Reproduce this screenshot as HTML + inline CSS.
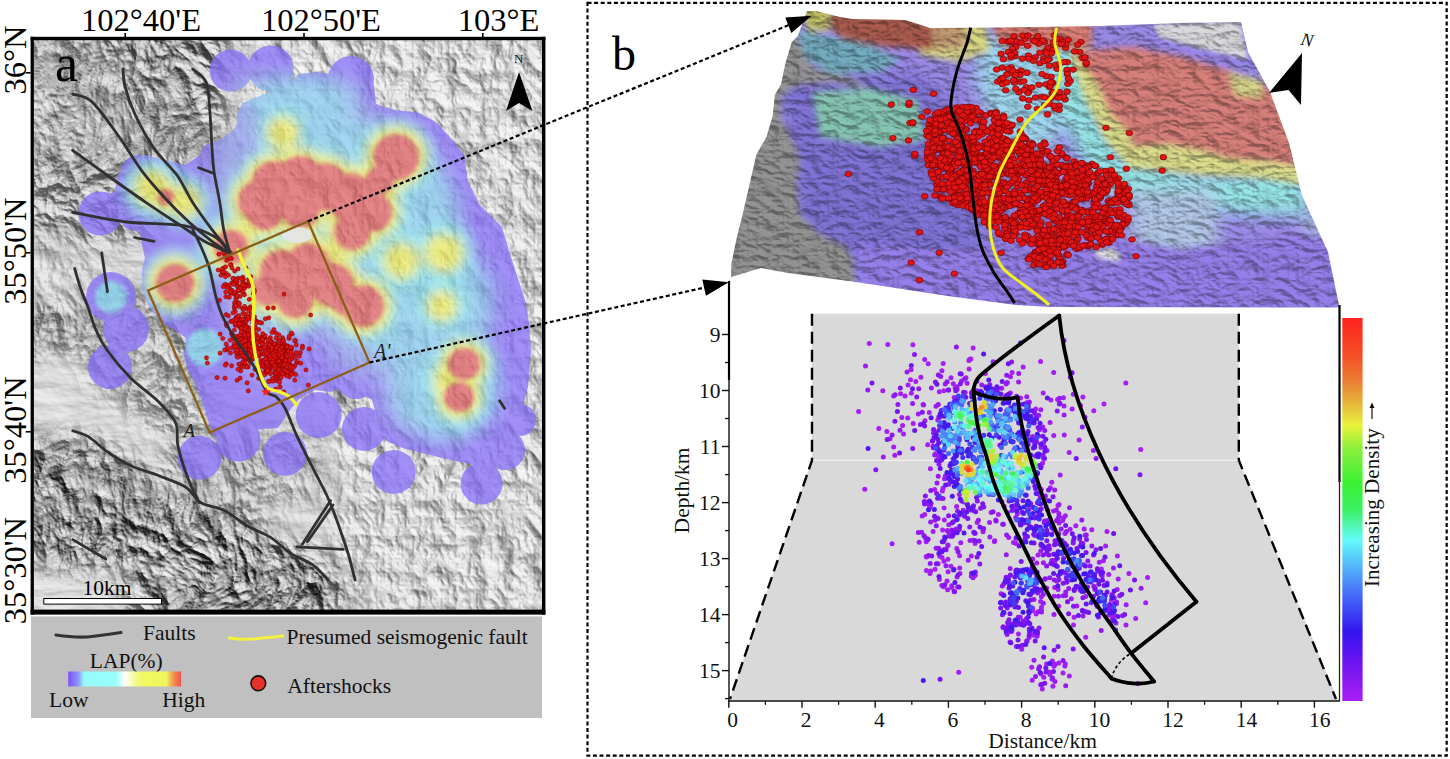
<!DOCTYPE html>
<html><head><meta charset="utf-8"><style>
html,body{margin:0;padding:0;background:#fff;width:1450px;height:759px;overflow:hidden}
svg{display:block}
</style></head><body>
<svg width="1450" height="759" viewBox="0 0 1450 759">
<defs><clipPath id="mapclip"><rect x="34" y="40" width="508" height="570"/></clipPath><filter id="hs" x="0" y="0" width="100%" height="100%" color-interpolation-filters="sRGB">
  <feTurbulence type="turbulence" baseFrequency="0.035 0.028" numOctaves="4" seed="9" result="n"/>
  <feColorMatrix in="n" type="matrix" values="0 0 0 0 0  0 0 0 0 0  0 0 0 0 0  0 0 0 -1.6 1.2" result="inv"/>
  <feDiffuseLighting in="inv" surfaceScale="3.2" diffuseConstant="1.1" lighting-color="#fff" result="l">
    <feDistantLight azimuth="315" elevation="48"/>
  </feDiffuseLighting>
  <feColorMatrix type="matrix" values="0.33 0.33 0.33 0 0  0.33 0.33 0.33 0 0  0.33 0.33 0.33 0 0  0 0 0 0 1"/>
</filter><filter id="hsl" x="0" y="0" width="100%" height="100%" color-interpolation-filters="sRGB">
  <feTurbulence type="fractalNoise" baseFrequency="0.02 0.06" numOctaves="4" seed="11" result="n"/>
  <feDiffuseLighting in="n" surfaceScale="3" diffuseConstant="1.0" lighting-color="#fff" result="l">
    <feDistantLight azimuth="315" elevation="60"/>
  </feDiffuseLighting>
  <feColorMatrix type="matrix" values="0.33 0.33 0.33 0 0  0.33 0.33 0.33 0 0  0.33 0.33 0.33 0 0  0 0 0 0 1"/>
</filter><filter id="b6" x="-30%" y="-30%" width="160%" height="160%"><feGaussianBlur stdDeviation="6"/></filter><filter id="b10" x="-30%" y="-30%" width="160%" height="160%"><feGaussianBlur stdDeviation="10"/></filter><filter id="b20" x="-30%" y="-30%" width="160%" height="160%"><feGaussianBlur stdDeviation="20"/></filter><filter id="b4" x="-30%" y="-30%" width="160%" height="160%"><feGaussianBlur stdDeviation="4"/></filter><filter id="b2" x="-30%" y="-30%" width="160%" height="160%"><feGaussianBlur stdDeviation="2"/></filter><filter id="hsd" x="0" y="0" width="100%" height="100%" color-interpolation-filters="sRGB">
  <feTurbulence type="fractalNoise" baseFrequency="0.008" numOctaves="2" seed="2" result="warp"/>
  <feTurbulence type="turbulence" baseFrequency="0.03 0.022" numOctaves="4" seed="33" result="n"/>
  <feDisplacementMap in="n" in2="warp" scale="60" xChannelSelector="R" yChannelSelector="G" result="d"/>
  <feColorMatrix in="d" type="matrix" values="0 0 0 0 0  0 0 0 0 0  0 0 0 0 0  0 0 0 -1.4 1.0" result="inv"/>
  <feDiffuseLighting in="inv" surfaceScale="6.5" diffuseConstant="1.0" lighting-color="#fff">
    <feDistantLight azimuth="300" elevation="40"/>
  </feDiffuseLighting>
  <feColorMatrix type="matrix" values="0.2833 0.2833 0.2833 0 0.09  0.2833 0.2833 0.2833 0 0.09  0.2833 0.2833 0.2833 0 0.09  0 0 0 0 1"/>
</filter><filter id="b12" x="-30%" y="-30%" width="160%" height="160%"><feGaussianBlur stdDeviation="12"/></filter><mask id="mdark" maskUnits="userSpaceOnUse" x="0" y="0" width="1450" height="759"><rect x="0" y="0" width="1450" height="759" fill="#000"/><g filter="url(#b12)"><polygon points="20.0,20.0 230.0,20.0 230.0,140.0 205.0,200.0 150.0,240.0 100.0,250.0 20.0,250.0" fill="#b0b0b0"/><polygon points="120.0,30.0 215.0,30.0 215.0,120.0 150.0,120.0" fill="#e0e0e0"/><polygon points="84.0,280.0 217.0,280.0 217.0,440.0 150.0,430.0 84.0,380.0" fill="#909090"/><polygon points="20.0,300.0 84.0,300.0 84.0,350.0 20.0,360.0" fill="#b0b0b0"/><polygon points="20.0,440.0 80.0,432.0 140.0,464.0 200.0,494.0 250.0,517.0 300.0,547.0 345.0,572.0 350.0,620.0 20.0,620.0" fill="#fff"/><polygon points="20.0,555.0 130.0,560.0 140.0,620.0 20.0,620.0" fill="#000"/><polygon points="160.0,425.0 320.0,425.0 330.0,500.0 250.0,510.0 170.0,480.0" fill="#909090"/></g></mask><mask id="mmed" maskUnits="userSpaceOnUse" x="0" y="0" width="1450" height="759"><rect x="0" y="0" width="1450" height="759" fill="#000"/><g filter="url(#b12)"><polygon points="230.0,20.0 560.0,20.0 560.0,620.0 330.0,620.0 330.0,430.0 230.0,300.0" fill="#989898"/><polygon points="20.0,250.0 100.0,250.0 100.0,300.0 20.0,300.0" fill="#707070"/></g></mask></defs><g clip-path="url(#mapclip)"><rect x="34" y="40" width="508" height="570" fill="#e4e4e4"/><rect x="34" y="40" width="508" height="570" filter="url(#hsl)" opacity="0.5"/><rect x="34" y="40" width="508" height="570" filter="url(#hs)" mask="url(#mmed)"/><rect x="-6" y="0" width="588" height="650" filter="url(#hsd)" mask="url(#mdark)"/><clipPath id="envclip"><path d="M268.6,92.7 285.0,84.0 300.0,74.0 315.0,72.0 330.0,74.0 345.0,60.0 366.0,66.0 374.0,86.0 376.0,104.0 394.0,110.0 418.0,112.6 436.0,122.0 448.8,135.5 464.0,154.6 468.0,181.0 479.0,204.0 502.0,227.0 510.0,254.0 517.5,277.0 525.0,300.0 529.0,323.0 531.0,350.0 528.0,387.0 518.0,424.0 508.0,455.0 490.0,468.0 460.0,462.0 430.0,455.0 402.0,448.0 385.0,440.0 378.0,420.0 372.0,400.0 360.0,392.0 345.0,387.0 330.0,392.0 315.0,390.0 300.0,398.0 290.0,410.0 278.0,428.0 250.0,430.0 230.0,440.0 215.0,438.0 208.0,420.0 202.0,400.0 196.0,385.0 188.0,370.0 184.0,355.0 186.0,338.0 175.0,330.0 163.0,324.0 150.0,308.0 142.0,290.0 142.0,270.0 145.0,258.0 142.0,245.0 140.0,232.0 125.0,228.0 116.0,215.0 114.0,195.0 118.0,175.0 130.0,160.0 145.0,155.0 165.0,160.0 185.0,165.0 199.0,156.0 205.0,145.0 222.0,139.0 232.7,130.7 237.0,124.0 237.0,114.0 243.0,103.0Z"/><circle cx="100.3" cy="213.4" r="22"/><circle cx="199.7" cy="457.7" r="22"/><circle cx="238.5" cy="439.6" r="22"/><circle cx="285" cy="453.8" r="22"/><circle cx="318.7" cy="415" r="23"/><circle cx="364" cy="429" r="22"/><circle cx="393.7" cy="472" r="22"/><circle cx="481.6" cy="483.5" r="21"/><circle cx="110" cy="367" r="22"/><circle cx="126" cy="329" r="23"/><circle cx="356" cy="379" r="20"/><circle cx="230.6" cy="70.6" r="21"/><circle cx="270.7" cy="68.5" r="23"/><circle cx="351" cy="79" r="23"/><circle cx="505" cy="450" r="20"/><circle cx="520" cy="420" r="16"/><circle cx="111" cy="297" r="25"/><circle cx="140" cy="175" r="20"/><circle cx="115" cy="200" r="8"/></clipPath><g opacity="0.74"><g fill="rgb(135,110,250)"><path d="M268.6,92.7 285.0,84.0 300.0,74.0 315.0,72.0 330.0,74.0 345.0,60.0 366.0,66.0 374.0,86.0 376.0,104.0 394.0,110.0 418.0,112.6 436.0,122.0 448.8,135.5 464.0,154.6 468.0,181.0 479.0,204.0 502.0,227.0 510.0,254.0 517.5,277.0 525.0,300.0 529.0,323.0 531.0,350.0 528.0,387.0 518.0,424.0 508.0,455.0 490.0,468.0 460.0,462.0 430.0,455.0 402.0,448.0 385.0,440.0 378.0,420.0 372.0,400.0 360.0,392.0 345.0,387.0 330.0,392.0 315.0,390.0 300.0,398.0 290.0,410.0 278.0,428.0 250.0,430.0 230.0,440.0 215.0,438.0 208.0,420.0 202.0,400.0 196.0,385.0 188.0,370.0 184.0,355.0 186.0,338.0 175.0,330.0 163.0,324.0 150.0,308.0 142.0,290.0 142.0,270.0 145.0,258.0 142.0,245.0 140.0,232.0 125.0,228.0 116.0,215.0 114.0,195.0 118.0,175.0 130.0,160.0 145.0,155.0 165.0,160.0 185.0,165.0 199.0,156.0 205.0,145.0 222.0,139.0 232.7,130.7 237.0,124.0 237.0,114.0 243.0,103.0Z"/><circle cx="100.3" cy="213.4" r="22"/><circle cx="199.7" cy="457.7" r="22"/><circle cx="238.5" cy="439.6" r="22"/><circle cx="285" cy="453.8" r="22"/><circle cx="318.7" cy="415" r="23"/><circle cx="364" cy="429" r="22"/><circle cx="393.7" cy="472" r="22"/><circle cx="481.6" cy="483.5" r="21"/><circle cx="110" cy="367" r="22"/><circle cx="126" cy="329" r="23"/><circle cx="356" cy="379" r="20"/><circle cx="230.6" cy="70.6" r="21"/><circle cx="270.7" cy="68.5" r="23"/><circle cx="351" cy="79" r="23"/><circle cx="505" cy="450" r="20"/><circle cx="520" cy="420" r="16"/><circle cx="111" cy="297" r="25"/><circle cx="140" cy="175" r="20"/><circle cx="115" cy="200" r="8"/></g><g clip-path="url(#envclip)"><path d="M235.0,75.0 300.0,78.0 360.0,85.0 370.0,110.0 400.0,130.0 430.0,145.0 445.0,170.0 450.0,200.0 460.0,225.0 470.0,250.0 480.0,290.0 485.0,330.0 490.0,380.0 480.0,420.0 460.0,440.0 420.0,435.0 390.0,420.0 380.0,380.0 340.0,370.0 320.0,340.0 300.0,330.0 280.0,320.0 230.0,250.0 215.0,210.0 210.0,150.0 220.0,110.0Z" fill="rgb(150,172,240)" opacity="0.8" filter="url(#b10)"/><ellipse cx="255" cy="320" rx="26" ry="62" transform="rotate(-15 255 320)" fill="rgb(160,185,245)" opacity="0.85" filter="url(#b10)"/><g filter="url(#b10)" fill="rgb(128,234,240)" opacity="0.6"><ellipse cx="300" cy="100" rx="55" ry="25"/><ellipse cx="420" cy="230" rx="40" ry="70"/><ellipse cx="445" cy="390" rx="55" ry="50"/><ellipse cx="400" cy="320" rx="45" ry="45"/><ellipse cx="160" cy="190" rx="30" ry="28"/><ellipse cx="230" cy="240" rx="30" ry="20"/><ellipse cx="300" cy="250" rx="80" ry="30"/><ellipse cx="340" cy="140" rx="40" ry="25"/><ellipse cx="390" cy="200" rx="30" ry="40"/><ellipse cx="470" cy="300" rx="25" ry="40"/></g><g filter="url(#b2)" fill="rgb(128,234,240)" opacity="0.8"><circle cx="111" cy="297" r="16"/><circle cx="205" cy="347.5" r="19"/></g><g filter="url(#b6)"><g fill="rgb(128,234,240)" opacity="0.85"><circle cx="258" cy="201" r="36"/><circle cx="275" cy="185" r="40"/><circle cx="300" cy="180" r="40"/><circle cx="325" cy="187" r="40"/><circle cx="350" cy="197" r="40"/><circle cx="372" cy="212" r="36"/><circle cx="352" cy="232" r="34"/><circle cx="300" cy="208" r="36"/><circle cx="265" cy="212" r="34"/><circle cx="396" cy="157" r="39"/><circle cx="380" cy="180" r="30"/><circle cx="282" cy="272" r="38"/><circle cx="308" cy="265" r="38"/><circle cx="332" cy="285" r="38"/><circle cx="295" cy="300" r="34"/><circle cx="268" cy="290" r="32"/><circle cx="363" cy="306" r="37"/><circle cx="345" cy="300" r="31"/><circle cx="175" cy="283" r="35"/><circle cx="231" cy="247" r="33"/><circle cx="166" cy="197" r="24"/><circle cx="464" cy="364" r="32"/><circle cx="459" cy="397" r="31"/><circle cx="283" cy="133" r="27"/><circle cx="401" cy="261" r="29"/><circle cx="444" cy="253" r="30"/><circle cx="442" cy="306" r="26"/><circle cx="152" cy="188" r="29"/><circle cx="185" cy="202" r="27"/><circle cx="455" cy="380" r="32"/></g><g fill="rgb(238,236,95)"><circle cx="258" cy="201" r="28"/><circle cx="275" cy="185" r="32"/><circle cx="300" cy="180" r="32"/><circle cx="325" cy="187" r="32"/><circle cx="350" cy="197" r="32"/><circle cx="372" cy="212" r="28"/><circle cx="352" cy="232" r="26"/><circle cx="300" cy="208" r="28"/><circle cx="265" cy="212" r="26"/><circle cx="396" cy="157" r="31"/><circle cx="380" cy="180" r="22"/><circle cx="282" cy="272" r="30"/><circle cx="308" cy="265" r="30"/><circle cx="332" cy="285" r="30"/><circle cx="295" cy="300" r="26"/><circle cx="268" cy="290" r="24"/><circle cx="363" cy="306" r="29"/><circle cx="345" cy="300" r="23"/><circle cx="175" cy="283" r="27"/><circle cx="231" cy="247" r="25"/><circle cx="166" cy="197" r="16"/><circle cx="464" cy="364" r="24"/><circle cx="459" cy="397" r="23"/><circle cx="283" cy="133" r="17"/><circle cx="401" cy="261" r="19"/><circle cx="444" cy="253" r="20"/><circle cx="442" cy="306" r="16"/><circle cx="152" cy="188" r="19"/><circle cx="185" cy="202" r="17"/><circle cx="455" cy="380" r="22"/></g></g><g filter="url(#b2)" fill="rgb(224,96,100)"><circle cx="258" cy="201" r="20"/><circle cx="275" cy="185" r="24"/><circle cx="300" cy="180" r="24"/><circle cx="325" cy="187" r="24"/><circle cx="350" cy="197" r="24"/><circle cx="372" cy="212" r="20"/><circle cx="352" cy="232" r="18"/><circle cx="300" cy="208" r="20"/><circle cx="265" cy="212" r="18"/><circle cx="396" cy="157" r="23"/><circle cx="380" cy="180" r="14"/><circle cx="282" cy="272" r="22"/><circle cx="308" cy="265" r="22"/><circle cx="332" cy="285" r="22"/><circle cx="295" cy="300" r="18"/><circle cx="268" cy="290" r="16"/><circle cx="363" cy="306" r="21"/><circle cx="345" cy="300" r="15"/><circle cx="175" cy="283" r="19"/><circle cx="231" cy="247" r="17"/><circle cx="166" cy="197" r="8"/><circle cx="464" cy="364" r="16"/><circle cx="459" cy="397" r="15"/></g></g></g><ellipse cx="297" cy="235" rx="15" ry="8" fill="#e6e6ea" opacity="0.9"/><g fill="#dd1414" stroke="#7a0000" stroke-width="0.5"><circle cx="223.0" cy="273.0" r="2.1"/><circle cx="230.3" cy="252.7" r="2.1"/><circle cx="225.0" cy="255.0" r="2.1"/><circle cx="244.3" cy="287.6" r="2.1"/><circle cx="242.8" cy="277.0" r="2.1"/><circle cx="237.4" cy="282.1" r="2.1"/><circle cx="231.7" cy="290.6" r="2.1"/><circle cx="226.0" cy="284.5" r="2.1"/><circle cx="240.9" cy="286.4" r="2.1"/><circle cx="243.0" cy="319.2" r="2.1"/><circle cx="233.8" cy="278.5" r="2.1"/><circle cx="234.7" cy="279.2" r="2.1"/><circle cx="231.9" cy="282.8" r="2.1"/><circle cx="249.6" cy="283.1" r="2.1"/><circle cx="240.2" cy="296.3" r="2.1"/><circle cx="248.5" cy="279.6" r="2.1"/><circle cx="242.8" cy="323.8" r="2.1"/><circle cx="224.6" cy="284.8" r="2.1"/><circle cx="250.6" cy="318.3" r="2.1"/><circle cx="218.9" cy="254.2" r="2.1"/><circle cx="238.1" cy="278.2" r="2.1"/><circle cx="235.5" cy="294.4" r="2.1"/><circle cx="238.8" cy="290.7" r="2.1"/><circle cx="238.8" cy="306.4" r="2.1"/><circle cx="246.2" cy="284.3" r="2.1"/><circle cx="236.2" cy="298.4" r="2.1"/><circle cx="234.6" cy="271.1" r="2.1"/><circle cx="237.6" cy="303.0" r="2.1"/><circle cx="233.9" cy="282.5" r="2.1"/><circle cx="237.3" cy="286.1" r="2.1"/><circle cx="227.4" cy="259.3" r="2.1"/><circle cx="248.6" cy="286.2" r="2.1"/><circle cx="234.5" cy="302.9" r="2.1"/><circle cx="238.1" cy="286.6" r="2.1"/><circle cx="253.0" cy="317.2" r="2.1"/><circle cx="246.7" cy="308.6" r="2.1"/><circle cx="245.9" cy="267.9" r="2.1"/><circle cx="235.9" cy="299.2" r="2.1"/><circle cx="223.4" cy="286.7" r="2.1"/><circle cx="249.3" cy="299.3" r="2.1"/><circle cx="231.5" cy="258.6" r="2.1"/><circle cx="254.2" cy="290.0" r="2.1"/><circle cx="243.3" cy="292.5" r="2.1"/><circle cx="218.2" cy="270.0" r="2.1"/><circle cx="236.4" cy="317.0" r="2.1"/><circle cx="229.4" cy="285.2" r="2.1"/><circle cx="236.8" cy="295.7" r="2.1"/><circle cx="240.5" cy="289.8" r="2.1"/><circle cx="213.6" cy="244.6" r="2.1"/><circle cx="238.3" cy="290.5" r="2.1"/><circle cx="243.8" cy="283.0" r="2.1"/><circle cx="233.7" cy="294.1" r="2.1"/><circle cx="221.0" cy="275.3" r="2.1"/><circle cx="230.5" cy="293.2" r="2.1"/><circle cx="253.4" cy="293.6" r="2.1"/><circle cx="244.7" cy="288.1" r="2.1"/><circle cx="235.9" cy="280.0" r="2.1"/><circle cx="223.3" cy="252.8" r="2.1"/><circle cx="222.3" cy="271.0" r="2.1"/><circle cx="244.5" cy="294.8" r="2.1"/><circle cx="250.5" cy="306.9" r="2.1"/><circle cx="238.6" cy="302.8" r="2.1"/><circle cx="249.0" cy="282.8" r="2.1"/><circle cx="242.5" cy="282.4" r="2.1"/><circle cx="225.7" cy="292.1" r="2.1"/><circle cx="231.0" cy="290.3" r="2.1"/><circle cx="234.3" cy="292.5" r="2.1"/><circle cx="230.9" cy="321.3" r="2.1"/><circle cx="243.5" cy="279.2" r="2.1"/><circle cx="229.9" cy="288.9" r="2.1"/><circle cx="242.4" cy="291.7" r="2.1"/><circle cx="230.0" cy="257.9" r="2.1"/><circle cx="234.4" cy="308.6" r="2.1"/><circle cx="230.9" cy="264.7" r="2.1"/><circle cx="223.8" cy="268.0" r="2.1"/><circle cx="234.4" cy="306.0" r="2.1"/><circle cx="239.5" cy="303.7" r="2.1"/><circle cx="230.5" cy="264.8" r="2.1"/><circle cx="241.9" cy="321.6" r="2.1"/><circle cx="226.1" cy="273.3" r="2.1"/><circle cx="244.8" cy="285.7" r="2.1"/><circle cx="242.6" cy="308.4" r="2.1"/><circle cx="225.9" cy="296.8" r="2.1"/><circle cx="222.5" cy="268.7" r="2.1"/><circle cx="235.7" cy="305.5" r="2.1"/><circle cx="226.7" cy="260.5" r="2.1"/><circle cx="235.3" cy="311.6" r="2.1"/><circle cx="238.0" cy="268.9" r="2.1"/><circle cx="250.9" cy="276.5" r="2.1"/><circle cx="227.2" cy="287.5" r="2.1"/><circle cx="249.7" cy="308.6" r="2.1"/><circle cx="241.1" cy="278.6" r="2.1"/><circle cx="225.6" cy="266.9" r="2.1"/><circle cx="232.8" cy="278.4" r="2.1"/><circle cx="231.9" cy="267.9" r="2.1"/><circle cx="228.5" cy="275.2" r="2.1"/><circle cx="222.4" cy="272.2" r="2.1"/><circle cx="223.7" cy="271.8" r="2.1"/><circle cx="240.3" cy="287.3" r="2.1"/><circle cx="229.3" cy="297.3" r="2.1"/><circle cx="244.6" cy="307.8" r="2.1"/><circle cx="233.7" cy="284.3" r="2.1"/><circle cx="231.9" cy="290.3" r="2.1"/><circle cx="240.2" cy="288.5" r="2.1"/><circle cx="236.8" cy="295.8" r="2.1"/><circle cx="237.7" cy="290.4" r="2.1"/><circle cx="230.5" cy="292.0" r="2.1"/><circle cx="225.4" cy="276.7" r="2.1"/><circle cx="246.7" cy="317.5" r="2.1"/><circle cx="242.8" cy="285.0" r="2.1"/><circle cx="244.4" cy="328.1" r="2.1"/><circle cx="258.7" cy="329.5" r="2.1"/><circle cx="244.3" cy="323.2" r="2.1"/><circle cx="243.0" cy="320.2" r="2.1"/><circle cx="238.1" cy="320.5" r="2.1"/><circle cx="226.2" cy="314.6" r="2.1"/><circle cx="249.9" cy="316.3" r="2.1"/><circle cx="251.0" cy="314.1" r="2.1"/><circle cx="242.6" cy="324.4" r="2.1"/><circle cx="236.4" cy="317.6" r="2.1"/><circle cx="268.8" cy="317.8" r="2.1"/><circle cx="239.5" cy="318.5" r="2.1"/><circle cx="246.3" cy="321.8" r="2.1"/><circle cx="255.1" cy="326.9" r="2.1"/><circle cx="242.3" cy="319.8" r="2.1"/><circle cx="233.0" cy="312.8" r="2.1"/><circle cx="239.2" cy="326.5" r="2.1"/><circle cx="247.1" cy="326.9" r="2.1"/><circle cx="254.7" cy="321.0" r="2.1"/><circle cx="265.3" cy="318.8" r="2.1"/><circle cx="240.2" cy="319.4" r="2.1"/><circle cx="256.5" cy="321.2" r="2.1"/><circle cx="239.2" cy="324.7" r="2.1"/><circle cx="256.4" cy="321.3" r="2.1"/><circle cx="243.7" cy="328.7" r="2.1"/><circle cx="255.0" cy="327.8" r="2.1"/><circle cx="239.0" cy="323.7" r="2.1"/><circle cx="249.3" cy="311.0" r="2.1"/><circle cx="257.1" cy="322.6" r="2.1"/><circle cx="242.9" cy="335.9" r="2.1"/><circle cx="247.3" cy="317.6" r="2.1"/><circle cx="245.4" cy="325.5" r="2.1"/><circle cx="253.5" cy="321.6" r="2.1"/><circle cx="238.1" cy="317.7" r="2.1"/><circle cx="238.5" cy="315.6" r="2.1"/><circle cx="245.8" cy="319.0" r="2.1"/><circle cx="246.5" cy="316.9" r="2.1"/><circle cx="238.0" cy="320.9" r="2.1"/><circle cx="242.8" cy="329.1" r="2.1"/><circle cx="237.7" cy="323.3" r="2.1"/><circle cx="245.6" cy="314.0" r="2.1"/><circle cx="252.7" cy="323.0" r="2.1"/><circle cx="226.7" cy="325.7" r="2.1"/><circle cx="254.6" cy="317.1" r="2.1"/><circle cx="261.6" cy="323.0" r="2.1"/><circle cx="235.4" cy="325.4" r="2.1"/><circle cx="242.7" cy="313.8" r="2.1"/><circle cx="226.3" cy="323.5" r="2.1"/><circle cx="239.2" cy="325.9" r="2.1"/><circle cx="249.6" cy="318.8" r="2.1"/><circle cx="241.1" cy="366.6" r="2.1"/><circle cx="261.7" cy="354.2" r="2.1"/><circle cx="242.7" cy="333.0" r="2.1"/><circle cx="242.4" cy="365.4" r="2.1"/><circle cx="250.2" cy="341.5" r="2.1"/><circle cx="234.7" cy="347.0" r="2.1"/><circle cx="237.9" cy="345.2" r="2.1"/><circle cx="252.8" cy="358.1" r="2.1"/><circle cx="247.3" cy="340.8" r="2.1"/><circle cx="248.1" cy="367.0" r="2.1"/><circle cx="249.4" cy="327.9" r="2.1"/><circle cx="260.2" cy="348.1" r="2.1"/><circle cx="277.9" cy="339.3" r="2.1"/><circle cx="245.1" cy="341.4" r="2.1"/><circle cx="249.5" cy="337.9" r="2.1"/><circle cx="232.5" cy="321.5" r="2.1"/><circle cx="244.9" cy="338.7" r="2.1"/><circle cx="240.7" cy="370.9" r="2.1"/><circle cx="253.3" cy="358.3" r="2.1"/><circle cx="241.4" cy="348.7" r="2.1"/><circle cx="244.1" cy="342.5" r="2.1"/><circle cx="252.8" cy="352.4" r="2.1"/><circle cx="248.8" cy="346.8" r="2.1"/><circle cx="232.8" cy="336.0" r="2.1"/><circle cx="249.5" cy="340.5" r="2.1"/><circle cx="238.9" cy="349.3" r="2.1"/><circle cx="237.6" cy="336.8" r="2.1"/><circle cx="254.1" cy="340.6" r="2.1"/><circle cx="259.1" cy="351.4" r="2.1"/><circle cx="253.4" cy="358.8" r="2.1"/><circle cx="226.2" cy="344.0" r="2.1"/><circle cx="234.2" cy="339.3" r="2.1"/><circle cx="245.1" cy="360.1" r="2.1"/><circle cx="245.6" cy="365.0" r="2.1"/><circle cx="241.2" cy="344.3" r="2.1"/><circle cx="246.8" cy="356.5" r="2.1"/><circle cx="245.5" cy="337.5" r="2.1"/><circle cx="243.0" cy="328.0" r="2.1"/><circle cx="257.5" cy="354.1" r="2.1"/><circle cx="249.9" cy="348.4" r="2.1"/><circle cx="240.5" cy="340.1" r="2.1"/><circle cx="253.4" cy="335.4" r="2.1"/><circle cx="238.9" cy="364.2" r="2.1"/><circle cx="260.2" cy="348.5" r="2.1"/><circle cx="250.9" cy="347.3" r="2.1"/><circle cx="259.0" cy="339.6" r="2.1"/><circle cx="246.8" cy="350.9" r="2.1"/><circle cx="259.1" cy="342.0" r="2.1"/><circle cx="248.1" cy="339.1" r="2.1"/><circle cx="240.0" cy="337.1" r="2.1"/><circle cx="246.8" cy="355.8" r="2.1"/><circle cx="239.7" cy="337.7" r="2.1"/><circle cx="242.3" cy="349.3" r="2.1"/><circle cx="252.3" cy="329.9" r="2.1"/><circle cx="249.2" cy="333.0" r="2.1"/><circle cx="252.5" cy="333.4" r="2.1"/><circle cx="236.2" cy="336.4" r="2.1"/><circle cx="245.4" cy="333.0" r="2.1"/><circle cx="247.9" cy="346.8" r="2.1"/><circle cx="246.8" cy="348.3" r="2.1"/><circle cx="253.9" cy="336.2" r="2.1"/><circle cx="246.0" cy="344.6" r="2.1"/><circle cx="227.4" cy="349.7" r="2.1"/><circle cx="239.0" cy="336.3" r="2.1"/><circle cx="242.0" cy="346.2" r="2.1"/><circle cx="249.0" cy="350.8" r="2.1"/><circle cx="239.7" cy="353.4" r="2.1"/><circle cx="249.8" cy="340.3" r="2.1"/><circle cx="245.8" cy="354.7" r="2.1"/><circle cx="249.9" cy="353.4" r="2.1"/><circle cx="247.0" cy="358.7" r="2.1"/><circle cx="266.0" cy="350.5" r="2.1"/><circle cx="231.6" cy="365.8" r="2.1"/><circle cx="240.9" cy="328.4" r="2.1"/><circle cx="224.6" cy="350.1" r="2.1"/><circle cx="255.9" cy="357.0" r="2.1"/><circle cx="242.6" cy="362.4" r="2.1"/><circle cx="245.3" cy="337.9" r="2.1"/><circle cx="246.6" cy="347.6" r="2.1"/><circle cx="246.4" cy="349.8" r="2.1"/><circle cx="226.3" cy="363.8" r="2.1"/><circle cx="240.9" cy="352.8" r="2.1"/><circle cx="238.8" cy="347.0" r="2.1"/><circle cx="244.4" cy="326.0" r="2.1"/><circle cx="249.5" cy="352.6" r="2.1"/><circle cx="236.0" cy="319.8" r="2.1"/><circle cx="240.2" cy="334.9" r="2.1"/><circle cx="247.0" cy="344.8" r="2.1"/><circle cx="260.5" cy="352.8" r="2.1"/><circle cx="243.7" cy="346.9" r="2.1"/><circle cx="220.1" cy="334.1" r="2.1"/><circle cx="237.7" cy="343.7" r="2.1"/><circle cx="248.9" cy="347.6" r="2.1"/><circle cx="254.4" cy="336.7" r="2.1"/><circle cx="248.8" cy="343.4" r="2.1"/><circle cx="246.1" cy="348.9" r="2.1"/><circle cx="243.5" cy="347.5" r="2.1"/><circle cx="245.7" cy="357.3" r="2.1"/><circle cx="245.0" cy="348.7" r="2.1"/><circle cx="269.4" cy="352.5" r="2.1"/><circle cx="250.6" cy="357.9" r="2.1"/><circle cx="236.9" cy="353.5" r="2.1"/><circle cx="252.7" cy="350.3" r="2.1"/><circle cx="254.8" cy="354.4" r="2.1"/><circle cx="256.7" cy="337.3" r="2.1"/><circle cx="249.9" cy="338.5" r="2.1"/><circle cx="257.1" cy="346.6" r="2.1"/><circle cx="234.3" cy="346.3" r="2.1"/><circle cx="237.0" cy="356.8" r="2.1"/><circle cx="243.0" cy="318.8" r="2.1"/><circle cx="242.5" cy="357.3" r="2.1"/><circle cx="249.0" cy="337.4" r="2.1"/><circle cx="251.8" cy="351.9" r="2.1"/><circle cx="259.2" cy="355.8" r="2.1"/><circle cx="249.3" cy="335.6" r="2.1"/><circle cx="248.6" cy="348.6" r="2.1"/><circle cx="246.1" cy="350.0" r="2.1"/><circle cx="235.4" cy="351.8" r="2.1"/><circle cx="246.1" cy="349.3" r="2.1"/><circle cx="245.1" cy="341.4" r="2.1"/><circle cx="248.3" cy="354.4" r="2.1"/><circle cx="243.1" cy="348.9" r="2.1"/><circle cx="239.1" cy="350.0" r="2.1"/><circle cx="246.2" cy="329.7" r="2.1"/><circle cx="256.4" cy="334.4" r="2.1"/><circle cx="246.7" cy="329.3" r="2.1"/><circle cx="230.5" cy="352.9" r="2.1"/><circle cx="233.5" cy="320.3" r="2.1"/><circle cx="244.1" cy="326.5" r="2.1"/><circle cx="244.2" cy="366.8" r="2.1"/><circle cx="242.5" cy="349.3" r="2.1"/><circle cx="251.0" cy="347.9" r="2.1"/><circle cx="244.9" cy="363.0" r="2.1"/><circle cx="245.3" cy="349.2" r="2.1"/><circle cx="247.0" cy="329.7" r="2.1"/><circle cx="248.9" cy="345.7" r="2.1"/><circle cx="251.8" cy="353.2" r="2.1"/><circle cx="260.0" cy="322.4" r="2.1"/><circle cx="241.0" cy="339.4" r="2.1"/><circle cx="238.3" cy="349.9" r="2.1"/><circle cx="245.3" cy="346.7" r="2.1"/><circle cx="231.5" cy="333.6" r="2.1"/><circle cx="245.4" cy="339.7" r="2.1"/><circle cx="240.6" cy="343.6" r="2.1"/><circle cx="243.5" cy="332.4" r="2.1"/><circle cx="260.8" cy="337.0" r="2.1"/><circle cx="251.8" cy="352.1" r="2.1"/><circle cx="254.6" cy="338.2" r="2.1"/><circle cx="237.1" cy="350.2" r="2.1"/><circle cx="248.3" cy="317.0" r="2.1"/><circle cx="222.7" cy="338.5" r="2.1"/><circle cx="242.5" cy="341.8" r="2.1"/><circle cx="249.7" cy="333.5" r="2.1"/><circle cx="269.5" cy="355.7" r="2.1"/><circle cx="257.6" cy="348.2" r="2.1"/><circle cx="227.5" cy="347.8" r="2.1"/><circle cx="241.1" cy="350.2" r="2.1"/><circle cx="245.0" cy="352.9" r="2.1"/><circle cx="238.2" cy="340.7" r="2.1"/><circle cx="246.0" cy="336.1" r="2.1"/><circle cx="241.9" cy="352.3" r="2.1"/><circle cx="263.1" cy="342.5" r="2.1"/><circle cx="253.3" cy="331.5" r="2.1"/><circle cx="241.9" cy="348.9" r="2.1"/><circle cx="251.1" cy="332.9" r="2.1"/><circle cx="251.3" cy="346.7" r="2.1"/><circle cx="257.6" cy="356.1" r="2.1"/><circle cx="250.9" cy="340.3" r="2.1"/><circle cx="248.3" cy="334.8" r="2.1"/><circle cx="238.7" cy="323.2" r="2.1"/><circle cx="234.4" cy="330.0" r="2.1"/><circle cx="245.1" cy="346.2" r="2.1"/><circle cx="234.1" cy="343.8" r="2.1"/><circle cx="249.6" cy="355.9" r="2.1"/><circle cx="245.1" cy="347.6" r="2.1"/><circle cx="242.6" cy="355.9" r="2.1"/><circle cx="232.1" cy="347.8" r="2.1"/><circle cx="225.4" cy="365.2" r="2.1"/><circle cx="254.2" cy="320.0" r="2.1"/><circle cx="241.3" cy="328.3" r="2.1"/><circle cx="230.3" cy="340.1" r="2.1"/><circle cx="238.1" cy="357.2" r="2.1"/><circle cx="241.3" cy="331.8" r="2.1"/><circle cx="245.2" cy="349.7" r="2.1"/><circle cx="253.2" cy="350.9" r="2.1"/><circle cx="232.7" cy="335.2" r="2.1"/><circle cx="244.3" cy="335.0" r="2.1"/><circle cx="252.5" cy="340.9" r="2.1"/><circle cx="245.3" cy="340.5" r="2.1"/><circle cx="246.3" cy="327.1" r="2.1"/><circle cx="264.5" cy="338.2" r="2.1"/><circle cx="239.4" cy="323.8" r="2.1"/><circle cx="245.1" cy="328.6" r="2.1"/><circle cx="248.8" cy="359.0" r="2.1"/><circle cx="251.3" cy="339.6" r="2.1"/><circle cx="257.1" cy="342.6" r="2.1"/><circle cx="245.5" cy="345.6" r="2.1"/><circle cx="241.7" cy="349.8" r="2.1"/><circle cx="235.0" cy="323.9" r="2.1"/><circle cx="256.5" cy="336.1" r="2.1"/><circle cx="274.0" cy="363.8" r="2.1"/><circle cx="272.8" cy="345.9" r="2.1"/><circle cx="275.7" cy="348.7" r="2.1"/><circle cx="283.8" cy="354.6" r="2.1"/><circle cx="275.0" cy="368.9" r="2.1"/><circle cx="261.1" cy="342.2" r="2.1"/><circle cx="285.7" cy="374.8" r="2.1"/><circle cx="278.8" cy="351.5" r="2.1"/><circle cx="291.1" cy="365.9" r="2.1"/><circle cx="288.9" cy="338.4" r="2.1"/><circle cx="276.4" cy="347.7" r="2.1"/><circle cx="266.0" cy="366.7" r="2.1"/><circle cx="285.7" cy="354.3" r="2.1"/><circle cx="275.1" cy="376.1" r="2.1"/><circle cx="284.9" cy="358.4" r="2.1"/><circle cx="283.4" cy="361.1" r="2.1"/><circle cx="264.2" cy="353.7" r="2.1"/><circle cx="280.9" cy="367.1" r="2.1"/><circle cx="264.9" cy="350.3" r="2.1"/><circle cx="271.5" cy="342.0" r="2.1"/><circle cx="289.7" cy="365.2" r="2.1"/><circle cx="292.0" cy="334.0" r="2.1"/><circle cx="269.1" cy="381.3" r="2.1"/><circle cx="262.6" cy="338.3" r="2.1"/><circle cx="280.2" cy="378.4" r="2.1"/><circle cx="284.8" cy="348.5" r="2.1"/><circle cx="283.8" cy="364.7" r="2.1"/><circle cx="280.7" cy="364.4" r="2.1"/><circle cx="286.8" cy="373.5" r="2.1"/><circle cx="292.6" cy="372.4" r="2.1"/><circle cx="276.2" cy="338.0" r="2.1"/><circle cx="283.8" cy="342.1" r="2.1"/><circle cx="302.5" cy="346.2" r="2.1"/><circle cx="257.9" cy="338.0" r="2.1"/><circle cx="282.1" cy="363.4" r="2.1"/><circle cx="284.9" cy="363.2" r="2.1"/><circle cx="269.4" cy="369.4" r="2.1"/><circle cx="270.3" cy="342.1" r="2.1"/><circle cx="287.7" cy="366.1" r="2.1"/><circle cx="267.7" cy="356.9" r="2.1"/><circle cx="289.0" cy="370.9" r="2.1"/><circle cx="266.2" cy="372.9" r="2.1"/><circle cx="249.8" cy="360.9" r="2.1"/><circle cx="282.0" cy="358.4" r="2.1"/><circle cx="279.1" cy="340.9" r="2.1"/><circle cx="276.4" cy="365.7" r="2.1"/><circle cx="267.8" cy="361.5" r="2.1"/><circle cx="276.0" cy="333.2" r="2.1"/><circle cx="271.3" cy="366.7" r="2.1"/><circle cx="261.0" cy="360.1" r="2.1"/><circle cx="281.5" cy="344.8" r="2.1"/><circle cx="275.2" cy="370.4" r="2.1"/><circle cx="285.7" cy="348.1" r="2.1"/><circle cx="288.9" cy="363.9" r="2.1"/><circle cx="279.2" cy="377.7" r="2.1"/><circle cx="285.8" cy="364.2" r="2.1"/><circle cx="288.3" cy="367.8" r="2.1"/><circle cx="291.7" cy="358.6" r="2.1"/><circle cx="258.6" cy="378.3" r="2.1"/><circle cx="286.6" cy="366.1" r="2.1"/><circle cx="278.4" cy="358.9" r="2.1"/><circle cx="279.0" cy="348.7" r="2.1"/><circle cx="286.3" cy="360.9" r="2.1"/><circle cx="267.6" cy="363.1" r="2.1"/><circle cx="274.4" cy="359.6" r="2.1"/><circle cx="283.8" cy="391.8" r="2.1"/><circle cx="266.4" cy="364.8" r="2.1"/><circle cx="285.7" cy="365.0" r="2.1"/><circle cx="294.1" cy="354.9" r="2.1"/><circle cx="274.4" cy="359.8" r="2.1"/><circle cx="263.1" cy="373.0" r="2.1"/><circle cx="264.5" cy="366.4" r="2.1"/><circle cx="290.9" cy="350.1" r="2.1"/><circle cx="276.0" cy="357.5" r="2.1"/><circle cx="296.6" cy="363.1" r="2.1"/><circle cx="258.8" cy="372.7" r="2.1"/><circle cx="289.2" cy="336.3" r="2.1"/><circle cx="248.3" cy="390.9" r="2.1"/><circle cx="278.9" cy="334.7" r="2.1"/><circle cx="289.4" cy="376.8" r="2.1"/><circle cx="252.0" cy="375.1" r="2.1"/><circle cx="285.7" cy="359.7" r="2.1"/><circle cx="270.3" cy="364.5" r="2.1"/><circle cx="269.1" cy="361.9" r="2.1"/><circle cx="275.2" cy="354.7" r="2.1"/><circle cx="283.9" cy="371.6" r="2.1"/><circle cx="287.6" cy="365.3" r="2.1"/><circle cx="296.3" cy="345.0" r="2.1"/><circle cx="278.7" cy="362.2" r="2.1"/><circle cx="291.2" cy="333.1" r="2.1"/><circle cx="273.2" cy="356.2" r="2.1"/><circle cx="280.1" cy="386.9" r="2.1"/><circle cx="280.6" cy="358.8" r="2.1"/><circle cx="282.6" cy="371.7" r="2.1"/><circle cx="276.1" cy="380.0" r="2.1"/><circle cx="264.7" cy="374.8" r="2.1"/><circle cx="285.7" cy="371.8" r="2.1"/><circle cx="294.9" cy="357.1" r="2.1"/><circle cx="282.5" cy="363.1" r="2.1"/><circle cx="271.4" cy="350.9" r="2.1"/><circle cx="269.5" cy="370.0" r="2.1"/><circle cx="253.1" cy="344.7" r="2.1"/><circle cx="278.8" cy="375.5" r="2.1"/><circle cx="276.9" cy="375.0" r="2.1"/><circle cx="277.3" cy="353.6" r="2.1"/><circle cx="260.9" cy="362.2" r="2.1"/><circle cx="296.9" cy="361.1" r="2.1"/><circle cx="266.6" cy="366.9" r="2.1"/><circle cx="263.0" cy="346.4" r="2.1"/><circle cx="290.2" cy="364.9" r="2.1"/><circle cx="288.5" cy="362.8" r="2.1"/><circle cx="276.7" cy="362.1" r="2.1"/><circle cx="274.4" cy="372.5" r="2.1"/><circle cx="263.9" cy="337.4" r="2.1"/><circle cx="268.7" cy="370.7" r="2.1"/><circle cx="272.1" cy="332.5" r="2.1"/><circle cx="309.1" cy="348.9" r="2.1"/><circle cx="275.9" cy="366.9" r="2.1"/><circle cx="282.0" cy="358.0" r="2.1"/><circle cx="261.0" cy="366.2" r="2.1"/><circle cx="267.3" cy="357.9" r="2.1"/><circle cx="286.3" cy="355.4" r="2.1"/><circle cx="258.4" cy="352.8" r="2.1"/><circle cx="284.6" cy="368.5" r="2.1"/><circle cx="263.8" cy="360.6" r="2.1"/><circle cx="281.2" cy="372.7" r="2.1"/><circle cx="282.4" cy="361.9" r="2.1"/><circle cx="274.6" cy="365.6" r="2.1"/><circle cx="286.4" cy="358.1" r="2.1"/><circle cx="274.9" cy="380.7" r="2.1"/><circle cx="277.5" cy="350.7" r="2.1"/><circle cx="285.4" cy="345.2" r="2.1"/><circle cx="266.2" cy="370.9" r="2.1"/><circle cx="278.2" cy="369.4" r="2.1"/><circle cx="286.4" cy="351.0" r="2.1"/><circle cx="283.5" cy="355.5" r="2.1"/><circle cx="280.3" cy="363.0" r="2.1"/><circle cx="277.1" cy="344.6" r="2.1"/><circle cx="281.3" cy="360.2" r="2.1"/><circle cx="283.8" cy="347.5" r="2.1"/><circle cx="280.2" cy="357.5" r="2.1"/><circle cx="273.3" cy="356.8" r="2.1"/><circle cx="275.3" cy="343.8" r="2.1"/><circle cx="272.1" cy="354.5" r="2.1"/><circle cx="283.1" cy="358.2" r="2.1"/><circle cx="293.4" cy="367.1" r="2.1"/><circle cx="281.4" cy="362.5" r="2.1"/><circle cx="262.6" cy="364.3" r="2.1"/><circle cx="291.7" cy="348.0" r="2.1"/><circle cx="292.3" cy="367.3" r="2.1"/><circle cx="281.1" cy="354.9" r="2.1"/><circle cx="278.2" cy="350.7" r="2.1"/><circle cx="277.8" cy="360.6" r="2.1"/><circle cx="278.7" cy="345.6" r="2.1"/><circle cx="288.1" cy="352.2" r="2.1"/><circle cx="282.3" cy="366.9" r="2.1"/><circle cx="275.8" cy="389.0" r="2.1"/><circle cx="279.3" cy="365.0" r="2.1"/><circle cx="275.3" cy="363.9" r="2.1"/><circle cx="264.3" cy="367.6" r="2.1"/><circle cx="274.0" cy="354.0" r="2.1"/><circle cx="286.2" cy="370.7" r="2.1"/><circle cx="273.4" cy="347.9" r="2.1"/><circle cx="256.3" cy="348.2" r="2.1"/><circle cx="283.3" cy="367.5" r="2.1"/><circle cx="264.4" cy="360.6" r="2.1"/><circle cx="289.3" cy="351.0" r="2.1"/><circle cx="272.0" cy="349.3" r="2.1"/><circle cx="282.5" cy="337.7" r="2.1"/><circle cx="276.6" cy="365.5" r="2.1"/><circle cx="277.4" cy="371.3" r="2.1"/><circle cx="284.6" cy="354.0" r="2.1"/><circle cx="267.2" cy="347.5" r="2.1"/><circle cx="283.3" cy="358.4" r="2.1"/><circle cx="279.2" cy="349.2" r="2.1"/><circle cx="290.4" cy="370.2" r="2.1"/><circle cx="286.1" cy="346.8" r="2.1"/><circle cx="306.0" cy="369.9" r="2.1"/><circle cx="266.3" cy="371.4" r="2.1"/><circle cx="276.6" cy="350.8" r="2.1"/><circle cx="269.8" cy="365.8" r="2.1"/><circle cx="281.3" cy="362.5" r="2.1"/><circle cx="275.7" cy="347.9" r="2.1"/><circle cx="280.7" cy="356.8" r="2.1"/><circle cx="275.8" cy="367.2" r="2.1"/><circle cx="296.2" cy="352.6" r="2.1"/><circle cx="288.4" cy="351.4" r="2.1"/><circle cx="287.1" cy="367.6" r="2.1"/><circle cx="278.4" cy="362.8" r="2.1"/><circle cx="269.6" cy="356.1" r="2.1"/><circle cx="288.3" cy="369.0" r="2.1"/><circle cx="302.3" cy="348.2" r="2.1"/><circle cx="273.0" cy="361.2" r="2.1"/><circle cx="278.6" cy="354.1" r="2.1"/><circle cx="273.5" cy="358.8" r="2.1"/><circle cx="291.7" cy="358.8" r="2.1"/><circle cx="269.9" cy="363.7" r="2.1"/><circle cx="249.9" cy="349.9" r="2.1"/><circle cx="271.2" cy="363.6" r="2.1"/><circle cx="253.5" cy="357.5" r="2.1"/><circle cx="266.5" cy="371.5" r="2.1"/><circle cx="286.5" cy="354.8" r="2.1"/><circle cx="283.0" cy="346.3" r="2.1"/><circle cx="280.3" cy="363.1" r="2.1"/><circle cx="289.4" cy="355.0" r="2.1"/><circle cx="255.0" cy="369.4" r="2.1"/><circle cx="266.4" cy="353.7" r="2.1"/><circle cx="274.1" cy="379.4" r="2.1"/><circle cx="277.5" cy="373.5" r="2.1"/><circle cx="278.8" cy="343.7" r="2.1"/><circle cx="282.9" cy="366.0" r="2.1"/><circle cx="272.0" cy="341.8" r="2.1"/><circle cx="308.4" cy="385.0" r="2.1"/><circle cx="282.5" cy="365.4" r="2.1"/><circle cx="288.1" cy="367.0" r="2.1"/><circle cx="262.1" cy="343.8" r="2.1"/><circle cx="286.8" cy="375.9" r="2.1"/><circle cx="289.4" cy="369.7" r="2.1"/><circle cx="277.9" cy="371.3" r="2.1"/><circle cx="294.6" cy="366.2" r="2.1"/><circle cx="291.4" cy="374.2" r="2.1"/><circle cx="270.4" cy="373.7" r="2.1"/><circle cx="269.8" cy="349.3" r="2.1"/><circle cx="295.3" cy="340.8" r="2.1"/><circle cx="276.0" cy="370.6" r="2.1"/><circle cx="282.2" cy="355.5" r="2.1"/><circle cx="268.0" cy="366.0" r="2.1"/><circle cx="283.7" cy="359.1" r="2.1"/><circle cx="267.6" cy="343.3" r="2.1"/><circle cx="277.9" cy="359.5" r="2.1"/><circle cx="286.9" cy="356.4" r="2.1"/><circle cx="287.8" cy="345.9" r="2.1"/><circle cx="259.6" cy="370.9" r="2.1"/><circle cx="273.5" cy="350.2" r="2.1"/><circle cx="276.5" cy="345.9" r="2.1"/><circle cx="274.4" cy="343.9" r="2.1"/><circle cx="279.8" cy="353.2" r="2.1"/><circle cx="277.5" cy="360.0" r="2.1"/><circle cx="282.8" cy="340.1" r="2.1"/><circle cx="279.7" cy="357.0" r="2.1"/><circle cx="265.8" cy="357.0" r="2.1"/><circle cx="283.4" cy="365.5" r="2.1"/><circle cx="299.2" cy="356.2" r="2.1"/><circle cx="279.5" cy="382.5" r="2.1"/><circle cx="271.7" cy="350.4" r="2.1"/><circle cx="273.1" cy="353.2" r="2.1"/><circle cx="277.8" cy="361.7" r="2.1"/><circle cx="270.0" cy="346.8" r="2.1"/><circle cx="277.5" cy="345.8" r="2.1"/><circle cx="269.4" cy="364.1" r="2.1"/><circle cx="277.0" cy="348.5" r="2.1"/><circle cx="262.8" cy="348.5" r="2.1"/><circle cx="262.3" cy="366.2" r="2.1"/><circle cx="285.9" cy="363.5" r="2.1"/><circle cx="281.4" cy="354.3" r="2.1"/><circle cx="279.8" cy="360.7" r="2.1"/><circle cx="278.5" cy="354.3" r="2.1"/><circle cx="266.6" cy="363.4" r="2.1"/><circle cx="282.1" cy="347.1" r="2.1"/><circle cx="275.6" cy="359.6" r="2.1"/><circle cx="283.3" cy="340.3" r="2.1"/><circle cx="263.1" cy="344.0" r="2.1"/><circle cx="264.8" cy="347.5" r="2.1"/><circle cx="287.0" cy="346.6" r="2.1"/><circle cx="300.7" cy="363.2" r="2.1"/><circle cx="285.4" cy="359.5" r="2.1"/><circle cx="287.2" cy="364.4" r="2.1"/><circle cx="286.5" cy="366.8" r="2.1"/><circle cx="284.6" cy="364.5" r="2.1"/><circle cx="289.6" cy="360.3" r="2.1"/><circle cx="272.5" cy="378.4" r="2.1"/><circle cx="272.9" cy="364.7" r="2.1"/><circle cx="300.3" cy="352.7" r="2.1"/><circle cx="275.1" cy="352.2" r="2.1"/><circle cx="268.1" cy="367.5" r="2.1"/><circle cx="275.9" cy="361.5" r="2.1"/><circle cx="259.9" cy="365.6" r="2.1"/><circle cx="270.4" cy="337.7" r="2.1"/><circle cx="270.4" cy="341.4" r="2.1"/><circle cx="294.9" cy="340.6" r="2.1"/><circle cx="281.0" cy="348.0" r="2.1"/><circle cx="269.3" cy="345.2" r="2.1"/><circle cx="290.9" cy="347.2" r="2.1"/><circle cx="271.3" cy="362.7" r="2.1"/><circle cx="274.1" cy="368.1" r="2.1"/><circle cx="270.2" cy="341.3" r="2.1"/><circle cx="282.8" cy="373.8" r="2.1"/><circle cx="283.6" cy="350.3" r="2.1"/><circle cx="290.4" cy="369.2" r="2.1"/><circle cx="274.0" cy="365.1" r="2.1"/><circle cx="277.7" cy="361.4" r="2.1"/><circle cx="284.9" cy="370.2" r="2.1"/><circle cx="279.0" cy="360.8" r="2.1"/><circle cx="251.7" cy="350.7" r="2.1"/><circle cx="282.9" cy="350.8" r="2.1"/><circle cx="282.0" cy="357.8" r="2.1"/><circle cx="278.8" cy="361.1" r="2.1"/><circle cx="291.9" cy="365.9" r="2.1"/><circle cx="278.5" cy="346.3" r="2.1"/><circle cx="282.0" cy="347.6" r="2.1"/><circle cx="291.1" cy="352.0" r="2.1"/><circle cx="271.5" cy="358.3" r="2.1"/><circle cx="267.4" cy="365.8" r="2.1"/><circle cx="281.5" cy="352.2" r="2.1"/><circle cx="272.4" cy="381.2" r="2.1"/><circle cx="290.3" cy="366.4" r="2.1"/><circle cx="281.1" cy="377.4" r="2.1"/><circle cx="273.9" cy="357.0" r="2.1"/><circle cx="276.6" cy="347.8" r="2.1"/><circle cx="268.7" cy="381.4" r="2.1"/><circle cx="279.7" cy="349.8" r="2.1"/><circle cx="275.5" cy="354.5" r="2.1"/><circle cx="273.5" cy="359.4" r="2.1"/><circle cx="262.5" cy="339.3" r="2.1"/><circle cx="275.9" cy="357.4" r="2.1"/><circle cx="265.7" cy="358.9" r="2.1"/><circle cx="272.1" cy="362.4" r="2.1"/><circle cx="275.9" cy="372.9" r="2.1"/><circle cx="292.9" cy="367.8" r="2.1"/><circle cx="278.4" cy="369.9" r="2.1"/><circle cx="272.9" cy="353.8" r="2.1"/><circle cx="273.9" cy="329.5" r="2.1"/><circle cx="274.0" cy="355.7" r="2.1"/><circle cx="265.1" cy="335.6" r="2.1"/><circle cx="245.6" cy="357.2" r="2.1"/><circle cx="243.4" cy="309.6" r="2.1"/><circle cx="295.6" cy="374.6" r="2.1"/><circle cx="237.1" cy="380.3" r="2.1"/><circle cx="206.5" cy="357.8" r="2.1"/><circle cx="271.8" cy="347.7" r="2.1"/><circle cx="250.7" cy="362.9" r="2.1"/><circle cx="267.9" cy="308.1" r="2.1"/><circle cx="238.0" cy="369.3" r="2.1"/><circle cx="273.4" cy="307.9" r="2.1"/><circle cx="220.1" cy="353.2" r="2.1"/><circle cx="235.9" cy="319.8" r="2.1"/><circle cx="243.1" cy="347.1" r="2.1"/><circle cx="207.3" cy="363.0" r="2.1"/><circle cx="246.8" cy="366.8" r="2.1"/><circle cx="228.4" cy="315.8" r="2.1"/><circle cx="267.3" cy="369.1" r="2.1"/><circle cx="254.3" cy="331.3" r="2.1"/><circle cx="287.5" cy="371.8" r="2.1"/><circle cx="262.7" cy="333.7" r="2.1"/><circle cx="285.6" cy="360.6" r="2.1"/><circle cx="247.1" cy="382.8" r="2.1"/><circle cx="282.0" cy="347.1" r="2.1"/><circle cx="266.8" cy="362.9" r="2.1"/><circle cx="244.6" cy="306.4" r="2.1"/><circle cx="284.0" cy="294.1" r="2.1"/><circle cx="219.5" cy="300.3" r="2.1"/><circle cx="267.5" cy="370.6" r="2.1"/><circle cx="240.2" cy="378.1" r="2.1"/><circle cx="294.8" cy="380.2" r="2.1"/><circle cx="225.0" cy="378.2" r="2.1"/><circle cx="310.6" cy="315.0" r="2.1"/><circle cx="217.0" cy="377.6" r="2.1"/><circle cx="268.2" cy="339.7" r="2.1"/><circle cx="254.4" cy="291.6" r="2.1"/><circle cx="235.5" cy="346.4" r="2.1"/></g><g fill="none" stroke="#303030" stroke-width="2.8" stroke-linecap="round" stroke-linejoin="round"><path d="M72.6,94.1 C75.8,95.4 84.3,94.8 92.0,101.9 C99.7,109.0 110.6,125.1 119.0,136.7 C127.4,148.3 134.6,161.3 142.4,171.6 C150.2,181.9 157.8,190.3 165.6,198.7 C173.3,207.1 181.2,214.9 188.9,222.0 C196.6,229.1 205.2,236.1 212.0,241.3 C218.8,246.5 226.6,251.1 229.5,253.0"/><path d="M72.6,150.3 C78.4,154.5 95.2,166.8 107.5,175.5 C119.8,184.2 133.9,194.2 146.2,202.6 C158.4,211.0 171.3,219.4 181.0,225.8 C190.7,232.2 196.3,236.8 204.4,241.3 C212.5,245.8 225.3,251.1 229.5,253.0"/><path d="M72.6,212.3 C81.6,213.9 108.2,219.8 126.9,222.0 C145.6,224.2 170.2,223.2 185.0,225.8 C199.8,228.4 208.6,233.0 216.0,237.5 C223.4,242.0 227.2,250.4 229.5,253.0"/><path d="M123.0,69.0 C123.3,71.9 123.1,79.0 125.0,86.4 C126.9,93.8 129.8,103.2 134.6,113.5 C139.4,123.8 146.9,138.1 154.0,148.4 C161.1,158.7 170.8,166.5 177.2,175.5 C183.6,184.5 186.9,193.6 192.7,202.6 C198.5,211.6 205.9,221.6 212.0,229.7 C218.1,237.8 226.6,247.4 229.5,251.0"/><path d="M192.7,69.0 C195.0,71.2 203.4,75.1 206.3,82.5 C209.2,89.9 209.1,102.5 210.0,113.5 C210.9,124.5 211.3,138.7 212.0,148.4 C212.7,158.1 212.7,162.6 214.0,171.6 C215.3,180.6 218.2,192.9 219.8,202.6 C221.4,212.3 222.1,221.6 223.7,229.7 C225.3,237.8 228.5,247.4 229.5,251.0"/><path d="M198.5,167.7 L214.0,173.5"/><path d="M134.6,237.5 L154.0,241.3"/><path d="M192.7,229.7 C193.9,232.2 197.3,238.3 200.0,244.5 C202.7,250.7 206.4,258.3 209.0,266.9 C211.6,275.5 213.5,287.8 215.7,296.0 C217.9,304.2 219.4,309.3 222.4,316.0 C225.4,322.7 229.9,330.3 233.6,336.3 C237.3,342.3 241.1,346.4 244.8,352.0 C248.5,357.6 252.3,363.3 256.0,370.0 C259.7,376.7 263.8,387.8 267.2,392.2 C270.6,396.6 273.1,394.1 276.1,396.7 C279.1,399.3 281.5,401.4 285.0,408.0 C288.5,414.6 292.6,426.7 297.2,436.6 C301.8,446.5 307.4,457.2 312.5,467.4 C317.6,477.6 323.8,488.6 328.0,498.0 C332.2,507.4 334.6,514.3 338.0,523.7 C341.4,533.1 345.6,545.1 348.4,554.5 C351.2,563.9 353.9,575.8 355.0,580.0"/><path d="M74.6,268.5 C75.6,271.7 78.2,281.4 80.4,287.8 C82.6,294.2 85.4,300.2 88.0,307.2 C90.6,314.2 92.6,322.7 95.9,330.0 C99.2,337.3 101.9,342.9 107.7,351.0 C113.5,359.1 122.6,369.9 131.0,378.3 C139.4,386.7 150.9,394.2 158.3,401.6 C165.8,409.1 172.5,415.9 175.7,423.0 C178.9,430.1 176.1,436.3 177.7,444.4 C179.3,452.5 182.3,462.5 185.5,471.6 C188.7,480.7 194.4,493.6 197.0,498.8 C199.6,504.0 200.3,502.1 201.0,502.7"/><path d="M72.8,430.8 C75.4,431.8 82.5,433.1 88.3,436.6 C94.1,440.1 100.6,447.1 107.7,452.0 C114.8,456.9 122.6,461.8 131.0,465.7 C139.4,469.6 149.2,471.9 158.3,475.5 C167.4,479.1 178.4,482.5 185.5,487.0 C192.6,491.5 194.5,498.8 201.0,502.7 C207.5,506.6 216.5,506.5 224.3,510.4 C232.1,514.3 239.8,521.5 247.6,526.0 C255.4,530.5 263.9,533.1 271.0,537.6 C278.1,542.1 283.1,548.5 290.0,553.0 C296.9,557.5 306.2,560.2 312.5,564.7 C318.8,569.2 325.4,577.5 328.0,580.0"/><path d="M72.8,539.6 L105.8,559.0"/><path d="M101.7,253.0 L107.5,291.7"/><path d="M330.5,500.7 L302.3,544.2"/><path d="M333.0,505.0 L307.4,541.6"/><path d="M297.0,546.8 L343.3,549.3"/><path d="M499.6,400.7 L504.7,408.4"/></g><path d="M238.0,250.0 C238.9,252.4 241.3,258.8 243.7,264.6 C246.1,270.4 250.9,277.7 252.6,284.8 C254.3,291.9 253.7,299.6 253.7,307.0 C253.7,314.4 252.4,322.0 252.6,329.5 C252.8,337.0 253.5,344.5 254.8,352.0 C256.1,359.5 258.3,368.4 260.4,374.3 C262.5,380.2 263.8,384.7 267.2,387.7 C270.6,390.7 276.9,390.7 280.6,392.2 C284.3,393.7 286.9,394.6 289.5,396.7 C292.1,398.8 295.2,403.2 296.3,404.5" fill="none" stroke="#f4f430" stroke-width="3.4" stroke-linecap="round"/><polygon points="266.0,387.0 267.3,390.2 270.8,390.5 268.1,392.7 268.9,396.0 266.0,394.2 263.1,396.0 263.9,392.7 261.2,390.5 264.7,390.2" fill="#ff2020"/><polygon points="148.0,290.5 308.0,221.3 369.5,362.5 209.6,432.6" fill="none" stroke="#8c5f18" stroke-width="2.3"/><text x="374" y="358.3" font-family="'Liberation Serif', serif" font-size="20" font-style="italic" fill="#222">A'</text><text x="183.5" y="437" font-family="'Liberation Serif', serif" font-size="19" font-style="italic" fill="#222">A</text><polygon points="519.0,72.0 532.5,111.0 519.0,103.0 506.0,111.0" fill="#000"/><text x="514" y="62.5" font-family="'Liberation Serif', serif" font-size="13" fill="#111">N</text><text x="55" y="80.5" font-family="'Liberation Serif', serif" font-size="52" fill="#000">a</text><rect x="43.8" y="598.5" width="117.7" height="5.6" fill="#fff" stroke="#000" stroke-width="1"/><text x="82.5" y="595.4" font-family="'Liberation Serif', serif" font-size="21.5" fill="#000">10km</text></g><rect x="30.6" y="36.8" width="3.3" height="577.8" fill="#000"/><rect x="30.6" y="36.8" width="514.8" height="3.4" fill="#000"/><rect x="542" y="36.8" width="3.4" height="577.8" fill="#000"/><rect x="30.6" y="609.6" width="514.8" height="5" fill="#000"/><rect x="124.4" y="33" width="1.6" height="4" fill="#000"/><rect x="303.2" y="33" width="1.6" height="4" fill="#000"/><rect x="482.0" y="33" width="1.6" height="4" fill="#000"/><rect x="25.7" y="72.0" width="5" height="1.6" fill="#000"/><rect x="25.7" y="252.0" width="5" height="1.6" fill="#000"/><rect x="25.7" y="431.0" width="5" height="1.6" fill="#000"/><text x="81.1" y="31.4" font-family="'Liberation Serif', serif" font-size="32.5" fill="#000">102°40'E</text><text x="260.9" y="31.4" font-family="'Liberation Serif', serif" font-size="32.5" fill="#000">102°50'E</text><text x="457.7" y="31.4" font-family="'Liberation Serif', serif" font-size="32.5" fill="#000">103°E</text><text transform="translate(25.5,60) rotate(-90)" text-anchor="middle" font-family="'Liberation Serif', serif" font-size="32.5" fill="#000">36°N</text><text transform="translate(25.5,251.2) rotate(-90)" text-anchor="middle" font-family="'Liberation Serif', serif" font-size="32.5" fill="#000">35°50'N</text><text transform="translate(25.5,430) rotate(-90)" text-anchor="middle" font-family="'Liberation Serif', serif" font-size="32.5" fill="#000">35°40'N</text><text transform="translate(25.5,570.6) rotate(-90)" text-anchor="middle" font-family="'Liberation Serif', serif" font-size="32.5" fill="#000">35°30'N</text><rect x="31" y="616.4" width="511" height="101.6" fill="#c0c0c0"/><path d="M56,635 C70,637 80,638 92,636.5 C104,635 112,634 121,632.5" fill="none" stroke="#333" stroke-width="3.2" stroke-linecap="round"/><text x="143" y="640" font-family="'Liberation Serif', serif" font-size="21.5" fill="#111">Faults</text><path d="M229.5,638 C240,639.5 250,639.5 258,638.5 C268,637.5 276,637 282.7,636" fill="none" stroke="#f2f23c" stroke-width="3" stroke-linecap="round"/><text x="286.5" y="643.6" font-family="'Liberation Serif', serif" font-size="21.5" fill="#111">Presumed seismogenic fault</text><text x="89.8" y="667.5" font-family="'Liberation Serif', serif" font-size="21.5" fill="#111">LAP(%)</text><linearGradient id="lapg" x1="0" x2="1" y1="0" y2="0"><stop offset="0" stop-color="rgb(125, 80, 250)"/><stop offset="0.09" stop-color="rgb(140, 150, 250)"/><stop offset="0.14" stop-color="rgb(150, 250, 250)"/><stop offset="0.42" stop-color="rgb(150, 255, 250)"/><stop offset="0.5" stop-color="rgb(255, 255, 255)"/><stop offset="0.6" stop-color="rgb(245, 250, 140)"/><stop offset="0.66" stop-color="rgb(240, 250, 95)"/><stop offset="0.87" stop-color="rgb(240, 245, 95)"/><stop offset="0.93" stop-color="rgb(240, 150, 80)"/><stop offset="1" stop-color="rgb(245, 80, 75)"/></linearGradient><rect x="68.2" y="671.5" width="112.8" height="15" fill="url(#lapg)"/><text x="49" y="707" font-family="'Liberation Serif', serif" font-size="21.5" fill="#111">Low</text><text x="162.3" y="707" font-family="'Liberation Serif', serif" font-size="21.5" fill="#111">High</text><circle cx="258.3" cy="683.3" r="7.4" fill="#e8302a" stroke="#111" stroke-width="1.6"/><text x="287.3" y="692.6" font-family="'Liberation Serif', serif" font-size="21.5" fill="#111">Aftershocks</text><defs><clipPath id="terr"><polygon points="807.0,11.0 816.0,11.0 840.0,17.0 852.0,19.0 880.0,19.5 905.0,20.0 918.0,24.0 930.0,28.0 942.0,28.0 1000.0,27.5 1100.0,26.0 1180.0,23.0 1241.0,22.0 1248.0,52.0 1269.6,91.0 1289.0,143.0 1302.0,195.5 1328.0,252.0 1339.0,305.0 1339.0,307.5 1050.0,307.0 1016.0,305.0 948.0,296.0 856.0,282.0 788.0,273.0 761.0,268.0 731.0,277.0 731.4,263.8 736.0,241.0 742.8,213.7 749.6,184.0 756.4,154.6 766.4,137.0 772.7,116.0 774.8,94.9 781.0,84.3 785.4,63.3 791.7,42.2 798.0,35.8"/></clipPath><filter id="hs3" x="0" y="0" width="100%" height="100%" color-interpolation-filters="sRGB">
  <feTurbulence type="turbulence" baseFrequency="0.05 0.09" numOctaves="3" seed="4" result="n"/>
  <feColorMatrix in="n" type="matrix" values="0 0 0 0 0  0 0 0 0 0  0 0 0 0 0  0 0 0 -1.6 1.2" result="inv"/>
  <feDiffuseLighting in="inv" surfaceScale="3" diffuseConstant="1.1" lighting-color="#fff">
    <feDistantLight azimuth="300" elevation="45"/>
  </feDiffuseLighting>
  <feColorMatrix type="matrix" values="0.33 0.33 0.33 0 0  0.33 0.33 0.33 0 0  0.33 0.33 0.33 0 0  0 0 0 0 1"/>
</filter><filter id="b8" x="-30%" y="-30%" width="160%" height="160%"><feGaussianBlur stdDeviation="8"/></filter><filter id="b3" x="-30%" y="-30%" width="160%" height="160%"><feGaussianBlur stdDeviation="3"/></filter></defs><rect x="587.5" y="2.8" width="859.2" height="752.8" fill="none" stroke="#000" stroke-width="2.2" stroke-dasharray="4 2.6"/><text x="612" y="69.9" font-family="'Liberation Serif', serif" font-size="48" fill="#000">b</text><g clip-path="url(#terr)"><rect x="720" y="0" width="630" height="320" fill="rgb(155,138,232)"/><g filter="url(#b8)"><polygon points="781.0,75.0 925.0,75.0 960.0,120.0 990.0,260.0 930.0,300.0 856.0,285.0 800.0,230.0 790.0,150.0" fill="rgb(128,115,215)"/><polygon points="980.0,35.0 1065.0,35.0 1075.0,110.0 1050.0,150.0 1000.0,150.0 975.0,80.0" fill="rgb(160,215,240)"/><polygon points="1060.0,40.0 1085.0,45.0 1100.0,120.0 1125.0,160.0 1200.0,175.0 1300.0,170.0 1312.0,215.0 1250.0,215.0 1180.0,205.0 1110.0,195.0 1075.0,150.0 1055.0,80.0" fill="rgb(150,230,232)"/><polygon points="1130.0,190.0 1215.0,190.0 1220.0,250.0 1172.0,258.0 1130.0,245.0" fill="rgb(178,200,232)"/><polygon points="1300.0,214.0 1345.0,214.0 1345.0,310.0 1320.0,310.0" fill="rgb(172,182,232)"/></g><g filter="url(#b3)"><polygon points="990.0,18.0 1092.0,18.0 1092.0,47.0 1060.0,50.0 1000.0,45.0" fill="rgb(218,128,118)"/><polygon points="915.0,22.0 985.0,22.0 990.0,50.0 960.0,62.0 920.0,55.0" fill="rgb(218,215,135)"/><polygon points="1078.0,45.0 1100.0,60.0 1120.0,110.0 1140.0,135.0 1200.0,140.0 1270.0,150.0 1300.0,165.0 1305.0,185.0 1260.0,178.0 1200.0,175.0 1130.0,168.0 1105.0,140.0 1085.0,100.0 1070.0,55.0" fill="rgb(220,222,140)"/><polygon points="1072.0,51.0 1133.0,46.7 1182.0,56.5 1231.0,71.0 1262.0,83.0 1294.0,100.0 1300.0,166.0 1267.0,161.0 1231.0,159.0 1206.0,151.6 1170.0,144.3 1133.0,146.7 1128.0,132.0 1109.0,112.6 1097.0,83.3" fill="rgb(216,128,122)"/><polygon points="1228.0,72.0 1262.0,80.0 1262.0,98.0 1235.0,96.0" fill="rgb(220,215,140)"/><polygon points="1150.0,22.0 1245.0,18.0 1252.0,66.0 1206.0,56.0 1158.0,42.0" fill="rgb(150,130,235)"/><polygon points="830.0,8.0 935.0,8.0 945.0,35.0 930.0,50.0 880.0,46.0 845.0,40.0 832.0,30.0" fill="rgb(172,92,80)"/><polygon points="930.0,20.0 965.0,20.0 965.0,48.0 935.0,50.0" fill="rgb(195,155,115)"/><polygon points="800.0,5.0 830.0,5.0 830.0,30.0 808.0,32.0" fill="rgb(195,195,105)"/><polygon points="798.0,30.0 870.0,45.0 900.0,60.0 880.0,72.0 830.0,74.0 803.0,55.0" fill="rgb(115,172,192)"/><polygon points="812.0,92.0 870.0,88.0 918.0,100.0 925.0,140.0 880.0,147.0 820.0,137.0" fill="rgb(135,198,180)"/><polygon points="700.0,0.0 795.0,30.0 803.0,54.0 815.0,69.0 856.0,80.0 868.0,88.0 834.0,82.0 800.0,84.0 781.0,95.0 781.0,118.0 796.0,148.0 800.0,163.0 796.0,185.0 800.0,215.0 819.0,234.0 845.0,245.0 853.0,260.0 856.0,290.0 700.0,300.0" fill="rgb(148,148,148)"/><polygon points="856.0,245.0 960.0,250.0 1040.0,238.0 1100.0,236.0 1180.0,250.0 1300.0,235.0 1339.0,240.0 1339.0,320.0 856.0,320.0" fill="rgb(150,128,235)"/></g><g filter="url(#b2)"><polygon points="1152.0,24.0 1240.0,21.0 1248.0,60.0 1206.0,50.0 1160.0,38.0" fill="rgb(218,218,222)"/><polygon points="1093.0,250.0 1113.0,248.0 1121.0,256.0 1118.0,262.0 1098.0,258.0" fill="rgb(225,225,228)"/></g><rect x="720" y="0" width="630" height="320" filter="url(#hs3)" opacity="0.35" style="mix-blend-mode:multiply"/></g><g fill="#e01414" stroke="#600" stroke-width="0.6" clip-path="url(#terr)"><ellipse cx="1017.7" cy="186.2" rx="3.4" ry="2.8"/><ellipse cx="1029.1" cy="190.2" rx="3.4" ry="2.8"/><ellipse cx="962.9" cy="179.2" rx="3.4" ry="2.8"/><ellipse cx="1054.1" cy="220.0" rx="3.4" ry="2.8"/><ellipse cx="944.3" cy="149.0" rx="3.4" ry="2.8"/><ellipse cx="1059.1" cy="194.3" rx="3.4" ry="2.8"/><ellipse cx="957.3" cy="107.2" rx="3.4" ry="2.8"/><ellipse cx="964.0" cy="140.1" rx="3.4" ry="2.8"/><ellipse cx="931.2" cy="172.3" rx="3.4" ry="2.8"/><ellipse cx="1015.3" cy="227.2" rx="3.4" ry="2.8"/><ellipse cx="1031.4" cy="197.8" rx="3.4" ry="2.8"/><ellipse cx="1027.5" cy="201.1" rx="3.4" ry="2.8"/><ellipse cx="1018.8" cy="145.3" rx="3.4" ry="2.8"/><ellipse cx="1097.2" cy="207.6" rx="3.4" ry="2.8"/><ellipse cx="989.6" cy="138.3" rx="3.4" ry="2.8"/><ellipse cx="984.3" cy="115.2" rx="3.4" ry="2.8"/><ellipse cx="1082.1" cy="163.1" rx="3.4" ry="2.8"/><ellipse cx="1121.4" cy="227.9" rx="3.4" ry="2.8"/><ellipse cx="1111.6" cy="173.1" rx="3.4" ry="2.8"/><ellipse cx="940.0" cy="196.3" rx="3.4" ry="2.8"/><ellipse cx="942.9" cy="153.2" rx="3.4" ry="2.8"/><ellipse cx="1122.6" cy="214.9" rx="3.4" ry="2.8"/><ellipse cx="949.2" cy="140.7" rx="3.4" ry="2.8"/><ellipse cx="945.7" cy="113.7" rx="3.4" ry="2.8"/><ellipse cx="1039.7" cy="169.9" rx="3.4" ry="2.8"/><ellipse cx="951.8" cy="198.3" rx="3.4" ry="2.8"/><ellipse cx="948.9" cy="166.0" rx="3.4" ry="2.8"/><ellipse cx="968.6" cy="144.1" rx="3.4" ry="2.8"/><ellipse cx="1124.0" cy="221.5" rx="3.4" ry="2.8"/><ellipse cx="968.2" cy="162.2" rx="3.4" ry="2.8"/><ellipse cx="1100.1" cy="198.1" rx="3.4" ry="2.8"/><ellipse cx="968.7" cy="142.5" rx="3.4" ry="2.8"/><ellipse cx="985.7" cy="115.6" rx="3.4" ry="2.8"/><ellipse cx="943.5" cy="189.5" rx="3.4" ry="2.8"/><ellipse cx="974.8" cy="192.2" rx="3.4" ry="2.8"/><ellipse cx="1001.2" cy="170.7" rx="3.4" ry="2.8"/><ellipse cx="1042.8" cy="230.6" rx="3.4" ry="2.8"/><ellipse cx="962.5" cy="127.3" rx="3.4" ry="2.8"/><ellipse cx="1111.2" cy="223.6" rx="3.4" ry="2.8"/><ellipse cx="976.1" cy="132.5" rx="3.4" ry="2.8"/><ellipse cx="1076.6" cy="241.4" rx="3.4" ry="2.8"/><ellipse cx="1105.8" cy="192.5" rx="3.4" ry="2.8"/><ellipse cx="973.9" cy="207.2" rx="3.4" ry="2.8"/><ellipse cx="939.1" cy="138.1" rx="3.4" ry="2.8"/><ellipse cx="1039.7" cy="228.6" rx="3.4" ry="2.8"/><ellipse cx="928.4" cy="144.0" rx="3.4" ry="2.8"/><ellipse cx="961.1" cy="158.5" rx="3.4" ry="2.8"/><ellipse cx="999.2" cy="234.2" rx="3.4" ry="2.8"/><ellipse cx="1126.0" cy="200.3" rx="3.4" ry="2.8"/><ellipse cx="1066.7" cy="189.7" rx="3.4" ry="2.8"/><ellipse cx="953.8" cy="110.1" rx="3.4" ry="2.8"/><ellipse cx="1068.7" cy="244.6" rx="3.4" ry="2.8"/><ellipse cx="1023.9" cy="210.9" rx="3.4" ry="2.8"/><ellipse cx="940.4" cy="184.2" rx="3.4" ry="2.8"/><ellipse cx="1076.1" cy="235.5" rx="3.4" ry="2.8"/><ellipse cx="1076.1" cy="207.0" rx="3.4" ry="2.8"/><ellipse cx="1087.6" cy="237.7" rx="3.4" ry="2.8"/><ellipse cx="997.1" cy="204.3" rx="3.4" ry="2.8"/><ellipse cx="1109.7" cy="231.3" rx="3.4" ry="2.8"/><ellipse cx="1010.5" cy="219.6" rx="3.4" ry="2.8"/><ellipse cx="1102.0" cy="188.1" rx="3.4" ry="2.8"/><ellipse cx="1053.1" cy="160.4" rx="3.4" ry="2.8"/><ellipse cx="1044.4" cy="193.3" rx="3.4" ry="2.8"/><ellipse cx="941.4" cy="197.7" rx="3.4" ry="2.8"/><ellipse cx="1074.3" cy="161.3" rx="3.4" ry="2.8"/><ellipse cx="1075.7" cy="189.2" rx="3.4" ry="2.8"/><ellipse cx="1015.3" cy="226.6" rx="3.4" ry="2.8"/><ellipse cx="1023.6" cy="138.4" rx="3.4" ry="2.8"/><ellipse cx="1068.2" cy="177.1" rx="3.4" ry="2.8"/><ellipse cx="1051.0" cy="238.5" rx="3.4" ry="2.8"/><ellipse cx="986.7" cy="203.3" rx="3.4" ry="2.8"/><ellipse cx="966.5" cy="129.6" rx="3.4" ry="2.8"/><ellipse cx="1110.7" cy="200.7" rx="3.4" ry="2.8"/><ellipse cx="1015.6" cy="234.3" rx="3.4" ry="2.8"/><ellipse cx="992.0" cy="201.6" rx="3.4" ry="2.8"/><ellipse cx="965.7" cy="167.5" rx="3.4" ry="2.8"/><ellipse cx="1090.2" cy="237.6" rx="3.4" ry="2.8"/><ellipse cx="1044.5" cy="150.9" rx="3.4" ry="2.8"/><ellipse cx="952.9" cy="177.0" rx="3.4" ry="2.8"/><ellipse cx="1096.6" cy="228.1" rx="3.4" ry="2.8"/><ellipse cx="1070.8" cy="242.8" rx="3.4" ry="2.8"/><ellipse cx="981.7" cy="129.5" rx="3.4" ry="2.8"/><ellipse cx="1017.4" cy="144.9" rx="3.4" ry="2.8"/><ellipse cx="968.9" cy="165.0" rx="3.4" ry="2.8"/><ellipse cx="1053.3" cy="176.6" rx="3.4" ry="2.8"/><ellipse cx="989.7" cy="226.7" rx="3.4" ry="2.8"/><ellipse cx="1070.3" cy="187.7" rx="3.4" ry="2.8"/><ellipse cx="988.4" cy="219.8" rx="3.4" ry="2.8"/><ellipse cx="928.9" cy="124.7" rx="3.4" ry="2.8"/><ellipse cx="953.9" cy="111.8" rx="3.4" ry="2.8"/><ellipse cx="1054.0" cy="169.7" rx="3.4" ry="2.8"/><ellipse cx="1054.1" cy="200.0" rx="3.4" ry="2.8"/><ellipse cx="1090.5" cy="244.0" rx="3.4" ry="2.8"/><ellipse cx="980.8" cy="155.1" rx="3.4" ry="2.8"/><ellipse cx="1067.9" cy="180.5" rx="3.4" ry="2.8"/><ellipse cx="1051.0" cy="214.6" rx="3.4" ry="2.8"/><ellipse cx="1005.7" cy="219.8" rx="3.4" ry="2.8"/><ellipse cx="1116.2" cy="209.7" rx="3.4" ry="2.8"/><ellipse cx="951.6" cy="170.8" rx="3.4" ry="2.8"/><ellipse cx="1053.2" cy="236.9" rx="3.4" ry="2.8"/><ellipse cx="1002.2" cy="187.5" rx="3.4" ry="2.8"/><ellipse cx="1105.3" cy="220.5" rx="3.4" ry="2.8"/><ellipse cx="1073.0" cy="223.7" rx="3.4" ry="2.8"/><ellipse cx="1056.5" cy="209.1" rx="3.4" ry="2.8"/><ellipse cx="1035.1" cy="219.7" rx="3.4" ry="2.8"/><ellipse cx="942.0" cy="168.9" rx="3.4" ry="2.8"/><ellipse cx="1037.8" cy="216.4" rx="3.4" ry="2.8"/><ellipse cx="993.7" cy="219.2" rx="3.4" ry="2.8"/><ellipse cx="953.8" cy="126.6" rx="3.4" ry="2.8"/><ellipse cx="1030.9" cy="209.9" rx="3.4" ry="2.8"/><ellipse cx="1097.2" cy="205.0" rx="3.4" ry="2.8"/><ellipse cx="970.4" cy="181.4" rx="3.4" ry="2.8"/><ellipse cx="984.5" cy="210.7" rx="3.4" ry="2.8"/><ellipse cx="1056.0" cy="180.8" rx="3.4" ry="2.8"/><ellipse cx="1097.9" cy="186.2" rx="3.4" ry="2.8"/><ellipse cx="988.9" cy="160.3" rx="3.4" ry="2.8"/><ellipse cx="1098.3" cy="235.6" rx="3.4" ry="2.8"/><ellipse cx="1034.9" cy="178.0" rx="3.4" ry="2.8"/><ellipse cx="1007.1" cy="221.2" rx="3.4" ry="2.8"/><ellipse cx="1040.4" cy="176.2" rx="3.4" ry="2.8"/><ellipse cx="1035.4" cy="165.0" rx="3.4" ry="2.8"/><ellipse cx="980.2" cy="173.6" rx="3.4" ry="2.8"/><ellipse cx="951.0" cy="167.9" rx="3.4" ry="2.8"/><ellipse cx="1092.2" cy="235.6" rx="3.4" ry="2.8"/><ellipse cx="1022.7" cy="151.0" rx="3.4" ry="2.8"/><ellipse cx="964.2" cy="194.6" rx="3.4" ry="2.8"/><ellipse cx="964.8" cy="138.0" rx="3.4" ry="2.8"/><ellipse cx="997.8" cy="194.9" rx="3.4" ry="2.8"/><ellipse cx="950.2" cy="179.0" rx="3.4" ry="2.8"/><ellipse cx="976.4" cy="133.7" rx="3.4" ry="2.8"/><ellipse cx="1033.7" cy="168.3" rx="3.4" ry="2.8"/><ellipse cx="1002.0" cy="164.9" rx="3.4" ry="2.8"/><ellipse cx="966.9" cy="196.5" rx="3.4" ry="2.8"/><ellipse cx="1055.9" cy="181.8" rx="3.4" ry="2.8"/><ellipse cx="1099.5" cy="193.7" rx="3.4" ry="2.8"/><ellipse cx="1076.9" cy="222.5" rx="3.4" ry="2.8"/><ellipse cx="974.1" cy="210.4" rx="3.4" ry="2.8"/><ellipse cx="978.2" cy="119.1" rx="3.4" ry="2.8"/><ellipse cx="1095.6" cy="166.1" rx="3.4" ry="2.8"/><ellipse cx="1007.6" cy="204.4" rx="3.4" ry="2.8"/><ellipse cx="928.6" cy="134.1" rx="3.4" ry="2.8"/><ellipse cx="1064.9" cy="237.1" rx="3.4" ry="2.8"/><ellipse cx="1028.7" cy="214.9" rx="3.4" ry="2.8"/><ellipse cx="1028.1" cy="204.4" rx="3.4" ry="2.8"/><ellipse cx="963.7" cy="115.2" rx="3.4" ry="2.8"/><ellipse cx="946.8" cy="110.4" rx="3.4" ry="2.8"/><ellipse cx="1038.1" cy="179.6" rx="3.4" ry="2.8"/><ellipse cx="962.8" cy="134.6" rx="3.4" ry="2.8"/><ellipse cx="1019.7" cy="215.9" rx="3.4" ry="2.8"/><ellipse cx="992.0" cy="172.7" rx="3.4" ry="2.8"/><ellipse cx="1030.6" cy="167.4" rx="3.4" ry="2.8"/><ellipse cx="1068.7" cy="227.4" rx="3.4" ry="2.8"/><ellipse cx="962.2" cy="170.8" rx="3.4" ry="2.8"/><ellipse cx="1076.6" cy="163.8" rx="3.4" ry="2.8"/><ellipse cx="965.0" cy="128.9" rx="3.4" ry="2.8"/><ellipse cx="1108.1" cy="221.2" rx="3.4" ry="2.8"/><ellipse cx="1069.5" cy="229.8" rx="3.4" ry="2.8"/><ellipse cx="1054.0" cy="163.7" rx="3.4" ry="2.8"/><ellipse cx="1047.9" cy="178.1" rx="3.4" ry="2.8"/><ellipse cx="1126.4" cy="221.7" rx="3.4" ry="2.8"/><ellipse cx="1077.6" cy="217.8" rx="3.4" ry="2.8"/><ellipse cx="1092.0" cy="163.8" rx="3.4" ry="2.8"/><ellipse cx="1108.8" cy="232.6" rx="3.4" ry="2.8"/><ellipse cx="1067.4" cy="216.3" rx="3.4" ry="2.8"/><ellipse cx="1081.9" cy="163.8" rx="3.4" ry="2.8"/><ellipse cx="995.1" cy="173.0" rx="3.4" ry="2.8"/><ellipse cx="927.2" cy="156.6" rx="3.4" ry="2.8"/><ellipse cx="1055.9" cy="195.5" rx="3.4" ry="2.8"/><ellipse cx="1060.3" cy="187.6" rx="3.4" ry="2.8"/><ellipse cx="1034.3" cy="161.5" rx="3.4" ry="2.8"/><ellipse cx="1068.8" cy="215.5" rx="3.4" ry="2.8"/><ellipse cx="1051.2" cy="212.1" rx="3.4" ry="2.8"/><ellipse cx="977.6" cy="163.2" rx="3.4" ry="2.8"/><ellipse cx="935.3" cy="133.3" rx="3.4" ry="2.8"/><ellipse cx="1002.0" cy="119.3" rx="3.4" ry="2.8"/><ellipse cx="1037.8" cy="178.6" rx="3.4" ry="2.8"/><ellipse cx="1123.3" cy="187.4" rx="3.4" ry="2.8"/><ellipse cx="1129.0" cy="197.5" rx="3.4" ry="2.8"/><ellipse cx="1047.5" cy="215.1" rx="3.4" ry="2.8"/><ellipse cx="957.8" cy="173.4" rx="3.4" ry="2.8"/><ellipse cx="959.7" cy="176.9" rx="3.4" ry="2.8"/><ellipse cx="1033.0" cy="191.7" rx="3.4" ry="2.8"/><ellipse cx="999.9" cy="146.4" rx="3.4" ry="2.8"/><ellipse cx="1059.3" cy="186.3" rx="3.4" ry="2.8"/><ellipse cx="983.1" cy="208.9" rx="3.4" ry="2.8"/><ellipse cx="975.2" cy="111.2" rx="3.4" ry="2.8"/><ellipse cx="1004.9" cy="235.1" rx="3.4" ry="2.8"/><ellipse cx="1013.1" cy="174.3" rx="3.4" ry="2.8"/><ellipse cx="1032.3" cy="240.9" rx="3.4" ry="2.8"/><ellipse cx="1073.2" cy="172.9" rx="3.4" ry="2.8"/><ellipse cx="1125.7" cy="223.4" rx="3.4" ry="2.8"/><ellipse cx="1053.0" cy="171.1" rx="3.4" ry="2.8"/><ellipse cx="966.7" cy="112.5" rx="3.4" ry="2.8"/><ellipse cx="1015.8" cy="201.8" rx="3.4" ry="2.8"/><ellipse cx="1018.4" cy="143.0" rx="3.4" ry="2.8"/><ellipse cx="1044.4" cy="165.8" rx="3.4" ry="2.8"/><ellipse cx="1084.5" cy="182.0" rx="3.4" ry="2.8"/><ellipse cx="1085.8" cy="195.6" rx="3.4" ry="2.8"/><ellipse cx="998.6" cy="144.4" rx="3.4" ry="2.8"/><ellipse cx="1065.4" cy="186.9" rx="3.4" ry="2.8"/><ellipse cx="1046.3" cy="196.8" rx="3.4" ry="2.8"/><ellipse cx="1112.7" cy="232.4" rx="3.4" ry="2.8"/><ellipse cx="980.5" cy="166.7" rx="3.4" ry="2.8"/><ellipse cx="1037.9" cy="196.5" rx="3.4" ry="2.8"/><ellipse cx="1001.5" cy="174.4" rx="3.4" ry="2.8"/><ellipse cx="968.2" cy="154.8" rx="3.4" ry="2.8"/><ellipse cx="1077.7" cy="226.6" rx="3.4" ry="2.8"/><ellipse cx="940.2" cy="122.4" rx="3.4" ry="2.8"/><ellipse cx="1090.9" cy="195.4" rx="3.4" ry="2.8"/><ellipse cx="1012.0" cy="142.4" rx="3.4" ry="2.8"/><ellipse cx="1059.0" cy="248.4" rx="3.4" ry="2.8"/><ellipse cx="991.7" cy="184.5" rx="3.4" ry="2.8"/><ellipse cx="1078.0" cy="238.5" rx="3.4" ry="2.8"/><ellipse cx="1012.7" cy="158.5" rx="3.4" ry="2.8"/><ellipse cx="941.1" cy="117.0" rx="3.4" ry="2.8"/><ellipse cx="1040.7" cy="175.3" rx="3.4" ry="2.8"/><ellipse cx="968.7" cy="201.0" rx="3.4" ry="2.8"/><ellipse cx="941.8" cy="149.1" rx="3.4" ry="2.8"/><ellipse cx="1073.6" cy="205.6" rx="3.4" ry="2.8"/><ellipse cx="983.0" cy="125.7" rx="3.4" ry="2.8"/><ellipse cx="998.3" cy="210.3" rx="3.4" ry="2.8"/><ellipse cx="1000.1" cy="122.0" rx="3.4" ry="2.8"/><ellipse cx="1070.4" cy="187.5" rx="3.4" ry="2.8"/><ellipse cx="990.1" cy="162.9" rx="3.4" ry="2.8"/><ellipse cx="1116.6" cy="234.7" rx="3.4" ry="2.8"/><ellipse cx="975.9" cy="157.4" rx="3.4" ry="2.8"/><ellipse cx="999.9" cy="157.7" rx="3.4" ry="2.8"/><ellipse cx="1006.1" cy="161.2" rx="3.4" ry="2.8"/><ellipse cx="965.0" cy="186.8" rx="3.4" ry="2.8"/><ellipse cx="1088.4" cy="183.4" rx="3.4" ry="2.8"/><ellipse cx="1096.5" cy="186.6" rx="3.4" ry="2.8"/><ellipse cx="1036.6" cy="187.3" rx="3.4" ry="2.8"/><ellipse cx="1123.1" cy="199.4" rx="3.4" ry="2.8"/><ellipse cx="1037.1" cy="219.3" rx="3.4" ry="2.8"/><ellipse cx="942.2" cy="116.8" rx="3.4" ry="2.8"/><ellipse cx="1076.1" cy="235.4" rx="3.4" ry="2.8"/><ellipse cx="942.4" cy="196.9" rx="3.4" ry="2.8"/><ellipse cx="1031.9" cy="215.9" rx="3.4" ry="2.8"/><ellipse cx="1005.8" cy="154.0" rx="3.4" ry="2.8"/><ellipse cx="1123.5" cy="202.5" rx="3.4" ry="2.8"/><ellipse cx="1026.2" cy="182.9" rx="3.4" ry="2.8"/><ellipse cx="1072.8" cy="207.7" rx="3.4" ry="2.8"/><ellipse cx="1094.4" cy="201.7" rx="3.4" ry="2.8"/><ellipse cx="1100.0" cy="221.9" rx="3.4" ry="2.8"/><ellipse cx="1095.9" cy="233.9" rx="3.4" ry="2.8"/><ellipse cx="1121.3" cy="197.8" rx="3.4" ry="2.8"/><ellipse cx="1032.4" cy="208.0" rx="3.4" ry="2.8"/><ellipse cx="1089.5" cy="166.1" rx="3.4" ry="2.8"/><ellipse cx="1011.2" cy="126.2" rx="3.4" ry="2.8"/><ellipse cx="1077.0" cy="248.7" rx="3.4" ry="2.8"/><ellipse cx="1002.0" cy="129.3" rx="3.4" ry="2.8"/><ellipse cx="966.9" cy="166.6" rx="3.4" ry="2.8"/><ellipse cx="937.1" cy="149.7" rx="3.4" ry="2.8"/><ellipse cx="948.5" cy="199.0" rx="3.4" ry="2.8"/><ellipse cx="937.8" cy="171.5" rx="3.4" ry="2.8"/><ellipse cx="1044.7" cy="236.8" rx="3.4" ry="2.8"/><ellipse cx="932.5" cy="120.8" rx="3.4" ry="2.8"/><ellipse cx="962.8" cy="136.5" rx="3.4" ry="2.8"/><ellipse cx="973.3" cy="209.0" rx="3.4" ry="2.8"/><ellipse cx="962.9" cy="145.8" rx="3.4" ry="2.8"/><ellipse cx="988.9" cy="184.5" rx="3.4" ry="2.8"/><ellipse cx="1092.5" cy="174.5" rx="3.4" ry="2.8"/><ellipse cx="1037.2" cy="243.8" rx="3.4" ry="2.8"/><ellipse cx="1023.9" cy="137.0" rx="3.4" ry="2.8"/><ellipse cx="1033.2" cy="179.8" rx="3.4" ry="2.8"/><ellipse cx="1001.2" cy="220.5" rx="3.4" ry="2.8"/><ellipse cx="1071.2" cy="192.9" rx="3.4" ry="2.8"/><ellipse cx="957.2" cy="127.8" rx="3.4" ry="2.8"/><ellipse cx="991.0" cy="142.6" rx="3.4" ry="2.8"/><ellipse cx="1103.2" cy="179.8" rx="3.4" ry="2.8"/><ellipse cx="1055.6" cy="249.0" rx="3.4" ry="2.8"/><ellipse cx="979.6" cy="182.5" rx="3.4" ry="2.8"/><ellipse cx="1098.5" cy="224.2" rx="3.4" ry="2.8"/><ellipse cx="941.9" cy="144.1" rx="3.4" ry="2.8"/><ellipse cx="1023.4" cy="173.0" rx="3.4" ry="2.8"/><ellipse cx="1120.9" cy="190.1" rx="3.4" ry="2.8"/><ellipse cx="1086.8" cy="165.5" rx="3.4" ry="2.8"/><ellipse cx="1036.4" cy="181.2" rx="3.4" ry="2.8"/><ellipse cx="988.8" cy="150.1" rx="3.4" ry="2.8"/><ellipse cx="940.6" cy="149.3" rx="3.4" ry="2.8"/><ellipse cx="1020.8" cy="208.7" rx="3.4" ry="2.8"/><ellipse cx="998.7" cy="204.6" rx="3.4" ry="2.8"/><ellipse cx="946.7" cy="162.2" rx="3.4" ry="2.8"/><ellipse cx="1095.1" cy="199.8" rx="3.4" ry="2.8"/><ellipse cx="927.5" cy="159.7" rx="3.4" ry="2.8"/><ellipse cx="1040.6" cy="171.4" rx="3.4" ry="2.8"/><ellipse cx="1002.1" cy="183.3" rx="3.4" ry="2.8"/><ellipse cx="986.1" cy="153.9" rx="3.4" ry="2.8"/><ellipse cx="1005.4" cy="201.7" rx="3.4" ry="2.8"/><ellipse cx="977.6" cy="134.0" rx="3.4" ry="2.8"/><ellipse cx="1118.7" cy="186.6" rx="3.4" ry="2.8"/><ellipse cx="953.9" cy="118.7" rx="3.4" ry="2.8"/><ellipse cx="1063.9" cy="207.7" rx="3.4" ry="2.8"/><ellipse cx="961.9" cy="163.3" rx="3.4" ry="2.8"/><ellipse cx="1096.6" cy="190.9" rx="3.4" ry="2.8"/><ellipse cx="943.5" cy="137.9" rx="3.4" ry="2.8"/><ellipse cx="957.2" cy="123.0" rx="3.4" ry="2.8"/><ellipse cx="1029.9" cy="198.9" rx="3.4" ry="2.8"/><ellipse cx="1082.2" cy="224.1" rx="3.4" ry="2.8"/><ellipse cx="1004.1" cy="153.1" rx="3.4" ry="2.8"/><ellipse cx="1007.1" cy="206.5" rx="3.4" ry="2.8"/><ellipse cx="1126.3" cy="219.5" rx="3.4" ry="2.8"/><ellipse cx="1060.3" cy="193.2" rx="3.4" ry="2.8"/><ellipse cx="928.8" cy="153.0" rx="3.4" ry="2.8"/><ellipse cx="995.2" cy="199.4" rx="3.4" ry="2.8"/><ellipse cx="946.8" cy="159.8" rx="3.4" ry="2.8"/><ellipse cx="1029.4" cy="219.3" rx="3.4" ry="2.8"/><ellipse cx="1094.2" cy="193.7" rx="3.4" ry="2.8"/><ellipse cx="1110.1" cy="184.5" rx="3.4" ry="2.8"/><ellipse cx="997.3" cy="177.6" rx="3.4" ry="2.8"/><ellipse cx="1071.7" cy="226.2" rx="3.4" ry="2.8"/><ellipse cx="942.1" cy="140.5" rx="3.4" ry="2.8"/><ellipse cx="1043.2" cy="206.1" rx="3.4" ry="2.8"/><ellipse cx="999.0" cy="172.1" rx="3.4" ry="2.8"/><ellipse cx="1036.4" cy="186.3" rx="3.4" ry="2.8"/><ellipse cx="1092.6" cy="192.2" rx="3.4" ry="2.8"/><ellipse cx="974.4" cy="188.2" rx="3.4" ry="2.8"/><ellipse cx="931.6" cy="131.1" rx="3.4" ry="2.8"/><ellipse cx="1062.6" cy="212.0" rx="3.4" ry="2.8"/><ellipse cx="1003.2" cy="190.8" rx="3.4" ry="2.8"/><ellipse cx="965.9" cy="172.9" rx="3.4" ry="2.8"/><ellipse cx="954.3" cy="161.0" rx="3.4" ry="2.8"/><ellipse cx="1031.6" cy="143.2" rx="3.4" ry="2.8"/><ellipse cx="1041.4" cy="153.2" rx="3.4" ry="2.8"/><ellipse cx="1121.7" cy="192.0" rx="3.4" ry="2.8"/><ellipse cx="1021.3" cy="164.7" rx="3.4" ry="2.8"/><ellipse cx="1052.9" cy="204.9" rx="3.4" ry="2.8"/><ellipse cx="1080.4" cy="214.0" rx="3.4" ry="2.8"/><ellipse cx="1096.8" cy="229.0" rx="3.4" ry="2.8"/><ellipse cx="1008.8" cy="167.9" rx="3.4" ry="2.8"/><ellipse cx="1041.0" cy="236.3" rx="3.4" ry="2.8"/><ellipse cx="1032.8" cy="181.1" rx="3.4" ry="2.8"/><ellipse cx="1013.6" cy="236.1" rx="3.4" ry="2.8"/><ellipse cx="990.7" cy="112.9" rx="3.4" ry="2.8"/><ellipse cx="1073.7" cy="235.5" rx="3.4" ry="2.8"/><ellipse cx="1075.1" cy="191.6" rx="3.4" ry="2.8"/><ellipse cx="950.5" cy="169.8" rx="3.4" ry="2.8"/><ellipse cx="1028.0" cy="162.5" rx="3.4" ry="2.8"/><ellipse cx="987.8" cy="162.4" rx="3.4" ry="2.8"/><ellipse cx="973.4" cy="114.9" rx="3.4" ry="2.8"/><ellipse cx="1061.5" cy="230.6" rx="3.4" ry="2.8"/><ellipse cx="1011.4" cy="221.8" rx="3.4" ry="2.8"/><ellipse cx="1041.2" cy="236.0" rx="3.4" ry="2.8"/><ellipse cx="950.4" cy="183.0" rx="3.4" ry="2.8"/><ellipse cx="975.0" cy="148.4" rx="3.4" ry="2.8"/><ellipse cx="991.6" cy="114.1" rx="3.4" ry="2.8"/><ellipse cx="1108.5" cy="223.2" rx="3.4" ry="2.8"/><ellipse cx="1006.4" cy="156.7" rx="3.4" ry="2.8"/><ellipse cx="988.1" cy="177.3" rx="3.4" ry="2.8"/><ellipse cx="1021.9" cy="134.9" rx="3.4" ry="2.8"/><ellipse cx="966.4" cy="196.7" rx="3.4" ry="2.8"/><ellipse cx="935.3" cy="120.4" rx="3.4" ry="2.8"/><ellipse cx="1109.6" cy="231.1" rx="3.4" ry="2.8"/><ellipse cx="1067.7" cy="241.0" rx="3.4" ry="2.8"/><ellipse cx="970.8" cy="149.5" rx="3.4" ry="2.8"/><ellipse cx="962.1" cy="139.1" rx="3.4" ry="2.8"/><ellipse cx="1061.2" cy="219.6" rx="3.4" ry="2.8"/><ellipse cx="1001.4" cy="201.0" rx="3.4" ry="2.8"/><ellipse cx="1106.3" cy="190.5" rx="3.4" ry="2.8"/><ellipse cx="971.9" cy="148.6" rx="3.4" ry="2.8"/><ellipse cx="1115.0" cy="201.7" rx="3.4" ry="2.8"/><ellipse cx="981.8" cy="197.8" rx="3.4" ry="2.8"/><ellipse cx="1015.3" cy="181.6" rx="3.4" ry="2.8"/><ellipse cx="942.9" cy="146.3" rx="3.4" ry="2.8"/><ellipse cx="982.2" cy="184.5" rx="3.4" ry="2.8"/><ellipse cx="1019.6" cy="213.8" rx="3.4" ry="2.8"/><ellipse cx="1039.0" cy="198.5" rx="3.4" ry="2.8"/><ellipse cx="998.7" cy="200.4" rx="3.4" ry="2.8"/><ellipse cx="1085.5" cy="179.9" rx="3.4" ry="2.8"/><ellipse cx="1028.7" cy="227.6" rx="3.4" ry="2.8"/><ellipse cx="1065.3" cy="180.5" rx="3.4" ry="2.8"/><ellipse cx="1015.3" cy="217.1" rx="3.4" ry="2.8"/><ellipse cx="1086.2" cy="219.7" rx="3.4" ry="2.8"/><ellipse cx="973.4" cy="175.9" rx="3.4" ry="2.8"/><ellipse cx="970.4" cy="189.1" rx="3.4" ry="2.8"/><ellipse cx="1047.3" cy="208.6" rx="3.4" ry="2.8"/><ellipse cx="1042.4" cy="231.6" rx="3.4" ry="2.8"/><ellipse cx="961.9" cy="127.0" rx="3.4" ry="2.8"/><ellipse cx="1014.1" cy="169.0" rx="3.4" ry="2.8"/><ellipse cx="1041.6" cy="183.8" rx="3.4" ry="2.8"/><ellipse cx="955.0" cy="150.1" rx="3.4" ry="2.8"/><ellipse cx="933.7" cy="150.6" rx="3.4" ry="2.8"/><ellipse cx="1052.3" cy="181.2" rx="3.4" ry="2.8"/><ellipse cx="979.3" cy="190.4" rx="3.4" ry="2.8"/><ellipse cx="960.2" cy="142.0" rx="3.4" ry="2.8"/><ellipse cx="957.8" cy="205.1" rx="3.4" ry="2.8"/><ellipse cx="1095.3" cy="219.1" rx="3.4" ry="2.8"/><ellipse cx="937.5" cy="164.5" rx="3.4" ry="2.8"/><ellipse cx="999.7" cy="136.4" rx="3.4" ry="2.8"/><ellipse cx="1025.4" cy="215.4" rx="3.4" ry="2.8"/><ellipse cx="1018.3" cy="213.0" rx="3.4" ry="2.8"/><ellipse cx="933.0" cy="139.9" rx="3.4" ry="2.8"/><ellipse cx="1005.5" cy="148.2" rx="3.4" ry="2.8"/><ellipse cx="1081.5" cy="211.4" rx="3.4" ry="2.8"/><ellipse cx="972.1" cy="141.7" rx="3.4" ry="2.8"/><ellipse cx="1019.6" cy="240.2" rx="3.4" ry="2.8"/><ellipse cx="999.6" cy="153.9" rx="3.4" ry="2.8"/><ellipse cx="1126.2" cy="193.6" rx="3.4" ry="2.8"/><ellipse cx="933.1" cy="163.4" rx="3.4" ry="2.8"/><ellipse cx="995.4" cy="205.7" rx="3.4" ry="2.8"/><ellipse cx="1102.2" cy="190.6" rx="3.4" ry="2.8"/><ellipse cx="1106.7" cy="172.1" rx="3.4" ry="2.8"/><ellipse cx="1005.6" cy="227.2" rx="3.4" ry="2.8"/><ellipse cx="1003.1" cy="218.3" rx="3.4" ry="2.8"/><ellipse cx="969.2" cy="155.4" rx="3.4" ry="2.8"/><ellipse cx="962.6" cy="184.7" rx="3.4" ry="2.8"/><ellipse cx="958.6" cy="134.5" rx="3.4" ry="2.8"/><ellipse cx="969.0" cy="172.8" rx="3.4" ry="2.8"/><ellipse cx="988.3" cy="169.8" rx="3.4" ry="2.8"/><ellipse cx="1128.6" cy="203.5" rx="3.4" ry="2.8"/><ellipse cx="1003.5" cy="115.6" rx="3.4" ry="2.8"/><ellipse cx="1066.7" cy="157.6" rx="3.4" ry="2.8"/><ellipse cx="962.3" cy="143.0" rx="3.4" ry="2.8"/><ellipse cx="1005.6" cy="238.9" rx="3.4" ry="2.8"/><ellipse cx="999.0" cy="127.3" rx="3.4" ry="2.8"/><ellipse cx="1082.0" cy="209.9" rx="3.4" ry="2.8"/><ellipse cx="991.0" cy="160.7" rx="3.4" ry="2.8"/><ellipse cx="991.7" cy="216.8" rx="3.4" ry="2.8"/><ellipse cx="1005.8" cy="139.6" rx="3.4" ry="2.8"/><ellipse cx="933.4" cy="126.9" rx="3.4" ry="2.8"/><ellipse cx="989.0" cy="166.5" rx="3.4" ry="2.8"/><ellipse cx="1073.7" cy="201.6" rx="3.4" ry="2.8"/><ellipse cx="955.2" cy="134.7" rx="3.4" ry="2.8"/><ellipse cx="982.5" cy="208.4" rx="3.4" ry="2.8"/><ellipse cx="1008.1" cy="161.0" rx="3.4" ry="2.8"/><ellipse cx="984.9" cy="155.0" rx="3.4" ry="2.8"/><ellipse cx="969.2" cy="110.9" rx="3.4" ry="2.8"/><ellipse cx="1041.0" cy="222.3" rx="3.4" ry="2.8"/><ellipse cx="1062.5" cy="238.3" rx="3.4" ry="2.8"/><ellipse cx="969.3" cy="204.9" rx="3.4" ry="2.8"/><ellipse cx="1061.7" cy="243.5" rx="3.4" ry="2.8"/><ellipse cx="1012.7" cy="161.9" rx="3.4" ry="2.8"/><ellipse cx="937.3" cy="160.6" rx="3.4" ry="2.8"/><ellipse cx="992.3" cy="177.1" rx="3.4" ry="2.8"/><ellipse cx="982.4" cy="128.0" rx="3.4" ry="2.8"/><ellipse cx="1007.5" cy="173.9" rx="3.4" ry="2.8"/><ellipse cx="959.2" cy="201.5" rx="3.4" ry="2.8"/><ellipse cx="974.2" cy="118.5" rx="3.4" ry="2.8"/><ellipse cx="995.1" cy="166.2" rx="3.4" ry="2.8"/><ellipse cx="955.9" cy="189.5" rx="3.4" ry="2.8"/><ellipse cx="1068.8" cy="185.2" rx="3.4" ry="2.8"/><ellipse cx="1005.2" cy="157.8" rx="3.4" ry="2.8"/><ellipse cx="937.9" cy="163.6" rx="3.4" ry="2.8"/><ellipse cx="936.2" cy="176.9" rx="3.4" ry="2.8"/><ellipse cx="1045.1" cy="173.0" rx="3.4" ry="2.8"/><ellipse cx="991.7" cy="141.7" rx="3.4" ry="2.8"/><ellipse cx="929.8" cy="155.3" rx="3.4" ry="2.8"/><ellipse cx="1107.8" cy="187.0" rx="3.4" ry="2.8"/><ellipse cx="978.7" cy="201.9" rx="3.4" ry="2.8"/><ellipse cx="963.1" cy="173.0" rx="3.4" ry="2.8"/><ellipse cx="1051.1" cy="243.4" rx="3.4" ry="2.8"/><ellipse cx="999.3" cy="188.5" rx="3.4" ry="2.8"/><ellipse cx="1118.2" cy="216.9" rx="3.4" ry="2.8"/><ellipse cx="1053.6" cy="195.0" rx="3.4" ry="2.8"/><ellipse cx="1009.2" cy="165.3" rx="3.4" ry="2.8"/><ellipse cx="952.8" cy="178.5" rx="3.4" ry="2.8"/><ellipse cx="988.3" cy="157.3" rx="3.4" ry="2.8"/><ellipse cx="964.5" cy="138.1" rx="3.4" ry="2.8"/><ellipse cx="1005.8" cy="139.7" rx="3.4" ry="2.8"/><ellipse cx="1026.2" cy="199.3" rx="3.4" ry="2.8"/><ellipse cx="1037.4" cy="195.5" rx="3.4" ry="2.8"/><ellipse cx="1040.0" cy="225.5" rx="3.4" ry="2.8"/><ellipse cx="989.2" cy="208.8" rx="3.4" ry="2.8"/><ellipse cx="1067.6" cy="204.6" rx="3.4" ry="2.8"/><ellipse cx="1122.6" cy="224.5" rx="3.4" ry="2.8"/><ellipse cx="957.7" cy="195.1" rx="3.4" ry="2.8"/><ellipse cx="1025.6" cy="186.8" rx="3.4" ry="2.8"/><ellipse cx="1000.8" cy="146.4" rx="3.4" ry="2.8"/><ellipse cx="1078.5" cy="182.4" rx="3.4" ry="2.8"/><ellipse cx="973.6" cy="141.1" rx="3.4" ry="2.8"/><ellipse cx="991.6" cy="130.8" rx="3.4" ry="2.8"/><ellipse cx="938.0" cy="115.0" rx="3.4" ry="2.8"/><ellipse cx="948.1" cy="170.5" rx="3.4" ry="2.8"/><ellipse cx="1083.3" cy="174.7" rx="3.4" ry="2.8"/><ellipse cx="977.0" cy="178.6" rx="3.4" ry="2.8"/><ellipse cx="993.4" cy="215.1" rx="3.4" ry="2.8"/><ellipse cx="1097.8" cy="225.1" rx="3.4" ry="2.8"/><ellipse cx="1041.3" cy="166.0" rx="3.4" ry="2.8"/><ellipse cx="1069.9" cy="195.3" rx="3.4" ry="2.8"/><ellipse cx="1095.4" cy="221.2" rx="3.4" ry="2.8"/><ellipse cx="950.7" cy="159.7" rx="3.4" ry="2.8"/><ellipse cx="962.9" cy="107.0" rx="3.4" ry="2.8"/><ellipse cx="1045.0" cy="241.4" rx="3.4" ry="2.8"/><ellipse cx="1066.0" cy="165.8" rx="3.4" ry="2.8"/><ellipse cx="1054.5" cy="162.5" rx="3.4" ry="2.8"/><ellipse cx="949.3" cy="111.1" rx="3.4" ry="2.8"/><ellipse cx="983.6" cy="211.0" rx="3.4" ry="2.8"/><ellipse cx="1036.2" cy="175.0" rx="3.4" ry="2.8"/><ellipse cx="1001.6" cy="149.8" rx="3.4" ry="2.8"/><ellipse cx="1089.1" cy="226.6" rx="3.4" ry="2.8"/><ellipse cx="983.2" cy="161.8" rx="3.4" ry="2.8"/><ellipse cx="1051.6" cy="216.0" rx="3.4" ry="2.8"/><ellipse cx="1067.3" cy="184.2" rx="3.4" ry="2.8"/><ellipse cx="960.9" cy="120.5" rx="3.4" ry="2.8"/><ellipse cx="971.7" cy="174.9" rx="3.4" ry="2.8"/><ellipse cx="1000.0" cy="142.6" rx="3.4" ry="2.8"/><ellipse cx="935.5" cy="114.3" rx="3.4" ry="2.8"/><ellipse cx="941.1" cy="131.5" rx="3.4" ry="2.8"/><ellipse cx="1024.3" cy="165.1" rx="3.4" ry="2.8"/><ellipse cx="936.8" cy="184.8" rx="3.4" ry="2.8"/><ellipse cx="1059.7" cy="195.3" rx="3.4" ry="2.8"/><ellipse cx="1015.9" cy="225.9" rx="3.4" ry="2.8"/><ellipse cx="930.5" cy="129.5" rx="3.4" ry="2.8"/><ellipse cx="949.3" cy="115.8" rx="3.4" ry="2.8"/><ellipse cx="998.6" cy="214.3" rx="3.4" ry="2.8"/><ellipse cx="988.6" cy="179.6" rx="3.4" ry="2.8"/><ellipse cx="927.1" cy="135.5" rx="3.4" ry="2.8"/><ellipse cx="1033.1" cy="222.5" rx="3.4" ry="2.8"/><ellipse cx="1087.4" cy="211.6" rx="3.4" ry="2.8"/><ellipse cx="1006.9" cy="221.4" rx="3.4" ry="2.8"/><ellipse cx="1094.7" cy="216.3" rx="3.4" ry="2.8"/><ellipse cx="1004.6" cy="158.6" rx="3.4" ry="2.8"/><ellipse cx="1059.7" cy="222.6" rx="3.4" ry="2.8"/><ellipse cx="999.8" cy="197.5" rx="3.4" ry="2.8"/><ellipse cx="997.6" cy="145.5" rx="3.4" ry="2.8"/><ellipse cx="944.3" cy="153.5" rx="3.4" ry="2.8"/><ellipse cx="1077.4" cy="184.2" rx="3.4" ry="2.8"/><ellipse cx="946.7" cy="125.7" rx="3.4" ry="2.8"/><ellipse cx="996.8" cy="167.5" rx="3.4" ry="2.8"/><ellipse cx="1007.7" cy="151.6" rx="3.4" ry="2.8"/><ellipse cx="1035.1" cy="243.1" rx="3.4" ry="2.8"/><ellipse cx="990.8" cy="214.3" rx="3.4" ry="2.8"/><ellipse cx="970.0" cy="164.2" rx="3.4" ry="2.8"/><ellipse cx="981.0" cy="203.2" rx="3.4" ry="2.8"/><ellipse cx="962.6" cy="156.8" rx="3.4" ry="2.8"/><ellipse cx="1055.1" cy="159.8" rx="3.4" ry="2.8"/><ellipse cx="1051.3" cy="233.7" rx="3.4" ry="2.8"/><ellipse cx="1100.6" cy="196.2" rx="3.4" ry="2.8"/><ellipse cx="1028.5" cy="187.3" rx="3.4" ry="2.8"/><ellipse cx="1066.4" cy="170.7" rx="3.4" ry="2.8"/><ellipse cx="1061.4" cy="165.8" rx="3.4" ry="2.8"/><ellipse cx="1003.9" cy="138.4" rx="3.4" ry="2.8"/><ellipse cx="1048.1" cy="188.1" rx="3.4" ry="2.8"/><ellipse cx="1053.6" cy="169.8" rx="3.4" ry="2.8"/><ellipse cx="1046.6" cy="191.2" rx="3.4" ry="2.8"/><ellipse cx="1076.0" cy="248.5" rx="3.4" ry="2.8"/><ellipse cx="1007.4" cy="230.8" rx="3.4" ry="2.8"/><ellipse cx="1025.7" cy="138.9" rx="3.4" ry="2.8"/><ellipse cx="1097.2" cy="199.1" rx="3.4" ry="2.8"/><ellipse cx="1117.2" cy="225.2" rx="3.4" ry="2.8"/><ellipse cx="1088.5" cy="179.2" rx="3.4" ry="2.8"/><ellipse cx="1103.4" cy="208.2" rx="3.4" ry="2.8"/><ellipse cx="1018.1" cy="182.8" rx="3.4" ry="2.8"/><ellipse cx="982.3" cy="198.3" rx="3.4" ry="2.8"/><ellipse cx="940.1" cy="185.5" rx="3.4" ry="2.8"/><ellipse cx="1086.4" cy="176.2" rx="3.4" ry="2.8"/><ellipse cx="1100.3" cy="216.8" rx="3.4" ry="2.8"/><ellipse cx="1037.6" cy="236.3" rx="3.4" ry="2.8"/><ellipse cx="1000.0" cy="119.5" rx="3.4" ry="2.8"/><ellipse cx="932.5" cy="155.1" rx="3.4" ry="2.8"/><ellipse cx="1102.3" cy="225.9" rx="3.4" ry="2.8"/><ellipse cx="949.1" cy="131.3" rx="3.4" ry="2.8"/><ellipse cx="1004.7" cy="228.1" rx="3.4" ry="2.8"/><ellipse cx="1051.5" cy="235.8" rx="3.4" ry="2.8"/><ellipse cx="967.4" cy="196.2" rx="3.4" ry="2.8"/><ellipse cx="1104.7" cy="210.5" rx="3.4" ry="2.8"/><ellipse cx="965.4" cy="201.9" rx="3.4" ry="2.8"/><ellipse cx="994.6" cy="150.7" rx="3.4" ry="2.8"/><ellipse cx="1048.6" cy="205.8" rx="3.4" ry="2.8"/><ellipse cx="962.0" cy="123.6" rx="3.4" ry="2.8"/><ellipse cx="1067.2" cy="172.6" rx="3.4" ry="2.8"/><ellipse cx="951.5" cy="121.8" rx="3.4" ry="2.8"/><ellipse cx="1117.9" cy="193.5" rx="3.4" ry="2.8"/><ellipse cx="998.3" cy="133.4" rx="3.4" ry="2.8"/><ellipse cx="1128.9" cy="205.3" rx="3.4" ry="2.8"/><ellipse cx="988.6" cy="164.2" rx="3.4" ry="2.8"/><ellipse cx="955.0" cy="196.5" rx="3.4" ry="2.8"/><ellipse cx="1012.1" cy="223.9" rx="3.4" ry="2.8"/><ellipse cx="1008.8" cy="171.2" rx="3.4" ry="2.8"/><ellipse cx="1028.8" cy="241.5" rx="3.4" ry="2.8"/><ellipse cx="996.0" cy="207.0" rx="3.4" ry="2.8"/><ellipse cx="973.2" cy="189.0" rx="3.4" ry="2.8"/><ellipse cx="1063.7" cy="171.0" rx="3.4" ry="2.8"/><ellipse cx="1077.4" cy="192.2" rx="3.4" ry="2.8"/><ellipse cx="1010.9" cy="145.8" rx="3.4" ry="2.8"/><ellipse cx="985.1" cy="205.8" rx="3.4" ry="2.8"/><ellipse cx="1009.4" cy="124.2" rx="3.4" ry="2.8"/><ellipse cx="1011.2" cy="154.5" rx="3.4" ry="2.8"/><ellipse cx="1093.2" cy="228.3" rx="3.4" ry="2.8"/><ellipse cx="1046.1" cy="184.2" rx="3.4" ry="2.8"/><ellipse cx="943.1" cy="157.7" rx="3.4" ry="2.8"/><ellipse cx="1001.8" cy="209.8" rx="3.4" ry="2.8"/><ellipse cx="1062.2" cy="154.9" rx="3.4" ry="2.8"/><ellipse cx="1109.1" cy="242.7" rx="3.4" ry="2.8"/><ellipse cx="1021.2" cy="157.5" rx="3.4" ry="2.8"/><ellipse cx="1020.3" cy="150.8" rx="3.4" ry="2.8"/><ellipse cx="1062.5" cy="192.8" rx="3.4" ry="2.8"/><ellipse cx="1094.9" cy="199.2" rx="3.4" ry="2.8"/><ellipse cx="938.6" cy="172.0" rx="3.4" ry="2.8"/><ellipse cx="1007.3" cy="200.1" rx="3.4" ry="2.8"/><ellipse cx="967.9" cy="158.6" rx="3.4" ry="2.8"/><ellipse cx="954.3" cy="162.2" rx="3.4" ry="2.8"/><ellipse cx="959.2" cy="199.1" rx="3.4" ry="2.8"/><ellipse cx="1052.7" cy="212.6" rx="3.4" ry="2.8"/><ellipse cx="1074.8" cy="217.5" rx="3.4" ry="2.8"/><ellipse cx="949.5" cy="173.0" rx="3.4" ry="2.8"/><ellipse cx="1118.6" cy="234.9" rx="3.4" ry="2.8"/><ellipse cx="930.0" cy="155.9" rx="3.4" ry="2.8"/><ellipse cx="1034.9" cy="182.4" rx="3.4" ry="2.8"/><ellipse cx="986.8" cy="178.6" rx="3.4" ry="2.8"/><ellipse cx="950.5" cy="187.3" rx="3.4" ry="2.8"/><ellipse cx="951.6" cy="117.8" rx="3.4" ry="2.8"/><ellipse cx="1030.0" cy="147.6" rx="3.4" ry="2.8"/><ellipse cx="969.6" cy="170.5" rx="3.4" ry="2.8"/><ellipse cx="1039.4" cy="171.6" rx="3.4" ry="2.8"/><ellipse cx="1008.3" cy="193.8" rx="3.4" ry="2.8"/><ellipse cx="1102.1" cy="244.7" rx="3.4" ry="2.8"/><ellipse cx="1075.6" cy="208.3" rx="3.4" ry="2.8"/><ellipse cx="957.1" cy="182.0" rx="3.4" ry="2.8"/><ellipse cx="930.9" cy="121.0" rx="3.4" ry="2.8"/><ellipse cx="1056.8" cy="227.9" rx="3.4" ry="2.8"/><ellipse cx="934.4" cy="165.3" rx="3.4" ry="2.8"/><ellipse cx="941.1" cy="142.8" rx="3.4" ry="2.8"/><ellipse cx="992.4" cy="175.9" rx="3.4" ry="2.8"/><ellipse cx="1059.1" cy="233.6" rx="3.4" ry="2.8"/><ellipse cx="1119.0" cy="187.3" rx="3.4" ry="2.8"/><ellipse cx="1027.7" cy="236.1" rx="3.4" ry="2.8"/><ellipse cx="1005.9" cy="148.4" rx="3.4" ry="2.8"/><ellipse cx="1000.4" cy="167.2" rx="3.4" ry="2.8"/><ellipse cx="1022.8" cy="157.0" rx="3.4" ry="2.8"/><ellipse cx="1013.3" cy="170.4" rx="3.4" ry="2.8"/><ellipse cx="937.7" cy="181.5" rx="3.4" ry="2.8"/><ellipse cx="1037.2" cy="163.0" rx="3.4" ry="2.8"/><ellipse cx="970.6" cy="119.4" rx="3.4" ry="2.8"/><ellipse cx="1001.2" cy="150.6" rx="3.4" ry="2.8"/><ellipse cx="1024.2" cy="138.4" rx="3.4" ry="2.8"/><ellipse cx="1078.6" cy="175.7" rx="3.4" ry="2.8"/><ellipse cx="1046.6" cy="244.3" rx="3.4" ry="2.8"/><ellipse cx="1000.0" cy="191.7" rx="3.4" ry="2.8"/><ellipse cx="1000.6" cy="148.7" rx="3.4" ry="2.8"/><ellipse cx="1049.9" cy="190.5" rx="3.4" ry="2.8"/><ellipse cx="989.6" cy="177.2" rx="3.4" ry="2.8"/><ellipse cx="1030.8" cy="214.3" rx="3.4" ry="2.8"/><ellipse cx="935.9" cy="118.5" rx="3.4" ry="2.8"/><ellipse cx="976.7" cy="144.2" rx="3.4" ry="2.8"/><ellipse cx="1088.1" cy="166.7" rx="3.4" ry="2.8"/><ellipse cx="983.6" cy="203.6" rx="3.4" ry="2.8"/><ellipse cx="990.1" cy="223.8" rx="3.4" ry="2.8"/><ellipse cx="1086.6" cy="198.1" rx="3.4" ry="2.8"/><ellipse cx="934.8" cy="195.6" rx="3.4" ry="2.8"/><ellipse cx="1038.2" cy="239.5" rx="3.4" ry="2.8"/><ellipse cx="1116.5" cy="214.1" rx="3.4" ry="2.8"/><ellipse cx="1076.1" cy="165.7" rx="3.4" ry="2.8"/><ellipse cx="1064.3" cy="247.6" rx="3.4" ry="2.8"/><ellipse cx="1085.2" cy="168.9" rx="3.4" ry="2.8"/><ellipse cx="1016.8" cy="168.3" rx="3.4" ry="2.8"/><ellipse cx="949.2" cy="151.4" rx="3.4" ry="2.8"/><ellipse cx="1061.6" cy="184.5" rx="3.4" ry="2.8"/><ellipse cx="948.2" cy="122.2" rx="3.4" ry="2.8"/><ellipse cx="1039.8" cy="238.7" rx="3.4" ry="2.8"/><ellipse cx="968.3" cy="165.1" rx="3.4" ry="2.8"/><ellipse cx="1034.9" cy="226.7" rx="3.4" ry="2.8"/><ellipse cx="1013.5" cy="159.7" rx="3.4" ry="2.8"/><ellipse cx="1063.2" cy="239.6" rx="3.4" ry="2.8"/><ellipse cx="1026.2" cy="205.0" rx="3.4" ry="2.8"/><ellipse cx="1004.5" cy="217.9" rx="3.4" ry="2.8"/><ellipse cx="959.1" cy="189.9" rx="3.4" ry="2.8"/><ellipse cx="966.4" cy="155.2" rx="3.4" ry="2.8"/><ellipse cx="958.6" cy="155.7" rx="3.4" ry="2.8"/><ellipse cx="1046.2" cy="180.4" rx="3.4" ry="2.8"/><ellipse cx="1004.7" cy="188.3" rx="3.4" ry="2.8"/><ellipse cx="1044.7" cy="174.7" rx="3.4" ry="2.8"/><ellipse cx="978.6" cy="210.9" rx="3.4" ry="2.8"/><ellipse cx="1002.4" cy="208.9" rx="3.4" ry="2.8"/><ellipse cx="1013.7" cy="194.6" rx="3.4" ry="2.8"/><ellipse cx="1039.7" cy="246.5" rx="3.4" ry="2.8"/><ellipse cx="1111.5" cy="171.1" rx="3.4" ry="2.8"/><ellipse cx="1024.8" cy="138.5" rx="3.4" ry="2.8"/><ellipse cx="1041.5" cy="185.0" rx="3.4" ry="2.8"/><ellipse cx="993.3" cy="127.0" rx="3.4" ry="2.8"/><ellipse cx="1119.9" cy="215.9" rx="3.4" ry="2.8"/><ellipse cx="965.8" cy="182.6" rx="3.4" ry="2.8"/><ellipse cx="1081.8" cy="189.5" rx="3.4" ry="2.8"/><ellipse cx="1109.4" cy="239.0" rx="3.4" ry="2.8"/><ellipse cx="1066.3" cy="157.8" rx="3.4" ry="2.8"/><ellipse cx="1120.0" cy="209.2" rx="3.4" ry="2.8"/><ellipse cx="976.1" cy="107.9" rx="3.4" ry="2.8"/><ellipse cx="985.1" cy="141.7" rx="3.4" ry="2.8"/><ellipse cx="952.0" cy="175.3" rx="3.4" ry="2.8"/><ellipse cx="980.9" cy="146.3" rx="3.4" ry="2.8"/><ellipse cx="981.9" cy="178.8" rx="3.4" ry="2.8"/><ellipse cx="1101.2" cy="228.9" rx="3.4" ry="2.8"/><ellipse cx="1049.9" cy="183.8" rx="3.4" ry="2.8"/><ellipse cx="1075.5" cy="182.5" rx="3.4" ry="2.8"/><ellipse cx="1060.3" cy="238.3" rx="3.4" ry="2.8"/><ellipse cx="999.3" cy="219.2" rx="3.4" ry="2.8"/><ellipse cx="972.9" cy="170.7" rx="3.4" ry="2.8"/><ellipse cx="1000.9" cy="210.7" rx="3.4" ry="2.8"/><ellipse cx="1118.4" cy="178.3" rx="3.4" ry="2.8"/><ellipse cx="1041.0" cy="155.6" rx="3.4" ry="2.8"/><ellipse cx="1126.5" cy="204.3" rx="3.4" ry="2.8"/><ellipse cx="1100.3" cy="218.8" rx="3.4" ry="2.8"/><ellipse cx="1033.0" cy="156.4" rx="3.4" ry="2.8"/><ellipse cx="1069.5" cy="165.5" rx="3.4" ry="2.8"/><ellipse cx="1024.8" cy="185.8" rx="3.4" ry="2.8"/><ellipse cx="1124.4" cy="186.4" rx="3.4" ry="2.8"/><ellipse cx="952.7" cy="148.5" rx="3.4" ry="2.8"/><ellipse cx="993.8" cy="206.8" rx="3.4" ry="2.8"/><ellipse cx="1101.0" cy="240.6" rx="3.4" ry="2.8"/><ellipse cx="1046.1" cy="204.4" rx="3.4" ry="2.8"/><ellipse cx="1050.6" cy="193.9" rx="3.4" ry="2.8"/><ellipse cx="1031.4" cy="244.1" rx="3.4" ry="2.8"/><ellipse cx="931.5" cy="121.2" rx="3.4" ry="2.8"/><ellipse cx="1103.2" cy="243.8" rx="3.4" ry="2.8"/><ellipse cx="1095.1" cy="204.8" rx="3.4" ry="2.8"/><ellipse cx="1031.6" cy="189.1" rx="3.4" ry="2.8"/><ellipse cx="1080.3" cy="222.1" rx="3.4" ry="2.8"/><ellipse cx="1087.8" cy="246.4" rx="3.4" ry="2.8"/><ellipse cx="993.8" cy="155.3" rx="3.4" ry="2.8"/><ellipse cx="978.8" cy="189.9" rx="3.4" ry="2.8"/><ellipse cx="1032.9" cy="153.6" rx="3.4" ry="2.8"/><ellipse cx="1063.4" cy="171.0" rx="3.4" ry="2.8"/><ellipse cx="961.0" cy="126.7" rx="3.4" ry="2.8"/><ellipse cx="977.0" cy="174.5" rx="3.4" ry="2.8"/><ellipse cx="973.8" cy="199.9" rx="3.4" ry="2.8"/><ellipse cx="978.4" cy="180.8" rx="3.4" ry="2.8"/><ellipse cx="962.8" cy="138.7" rx="3.4" ry="2.8"/><ellipse cx="986.8" cy="152.8" rx="3.4" ry="2.8"/><ellipse cx="1073.9" cy="202.7" rx="3.4" ry="2.8"/><ellipse cx="1087.0" cy="183.3" rx="3.4" ry="2.8"/><ellipse cx="975.1" cy="136.6" rx="3.4" ry="2.8"/><ellipse cx="1001.0" cy="156.7" rx="3.4" ry="2.8"/><ellipse cx="1004.4" cy="124.7" rx="3.4" ry="2.8"/><ellipse cx="1086.9" cy="218.4" rx="3.4" ry="2.8"/><ellipse cx="994.3" cy="219.6" rx="3.4" ry="2.8"/><ellipse cx="1002.8" cy="146.6" rx="3.4" ry="2.8"/><ellipse cx="1046.6" cy="212.5" rx="3.4" ry="2.8"/><ellipse cx="1022.6" cy="223.7" rx="3.4" ry="2.8"/><ellipse cx="952.8" cy="203.3" rx="3.4" ry="2.8"/><ellipse cx="1105.9" cy="210.3" rx="3.4" ry="2.8"/><ellipse cx="1001.3" cy="122.4" rx="3.4" ry="2.8"/><ellipse cx="939.7" cy="131.8" rx="3.4" ry="2.8"/><ellipse cx="996.2" cy="112.1" rx="3.4" ry="2.8"/><ellipse cx="987.9" cy="131.5" rx="3.4" ry="2.8"/><ellipse cx="950.2" cy="181.4" rx="3.4" ry="2.8"/><ellipse cx="1035.8" cy="187.3" rx="3.4" ry="2.8"/><ellipse cx="1081.3" cy="181.4" rx="3.4" ry="2.8"/><ellipse cx="970.7" cy="116.1" rx="3.4" ry="2.8"/><ellipse cx="988.4" cy="215.3" rx="3.4" ry="2.8"/><ellipse cx="1114.5" cy="178.1" rx="3.4" ry="2.8"/><ellipse cx="957.9" cy="152.9" rx="3.4" ry="2.8"/><ellipse cx="1041.5" cy="147.7" rx="3.4" ry="2.8"/><ellipse cx="1087.5" cy="246.0" rx="3.4" ry="2.8"/><ellipse cx="1019.2" cy="192.5" rx="3.4" ry="2.8"/><ellipse cx="1098.4" cy="172.4" rx="3.4" ry="2.8"/><ellipse cx="1081.4" cy="163.1" rx="3.4" ry="2.8"/><ellipse cx="935.6" cy="128.6" rx="3.4" ry="2.8"/><ellipse cx="968.4" cy="107.8" rx="3.4" ry="2.8"/><ellipse cx="1027.3" cy="199.7" rx="3.4" ry="2.8"/><ellipse cx="1020.3" cy="131.5" rx="3.4" ry="2.8"/><ellipse cx="928.1" cy="149.1" rx="3.4" ry="2.8"/><ellipse cx="933.5" cy="142.8" rx="3.4" ry="2.8"/><ellipse cx="1051.8" cy="158.6" rx="3.4" ry="2.8"/><ellipse cx="1022.0" cy="195.5" rx="3.4" ry="2.8"/><ellipse cx="990.0" cy="156.7" rx="3.4" ry="2.8"/><ellipse cx="1106.2" cy="189.2" rx="3.4" ry="2.8"/><ellipse cx="1010.5" cy="183.3" rx="3.4" ry="2.8"/><ellipse cx="1019.4" cy="153.2" rx="3.4" ry="2.8"/><ellipse cx="1116.8" cy="228.7" rx="3.4" ry="2.8"/><ellipse cx="984.2" cy="129.8" rx="3.4" ry="2.8"/><ellipse cx="996.2" cy="186.1" rx="3.4" ry="2.8"/><ellipse cx="1026.9" cy="238.8" rx="3.4" ry="2.8"/><ellipse cx="1030.4" cy="159.9" rx="3.4" ry="2.8"/><ellipse cx="980.2" cy="188.3" rx="3.4" ry="2.8"/><ellipse cx="1054.5" cy="172.0" rx="3.4" ry="2.8"/><ellipse cx="943.4" cy="177.1" rx="3.4" ry="2.8"/><ellipse cx="1023.8" cy="198.0" rx="3.4" ry="2.8"/><ellipse cx="1095.0" cy="220.7" rx="3.4" ry="2.8"/><ellipse cx="1028.3" cy="166.8" rx="3.4" ry="2.8"/><ellipse cx="1038.8" cy="242.2" rx="3.4" ry="2.8"/><ellipse cx="1025.4" cy="174.9" rx="3.4" ry="2.8"/><ellipse cx="1028.1" cy="154.7" rx="3.4" ry="2.8"/><ellipse cx="965.3" cy="136.2" rx="3.4" ry="2.8"/><ellipse cx="1096.0" cy="221.5" rx="3.4" ry="2.8"/><ellipse cx="1065.4" cy="220.6" rx="3.4" ry="2.8"/><ellipse cx="1070.9" cy="222.4" rx="3.4" ry="2.8"/><ellipse cx="995.3" cy="219.8" rx="3.4" ry="2.8"/><ellipse cx="1050.2" cy="237.1" rx="3.4" ry="2.8"/><ellipse cx="1116.2" cy="198.4" rx="3.4" ry="2.8"/><ellipse cx="963.1" cy="205.7" rx="3.4" ry="2.8"/><ellipse cx="1080.4" cy="247.8" rx="3.4" ry="2.8"/><ellipse cx="1102.9" cy="216.5" rx="3.4" ry="2.8"/><ellipse cx="1086.0" cy="231.7" rx="3.4" ry="2.8"/><ellipse cx="1041.7" cy="241.8" rx="3.4" ry="2.8"/><ellipse cx="1056.0" cy="176.3" rx="3.4" ry="2.8"/><ellipse cx="1003.8" cy="156.2" rx="3.4" ry="2.8"/><ellipse cx="929.7" cy="128.3" rx="3.4" ry="2.8"/><ellipse cx="1059.0" cy="217.4" rx="3.4" ry="2.8"/><ellipse cx="1067.4" cy="179.8" rx="3.4" ry="2.8"/><ellipse cx="989.8" cy="144.6" rx="3.4" ry="2.8"/><ellipse cx="963.4" cy="198.9" rx="3.4" ry="2.8"/><ellipse cx="1065.7" cy="241.6" rx="3.4" ry="2.8"/><ellipse cx="1120.2" cy="194.8" rx="3.4" ry="2.8"/><ellipse cx="1122.3" cy="217.3" rx="3.4" ry="2.8"/><ellipse cx="993.3" cy="145.5" rx="3.4" ry="2.8"/><ellipse cx="1032.1" cy="175.7" rx="3.4" ry="2.8"/><ellipse cx="1034.8" cy="173.6" rx="3.4" ry="2.8"/><ellipse cx="965.8" cy="189.2" rx="3.4" ry="2.8"/><ellipse cx="974.5" cy="152.5" rx="3.4" ry="2.8"/><ellipse cx="939.3" cy="112.6" rx="3.4" ry="2.8"/><ellipse cx="997.8" cy="181.4" rx="3.4" ry="2.8"/><ellipse cx="1119.5" cy="197.7" rx="3.4" ry="2.8"/><ellipse cx="1010.0" cy="164.0" rx="3.4" ry="2.8"/><ellipse cx="973.3" cy="173.7" rx="3.4" ry="2.8"/><ellipse cx="1013.8" cy="204.4" rx="3.4" ry="2.8"/><ellipse cx="1081.3" cy="185.5" rx="3.4" ry="2.8"/><ellipse cx="1056.4" cy="241.1" rx="3.4" ry="2.8"/><ellipse cx="955.8" cy="184.9" rx="3.4" ry="2.8"/><ellipse cx="980.9" cy="209.3" rx="3.4" ry="2.8"/><ellipse cx="1082.2" cy="198.9" rx="3.4" ry="2.8"/><ellipse cx="1069.7" cy="171.2" rx="3.4" ry="2.8"/><ellipse cx="1022.3" cy="243.4" rx="3.4" ry="2.8"/><ellipse cx="939.6" cy="144.1" rx="3.4" ry="2.8"/><ellipse cx="1067.4" cy="168.5" rx="3.4" ry="2.8"/><ellipse cx="951.2" cy="166.7" rx="3.4" ry="2.8"/><ellipse cx="1042.5" cy="212.9" rx="3.4" ry="2.8"/><ellipse cx="1007.6" cy="199.2" rx="3.4" ry="2.8"/><ellipse cx="1064.7" cy="194.3" rx="3.4" ry="2.8"/><ellipse cx="951.4" cy="112.9" rx="3.4" ry="2.8"/><ellipse cx="939.9" cy="161.7" rx="3.4" ry="2.8"/><ellipse cx="1120.5" cy="228.6" rx="3.4" ry="2.8"/><ellipse cx="1024.8" cy="190.2" rx="3.4" ry="2.8"/><ellipse cx="949.6" cy="149.1" rx="3.4" ry="2.8"/><ellipse cx="1029.3" cy="164.5" rx="3.4" ry="2.8"/><ellipse cx="1006.8" cy="233.6" rx="3.4" ry="2.8"/><ellipse cx="1070.2" cy="170.0" rx="3.4" ry="2.8"/><ellipse cx="1000.0" cy="168.3" rx="3.4" ry="2.8"/><ellipse cx="1017.9" cy="150.8" rx="3.4" ry="2.8"/><ellipse cx="1052.9" cy="164.6" rx="3.4" ry="2.8"/><ellipse cx="987.3" cy="217.0" rx="3.4" ry="2.8"/><ellipse cx="1018.3" cy="173.7" rx="3.4" ry="2.8"/><ellipse cx="1105.3" cy="170.9" rx="3.4" ry="2.8"/><ellipse cx="1002.1" cy="235.2" rx="3.4" ry="2.8"/><ellipse cx="1125.2" cy="218.9" rx="3.4" ry="2.8"/><ellipse cx="1007.3" cy="202.3" rx="3.4" ry="2.8"/><ellipse cx="1073.4" cy="242.7" rx="3.4" ry="2.8"/><ellipse cx="1059.4" cy="202.0" rx="3.4" ry="2.8"/><ellipse cx="1014.2" cy="199.7" rx="3.4" ry="2.8"/><ellipse cx="995.0" cy="208.2" rx="3.4" ry="2.8"/><ellipse cx="928.4" cy="165.3" rx="3.4" ry="2.8"/><ellipse cx="937.3" cy="189.5" rx="3.4" ry="2.8"/><ellipse cx="1093.4" cy="226.4" rx="3.4" ry="2.8"/><ellipse cx="1005.2" cy="190.6" rx="3.4" ry="2.8"/><ellipse cx="1071.0" cy="215.4" rx="3.4" ry="2.8"/><ellipse cx="1078.1" cy="188.9" rx="3.4" ry="2.8"/><ellipse cx="976.6" cy="207.3" rx="3.4" ry="2.8"/><ellipse cx="1040.1" cy="183.9" rx="3.4" ry="2.8"/><ellipse cx="1073.9" cy="242.8" rx="3.4" ry="2.8"/><ellipse cx="981.3" cy="187.2" rx="3.4" ry="2.8"/><ellipse cx="1033.3" cy="176.8" rx="3.4" ry="2.8"/><ellipse cx="959.2" cy="195.7" rx="3.4" ry="2.8"/><ellipse cx="1108.2" cy="201.2" rx="3.4" ry="2.8"/><ellipse cx="984.3" cy="221.9" rx="3.4" ry="2.8"/><ellipse cx="1011.1" cy="126.1" rx="3.4" ry="2.8"/><ellipse cx="1049.2" cy="171.8" rx="3.4" ry="2.8"/><ellipse cx="1041.7" cy="243.3" rx="3.4" ry="2.8"/><ellipse cx="997.3" cy="215.0" rx="3.4" ry="2.8"/><ellipse cx="940.4" cy="148.6" rx="3.4" ry="2.8"/><ellipse cx="1066.8" cy="205.1" rx="3.4" ry="2.8"/><ellipse cx="981.1" cy="157.0" rx="3.4" ry="2.8"/><ellipse cx="1001.8" cy="200.3" rx="3.4" ry="2.8"/><ellipse cx="955.5" cy="150.1" rx="3.4" ry="2.8"/><ellipse cx="1103.9" cy="240.4" rx="3.4" ry="2.8"/><ellipse cx="976.2" cy="130.8" rx="3.4" ry="2.8"/><ellipse cx="949.1" cy="117.4" rx="3.4" ry="2.8"/><ellipse cx="1087.8" cy="212.2" rx="3.4" ry="2.8"/><ellipse cx="979.2" cy="175.9" rx="3.4" ry="2.8"/><ellipse cx="1092.9" cy="229.6" rx="3.4" ry="2.8"/><ellipse cx="968.3" cy="207.0" rx="3.4" ry="2.8"/><ellipse cx="1022.2" cy="150.5" rx="3.4" ry="2.8"/><ellipse cx="1015.6" cy="222.8" rx="3.4" ry="2.8"/><ellipse cx="1041.8" cy="193.3" rx="3.4" ry="2.8"/><ellipse cx="970.7" cy="194.9" rx="3.4" ry="2.8"/><ellipse cx="995.0" cy="168.8" rx="3.4" ry="2.8"/><ellipse cx="1013.4" cy="225.0" rx="3.4" ry="2.8"/><ellipse cx="1112.6" cy="203.2" rx="3.4" ry="2.8"/><ellipse cx="960.1" cy="156.5" rx="3.4" ry="2.8"/><ellipse cx="1106.0" cy="231.5" rx="3.4" ry="2.8"/><ellipse cx="971.4" cy="157.8" rx="3.4" ry="2.8"/><ellipse cx="971.9" cy="209.2" rx="3.4" ry="2.8"/><ellipse cx="1036.4" cy="189.6" rx="3.4" ry="2.8"/><ellipse cx="944.5" cy="111.4" rx="3.4" ry="2.8"/><ellipse cx="1048.0" cy="230.0" rx="3.4" ry="2.8"/><ellipse cx="937.8" cy="119.8" rx="3.4" ry="2.8"/><ellipse cx="961.2" cy="144.5" rx="3.4" ry="2.8"/><ellipse cx="1061.7" cy="205.8" rx="3.4" ry="2.8"/><ellipse cx="991.1" cy="172.8" rx="3.4" ry="2.8"/><ellipse cx="984.3" cy="186.4" rx="3.4" ry="2.8"/><ellipse cx="998.0" cy="157.2" rx="3.4" ry="2.8"/><ellipse cx="976.0" cy="147.4" rx="3.4" ry="2.8"/><ellipse cx="988.6" cy="190.8" rx="3.4" ry="2.8"/><ellipse cx="980.1" cy="121.4" rx="3.4" ry="2.8"/><ellipse cx="1098.4" cy="173.0" rx="3.4" ry="2.8"/><ellipse cx="1029.9" cy="150.2" rx="3.4" ry="2.8"/><ellipse cx="1106.9" cy="214.3" rx="3.4" ry="2.8"/><ellipse cx="1052.6" cy="200.6" rx="3.4" ry="2.8"/><ellipse cx="1066.9" cy="177.6" rx="3.4" ry="2.8"/><ellipse cx="1009.7" cy="161.6" rx="3.4" ry="2.8"/><ellipse cx="1028.3" cy="172.9" rx="3.4" ry="2.8"/><ellipse cx="1033.4" cy="182.3" rx="3.4" ry="2.8"/><ellipse cx="1086.7" cy="234.4" rx="3.4" ry="2.8"/><ellipse cx="970.9" cy="108.2" rx="3.4" ry="2.8"/><ellipse cx="1088.3" cy="195.0" rx="3.4" ry="2.8"/><ellipse cx="983.5" cy="132.7" rx="3.4" ry="2.8"/><ellipse cx="1103.1" cy="226.2" rx="3.4" ry="2.8"/><ellipse cx="1065.2" cy="205.3" rx="3.4" ry="2.8"/><ellipse cx="1077.6" cy="170.9" rx="3.4" ry="2.8"/><ellipse cx="1006.5" cy="185.2" rx="3.4" ry="2.8"/><ellipse cx="1113.0" cy="226.1" rx="3.4" ry="2.8"/><ellipse cx="940.2" cy="140.8" rx="3.4" ry="2.8"/><ellipse cx="1124.1" cy="183.8" rx="3.4" ry="2.8"/><ellipse cx="1030.5" cy="149.9" rx="3.4" ry="2.8"/><ellipse cx="1101.7" cy="179.9" rx="3.4" ry="2.8"/><ellipse cx="955.4" cy="161.5" rx="3.4" ry="2.8"/><ellipse cx="1040.3" cy="241.2" rx="3.4" ry="2.8"/><ellipse cx="1014.3" cy="215.5" rx="3.4" ry="2.8"/><ellipse cx="1046.3" cy="189.4" rx="3.4" ry="2.8"/><ellipse cx="960.5" cy="172.3" rx="3.4" ry="2.8"/><ellipse cx="1109.6" cy="202.8" rx="3.4" ry="2.8"/><ellipse cx="969.4" cy="169.8" rx="3.4" ry="2.8"/><ellipse cx="1036.4" cy="153.8" rx="3.4" ry="2.8"/><ellipse cx="1043.4" cy="196.6" rx="3.4" ry="2.8"/><ellipse cx="928.7" cy="136.9" rx="3.4" ry="2.8"/><ellipse cx="1092.0" cy="210.0" rx="3.4" ry="2.8"/><ellipse cx="953.8" cy="134.3" rx="3.4" ry="2.8"/><ellipse cx="931.1" cy="128.7" rx="3.4" ry="2.8"/><ellipse cx="990.9" cy="142.6" rx="3.4" ry="2.8"/><ellipse cx="1055.2" cy="194.2" rx="3.4" ry="2.8"/><ellipse cx="1040.5" cy="160.5" rx="3.4" ry="2.8"/><ellipse cx="974.2" cy="145.4" rx="3.4" ry="2.8"/><ellipse cx="1113.1" cy="202.8" rx="3.4" ry="2.8"/><ellipse cx="938.5" cy="132.0" rx="3.4" ry="2.8"/><ellipse cx="973.6" cy="147.0" rx="3.4" ry="2.8"/><ellipse cx="1098.1" cy="206.6" rx="3.4" ry="2.8"/><ellipse cx="1125.8" cy="202.1" rx="3.4" ry="2.8"/><ellipse cx="1053.7" cy="160.6" rx="3.4" ry="2.8"/><ellipse cx="1072.1" cy="176.6" rx="3.4" ry="2.8"/><ellipse cx="937.1" cy="176.3" rx="3.4" ry="2.8"/><ellipse cx="1003.7" cy="182.0" rx="3.4" ry="2.8"/><ellipse cx="992.7" cy="126.5" rx="3.4" ry="2.8"/><ellipse cx="1046.5" cy="237.6" rx="3.4" ry="2.8"/><ellipse cx="962.0" cy="177.5" rx="3.4" ry="2.8"/><ellipse cx="1027.4" cy="216.0" rx="3.4" ry="2.8"/><ellipse cx="931.9" cy="132.5" rx="3.4" ry="2.8"/><ellipse cx="1020.9" cy="227.4" rx="3.4" ry="2.8"/><ellipse cx="1052.0" cy="213.1" rx="3.4" ry="2.8"/><ellipse cx="1081.0" cy="209.7" rx="3.4" ry="2.8"/><ellipse cx="955.3" cy="128.5" rx="3.4" ry="2.8"/><ellipse cx="942.7" cy="111.8" rx="3.4" ry="2.8"/><ellipse cx="1098.5" cy="192.2" rx="3.4" ry="2.8"/><ellipse cx="948.1" cy="146.6" rx="3.4" ry="2.8"/><ellipse cx="964.2" cy="121.3" rx="3.4" ry="2.8"/><ellipse cx="966.1" cy="197.9" rx="3.4" ry="2.8"/><ellipse cx="959.5" cy="129.5" rx="3.4" ry="2.8"/><ellipse cx="1034.8" cy="159.4" rx="3.4" ry="2.8"/><ellipse cx="955.7" cy="187.4" rx="3.4" ry="2.8"/><ellipse cx="1029.1" cy="161.3" rx="3.4" ry="2.8"/><ellipse cx="1107.0" cy="190.2" rx="3.4" ry="2.8"/><ellipse cx="1005.4" cy="183.6" rx="3.4" ry="2.8"/><ellipse cx="1003.6" cy="207.7" rx="3.4" ry="2.8"/><ellipse cx="1001.3" cy="207.5" rx="3.4" ry="2.8"/><ellipse cx="983.3" cy="147.5" rx="3.4" ry="2.8"/><ellipse cx="1078.8" cy="218.7" rx="3.4" ry="2.8"/><ellipse cx="1068.4" cy="239.1" rx="3.4" ry="2.8"/><ellipse cx="963.1" cy="162.0" rx="3.4" ry="2.8"/><ellipse cx="1099.8" cy="216.0" rx="3.4" ry="2.8"/><ellipse cx="1076.8" cy="230.6" rx="3.4" ry="2.8"/><ellipse cx="999.2" cy="192.8" rx="3.4" ry="2.8"/><ellipse cx="1121.5" cy="235.2" rx="3.4" ry="2.8"/><ellipse cx="1043.3" cy="234.0" rx="3.4" ry="2.8"/><ellipse cx="1059.4" cy="244.2" rx="3.4" ry="2.8"/><ellipse cx="954.5" cy="163.5" rx="3.4" ry="2.8"/><ellipse cx="991.2" cy="193.0" rx="3.4" ry="2.8"/><ellipse cx="964.2" cy="169.9" rx="3.4" ry="2.8"/><ellipse cx="978.8" cy="158.0" rx="3.4" ry="2.8"/><ellipse cx="1039.1" cy="154.2" rx="3.4" ry="2.8"/><ellipse cx="1023.7" cy="209.8" rx="3.4" ry="2.8"/><ellipse cx="1100.6" cy="240.6" rx="3.4" ry="2.8"/><ellipse cx="1011.3" cy="151.1" rx="3.4" ry="2.8"/><ellipse cx="1006.5" cy="150.3" rx="3.4" ry="2.8"/><ellipse cx="1077.0" cy="172.1" rx="3.4" ry="2.8"/><ellipse cx="1085.5" cy="245.2" rx="3.4" ry="2.8"/><ellipse cx="966.6" cy="194.4" rx="3.4" ry="2.8"/><ellipse cx="958.2" cy="110.1" rx="3.4" ry="2.8"/><ellipse cx="1009.9" cy="131.6" rx="3.4" ry="2.8"/><ellipse cx="1074.8" cy="188.0" rx="3.4" ry="2.8"/><ellipse cx="1063.3" cy="245.4" rx="3.4" ry="2.8"/><ellipse cx="936.9" cy="119.3" rx="3.4" ry="2.8"/><ellipse cx="932.3" cy="171.6" rx="3.4" ry="2.8"/><ellipse cx="1094.0" cy="204.1" rx="3.4" ry="2.8"/><ellipse cx="1037.3" cy="229.1" rx="3.4" ry="2.8"/><ellipse cx="1001.3" cy="121.4" rx="3.4" ry="2.8"/><ellipse cx="972.0" cy="109.3" rx="3.4" ry="2.8"/><ellipse cx="958.1" cy="114.3" rx="3.4" ry="2.8"/><ellipse cx="1048.7" cy="224.5" rx="3.4" ry="2.8"/><ellipse cx="995.6" cy="122.4" rx="3.4" ry="2.8"/><ellipse cx="1062.6" cy="210.6" rx="3.4" ry="2.8"/><ellipse cx="1106.2" cy="185.3" rx="3.4" ry="2.8"/><ellipse cx="1044.3" cy="230.1" rx="3.4" ry="2.8"/><ellipse cx="1063.8" cy="246.4" rx="3.4" ry="2.8"/><ellipse cx="983.8" cy="217.3" rx="3.4" ry="2.8"/><ellipse cx="1054.7" cy="172.9" rx="3.4" ry="2.8"/><ellipse cx="979.0" cy="192.2" rx="3.4" ry="2.8"/><ellipse cx="1029.4" cy="179.0" rx="3.4" ry="2.8"/><ellipse cx="937.0" cy="124.1" rx="3.4" ry="2.8"/><ellipse cx="1049.4" cy="203.9" rx="3.4" ry="2.8"/><ellipse cx="1128.1" cy="219.9" rx="3.4" ry="2.8"/><ellipse cx="984.5" cy="171.1" rx="3.4" ry="2.8"/><ellipse cx="1028.7" cy="221.6" rx="3.4" ry="2.8"/><ellipse cx="1005.9" cy="238.5" rx="3.4" ry="2.8"/><ellipse cx="1024.2" cy="162.7" rx="3.4" ry="2.8"/><ellipse cx="1023.4" cy="156.8" rx="3.4" ry="2.8"/><ellipse cx="955.6" cy="166.4" rx="3.4" ry="2.8"/><ellipse cx="1048.4" cy="215.7" rx="3.4" ry="2.8"/><ellipse cx="1016.1" cy="147.8" rx="3.4" ry="2.8"/><ellipse cx="1000.4" cy="233.8" rx="3.4" ry="2.8"/><ellipse cx="968.7" cy="106.7" rx="3.4" ry="2.8"/><ellipse cx="1106.6" cy="175.0" rx="3.4" ry="2.8"/><ellipse cx="952.1" cy="124.7" rx="3.4" ry="2.8"/><ellipse cx="1107.5" cy="213.6" rx="3.4" ry="2.8"/><ellipse cx="968.8" cy="169.7" rx="3.4" ry="2.8"/><ellipse cx="947.4" cy="110.4" rx="3.4" ry="2.8"/><ellipse cx="1058.7" cy="173.2" rx="3.4" ry="2.8"/><ellipse cx="1109.6" cy="219.6" rx="3.4" ry="2.8"/><ellipse cx="967.3" cy="111.5" rx="3.4" ry="2.8"/><ellipse cx="1048.7" cy="173.2" rx="3.4" ry="2.8"/><ellipse cx="967.7" cy="198.3" rx="3.4" ry="2.8"/><ellipse cx="1119.5" cy="194.6" rx="3.4" ry="2.8"/><ellipse cx="990.7" cy="210.0" rx="3.4" ry="2.8"/><ellipse cx="1110.2" cy="220.3" rx="3.4" ry="2.8"/><ellipse cx="933.4" cy="178.1" rx="3.4" ry="2.8"/><ellipse cx="953.7" cy="184.2" rx="3.4" ry="2.8"/><ellipse cx="1119.8" cy="230.4" rx="3.4" ry="2.8"/><ellipse cx="976.0" cy="185.0" rx="3.4" ry="2.8"/><ellipse cx="990.1" cy="129.4" rx="3.4" ry="2.8"/><ellipse cx="1077.5" cy="215.1" rx="3.4" ry="2.8"/><ellipse cx="994.0" cy="165.9" rx="3.4" ry="2.8"/><ellipse cx="1067.8" cy="210.5" rx="3.4" ry="2.8"/><ellipse cx="944.6" cy="129.6" rx="3.4" ry="2.8"/><ellipse cx="1094.4" cy="177.0" rx="3.4" ry="2.8"/><ellipse cx="1057.1" cy="157.9" rx="3.4" ry="2.8"/><ellipse cx="1000.6" cy="130.5" rx="3.4" ry="2.8"/><ellipse cx="1124.8" cy="192.8" rx="3.4" ry="2.8"/><ellipse cx="1047.6" cy="193.9" rx="3.4" ry="2.8"/><ellipse cx="1082.8" cy="193.2" rx="3.4" ry="2.8"/><ellipse cx="1008.4" cy="199.0" rx="3.4" ry="2.8"/><ellipse cx="1001.7" cy="164.5" rx="3.4" ry="2.8"/><ellipse cx="1000.1" cy="198.9" rx="3.4" ry="2.8"/><ellipse cx="997.3" cy="156.0" rx="3.4" ry="2.8"/><ellipse cx="1098.6" cy="221.0" rx="3.4" ry="2.8"/><ellipse cx="1063.6" cy="227.3" rx="3.4" ry="2.8"/><ellipse cx="1004.1" cy="198.2" rx="3.4" ry="2.8"/><ellipse cx="976.5" cy="150.7" rx="3.4" ry="2.8"/><ellipse cx="1002.6" cy="122.0" rx="3.4" ry="2.8"/><ellipse cx="954.2" cy="197.5" rx="3.4" ry="2.8"/><ellipse cx="977.2" cy="215.1" rx="3.4" ry="2.8"/><ellipse cx="997.3" cy="173.6" rx="3.4" ry="2.8"/><ellipse cx="966.3" cy="147.2" rx="3.4" ry="2.8"/><ellipse cx="1012.0" cy="145.3" rx="3.4" ry="2.8"/><ellipse cx="1056.0" cy="221.4" rx="3.4" ry="2.8"/><ellipse cx="991.9" cy="132.8" rx="3.4" ry="2.8"/><ellipse cx="949.6" cy="116.2" rx="3.4" ry="2.8"/><ellipse cx="1087.4" cy="192.4" rx="3.4" ry="2.8"/><ellipse cx="1047.7" cy="151.3" rx="3.4" ry="2.8"/><ellipse cx="932.1" cy="166.0" rx="3.4" ry="2.8"/><ellipse cx="1102.9" cy="188.3" rx="3.4" ry="2.8"/><ellipse cx="943.5" cy="185.8" rx="3.4" ry="2.8"/><ellipse cx="944.9" cy="118.4" rx="3.4" ry="2.8"/><ellipse cx="1009.2" cy="127.7" rx="3.4" ry="2.8"/><ellipse cx="1128.3" cy="188.8" rx="3.4" ry="2.8"/><ellipse cx="1080.4" cy="198.6" rx="3.4" ry="2.8"/><ellipse cx="1022.0" cy="217.8" rx="3.4" ry="2.8"/><ellipse cx="1033.7" cy="165.0" rx="3.4" ry="2.8"/><ellipse cx="1030.7" cy="208.4" rx="3.4" ry="2.8"/><ellipse cx="1066.3" cy="187.6" rx="3.4" ry="2.8"/><ellipse cx="1086.7" cy="224.7" rx="3.4" ry="2.8"/><ellipse cx="943.9" cy="126.0" rx="3.4" ry="2.8"/><ellipse cx="934.7" cy="128.3" rx="3.4" ry="2.8"/><ellipse cx="1015.0" cy="172.5" rx="3.4" ry="2.8"/><ellipse cx="1040.7" cy="145.5" rx="3.4" ry="2.8"/><ellipse cx="1098.3" cy="221.5" rx="3.4" ry="2.8"/><ellipse cx="939.2" cy="143.7" rx="3.4" ry="2.8"/><ellipse cx="1082.6" cy="190.7" rx="3.4" ry="2.8"/><ellipse cx="1061.7" cy="164.9" rx="3.4" ry="2.8"/><ellipse cx="1019.8" cy="142.3" rx="3.4" ry="2.8"/><ellipse cx="953.2" cy="133.6" rx="3.4" ry="2.8"/><ellipse cx="1034.2" cy="189.3" rx="3.4" ry="2.8"/><ellipse cx="1080.0" cy="223.6" rx="3.4" ry="2.8"/><ellipse cx="949.7" cy="128.9" rx="3.4" ry="2.8"/><ellipse cx="1111.5" cy="173.7" rx="3.4" ry="2.8"/><ellipse cx="951.1" cy="156.1" rx="3.4" ry="2.8"/><ellipse cx="974.4" cy="199.0" rx="3.4" ry="2.8"/><ellipse cx="1072.6" cy="217.5" rx="3.4" ry="2.8"/><ellipse cx="1014.6" cy="171.2" rx="3.4" ry="2.8"/><ellipse cx="1020.9" cy="158.7" rx="3.4" ry="2.8"/><ellipse cx="1018.3" cy="204.4" rx="3.4" ry="2.8"/><ellipse cx="934.3" cy="161.1" rx="3.4" ry="2.8"/><ellipse cx="941.3" cy="166.7" rx="3.4" ry="2.8"/><ellipse cx="1118.2" cy="226.4" rx="3.4" ry="2.8"/><ellipse cx="931.2" cy="150.9" rx="3.4" ry="2.8"/><ellipse cx="1000.6" cy="150.1" rx="3.4" ry="2.8"/><ellipse cx="953.1" cy="190.6" rx="3.4" ry="2.8"/><ellipse cx="961.2" cy="120.3" rx="3.4" ry="2.8"/><ellipse cx="972.3" cy="210.0" rx="3.4" ry="2.8"/><ellipse cx="963.7" cy="150.7" rx="3.4" ry="2.8"/><ellipse cx="1082.6" cy="211.8" rx="3.4" ry="2.8"/><ellipse cx="987.1" cy="170.5" rx="3.4" ry="2.8"/><ellipse cx="997.8" cy="173.4" rx="3.4" ry="2.8"/><ellipse cx="1091.1" cy="238.4" rx="3.4" ry="2.8"/><ellipse cx="1048.2" cy="244.1" rx="3.4" ry="2.8"/><ellipse cx="987.1" cy="169.1" rx="3.4" ry="2.8"/><ellipse cx="1097.0" cy="203.7" rx="3.4" ry="2.8"/><ellipse cx="1102.4" cy="178.9" rx="3.4" ry="2.8"/><ellipse cx="935.4" cy="146.4" rx="3.4" ry="2.8"/><ellipse cx="985.0" cy="165.7" rx="3.4" ry="2.8"/><ellipse cx="1118.2" cy="191.3" rx="3.4" ry="2.8"/><ellipse cx="975.3" cy="211.0" rx="3.4" ry="2.8"/><ellipse cx="994.8" cy="138.0" rx="3.4" ry="2.8"/><ellipse cx="937.9" cy="112.4" rx="3.4" ry="2.8"/><ellipse cx="1009.5" cy="184.2" rx="3.4" ry="2.8"/><ellipse cx="1007.0" cy="186.9" rx="3.4" ry="2.8"/><ellipse cx="1025.7" cy="159.8" rx="3.4" ry="2.8"/><ellipse cx="980.3" cy="112.5" rx="3.4" ry="2.8"/><ellipse cx="985.8" cy="148.2" rx="3.4" ry="2.8"/><ellipse cx="948.6" cy="109.3" rx="3.4" ry="2.8"/><ellipse cx="1016.0" cy="181.2" rx="3.4" ry="2.8"/><ellipse cx="929.9" cy="119.7" rx="3.4" ry="2.8"/><ellipse cx="1086.0" cy="185.7" rx="3.4" ry="2.8"/><ellipse cx="1026.1" cy="154.8" rx="3.4" ry="2.8"/><ellipse cx="1079.0" cy="178.0" rx="3.4" ry="2.8"/><ellipse cx="1087.4" cy="226.2" rx="3.4" ry="2.8"/><ellipse cx="1108.2" cy="210.3" rx="3.4" ry="2.8"/><ellipse cx="1063.2" cy="171.9" rx="3.4" ry="2.8"/><ellipse cx="1034.3" cy="189.0" rx="3.4" ry="2.8"/><ellipse cx="1032.7" cy="223.8" rx="3.4" ry="2.8"/><ellipse cx="1079.2" cy="194.4" rx="3.4" ry="2.8"/><ellipse cx="1047.7" cy="236.7" rx="3.4" ry="2.8"/><ellipse cx="935.2" cy="173.9" rx="3.4" ry="2.8"/><ellipse cx="958.7" cy="186.6" rx="3.4" ry="2.8"/><ellipse cx="1025.3" cy="211.6" rx="3.4" ry="2.8"/><ellipse cx="1075.3" cy="232.4" rx="3.4" ry="2.8"/><ellipse cx="1116.6" cy="181.5" rx="3.4" ry="2.8"/><ellipse cx="931.9" cy="174.5" rx="3.4" ry="2.8"/><ellipse cx="994.3" cy="120.1" rx="3.4" ry="2.8"/><ellipse cx="1106.5" cy="240.5" rx="3.4" ry="2.8"/><ellipse cx="950.4" cy="169.6" rx="3.4" ry="2.8"/><ellipse cx="981.0" cy="202.5" rx="3.4" ry="2.8"/><ellipse cx="947.5" cy="153.4" rx="3.4" ry="2.8"/><ellipse cx="1009.1" cy="173.6" rx="3.4" ry="2.8"/><ellipse cx="1014.2" cy="191.4" rx="3.4" ry="2.8"/><ellipse cx="1111.0" cy="225.2" rx="3.4" ry="2.8"/><ellipse cx="971.8" cy="140.4" rx="3.4" ry="2.8"/><ellipse cx="1019.3" cy="198.3" rx="3.4" ry="2.8"/><ellipse cx="1049.3" cy="155.7" rx="3.4" ry="2.8"/><ellipse cx="973.6" cy="140.1" rx="3.4" ry="2.8"/><ellipse cx="1086.2" cy="235.2" rx="3.4" ry="2.8"/><ellipse cx="979.0" cy="119.8" rx="3.4" ry="2.8"/><ellipse cx="1071.9" cy="173.5" rx="3.4" ry="2.8"/><ellipse cx="1078.1" cy="216.3" rx="3.4" ry="2.8"/><ellipse cx="1029.4" cy="144.3" rx="3.4" ry="2.8"/><ellipse cx="1032.7" cy="201.0" rx="3.4" ry="2.8"/><ellipse cx="991.5" cy="197.7" rx="3.4" ry="2.8"/><ellipse cx="968.3" cy="137.8" rx="3.4" ry="2.8"/><ellipse cx="1114.7" cy="227.0" rx="3.4" ry="2.8"/><ellipse cx="1099.0" cy="224.1" rx="3.4" ry="2.8"/><ellipse cx="1075.0" cy="226.2" rx="3.4" ry="2.8"/><ellipse cx="1025.0" cy="234.6" rx="3.4" ry="2.8"/><ellipse cx="1063.5" cy="201.4" rx="3.4" ry="2.8"/><ellipse cx="1067.2" cy="158.3" rx="3.4" ry="2.8"/><ellipse cx="1109.5" cy="209.9" rx="3.4" ry="2.8"/><ellipse cx="1089.5" cy="172.0" rx="3.4" ry="2.8"/><ellipse cx="967.0" cy="170.4" rx="3.4" ry="2.8"/><ellipse cx="1064.5" cy="184.5" rx="3.4" ry="2.8"/><ellipse cx="1006.5" cy="140.5" rx="3.4" ry="2.8"/><ellipse cx="971.5" cy="137.1" rx="3.4" ry="2.8"/><ellipse cx="1010.2" cy="205.8" rx="3.4" ry="2.8"/><ellipse cx="1112.2" cy="203.1" rx="3.4" ry="2.8"/><ellipse cx="1049.8" cy="211.1" rx="3.4" ry="2.8"/><ellipse cx="1050.8" cy="156.4" rx="3.4" ry="2.8"/><ellipse cx="994.5" cy="115.3" rx="3.4" ry="2.8"/><ellipse cx="1064.6" cy="237.1" rx="3.4" ry="2.8"/><ellipse cx="1061.9" cy="192.9" rx="3.4" ry="2.8"/><ellipse cx="1090.7" cy="244.2" rx="3.4" ry="2.8"/><ellipse cx="1050.9" cy="197.6" rx="3.4" ry="2.8"/><ellipse cx="1101.9" cy="193.8" rx="3.4" ry="2.8"/><ellipse cx="1095.3" cy="195.6" rx="3.4" ry="2.8"/><ellipse cx="1127.0" cy="191.0" rx="3.4" ry="2.8"/><ellipse cx="1099.8" cy="217.0" rx="3.4" ry="2.8"/><ellipse cx="927.3" cy="152.2" rx="3.4" ry="2.8"/><ellipse cx="1006.0" cy="144.8" rx="3.4" ry="2.8"/><ellipse cx="987.6" cy="162.3" rx="3.4" ry="2.8"/><ellipse cx="950.5" cy="191.7" rx="3.4" ry="2.8"/><ellipse cx="1011.7" cy="221.3" rx="3.4" ry="2.8"/><ellipse cx="965.1" cy="182.0" rx="3.4" ry="2.8"/><ellipse cx="971.4" cy="107.1" rx="3.4" ry="2.8"/><ellipse cx="984.8" cy="175.8" rx="3.4" ry="2.8"/><ellipse cx="1032.4" cy="143.6" rx="3.4" ry="2.8"/><ellipse cx="996.6" cy="146.3" rx="3.4" ry="2.8"/><ellipse cx="1092.2" cy="216.7" rx="3.4" ry="2.8"/><ellipse cx="1068.7" cy="191.3" rx="3.4" ry="2.8"/><ellipse cx="1102.6" cy="212.5" rx="3.4" ry="2.8"/><ellipse cx="936.3" cy="123.9" rx="3.4" ry="2.8"/><ellipse cx="1078.3" cy="226.8" rx="3.4" ry="2.8"/><ellipse cx="1127.8" cy="217.4" rx="3.4" ry="2.8"/><ellipse cx="957.4" cy="187.2" rx="3.4" ry="2.8"/><ellipse cx="1053.0" cy="192.7" rx="3.4" ry="2.8"/><ellipse cx="1029.6" cy="144.0" rx="3.4" ry="2.8"/><ellipse cx="978.2" cy="136.6" rx="3.4" ry="2.8"/><ellipse cx="987.0" cy="193.0" rx="3.4" ry="2.8"/><ellipse cx="990.6" cy="201.4" rx="3.4" ry="2.8"/><ellipse cx="1107.2" cy="238.6" rx="3.4" ry="2.8"/><ellipse cx="943.4" cy="189.4" rx="3.4" ry="2.8"/><ellipse cx="940.5" cy="119.4" rx="3.4" ry="2.8"/><ellipse cx="1072.0" cy="181.4" rx="3.4" ry="2.8"/><ellipse cx="1092.8" cy="177.0" rx="3.4" ry="2.8"/><ellipse cx="1032.8" cy="239.2" rx="3.4" ry="2.8"/><ellipse cx="1072.8" cy="206.7" rx="3.4" ry="2.8"/><ellipse cx="992.5" cy="216.9" rx="3.4" ry="2.8"/><ellipse cx="1043.6" cy="165.0" rx="3.4" ry="2.8"/><ellipse cx="1032.8" cy="145.0" rx="3.4" ry="2.8"/><ellipse cx="996.6" cy="216.8" rx="3.4" ry="2.8"/><ellipse cx="1000.2" cy="132.6" rx="3.4" ry="2.8"/><ellipse cx="1079.1" cy="247.4" rx="3.4" ry="2.8"/><ellipse cx="958.5" cy="112.1" rx="3.4" ry="2.8"/><ellipse cx="1050.5" cy="195.2" rx="3.4" ry="2.8"/><ellipse cx="972.8" cy="137.1" rx="3.4" ry="2.8"/><ellipse cx="955.2" cy="109.1" rx="3.4" ry="2.8"/><ellipse cx="1026.2" cy="165.9" rx="3.4" ry="2.8"/><ellipse cx="989.3" cy="224.9" rx="3.4" ry="2.8"/><ellipse cx="1065.9" cy="225.8" rx="3.4" ry="2.8"/><ellipse cx="1112.7" cy="238.9" rx="3.4" ry="2.8"/><ellipse cx="938.7" cy="147.8" rx="3.4" ry="2.8"/><ellipse cx="997.5" cy="116.9" rx="3.4" ry="2.8"/><ellipse cx="998.0" cy="134.5" rx="3.4" ry="2.8"/><ellipse cx="1013.8" cy="194.3" rx="3.4" ry="2.8"/><ellipse cx="1015.5" cy="222.2" rx="3.4" ry="2.8"/><ellipse cx="975.0" cy="162.0" rx="3.4" ry="2.8"/><ellipse cx="1038.6" cy="182.8" rx="3.4" ry="2.8"/><ellipse cx="1071.5" cy="242.4" rx="3.4" ry="2.8"/><ellipse cx="965.8" cy="174.9" rx="3.4" ry="2.8"/><ellipse cx="982.7" cy="185.2" rx="3.4" ry="2.8"/><ellipse cx="1099.1" cy="232.8" rx="3.4" ry="2.8"/><ellipse cx="1049.3" cy="174.1" rx="3.4" ry="2.8"/><ellipse cx="948.5" cy="198.2" rx="3.4" ry="2.8"/><ellipse cx="953.1" cy="124.4" rx="3.4" ry="2.8"/><ellipse cx="1046.7" cy="198.3" rx="3.4" ry="2.8"/><ellipse cx="1089.2" cy="224.9" rx="3.4" ry="2.8"/><ellipse cx="953.1" cy="149.1" rx="3.4" ry="2.8"/><ellipse cx="954.5" cy="176.2" rx="3.4" ry="2.8"/><ellipse cx="1064.7" cy="222.2" rx="3.4" ry="2.8"/><ellipse cx="1025.1" cy="237.3" rx="3.4" ry="2.8"/><ellipse cx="1096.2" cy="225.2" rx="3.4" ry="2.8"/><ellipse cx="995.8" cy="113.2" rx="3.4" ry="2.8"/><ellipse cx="1081.7" cy="173.6" rx="3.4" ry="2.8"/><ellipse cx="1013.4" cy="230.6" rx="3.4" ry="2.8"/><ellipse cx="1123.6" cy="214.8" rx="3.4" ry="2.8"/><ellipse cx="1105.9" cy="238.9" rx="3.4" ry="2.8"/><ellipse cx="980.7" cy="194.4" rx="3.4" ry="2.8"/><ellipse cx="954.9" cy="187.5" rx="3.4" ry="2.8"/><ellipse cx="938.4" cy="171.9" rx="3.4" ry="2.8"/><ellipse cx="941.4" cy="165.5" rx="3.4" ry="2.8"/><ellipse cx="1092.7" cy="212.2" rx="3.4" ry="2.8"/><ellipse cx="1100.0" cy="171.3" rx="3.4" ry="2.8"/><ellipse cx="1086.8" cy="187.6" rx="3.4" ry="2.8"/><ellipse cx="1008.6" cy="126.1" rx="3.4" ry="2.8"/><ellipse cx="949.6" cy="116.5" rx="3.4" ry="2.8"/><ellipse cx="1012.1" cy="124.9" rx="3.4" ry="2.8"/><ellipse cx="1094.6" cy="193.4" rx="3.4" ry="2.8"/><ellipse cx="1102.7" cy="185.3" rx="3.4" ry="2.8"/><ellipse cx="957.7" cy="145.1" rx="3.4" ry="2.8"/><ellipse cx="1097.1" cy="189.8" rx="3.4" ry="2.8"/><ellipse cx="1057.5" cy="196.7" rx="3.4" ry="2.8"/><ellipse cx="934.9" cy="134.0" rx="3.4" ry="2.8"/><ellipse cx="1013.5" cy="227.4" rx="3.4" ry="2.8"/><ellipse cx="1118.4" cy="190.7" rx="3.4" ry="2.8"/><ellipse cx="978.2" cy="111.7" rx="3.4" ry="2.8"/><ellipse cx="1039.6" cy="164.3" rx="3.4" ry="2.8"/><ellipse cx="967.0" cy="107.3" rx="3.4" ry="2.8"/><ellipse cx="975.5" cy="194.1" rx="3.4" ry="2.8"/><ellipse cx="1111.9" cy="213.3" rx="3.4" ry="2.8"/><ellipse cx="982.4" cy="193.0" rx="3.4" ry="2.8"/><ellipse cx="984.4" cy="215.1" rx="3.4" ry="2.8"/><ellipse cx="1064.1" cy="234.3" rx="3.4" ry="2.8"/><ellipse cx="948.2" cy="110.8" rx="3.4" ry="2.8"/><ellipse cx="981.0" cy="157.7" rx="3.4" ry="2.8"/><ellipse cx="1116.2" cy="225.2" rx="3.4" ry="2.8"/><ellipse cx="1096.1" cy="247.1" rx="3.4" ry="2.8"/><ellipse cx="1048.7" cy="240.6" rx="3.4" ry="2.8"/><ellipse cx="1052.6" cy="189.4" rx="3.4" ry="2.8"/><ellipse cx="991.4" cy="160.0" rx="3.4" ry="2.8"/><ellipse cx="1056.6" cy="230.3" rx="3.4" ry="2.8"/><ellipse cx="930.7" cy="158.2" rx="3.4" ry="2.8"/><ellipse cx="1014.0" cy="227.7" rx="3.4" ry="2.8"/><ellipse cx="1037.1" cy="180.1" rx="3.4" ry="2.8"/><ellipse cx="1049.2" cy="185.2" rx="3.4" ry="2.8"/><ellipse cx="1064.0" cy="185.9" rx="3.4" ry="2.8"/><ellipse cx="950.3" cy="168.7" rx="3.4" ry="2.8"/><ellipse cx="1106.7" cy="242.3" rx="3.4" ry="2.8"/><ellipse cx="985.1" cy="188.3" rx="3.4" ry="2.8"/><ellipse cx="1031.3" cy="170.8" rx="3.4" ry="2.8"/><ellipse cx="942.5" cy="138.1" rx="3.4" ry="2.8"/><ellipse cx="982.1" cy="134.4" rx="3.4" ry="2.8"/><ellipse cx="964.6" cy="116.6" rx="3.4" ry="2.8"/><ellipse cx="1056.7" cy="192.0" rx="3.4" ry="2.8"/><ellipse cx="1053.1" cy="174.7" rx="3.4" ry="2.8"/><ellipse cx="1020.1" cy="204.8" rx="3.4" ry="2.8"/><ellipse cx="1045.0" cy="246.3" rx="3.4" ry="2.8"/><ellipse cx="1051.3" cy="184.6" rx="3.4" ry="2.8"/><ellipse cx="1001.4" cy="167.7" rx="3.4" ry="2.8"/><ellipse cx="1075.6" cy="209.3" rx="3.4" ry="2.8"/><ellipse cx="1129.1" cy="195.1" rx="3.4" ry="2.8"/><ellipse cx="1003.8" cy="117.6" rx="3.4" ry="2.8"/><ellipse cx="1072.3" cy="194.3" rx="3.4" ry="2.8"/><ellipse cx="1085.5" cy="168.2" rx="3.4" ry="2.8"/><ellipse cx="1077.1" cy="192.6" rx="3.4" ry="2.8"/><ellipse cx="1055.0" cy="184.5" rx="3.4" ry="2.8"/><ellipse cx="1061.8" cy="186.2" rx="3.4" ry="2.8"/><ellipse cx="1069.3" cy="167.0" rx="3.4" ry="2.8"/><ellipse cx="959.1" cy="179.1" rx="3.4" ry="2.8"/><ellipse cx="998.4" cy="129.0" rx="3.4" ry="2.8"/><ellipse cx="1111.2" cy="170.0" rx="3.4" ry="2.8"/><ellipse cx="1055.7" cy="171.7" rx="3.4" ry="2.8"/><ellipse cx="958.6" cy="156.6" rx="3.4" ry="2.8"/><ellipse cx="1015.4" cy="231.1" rx="3.4" ry="2.8"/><ellipse cx="948.4" cy="183.2" rx="3.4" ry="2.8"/><ellipse cx="1021.6" cy="185.2" rx="3.4" ry="2.8"/><ellipse cx="1087.4" cy="191.9" rx="3.4" ry="2.8"/><ellipse cx="1037.2" cy="230.8" rx="3.4" ry="2.8"/><ellipse cx="1025.0" cy="146.8" rx="3.4" ry="2.8"/><ellipse cx="957.7" cy="138.6" rx="3.4" ry="2.8"/><ellipse cx="1014.7" cy="166.2" rx="3.4" ry="2.8"/><ellipse cx="1052.1" cy="173.6" rx="3.4" ry="2.8"/><ellipse cx="1088.1" cy="221.6" rx="3.4" ry="2.8"/><ellipse cx="1037.0" cy="153.6" rx="3.4" ry="2.8"/><ellipse cx="977.2" cy="208.4" rx="3.4" ry="2.8"/><ellipse cx="1014.5" cy="204.1" rx="3.4" ry="2.8"/><ellipse cx="1014.9" cy="163.1" rx="3.4" ry="2.8"/><ellipse cx="1043.4" cy="180.8" rx="3.4" ry="2.8"/><ellipse cx="1037.3" cy="186.3" rx="3.4" ry="2.8"/><ellipse cx="1119.7" cy="212.7" rx="3.4" ry="2.8"/><ellipse cx="931.0" cy="130.5" rx="3.4" ry="2.8"/><ellipse cx="1026.5" cy="227.3" rx="3.4" ry="2.8"/><ellipse cx="929.1" cy="129.0" rx="3.4" ry="2.8"/><ellipse cx="989.6" cy="176.2" rx="3.4" ry="2.8"/><ellipse cx="1123.6" cy="199.0" rx="3.4" ry="2.8"/><ellipse cx="1100.2" cy="190.7" rx="3.4" ry="2.8"/><ellipse cx="1111.6" cy="202.6" rx="3.4" ry="2.8"/><ellipse cx="974.2" cy="159.0" rx="3.4" ry="2.8"/><ellipse cx="1114.5" cy="175.0" rx="3.4" ry="2.8"/><ellipse cx="966.0" cy="176.3" rx="3.4" ry="2.8"/><ellipse cx="974.5" cy="132.2" rx="3.4" ry="2.8"/><ellipse cx="1028.6" cy="204.7" rx="3.4" ry="2.8"/><ellipse cx="971.6" cy="204.9" rx="3.4" ry="2.8"/><ellipse cx="1045.1" cy="213.9" rx="3.4" ry="2.8"/><ellipse cx="942.4" cy="198.6" rx="3.4" ry="2.8"/><ellipse cx="946.1" cy="110.0" rx="3.4" ry="2.8"/><ellipse cx="942.3" cy="183.7" rx="3.4" ry="2.8"/><ellipse cx="965.2" cy="143.2" rx="3.4" ry="2.8"/><ellipse cx="1082.3" cy="169.7" rx="3.4" ry="2.8"/><ellipse cx="955.2" cy="203.5" rx="3.4" ry="2.8"/><ellipse cx="1128.9" cy="195.2" rx="3.4" ry="2.8"/><ellipse cx="1016.2" cy="183.0" rx="3.4" ry="2.8"/><ellipse cx="1069.1" cy="226.5" rx="3.4" ry="2.8"/><ellipse cx="951.3" cy="178.6" rx="3.4" ry="2.8"/><ellipse cx="962.8" cy="186.4" rx="3.4" ry="2.8"/><ellipse cx="1013.8" cy="223.3" rx="3.4" ry="2.8"/><ellipse cx="1082.6" cy="176.4" rx="3.4" ry="2.8"/><ellipse cx="1006.9" cy="123.0" rx="3.4" ry="2.8"/><ellipse cx="1060.0" cy="238.7" rx="3.4" ry="2.8"/><ellipse cx="1032.7" cy="156.7" rx="3.4" ry="2.8"/><ellipse cx="1005.2" cy="217.1" rx="3.4" ry="2.8"/><ellipse cx="1007.7" cy="140.9" rx="3.4" ry="2.8"/><ellipse cx="1047.5" cy="167.5" rx="3.4" ry="2.8"/><ellipse cx="1065.2" cy="166.6" rx="3.4" ry="2.8"/><ellipse cx="1085.6" cy="184.9" rx="3.4" ry="2.8"/><ellipse cx="946.5" cy="176.3" rx="3.4" ry="2.8"/><ellipse cx="976.9" cy="148.2" rx="3.4" ry="2.8"/><ellipse cx="970.4" cy="123.5" rx="3.4" ry="2.8"/><ellipse cx="1029.2" cy="221.1" rx="3.4" ry="2.8"/><ellipse cx="1048.7" cy="181.2" rx="3.4" ry="2.8"/><ellipse cx="962.9" cy="114.9" rx="3.4" ry="2.8"/><ellipse cx="963.5" cy="181.0" rx="3.4" ry="2.8"/><ellipse cx="1047.2" cy="171.7" rx="3.4" ry="2.8"/><ellipse cx="1055.4" cy="186.8" rx="3.4" ry="2.8"/><ellipse cx="1057.3" cy="164.6" rx="3.4" ry="2.8"/><ellipse cx="1097.6" cy="182.1" rx="3.4" ry="2.8"/><ellipse cx="1094.7" cy="217.0" rx="3.4" ry="2.8"/><ellipse cx="1066.5" cy="185.1" rx="3.4" ry="2.8"/><ellipse cx="975.8" cy="119.8" rx="3.4" ry="2.8"/><ellipse cx="1050.5" cy="184.7" rx="3.4" ry="2.8"/><ellipse cx="1049.5" cy="167.2" rx="3.4" ry="2.8"/><ellipse cx="974.1" cy="149.0" rx="3.4" ry="2.8"/><ellipse cx="1067.8" cy="233.4" rx="3.4" ry="2.8"/><ellipse cx="990.4" cy="150.5" rx="3.4" ry="2.8"/><ellipse cx="1016.8" cy="167.2" rx="3.4" ry="2.8"/><ellipse cx="1054.6" cy="214.6" rx="3.4" ry="2.8"/><ellipse cx="1082.4" cy="222.3" rx="3.4" ry="2.8"/><ellipse cx="1073.7" cy="245.9" rx="3.4" ry="2.8"/><ellipse cx="1017.0" cy="169.8" rx="3.4" ry="2.8"/><ellipse cx="1095.0" cy="165.6" rx="3.4" ry="2.8"/><ellipse cx="1039.2" cy="180.4" rx="3.4" ry="2.8"/><ellipse cx="982.0" cy="174.0" rx="3.4" ry="2.8"/><ellipse cx="939.0" cy="148.3" rx="3.4" ry="2.8"/><ellipse cx="1117.5" cy="202.7" rx="3.4" ry="2.8"/><ellipse cx="1093.9" cy="225.9" rx="3.4" ry="2.8"/><ellipse cx="961.5" cy="178.1" rx="3.4" ry="2.8"/><ellipse cx="944.4" cy="159.9" rx="3.4" ry="2.8"/><ellipse cx="1026.6" cy="223.5" rx="3.4" ry="2.8"/><ellipse cx="984.3" cy="201.6" rx="3.4" ry="2.8"/><ellipse cx="953.9" cy="142.2" rx="3.4" ry="2.8"/><ellipse cx="937.0" cy="189.2" rx="3.4" ry="2.8"/><ellipse cx="1045.2" cy="208.4" rx="3.4" ry="2.8"/><ellipse cx="1011.0" cy="240.8" rx="3.4" ry="2.8"/><ellipse cx="1073.1" cy="187.4" rx="3.4" ry="2.8"/><ellipse cx="984.9" cy="185.0" rx="3.4" ry="2.8"/><ellipse cx="1047.9" cy="243.5" rx="3.4" ry="2.8"/><ellipse cx="1053.8" cy="228.9" rx="3.4" ry="2.8"/><ellipse cx="1021.4" cy="172.6" rx="3.4" ry="2.8"/><ellipse cx="997.2" cy="189.2" rx="3.4" ry="2.8"/><ellipse cx="955.6" cy="141.7" rx="3.4" ry="2.8"/><ellipse cx="949.3" cy="108.9" rx="3.4" ry="2.8"/><ellipse cx="1032.7" cy="211.9" rx="3.4" ry="2.8"/><ellipse cx="1007.5" cy="235.8" rx="3.4" ry="2.8"/><ellipse cx="1049.7" cy="200.5" rx="3.4" ry="2.8"/><ellipse cx="996.3" cy="227.5" rx="3.4" ry="2.8"/><ellipse cx="1004.0" cy="159.9" rx="3.4" ry="2.8"/><ellipse cx="993.6" cy="157.5" rx="3.4" ry="2.8"/><ellipse cx="957.9" cy="163.0" rx="3.4" ry="2.8"/><ellipse cx="997.5" cy="208.3" rx="3.4" ry="2.8"/><ellipse cx="1105.3" cy="207.3" rx="3.4" ry="2.8"/><ellipse cx="1097.4" cy="237.5" rx="3.4" ry="2.8"/><ellipse cx="999.7" cy="152.6" rx="3.4" ry="2.8"/><ellipse cx="1011.7" cy="175.3" rx="3.4" ry="2.8"/><ellipse cx="1097.6" cy="196.7" rx="3.4" ry="2.8"/><ellipse cx="955.3" cy="201.6" rx="3.4" ry="2.8"/><ellipse cx="973.2" cy="194.5" rx="3.4" ry="2.8"/><ellipse cx="1017.1" cy="144.4" rx="3.4" ry="2.8"/><ellipse cx="996.4" cy="140.2" rx="3.4" ry="2.8"/><ellipse cx="1034.7" cy="202.2" rx="3.4" ry="2.8"/><ellipse cx="992.5" cy="209.8" rx="3.4" ry="2.8"/><ellipse cx="1026.5" cy="205.2" rx="3.4" ry="2.8"/><ellipse cx="935.3" cy="130.7" rx="3.4" ry="2.8"/><ellipse cx="987.3" cy="131.4" rx="3.4" ry="2.8"/><ellipse cx="983.8" cy="121.6" rx="3.4" ry="2.8"/><ellipse cx="941.3" cy="125.3" rx="3.4" ry="2.8"/><ellipse cx="1025.6" cy="148.1" rx="3.4" ry="2.8"/><ellipse cx="1085.9" cy="178.4" rx="3.4" ry="2.8"/><ellipse cx="1032.3" cy="159.3" rx="3.4" ry="2.8"/><ellipse cx="1004.8" cy="224.9" rx="3.4" ry="2.8"/><ellipse cx="946.7" cy="167.7" rx="3.4" ry="2.8"/><ellipse cx="1036.6" cy="211.3" rx="3.4" ry="2.8"/><ellipse cx="1048.3" cy="174.2" rx="3.4" ry="2.8"/><ellipse cx="960.2" cy="198.1" rx="3.4" ry="2.8"/><ellipse cx="1015.8" cy="203.4" rx="3.4" ry="2.8"/><ellipse cx="933.6" cy="147.6" rx="3.4" ry="2.8"/><ellipse cx="1023.2" cy="146.5" rx="3.4" ry="2.8"/><ellipse cx="1085.2" cy="180.5" rx="3.4" ry="2.8"/><ellipse cx="984.5" cy="161.9" rx="3.4" ry="2.8"/><ellipse cx="1105.1" cy="183.9" rx="3.4" ry="2.8"/><ellipse cx="1117.9" cy="183.2" rx="3.4" ry="2.8"/><ellipse cx="1014.4" cy="193.6" rx="3.4" ry="2.8"/><ellipse cx="1008.9" cy="199.6" rx="3.4" ry="2.8"/><ellipse cx="995.4" cy="199.9" rx="3.4" ry="2.8"/><ellipse cx="967.6" cy="176.0" rx="3.4" ry="2.8"/><ellipse cx="1012.7" cy="181.3" rx="3.4" ry="2.8"/><ellipse cx="936.3" cy="140.2" rx="3.4" ry="2.8"/><ellipse cx="1050.0" cy="211.4" rx="3.4" ry="2.8"/><ellipse cx="1083.0" cy="245.4" rx="3.4" ry="2.8"/><ellipse cx="1004.5" cy="162.4" rx="3.4" ry="2.8"/><ellipse cx="1021.1" cy="144.4" rx="3.4" ry="2.8"/><ellipse cx="1039.1" cy="211.2" rx="3.4" ry="2.8"/><ellipse cx="1101.5" cy="178.5" rx="3.4" ry="2.8"/><ellipse cx="1060.2" cy="239.8" rx="3.4" ry="2.8"/><ellipse cx="1051.1" cy="176.1" rx="3.4" ry="2.8"/><ellipse cx="1029.7" cy="164.7" rx="3.4" ry="2.8"/><ellipse cx="961.7" cy="133.6" rx="3.4" ry="2.8"/><ellipse cx="1087.9" cy="179.8" rx="3.4" ry="2.8"/><ellipse cx="1095.3" cy="199.4" rx="3.4" ry="2.8"/><ellipse cx="962.3" cy="178.7" rx="3.4" ry="2.8"/><ellipse cx="979.7" cy="132.0" rx="3.4" ry="2.8"/><ellipse cx="959.4" cy="111.0" rx="3.4" ry="2.8"/><ellipse cx="1057.3" cy="201.6" rx="3.4" ry="2.8"/><ellipse cx="1011.8" cy="171.2" rx="3.4" ry="2.8"/><ellipse cx="1115.1" cy="199.1" rx="3.4" ry="2.8"/><ellipse cx="1020.5" cy="213.3" rx="3.4" ry="2.8"/><ellipse cx="1078.3" cy="192.1" rx="3.4" ry="2.8"/><ellipse cx="1052.5" cy="197.3" rx="3.4" ry="2.8"/><ellipse cx="940.4" cy="157.9" rx="3.4" ry="2.8"/><ellipse cx="932.9" cy="164.9" rx="3.4" ry="2.8"/><ellipse cx="1099.8" cy="196.3" rx="3.4" ry="2.8"/><ellipse cx="972.1" cy="116.9" rx="3.4" ry="2.8"/><ellipse cx="1096.6" cy="227.2" rx="3.4" ry="2.8"/><ellipse cx="960.3" cy="151.4" rx="3.4" ry="2.8"/><ellipse cx="1076.7" cy="199.2" rx="3.4" ry="2.8"/><ellipse cx="1095.5" cy="215.1" rx="3.4" ry="2.8"/><ellipse cx="1019.7" cy="169.7" rx="3.4" ry="2.8"/><ellipse cx="1055.6" cy="219.3" rx="3.4" ry="2.8"/><ellipse cx="1045.5" cy="241.4" rx="3.4" ry="2.8"/><ellipse cx="1052.0" cy="244.2" rx="3.4" ry="2.8"/><ellipse cx="1039.4" cy="210.0" rx="3.4" ry="2.8"/><ellipse cx="1065.6" cy="48.0" rx="3.4" ry="2.8"/><ellipse cx="1057.0" cy="68.8" rx="3.4" ry="2.8"/><ellipse cx="1015.1" cy="56.2" rx="3.4" ry="2.8"/><ellipse cx="1028.7" cy="91.6" rx="3.4" ry="2.8"/><ellipse cx="1046.3" cy="59.7" rx="3.4" ry="2.8"/><ellipse cx="1065.1" cy="99.4" rx="3.4" ry="2.8"/><ellipse cx="1068.1" cy="39.9" rx="3.4" ry="2.8"/><ellipse cx="1021.1" cy="70.6" rx="3.4" ry="2.8"/><ellipse cx="1022.6" cy="98.4" rx="3.4" ry="2.8"/><ellipse cx="1014.0" cy="36.1" rx="3.4" ry="2.8"/><ellipse cx="1037.0" cy="38.9" rx="3.4" ry="2.8"/><ellipse cx="997.7" cy="81.7" rx="3.4" ry="2.8"/><ellipse cx="1051.2" cy="76.8" rx="3.4" ry="2.8"/><ellipse cx="1001.5" cy="78.2" rx="3.4" ry="2.8"/><ellipse cx="1043.6" cy="58.4" rx="3.4" ry="2.8"/><ellipse cx="1015.8" cy="47.0" rx="3.4" ry="2.8"/><ellipse cx="1039.9" cy="63.2" rx="3.4" ry="2.8"/><ellipse cx="1049.4" cy="86.9" rx="3.4" ry="2.8"/><ellipse cx="1020.7" cy="81.8" rx="3.4" ry="2.8"/><ellipse cx="1019.0" cy="92.4" rx="3.4" ry="2.8"/><ellipse cx="1014.0" cy="80.8" rx="3.4" ry="2.8"/><ellipse cx="1063.5" cy="96.6" rx="3.4" ry="2.8"/><ellipse cx="1044.4" cy="105.2" rx="3.4" ry="2.8"/><ellipse cx="1028.4" cy="55.5" rx="3.4" ry="2.8"/><ellipse cx="1053.3" cy="44.9" rx="3.4" ry="2.8"/><ellipse cx="1011.5" cy="42.3" rx="3.4" ry="2.8"/><ellipse cx="1055.5" cy="64.8" rx="3.4" ry="2.8"/><ellipse cx="1044.4" cy="61.2" rx="3.4" ry="2.8"/><ellipse cx="1024.8" cy="39.0" rx="3.4" ry="2.8"/><ellipse cx="1022.7" cy="35.6" rx="3.4" ry="2.8"/><ellipse cx="1086.2" cy="64.3" rx="3.4" ry="2.8"/><ellipse cx="1067.0" cy="69.9" rx="3.4" ry="2.8"/><ellipse cx="1039.0" cy="84.8" rx="3.4" ry="2.8"/><ellipse cx="1026.5" cy="87.2" rx="3.4" ry="2.8"/><ellipse cx="1002.3" cy="41.0" rx="3.4" ry="2.8"/><ellipse cx="1044.4" cy="42.0" rx="3.4" ry="2.8"/><ellipse cx="1067.3" cy="74.0" rx="3.4" ry="2.8"/><ellipse cx="1067.8" cy="83.8" rx="3.4" ry="2.8"/><ellipse cx="1047.7" cy="48.2" rx="3.4" ry="2.8"/><ellipse cx="1008.3" cy="41.3" rx="3.4" ry="2.8"/><ellipse cx="1035.2" cy="57.2" rx="3.4" ry="2.8"/><ellipse cx="1065.6" cy="44.2" rx="3.4" ry="2.8"/><ellipse cx="1015.4" cy="80.8" rx="3.4" ry="2.8"/><ellipse cx="1049.4" cy="65.7" rx="3.4" ry="2.8"/><ellipse cx="1027.5" cy="45.8" rx="3.4" ry="2.8"/><ellipse cx="1059.7" cy="63.6" rx="3.4" ry="2.8"/><ellipse cx="1050.9" cy="98.0" rx="3.4" ry="2.8"/><ellipse cx="1002.1" cy="67.6" rx="3.4" ry="2.8"/><ellipse cx="1027.8" cy="106.8" rx="3.4" ry="2.8"/><ellipse cx="1052.8" cy="50.2" rx="3.4" ry="2.8"/><ellipse cx="1037.6" cy="36.1" rx="3.4" ry="2.8"/><ellipse cx="1042.8" cy="40.4" rx="3.4" ry="2.8"/><ellipse cx="1007.8" cy="74.1" rx="3.4" ry="2.8"/><ellipse cx="1045.0" cy="51.4" rx="3.4" ry="2.8"/><ellipse cx="1049.3" cy="59.0" rx="3.4" ry="2.8"/><ellipse cx="1060.4" cy="39.0" rx="3.4" ry="2.8"/><ellipse cx="1073.2" cy="69.6" rx="3.4" ry="2.8"/><ellipse cx="1011.1" cy="57.4" rx="3.4" ry="2.8"/><ellipse cx="1053.4" cy="42.3" rx="3.4" ry="2.8"/><ellipse cx="1079.8" cy="52.0" rx="3.4" ry="2.8"/><ellipse cx="1033.2" cy="40.6" rx="3.4" ry="2.8"/><ellipse cx="1037.4" cy="109.0" rx="3.4" ry="2.8"/><ellipse cx="1012.4" cy="48.7" rx="3.4" ry="2.8"/><ellipse cx="1045.9" cy="84.3" rx="3.4" ry="2.8"/><ellipse cx="1008.3" cy="51.9" rx="3.4" ry="2.8"/><ellipse cx="1051.2" cy="53.4" rx="3.4" ry="2.8"/><ellipse cx="1074.5" cy="51.4" rx="3.4" ry="2.8"/><ellipse cx="1023.8" cy="81.2" rx="3.4" ry="2.8"/><ellipse cx="1052.3" cy="83.2" rx="3.4" ry="2.8"/><ellipse cx="1046.4" cy="53.0" rx="3.4" ry="2.8"/><ellipse cx="1017.2" cy="41.5" rx="3.4" ry="2.8"/><ellipse cx="1000.3" cy="79.8" rx="3.4" ry="2.8"/><ellipse cx="1028.6" cy="58.8" rx="3.4" ry="2.8"/><ellipse cx="1001.2" cy="53.7" rx="3.4" ry="2.8"/><ellipse cx="996.6" cy="69.5" rx="3.4" ry="2.8"/><ellipse cx="1039.8" cy="52.8" rx="3.4" ry="2.8"/><ellipse cx="1041.5" cy="96.7" rx="3.4" ry="2.8"/><ellipse cx="1027.9" cy="93.0" rx="3.4" ry="2.8"/><ellipse cx="1067.3" cy="62.1" rx="3.4" ry="2.8"/><ellipse cx="1063.8" cy="62.1" rx="3.4" ry="2.8"/><ellipse cx="1011.1" cy="67.3" rx="3.4" ry="2.8"/><ellipse cx="1005.6" cy="90.3" rx="3.4" ry="2.8"/><ellipse cx="1018.4" cy="73.3" rx="3.4" ry="2.8"/><ellipse cx="1070.2" cy="81.1" rx="3.4" ry="2.8"/><ellipse cx="1059.4" cy="92.0" rx="3.4" ry="2.8"/><ellipse cx="1059.2" cy="105.7" rx="3.4" ry="2.8"/><ellipse cx="1050.3" cy="85.9" rx="3.4" ry="2.8"/><ellipse cx="1046.1" cy="76.1" rx="3.4" ry="2.8"/><ellipse cx="1082.5" cy="58.1" rx="3.4" ry="2.8"/><ellipse cx="1012.7" cy="73.6" rx="3.4" ry="2.8"/><ellipse cx="1024.0" cy="90.0" rx="3.4" ry="2.8"/><ellipse cx="1054.2" cy="35.2" rx="3.4" ry="2.8"/><ellipse cx="1014.4" cy="82.7" rx="3.4" ry="2.8"/><ellipse cx="1031.8" cy="87.4" rx="3.4" ry="2.8"/><ellipse cx="1038.7" cy="43.6" rx="3.4" ry="2.8"/><ellipse cx="1059.1" cy="110.0" rx="3.4" ry="2.8"/><ellipse cx="1003.5" cy="82.4" rx="3.4" ry="2.8"/><ellipse cx="1052.0" cy="82.2" rx="3.4" ry="2.8"/><ellipse cx="1042.0" cy="74.0" rx="3.4" ry="2.8"/><ellipse cx="1035.4" cy="97.6" rx="3.4" ry="2.8"/><ellipse cx="1057.1" cy="97.0" rx="3.4" ry="2.8"/><ellipse cx="1014.7" cy="52.9" rx="3.4" ry="2.8"/><ellipse cx="1016.0" cy="72.4" rx="3.4" ry="2.8"/><ellipse cx="1049.6" cy="103.8" rx="3.4" ry="2.8"/><ellipse cx="1080.9" cy="42.0" rx="3.4" ry="2.8"/><ellipse cx="1084.8" cy="57.4" rx="3.4" ry="2.8"/><ellipse cx="1052.1" cy="93.0" rx="3.4" ry="2.8"/><ellipse cx="1022.3" cy="58.6" rx="3.4" ry="2.8"/><ellipse cx="1053.3" cy="91.9" rx="3.4" ry="2.8"/><ellipse cx="1021.1" cy="42.8" rx="3.4" ry="2.8"/><ellipse cx="1011.1" cy="54.9" rx="3.4" ry="2.8"/><ellipse cx="1048.1" cy="59.8" rx="3.4" ry="2.8"/><ellipse cx="1008.8" cy="41.7" rx="3.4" ry="2.8"/><ellipse cx="1058.8" cy="97.7" rx="3.4" ry="2.8"/><ellipse cx="1006.5" cy="74.6" rx="3.4" ry="2.8"/><ellipse cx="1086.2" cy="62.8" rx="3.4" ry="2.8"/><ellipse cx="1044.7" cy="97.4" rx="3.4" ry="2.8"/><ellipse cx="1067.0" cy="91.7" rx="3.4" ry="2.8"/><ellipse cx="1026.9" cy="72.9" rx="3.4" ry="2.8"/><ellipse cx="1002.6" cy="84.3" rx="3.4" ry="2.8"/><ellipse cx="1012.5" cy="70.4" rx="3.4" ry="2.8"/><ellipse cx="1068.4" cy="78.4" rx="3.4" ry="2.8"/><ellipse cx="1056.4" cy="39.0" rx="3.4" ry="2.8"/><ellipse cx="1013.5" cy="80.1" rx="3.4" ry="2.8"/><ellipse cx="1062.4" cy="42.0" rx="3.4" ry="2.8"/><ellipse cx="1003.4" cy="59.2" rx="3.4" ry="2.8"/><ellipse cx="1033.6" cy="60.7" rx="3.4" ry="2.8"/><ellipse cx="1010.8" cy="40.7" rx="3.4" ry="2.8"/><ellipse cx="1055.0" cy="108.4" rx="3.4" ry="2.8"/><ellipse cx="1054.0" cy="105.8" rx="3.4" ry="2.8"/><ellipse cx="1006.8" cy="82.4" rx="3.4" ry="2.8"/><ellipse cx="1028.9" cy="100.2" rx="3.4" ry="2.8"/><ellipse cx="1050.7" cy="82.3" rx="3.4" ry="2.8"/><ellipse cx="1007.8" cy="68.7" rx="3.4" ry="2.8"/><ellipse cx="1002.9" cy="78.1" rx="3.4" ry="2.8"/><ellipse cx="1015.8" cy="88.8" rx="3.4" ry="2.8"/><ellipse cx="1028.1" cy="35.6" rx="3.4" ry="2.8"/><ellipse cx="1077.6" cy="44.7" rx="3.4" ry="2.8"/><ellipse cx="1020.0" cy="75.1" rx="3.4" ry="2.8"/><ellipse cx="1061.6" cy="44.0" rx="3.4" ry="2.8"/><ellipse cx="1053.3" cy="250.6" rx="3.4" ry="2.8"/><ellipse cx="1049.3" cy="249.9" rx="3.4" ry="2.8"/><ellipse cx="1038.4" cy="257.0" rx="3.4" ry="2.8"/><ellipse cx="1050.0" cy="261.1" rx="3.4" ry="2.8"/><ellipse cx="1066.8" cy="254.7" rx="3.4" ry="2.8"/><ellipse cx="1041.4" cy="252.2" rx="3.4" ry="2.8"/><ellipse cx="1058.5" cy="255.3" rx="3.4" ry="2.8"/><ellipse cx="1035.3" cy="251.8" rx="3.4" ry="2.8"/><ellipse cx="1044.5" cy="264.7" rx="3.4" ry="2.8"/><ellipse cx="1045.3" cy="264.3" rx="3.4" ry="2.8"/><ellipse cx="1046.7" cy="259.6" rx="3.4" ry="2.8"/><ellipse cx="1037.2" cy="256.2" rx="3.4" ry="2.8"/><ellipse cx="1057.9" cy="249.7" rx="3.4" ry="2.8"/><ellipse cx="1046.0" cy="253.1" rx="3.4" ry="2.8"/><ellipse cx="1038.8" cy="254.8" rx="3.4" ry="2.8"/><ellipse cx="1034.7" cy="259.5" rx="3.4" ry="2.8"/><ellipse cx="1037.6" cy="251.6" rx="3.4" ry="2.8"/><ellipse cx="1062.7" cy="261.7" rx="3.4" ry="2.8"/><ellipse cx="1034.3" cy="254.3" rx="3.4" ry="2.8"/><ellipse cx="1048.4" cy="264.7" rx="3.4" ry="2.8"/><ellipse cx="1062.7" cy="265.2" rx="3.4" ry="2.8"/><ellipse cx="1040.8" cy="256.6" rx="3.4" ry="2.8"/><ellipse cx="1035.3" cy="254.4" rx="3.4" ry="2.8"/><ellipse cx="1033.7" cy="265.0" rx="3.4" ry="2.8"/><ellipse cx="1031.0" cy="256.8" rx="3.4" ry="2.8"/><ellipse cx="1035.7" cy="252.9" rx="3.4" ry="2.8"/><ellipse cx="1058.4" cy="255.1" rx="3.4" ry="2.8"/><ellipse cx="1054.0" cy="252.5" rx="3.4" ry="2.8"/><ellipse cx="1028.1" cy="258.9" rx="3.4" ry="2.8"/><ellipse cx="1047.4" cy="265.3" rx="3.4" ry="2.8"/><ellipse cx="1053.0" cy="248.8" rx="3.4" ry="2.8"/><ellipse cx="1061.0" cy="262.8" rx="3.4" ry="2.8"/><ellipse cx="1067.2" cy="254.0" rx="3.4" ry="2.8"/><ellipse cx="1060.0" cy="258.8" rx="3.4" ry="2.8"/><ellipse cx="1047.5" cy="258.5" rx="3.4" ry="2.8"/><ellipse cx="1043.4" cy="265.0" rx="3.4" ry="2.8"/><ellipse cx="1033.7" cy="255.0" rx="3.4" ry="2.8"/><ellipse cx="1040.1" cy="248.9" rx="3.4" ry="2.8"/><ellipse cx="1047.1" cy="249.2" rx="3.4" ry="2.8"/><ellipse cx="1037.6" cy="263.5" rx="3.4" ry="2.8"/><ellipse cx="1038.9" cy="249.9" rx="3.4" ry="2.8"/><ellipse cx="1044.8" cy="259.6" rx="3.4" ry="2.8"/><ellipse cx="1031.6" cy="255.5" rx="3.4" ry="2.8"/><ellipse cx="1050.5" cy="262.9" rx="3.4" ry="2.8"/><ellipse cx="1037.3" cy="263.0" rx="3.4" ry="2.8"/><ellipse cx="1050.0" cy="251.5" rx="3.4" ry="2.8"/><ellipse cx="1061.9" cy="265.7" rx="3.4" ry="2.8"/><ellipse cx="1068.2" cy="255.1" rx="3.4" ry="2.8"/><ellipse cx="1060.8" cy="262.4" rx="3.4" ry="2.8"/><ellipse cx="1050.9" cy="255.7" rx="3.4" ry="2.8"/><ellipse cx="1039.8" cy="264.3" rx="3.4" ry="2.8"/><ellipse cx="1029.0" cy="259.4" rx="3.4" ry="2.8"/><ellipse cx="1057.0" cy="252.4" rx="3.4" ry="2.8"/><ellipse cx="1060.4" cy="262.3" rx="3.4" ry="2.8"/><ellipse cx="1040.6" cy="256.8" rx="3.4" ry="2.8"/><ellipse cx="1057.8" cy="262.1" rx="3.4" ry="2.8"/><ellipse cx="1046.4" cy="267.1" rx="3.4" ry="2.8"/><ellipse cx="1053.8" cy="265.7" rx="3.4" ry="2.8"/><ellipse cx="1034.5" cy="256.2" rx="3.4" ry="2.8"/><ellipse cx="1038.9" cy="258.0" rx="3.4" ry="2.8"/><ellipse cx="1034.8" cy="41.3" rx="3.4" ry="2.8"/><ellipse cx="1129.3" cy="133.0" rx="3.4" ry="2.8"/><ellipse cx="1126.4" cy="168.8" rx="3.4" ry="2.8"/><ellipse cx="1027.9" cy="160.4" rx="3.4" ry="2.8"/><ellipse cx="971.9" cy="208.6" rx="3.4" ry="2.8"/><ellipse cx="1132.0" cy="239.5" rx="3.4" ry="2.8"/><ellipse cx="998.8" cy="204.1" rx="3.4" ry="2.8"/><ellipse cx="1094.8" cy="207.5" rx="3.4" ry="2.8"/><ellipse cx="954.4" cy="273.7" rx="3.4" ry="2.8"/><ellipse cx="987.7" cy="144.3" rx="3.4" ry="2.8"/><ellipse cx="1040.4" cy="191.9" rx="3.4" ry="2.8"/><ellipse cx="998.7" cy="122.7" rx="3.4" ry="2.8"/><ellipse cx="958.8" cy="181.7" rx="3.4" ry="2.8"/><ellipse cx="919.5" cy="232.2" rx="3.4" ry="2.8"/><ellipse cx="1070.9" cy="191.1" rx="3.4" ry="2.8"/><ellipse cx="1044.3" cy="142.3" rx="3.4" ry="2.8"/><ellipse cx="998.6" cy="221.7" rx="3.4" ry="2.8"/><ellipse cx="1001.1" cy="252.8" rx="3.4" ry="2.8"/><ellipse cx="1093.0" cy="212.4" rx="3.4" ry="2.8"/><ellipse cx="1017.8" cy="139.7" rx="3.4" ry="2.8"/><ellipse cx="1022.8" cy="138.2" rx="3.4" ry="2.8"/><ellipse cx="1010.0" cy="165.4" rx="3.4" ry="2.8"/><ellipse cx="998.3" cy="232.6" rx="3.4" ry="2.8"/><ellipse cx="978.8" cy="147.6" rx="3.4" ry="2.8"/><ellipse cx="1102.7" cy="193.0" rx="3.4" ry="2.8"/><ellipse cx="1061.7" cy="153.2" rx="3.4" ry="2.8"/><ellipse cx="1051.7" cy="240.5" rx="3.4" ry="2.8"/><ellipse cx="1033.1" cy="200.7" rx="3.4" ry="2.8"/><ellipse cx="1105.0" cy="208.3" rx="3.4" ry="2.8"/><ellipse cx="1106.0" cy="127.8" rx="3.4" ry="2.8"/><ellipse cx="926.6" cy="131.0" rx="3.4" ry="2.8"/><ellipse cx="1057.5" cy="151.0" rx="3.4" ry="2.8"/><ellipse cx="911.2" cy="262.6" rx="3.4" ry="2.8"/><ellipse cx="1110.3" cy="157.2" rx="3.4" ry="2.8"/><ellipse cx="992.4" cy="150.0" rx="3.4" ry="2.8"/><ellipse cx="1075.2" cy="201.7" rx="3.4" ry="2.8"/><ellipse cx="1040.2" cy="243.2" rx="3.4" ry="2.8"/><ellipse cx="982.6" cy="127.4" rx="3.4" ry="2.8"/><ellipse cx="1031.9" cy="179.1" rx="3.4" ry="2.8"/><ellipse cx="1037.5" cy="199.9" rx="3.4" ry="2.8"/><ellipse cx="939.2" cy="252.7" rx="3.4" ry="2.8"/><ellipse cx="924.7" cy="196.2" rx="3.4" ry="2.8"/><ellipse cx="1052.9" cy="218.4" rx="3.4" ry="2.8"/><ellipse cx="1045.1" cy="144.3" rx="3.4" ry="2.8"/><ellipse cx="1020.0" cy="119.6" rx="3.4" ry="2.8"/><ellipse cx="1021.9" cy="170.9" rx="3.4" ry="2.8"/><ellipse cx="919.4" cy="280.1" rx="3.4" ry="2.8"/><ellipse cx="995.6" cy="205.7" rx="3.4" ry="2.8"/><ellipse cx="1110.1" cy="179.8" rx="3.4" ry="2.8"/><ellipse cx="1007.1" cy="131.2" rx="3.4" ry="2.8"/><ellipse cx="987.4" cy="148.7" rx="3.4" ry="2.8"/><ellipse cx="1022.3" cy="216.9" rx="3.4" ry="2.8"/><ellipse cx="1043.1" cy="248.6" rx="3.4" ry="2.8"/><ellipse cx="1055.5" cy="191.8" rx="3.4" ry="2.8"/><ellipse cx="848.4" cy="174.0" rx="3.4" ry="2.8"/><ellipse cx="1047.5" cy="114.4" rx="3.4" ry="2.8"/><ellipse cx="1027.8" cy="149.4" rx="3.4" ry="2.8"/><ellipse cx="1018.7" cy="179.4" rx="3.4" ry="2.8"/><ellipse cx="1014.8" cy="178.5" rx="3.4" ry="2.8"/><ellipse cx="1052.8" cy="195.2" rx="3.4" ry="2.8"/><ellipse cx="991.5" cy="222.2" rx="3.4" ry="2.8"/><ellipse cx="1034.8" cy="197.7" rx="3.4" ry="2.8"/><ellipse cx="1136.1" cy="256.2" rx="3.4" ry="2.8"/><ellipse cx="1162.2" cy="170.6" rx="3.4" ry="2.8"/><ellipse cx="1056.3" cy="202.9" rx="3.4" ry="2.8"/><ellipse cx="1037.7" cy="174.5" rx="3.4" ry="2.8"/><ellipse cx="1081.6" cy="232.4" rx="3.4" ry="2.8"/><ellipse cx="1163.3" cy="157.2" rx="3.4" ry="2.8"/><ellipse cx="1059.3" cy="147.4" rx="3.4" ry="2.8"/><ellipse cx="1015.5" cy="74.9" rx="3.4" ry="2.8"/><ellipse cx="933.5" cy="93.7" rx="3.4" ry="2.8"/><ellipse cx="913.3" cy="89.9" rx="3.4" ry="2.8"/><ellipse cx="908.9" cy="105.0" rx="3.4" ry="2.8"/><ellipse cx="891.3" cy="104.6" rx="3.4" ry="2.8"/><ellipse cx="910.0" cy="123.0" rx="3.4" ry="2.8"/><ellipse cx="892.9" cy="138.1" rx="3.4" ry="2.8"/><ellipse cx="909.1" cy="102.8" rx="3.4" ry="2.8"/><ellipse cx="927.4" cy="111.5" rx="3.4" ry="2.8"/><ellipse cx="914.5" cy="155.7" rx="3.4" ry="2.8"/><ellipse cx="912.8" cy="123.3" rx="3.4" ry="2.8"/><ellipse cx="921.8" cy="116.8" rx="3.4" ry="2.8"/><ellipse cx="912.9" cy="122.4" rx="3.4" ry="2.8"/><ellipse cx="908.4" cy="140.4" rx="3.4" ry="2.8"/><ellipse cx="915.0" cy="153.7" rx="3.4" ry="2.8"/></g><path d="M970.7,27.6 C970.1,30.2 969.1,36.0 966.9,43.0 C964.7,50.0 959.8,60.8 957.3,69.7 C954.8,78.6 952.5,89.5 951.6,96.5 C950.7,103.5 950.0,105.3 951.6,111.7 C953.2,118.1 958.3,125.8 961.2,134.7 C964.1,143.6 966.9,155.1 968.8,165.3 C970.7,175.5 971.3,185.6 972.6,195.8 C973.9,206.0 974.9,217.5 976.5,226.4 C978.1,235.3 979.3,241.8 982.2,249.4 C985.1,257.1 989.6,265.3 993.7,272.3 C997.8,279.3 1003.5,286.3 1007.0,291.4 C1010.5,296.5 1013.4,301.0 1014.7,302.9" fill="none" stroke="#000" stroke-width="3"/><path d="M1056.7,27.6 C1056.4,30.2 1054.2,36.6 1054.8,43.0 C1055.4,49.4 1060.3,58.3 1060.6,65.9 C1060.9,73.5 1059.2,82.4 1056.7,88.8 C1054.2,95.2 1050.4,98.4 1045.3,104.1 C1040.2,109.8 1031.8,115.5 1026.1,123.2 C1020.4,130.8 1015.3,141.7 1010.9,150.0 C1006.5,158.3 1002.6,164.6 999.4,172.9 C996.2,181.2 993.3,190.8 991.7,199.7 C990.1,208.6 989.5,218.1 989.8,226.4 C990.1,234.7 991.5,242.4 993.7,249.4 C995.9,256.4 998.4,262.8 1003.2,268.5 C1008.0,274.2 1016.6,279.4 1022.3,283.8 C1028.0,288.2 1033.1,291.7 1037.6,295.2 C1042.1,298.7 1047.2,303.2 1049.1,304.8" fill="none" stroke="#f0f020" stroke-width="3"/><polygon points="1302.0,53.0 1301.0,105.0 1288.5,90.0 1269.0,93.0" fill="#000"/><text transform="translate(1300,44.5) rotate(12)" font-family="'Liberation Serif', serif" font-size="18" font-style="italic" fill="#111">N</text><g stroke="#000" stroke-width="2.2" stroke-dasharray="4 2.6" fill="none"><line x1="308" y1="221.3" x2="790" y2="24.6"/><line x1="369.5" y1="362.5" x2="706" y2="287.2"/></g><polygon points="811.7,15.8 785.3,17.6 791.3,33.0" fill="#000"/><polygon points="728.8,282.2 702.3,279.6 705.9,295.8" fill="#000"/><polygon points="812.0,313.8 1238.8,313.8 1238.8,460.3 1338.0,700.5 729.5,700.5 812.0,460.3" fill="#d9d9d9"/><line x1="812" y1="460.3" x2="1238.8" y2="460.3" stroke="#f2f2f2" stroke-width="1.2"/><g stroke="#000" stroke-width="2.4" stroke-dasharray="12 6" fill="none"><polyline points="812,313.8 812,460.3 730,699"/><polyline points="1238.8,313.8 1238.8,460.3 1336,699"/></g><g><circle cx="1042.6" cy="463.0" r="2.5" fill="rgb(165, 30, 245)"/><circle cx="1010.4" cy="392.9" r="2.5" fill="rgb(165, 30, 245)"/><circle cx="1042.8" cy="427.1" r="2.5" fill="rgb(165, 30, 245)"/><circle cx="1037.8" cy="435.8" r="2.5" fill="rgb(165, 30, 245)"/><circle cx="1035.7" cy="408.9" r="2.5" fill="rgb(165, 30, 245)"/><circle cx="971.7" cy="397.0" r="2.5" fill="rgb(165, 30, 245)"/><circle cx="1043.2" cy="457.9" r="2.5" fill="rgb(165, 30, 245)"/><circle cx="1005.8" cy="396.0" r="2.5" fill="rgb(165, 30, 245)"/><circle cx="937.8" cy="420.0" r="2.5" fill="rgb(165, 30, 245)"/><circle cx="1020.5" cy="398.1" r="2.5" fill="rgb(165, 30, 245)"/><circle cx="959.6" cy="555.8" r="2.5" fill="rgb(165, 30, 245)"/><circle cx="930.7" cy="571.1" r="2.5" fill="rgb(165, 30, 245)"/><circle cx="943.0" cy="488.3" r="2.5" fill="rgb(165, 30, 245)"/><circle cx="926.2" cy="556.6" r="2.5" fill="rgb(165, 30, 245)"/><circle cx="939.8" cy="556.2" r="2.5" fill="rgb(165, 30, 245)"/><circle cx="943.9" cy="561.2" r="2.5" fill="rgb(165, 30, 245)"/><circle cx="935.0" cy="569.3" r="2.5" fill="rgb(165, 30, 245)"/><circle cx="928.0" cy="539.0" r="2.5" fill="rgb(165, 30, 245)"/><circle cx="944.4" cy="520.1" r="2.5" fill="rgb(165, 30, 245)"/><circle cx="926.2" cy="541.7" r="2.5" fill="rgb(165, 30, 245)"/><circle cx="983.0" cy="531.7" r="2.5" fill="rgb(165, 30, 245)"/><circle cx="975.1" cy="543.6" r="2.5" fill="rgb(165, 30, 245)"/><circle cx="956.8" cy="548.6" r="2.5" fill="rgb(165, 30, 245)"/><circle cx="933.1" cy="531.5" r="2.5" fill="rgb(165, 30, 245)"/><circle cx="955.9" cy="528.9" r="2.5" fill="rgb(165, 30, 245)"/><circle cx="938.1" cy="563.7" r="2.5" fill="rgb(165, 30, 245)"/><circle cx="977.2" cy="522.6" r="2.5" fill="rgb(165, 30, 245)"/><circle cx="922.2" cy="516.1" r="2.5" fill="rgb(165, 30, 245)"/><circle cx="947.9" cy="559.2" r="2.5" fill="rgb(165, 30, 245)"/><circle cx="971.4" cy="555.9" r="2.5" fill="rgb(165, 30, 245)"/><circle cx="951.9" cy="587.4" r="2.5" fill="rgb(165, 30, 245)"/><circle cx="971.3" cy="576.2" r="2.5" fill="rgb(165, 30, 245)"/><circle cx="944.6" cy="536.9" r="2.5" fill="rgb(165, 30, 245)"/><circle cx="930.5" cy="505.7" r="2.5" fill="rgb(165, 30, 245)"/><circle cx="947.0" cy="580.9" r="2.5" fill="rgb(165, 30, 245)"/><circle cx="924.7" cy="514.4" r="2.5" fill="rgb(165, 30, 245)"/><circle cx="929.6" cy="507.4" r="2.5" fill="rgb(165, 30, 245)"/><circle cx="957.6" cy="587.0" r="2.5" fill="rgb(165, 30, 245)"/><circle cx="947.9" cy="544.9" r="2.5" fill="rgb(165, 30, 245)"/><circle cx="939.4" cy="579.5" r="2.5" fill="rgb(165, 30, 245)"/><circle cx="950.9" cy="566.3" r="2.5" fill="rgb(165, 30, 245)"/><circle cx="934.6" cy="489.5" r="2.5" fill="rgb(165, 30, 245)"/><circle cx="942.4" cy="491.1" r="2.5" fill="rgb(165, 30, 245)"/><circle cx="926.4" cy="570.4" r="2.5" fill="rgb(165, 30, 245)"/><circle cx="948.1" cy="571.7" r="2.5" fill="rgb(165, 30, 245)"/><circle cx="942.0" cy="557.6" r="2.5" fill="rgb(165, 30, 245)"/><circle cx="943.6" cy="586.8" r="2.5" fill="rgb(165, 30, 245)"/><circle cx="956.6" cy="506.5" r="2.5" fill="rgb(165, 30, 245)"/><circle cx="930.0" cy="573.5" r="2.5" fill="rgb(165, 30, 245)"/><circle cx="942.6" cy="530.0" r="2.5" fill="rgb(165, 30, 245)"/><circle cx="926.6" cy="556.9" r="2.5" fill="rgb(165, 30, 245)"/><circle cx="937.2" cy="518.0" r="2.5" fill="rgb(165, 30, 245)"/><circle cx="1014.9" cy="505.5" r="2.5" fill="rgb(165, 30, 245)"/><circle cx="1054.7" cy="587.6" r="2.5" fill="rgb(165, 30, 245)"/><circle cx="1073.5" cy="625.1" r="2.5" fill="rgb(165, 30, 245)"/><circle cx="1001.9" cy="501.8" r="2.5" fill="rgb(165, 30, 245)"/><circle cx="1114.3" cy="615.1" r="2.5" fill="rgb(165, 30, 245)"/><circle cx="1051.8" cy="482.2" r="2.5" fill="rgb(165, 30, 245)"/><circle cx="1091.8" cy="529.8" r="2.5" fill="rgb(165, 30, 245)"/><circle cx="1038.0" cy="555.0" r="2.5" fill="rgb(165, 30, 245)"/><circle cx="1084.2" cy="529.0" r="2.5" fill="rgb(165, 30, 245)"/><circle cx="1111.5" cy="600.0" r="2.5" fill="rgb(165, 30, 245)"/><circle cx="1085.7" cy="596.6" r="2.5" fill="rgb(165, 30, 245)"/><circle cx="1046.6" cy="588.0" r="2.5" fill="rgb(165, 30, 245)"/><circle cx="1107.0" cy="531.5" r="2.5" fill="rgb(165, 30, 245)"/><circle cx="1117.4" cy="556.1" r="2.5" fill="rgb(165, 30, 245)"/><circle cx="1017.3" cy="514.1" r="2.5" fill="rgb(165, 30, 245)"/><circle cx="1116.4" cy="603.7" r="2.5" fill="rgb(165, 30, 245)"/><circle cx="1015.1" cy="507.6" r="2.5" fill="rgb(165, 30, 245)"/><circle cx="995.8" cy="520.0" r="2.5" fill="rgb(165, 30, 245)"/><circle cx="1025.3" cy="536.4" r="2.5" fill="rgb(165, 30, 245)"/><circle cx="1040.4" cy="590.3" r="2.5" fill="rgb(165, 30, 245)"/><circle cx="1007.7" cy="512.8" r="2.5" fill="rgb(165, 30, 245)"/><circle cx="1076.8" cy="606.1" r="2.5" fill="rgb(165, 30, 245)"/><circle cx="1016.0" cy="538.2" r="2.5" fill="rgb(165, 30, 245)"/><circle cx="1065.0" cy="533.5" r="2.5" fill="rgb(165, 30, 245)"/><circle cx="1105.6" cy="546.1" r="2.5" fill="rgb(165, 30, 245)"/><circle cx="1096.6" cy="605.3" r="2.5" fill="rgb(165, 30, 245)"/><circle cx="1074.1" cy="617.3" r="2.5" fill="rgb(165, 30, 245)"/><circle cx="1145.7" cy="602.7" r="2.5" fill="rgb(165, 30, 245)"/><circle cx="1050.4" cy="487.8" r="2.5" fill="rgb(165, 30, 245)"/><circle cx="1135.7" cy="618.5" r="2.5" fill="rgb(165, 30, 245)"/><circle cx="1054.1" cy="596.3" r="2.5" fill="rgb(165, 30, 245)"/><circle cx="1101.4" cy="568.9" r="2.5" fill="rgb(165, 30, 245)"/><circle cx="1058.0" cy="505.5" r="2.5" fill="rgb(165, 30, 245)"/><circle cx="1085.7" cy="637.3" r="2.5" fill="rgb(165, 30, 245)"/><circle cx="1082.3" cy="610.3" r="2.5" fill="rgb(165, 30, 245)"/><circle cx="1047.4" cy="500.4" r="2.5" fill="rgb(165, 30, 245)"/><circle cx="1075.8" cy="525.7" r="2.5" fill="rgb(165, 30, 245)"/><circle cx="1053.5" cy="511.0" r="2.5" fill="rgb(165, 30, 245)"/><circle cx="1059.2" cy="523.0" r="2.5" fill="rgb(165, 30, 245)"/><circle cx="1065.4" cy="515.7" r="2.5" fill="rgb(165, 30, 245)"/><circle cx="1008.7" cy="537.5" r="2.5" fill="rgb(165, 30, 245)"/><circle cx="1103.4" cy="560.7" r="2.5" fill="rgb(165, 30, 245)"/><circle cx="1128.9" cy="573.5" r="2.5" fill="rgb(165, 30, 245)"/><circle cx="1046.2" cy="506.8" r="2.5" fill="rgb(165, 30, 245)"/><circle cx="1112.2" cy="618.5" r="2.5" fill="rgb(165, 30, 245)"/><circle cx="989.5" cy="522.5" r="2.5" fill="rgb(165, 30, 245)"/><circle cx="1058.1" cy="589.5" r="2.5" fill="rgb(165, 30, 245)"/><circle cx="1082.3" cy="545.7" r="2.5" fill="rgb(165, 30, 245)"/><circle cx="998.4" cy="514.4" r="2.5" fill="rgb(165, 30, 245)"/><circle cx="1118.2" cy="579.1" r="2.5" fill="rgb(165, 30, 245)"/><circle cx="1053.8" cy="530.2" r="2.5" fill="rgb(165, 30, 245)"/><circle cx="1013.5" cy="542.6" r="2.5" fill="rgb(165, 30, 245)"/><circle cx="1028.7" cy="611.3" r="2.5" fill="rgb(165, 30, 245)"/><circle cx="1010.9" cy="631.6" r="2.5" fill="rgb(165, 30, 245)"/><circle cx="1028.2" cy="602.5" r="2.5" fill="rgb(165, 30, 245)"/><circle cx="1041.2" cy="609.9" r="2.5" fill="rgb(165, 30, 245)"/><circle cx="1032.7" cy="610.7" r="2.5" fill="rgb(165, 30, 245)"/><circle cx="1041.5" cy="607.2" r="2.5" fill="rgb(165, 30, 245)"/><circle cx="1032.2" cy="566.7" r="2.5" fill="rgb(165, 30, 245)"/><circle cx="1021.7" cy="649.3" r="2.5" fill="rgb(165, 30, 245)"/><circle cx="1001.0" cy="593.7" r="2.5" fill="rgb(165, 30, 245)"/><circle cx="1041.4" cy="596.7" r="2.5" fill="rgb(165, 30, 245)"/><circle cx="1029.0" cy="612.8" r="2.5" fill="rgb(165, 30, 245)"/><circle cx="1016.3" cy="646.6" r="2.5" fill="rgb(165, 30, 245)"/><circle cx="1033.7" cy="635.2" r="2.5" fill="rgb(165, 30, 245)"/><circle cx="1036.1" cy="614.1" r="2.5" fill="rgb(165, 30, 245)"/><circle cx="1033.9" cy="634.4" r="2.5" fill="rgb(165, 30, 245)"/><circle cx="1020.8" cy="646.1" r="2.5" fill="rgb(165, 30, 245)"/><circle cx="1007.6" cy="627.0" r="2.5" fill="rgb(165, 30, 245)"/><circle cx="1018.4" cy="634.0" r="2.5" fill="rgb(165, 30, 245)"/><circle cx="1010.0" cy="641.9" r="2.5" fill="rgb(165, 30, 245)"/><circle cx="1065.3" cy="663.8" r="2.5" fill="rgb(165, 30, 245)"/><circle cx="1069.3" cy="676.0" r="2.5" fill="rgb(165, 30, 245)"/><circle cx="1052.0" cy="678.9" r="2.5" fill="rgb(165, 30, 245)"/><circle cx="1050.0" cy="674.6" r="2.5" fill="rgb(165, 30, 245)"/><circle cx="1048.9" cy="672.0" r="2.5" fill="rgb(165, 30, 245)"/><circle cx="1042.3" cy="688.9" r="2.5" fill="rgb(165, 30, 245)"/><circle cx="1032.2" cy="680.3" r="2.5" fill="rgb(165, 30, 245)"/><circle cx="1046.5" cy="664.1" r="2.5" fill="rgb(165, 30, 245)"/><circle cx="1043.8" cy="677.2" r="2.5" fill="rgb(165, 30, 245)"/><circle cx="1063.0" cy="672.9" r="2.5" fill="rgb(165, 30, 245)"/><circle cx="1031.7" cy="667.3" r="2.5" fill="rgb(165, 30, 245)"/><circle cx="1052.9" cy="686.3" r="2.5" fill="rgb(165, 30, 245)"/><circle cx="1052.2" cy="663.3" r="2.5" fill="rgb(165, 30, 245)"/><circle cx="1041.1" cy="674.0" r="2.5" fill="rgb(165, 30, 245)"/><circle cx="985.4" cy="373.4" r="2.5" fill="rgb(165, 30, 245)"/><circle cx="1012.1" cy="372.5" r="2.5" fill="rgb(165, 30, 245)"/><circle cx="915.8" cy="381.5" r="2.5" fill="rgb(165, 30, 245)"/><circle cx="1040.6" cy="361.6" r="2.5" fill="rgb(165, 30, 245)"/><circle cx="910.5" cy="379.8" r="2.5" fill="rgb(165, 30, 245)"/><circle cx="943.2" cy="363.5" r="2.5" fill="rgb(165, 30, 245)"/><circle cx="943.8" cy="390.8" r="2.5" fill="rgb(165, 30, 245)"/><circle cx="969.7" cy="359.2" r="2.5" fill="rgb(165, 30, 245)"/><circle cx="961.5" cy="381.1" r="2.5" fill="rgb(165, 30, 245)"/><circle cx="928.2" cy="363.7" r="2.5" fill="rgb(165, 30, 245)"/><circle cx="970.9" cy="359.1" r="2.5" fill="rgb(165, 30, 245)"/><circle cx="968.9" cy="360.6" r="2.5" fill="rgb(165, 30, 245)"/><circle cx="1010.5" cy="376.8" r="2.5" fill="rgb(165, 30, 245)"/><circle cx="993.1" cy="361.8" r="2.5" fill="rgb(165, 30, 245)"/><circle cx="912.9" cy="344.8" r="2.5" fill="rgb(165, 30, 245)"/><circle cx="905.1" cy="395.9" r="2.5" fill="rgb(165, 30, 245)"/><circle cx="908.1" cy="384.9" r="2.5" fill="rgb(165, 30, 245)"/><circle cx="966.0" cy="377.7" r="2.5" fill="rgb(165, 30, 245)"/><circle cx="955.1" cy="387.9" r="2.5" fill="rgb(165, 30, 245)"/><circle cx="969.1" cy="369.0" r="2.5" fill="rgb(165, 30, 245)"/><circle cx="954.2" cy="397.6" r="2.5" fill="rgb(165, 30, 245)"/><circle cx="973.1" cy="348.0" r="2.5" fill="rgb(165, 30, 245)"/><circle cx="941.9" cy="370.7" r="2.5" fill="rgb(165, 30, 245)"/><circle cx="951.0" cy="377.7" r="2.5" fill="rgb(165, 30, 245)"/><circle cx="1023.1" cy="366.9" r="2.5" fill="rgb(165, 30, 245)"/><circle cx="1006.1" cy="384.1" r="2.5" fill="rgb(165, 30, 245)"/><circle cx="953.3" cy="383.8" r="2.5" fill="rgb(165, 30, 245)"/><circle cx="894.8" cy="455.2" r="2.5" fill="rgb(165, 30, 245)"/><circle cx="901.8" cy="417.4" r="2.5" fill="rgb(165, 30, 245)"/><circle cx="907.7" cy="418.1" r="2.5" fill="rgb(165, 30, 245)"/><circle cx="925.0" cy="420.8" r="2.5" fill="rgb(165, 30, 245)"/><circle cx="927.7" cy="444.8" r="2.5" fill="rgb(165, 30, 245)"/><circle cx="887.8" cy="344.6" r="2.5" fill="rgb(165, 30, 245)"/><circle cx="911.3" cy="393.3" r="2.5" fill="rgb(165, 30, 245)"/><circle cx="893.7" cy="446.9" r="2.5" fill="rgb(165, 30, 245)"/><circle cx="878.8" cy="428.4" r="2.5" fill="rgb(165, 30, 245)"/><circle cx="893.6" cy="395.9" r="2.5" fill="rgb(165, 30, 245)"/><circle cx="903.5" cy="434.0" r="2.5" fill="rgb(165, 30, 245)"/><circle cx="939.3" cy="391.7" r="2.5" fill="rgb(165, 30, 245)"/><circle cx="890.0" cy="438.7" r="2.5" fill="rgb(165, 30, 245)"/><circle cx="920.9" cy="377.2" r="2.5" fill="rgb(165, 30, 245)"/><circle cx="886.9" cy="431.4" r="2.5" fill="rgb(165, 30, 245)"/><circle cx="882.8" cy="390.8" r="2.5" fill="rgb(165, 30, 245)"/><circle cx="902.6" cy="425.5" r="2.5" fill="rgb(165, 30, 245)"/><circle cx="924.7" cy="359.5" r="2.5" fill="rgb(165, 30, 245)"/><circle cx="923.6" cy="405.1" r="2.5" fill="rgb(165, 30, 245)"/><circle cx="913.2" cy="423.6" r="2.5" fill="rgb(165, 30, 245)"/><circle cx="911.1" cy="369.8" r="2.5" fill="rgb(165, 30, 245)"/><circle cx="1079.1" cy="440.1" r="2.5" fill="rgb(165, 30, 245)"/><circle cx="1057.6" cy="399.5" r="2.5" fill="rgb(165, 30, 245)"/><circle cx="1050.9" cy="400.0" r="2.5" fill="rgb(165, 30, 245)"/><circle cx="1125.8" cy="383.1" r="2.5" fill="rgb(165, 30, 245)"/><circle cx="1050.1" cy="422.6" r="2.5" fill="rgb(165, 30, 245)"/><circle cx="1064.3" cy="434.9" r="2.5" fill="rgb(165, 30, 245)"/><circle cx="1069.2" cy="452.5" r="2.5" fill="rgb(165, 30, 245)"/><circle cx="1053.8" cy="435.4" r="2.5" fill="rgb(165, 30, 245)"/><circle cx="1080.5" cy="405.5" r="2.5" fill="rgb(165, 30, 245)"/><circle cx="1063.4" cy="397.8" r="2.5" fill="rgb(165, 30, 245)"/><circle cx="1082.9" cy="397.1" r="2.5" fill="rgb(165, 30, 245)"/><circle cx="1043.2" cy="392.9" r="2.5" fill="rgb(165, 30, 245)"/><circle cx="1073.3" cy="394.3" r="2.5" fill="rgb(165, 30, 245)"/><circle cx="1104.0" cy="403.9" r="2.5" fill="rgb(165, 30, 245)"/><circle cx="1040.8" cy="409.8" r="2.5" fill="rgb(165, 30, 245)"/><circle cx="991.1" cy="512.6" r="2.5" fill="rgb(165, 30, 245)"/><circle cx="930.4" cy="468.7" r="2.5" fill="rgb(165, 30, 245)"/><circle cx="858.6" cy="411.6" r="2.5" fill="rgb(165, 30, 245)"/><circle cx="958.7" cy="672.3" r="2.5" fill="rgb(165, 30, 245)"/><circle cx="869.3" cy="343.4" r="2.5" fill="rgb(165, 30, 245)"/><circle cx="1147.6" cy="577.4" r="2.5" fill="rgb(165, 30, 245)"/><circle cx="1140.7" cy="449.5" r="2.5" fill="rgb(165, 30, 245)"/><circle cx="1003.4" cy="524.3" r="2.5" fill="rgb(164, 29, 244)"/><circle cx="1093.8" cy="410.7" r="2.5" fill="rgb(164, 29, 244)"/><circle cx="959.9" cy="573.4" r="2.5" fill="rgb(164, 29, 244)"/><circle cx="1054.0" cy="666.2" r="2.5" fill="rgb(164, 29, 244)"/><circle cx="1040.7" cy="601.5" r="2.5" fill="rgb(164, 29, 244)"/><circle cx="1032.6" cy="608.3" r="2.5" fill="rgb(164, 29, 244)"/><circle cx="1010.3" cy="575.1" r="2.5" fill="rgb(164, 29, 244)"/><circle cx="1058.9" cy="663.1" r="2.5" fill="rgb(164, 29, 244)"/><circle cx="900.6" cy="393.8" r="2.5" fill="rgb(164, 29, 244)"/><circle cx="1062.7" cy="520.5" r="2.5" fill="rgb(164, 29, 244)"/><circle cx="939.2" cy="417.5" r="2.5" fill="rgb(164, 29, 244)"/><circle cx="1039.4" cy="429.7" r="2.5" fill="rgb(164, 29, 244)"/><circle cx="927.0" cy="502.3" r="2.5" fill="rgb(164, 29, 244)"/><circle cx="929.3" cy="412.5" r="2.5" fill="rgb(164, 29, 244)"/><circle cx="1057.0" cy="581.2" r="2.5" fill="rgb(163, 29, 244)"/><circle cx="1070.1" cy="529.3" r="2.5" fill="rgb(163, 29, 244)"/><circle cx="1041.2" cy="466.4" r="2.5" fill="rgb(163, 29, 244)"/><circle cx="1043.8" cy="442.4" r="2.5" fill="rgb(163, 29, 244)"/><circle cx="1016.2" cy="543.6" r="2.5" fill="rgb(163, 29, 244)"/><circle cx="919.2" cy="542.3" r="2.5" fill="rgb(163, 29, 244)"/><circle cx="1004.1" cy="612.8" r="2.5" fill="rgb(163, 29, 244)"/><circle cx="1034.1" cy="569.6" r="2.5" fill="rgb(163, 29, 244)"/><circle cx="1097.6" cy="602.3" r="2.5" fill="rgb(163, 29, 244)"/><circle cx="1004.1" cy="506.3" r="2.5" fill="rgb(163, 29, 244)"/><circle cx="944.1" cy="507.9" r="2.5" fill="rgb(163, 29, 244)"/><circle cx="1083.7" cy="591.2" r="2.5" fill="rgb(163, 29, 244)"/><circle cx="933.0" cy="446.2" r="2.5" fill="rgb(162, 29, 244)"/><circle cx="864.8" cy="489.3" r="2.5" fill="rgb(162, 29, 244)"/><circle cx="1093.4" cy="450.4" r="2.5" fill="rgb(162, 29, 244)"/><circle cx="954.6" cy="591.8" r="2.5" fill="rgb(162, 29, 244)"/><circle cx="1099.3" cy="562.3" r="2.5" fill="rgb(162, 29, 244)"/><circle cx="1005.6" cy="580.0" r="2.5" fill="rgb(162, 29, 244)"/><circle cx="964.1" cy="501.9" r="2.5" fill="rgb(162, 29, 244)"/><circle cx="947.6" cy="589.7" r="2.5" fill="rgb(162, 29, 244)"/><circle cx="1060.2" cy="475.1" r="2.5" fill="rgb(162, 29, 244)"/><circle cx="1108.8" cy="574.5" r="2.5" fill="rgb(162, 29, 244)"/><circle cx="1117.2" cy="589.6" r="2.5" fill="rgb(161, 29, 244)"/><circle cx="945.2" cy="384.1" r="2.5" fill="rgb(161, 29, 244)"/><circle cx="965.2" cy="392.4" r="2.5" fill="rgb(161, 29, 244)"/><circle cx="1038.6" cy="436.1" r="2.5" fill="rgb(161, 29, 244)"/><circle cx="938.8" cy="548.3" r="2.5" fill="rgb(161, 29, 244)"/><circle cx="865.5" cy="366.0" r="2.5" fill="rgb(161, 29, 244)"/><circle cx="943.1" cy="457.2" r="2.5" fill="rgb(161, 29, 244)"/><circle cx="1072.1" cy="408.9" r="2.5" fill="rgb(161, 29, 244)"/><circle cx="1058.7" cy="606.3" r="2.5" fill="rgb(161, 29, 244)"/><circle cx="952.9" cy="533.8" r="2.5" fill="rgb(161, 29, 244)"/><circle cx="1036.7" cy="563.0" r="2.5" fill="rgb(161, 29, 244)"/><circle cx="1041.3" cy="489.5" r="2.5" fill="rgb(160, 29, 244)"/><circle cx="1064.0" cy="406.1" r="2.5" fill="rgb(160, 29, 244)"/><circle cx="967.1" cy="383.2" r="2.5" fill="rgb(160, 29, 244)"/><circle cx="941.9" cy="498.4" r="2.5" fill="rgb(160, 29, 244)"/><circle cx="921.6" cy="532.2" r="2.5" fill="rgb(160, 29, 244)"/><circle cx="1085.1" cy="535.3" r="2.5" fill="rgb(160, 28, 244)"/><circle cx="957.0" cy="577.1" r="2.5" fill="rgb(160, 28, 244)"/><circle cx="1026.6" cy="402.8" r="2.5" fill="rgb(160, 28, 244)"/><circle cx="1037.1" cy="636.3" r="2.5" fill="rgb(159, 28, 244)"/><circle cx="973.5" cy="575.3" r="2.5" fill="rgb(159, 28, 244)"/><circle cx="1055.3" cy="664.3" r="2.5" fill="rgb(159, 28, 244)"/><circle cx="1043.4" cy="562.8" r="2.5" fill="rgb(159, 28, 244)"/><circle cx="944.5" cy="478.7" r="2.5" fill="rgb(159, 28, 244)"/><circle cx="1046.2" cy="553.7" r="2.5" fill="rgb(159, 28, 244)"/><circle cx="1071.3" cy="598.8" r="2.5" fill="rgb(159, 28, 244)"/><circle cx="1063.6" cy="517.8" r="2.5" fill="rgb(159, 28, 244)"/><circle cx="1126.0" cy="625.1" r="2.5" fill="rgb(159, 28, 244)"/><circle cx="883.3" cy="457.0" r="2.5" fill="rgb(159, 28, 244)"/><circle cx="1059.0" cy="504.6" r="2.5" fill="rgb(159, 28, 244)"/><circle cx="1053.7" cy="372.4" r="2.5" fill="rgb(158, 28, 244)"/><circle cx="948.8" cy="524.8" r="2.5" fill="rgb(158, 28, 244)"/><circle cx="892.1" cy="543.8" r="2.5" fill="rgb(158, 28, 244)"/><circle cx="951.6" cy="530.1" r="2.5" fill="rgb(158, 28, 244)"/><circle cx="1029.1" cy="637.4" r="2.5" fill="rgb(158, 28, 244)"/><circle cx="994.3" cy="541.5" r="2.5" fill="rgb(158, 28, 244)"/><circle cx="959.7" cy="568.0" r="2.5" fill="rgb(158, 28, 244)"/><circle cx="1058.9" cy="513.5" r="2.5" fill="rgb(158, 28, 244)"/><circle cx="1102.2" cy="576.0" r="2.5" fill="rgb(158, 28, 244)"/><circle cx="1025.6" cy="537.8" r="2.5" fill="rgb(158, 28, 244)"/><circle cx="1040.7" cy="551.0" r="2.5" fill="rgb(158, 28, 244)"/><circle cx="1032.8" cy="559.1" r="2.5" fill="rgb(158, 28, 244)"/><circle cx="1003.7" cy="583.9" r="2.5" fill="rgb(158, 28, 244)"/><circle cx="1126.2" cy="604.7" r="2.5" fill="rgb(158, 28, 244)"/><circle cx="989.9" cy="537.0" r="2.5" fill="rgb(157, 28, 244)"/><circle cx="1026.7" cy="640.9" r="2.5" fill="rgb(157, 28, 244)"/><circle cx="1001.7" cy="388.2" r="2.5" fill="rgb(157, 28, 244)"/><circle cx="1020.5" cy="525.1" r="2.5" fill="rgb(157, 28, 244)"/><circle cx="1093.7" cy="585.9" r="2.5" fill="rgb(157, 28, 244)"/><circle cx="951.9" cy="536.6" r="2.5" fill="rgb(157, 28, 244)"/><circle cx="923.1" cy="404.6" r="2.5" fill="rgb(157, 28, 244)"/><circle cx="957.0" cy="386.8" r="2.5" fill="rgb(157, 28, 244)"/><circle cx="960.8" cy="542.8" r="2.5" fill="rgb(157, 28, 244)"/><circle cx="968.2" cy="560.2" r="2.5" fill="rgb(157, 28, 244)"/><circle cx="994.8" cy="540.8" r="2.5" fill="rgb(157, 28, 244)"/><circle cx="1097.3" cy="606.5" r="2.5" fill="rgb(156, 28, 244)"/><circle cx="1026.3" cy="522.7" r="2.5" fill="rgb(156, 28, 244)"/><circle cx="1064.9" cy="666.0" r="2.5" fill="rgb(156, 28, 244)"/><circle cx="939.1" cy="498.0" r="2.5" fill="rgb(156, 28, 244)"/><circle cx="1041.1" cy="447.4" r="2.5" fill="rgb(156, 28, 244)"/><circle cx="975.2" cy="575.2" r="2.5" fill="rgb(156, 28, 244)"/><circle cx="973.0" cy="577.7" r="2.5" fill="rgb(156, 28, 244)"/><circle cx="1010.2" cy="568.4" r="2.5" fill="rgb(156, 28, 244)"/><circle cx="1034.0" cy="660.2" r="2.5" fill="rgb(156, 28, 244)"/><circle cx="1026.8" cy="396.7" r="2.5" fill="rgb(156, 28, 244)"/><circle cx="951.7" cy="585.8" r="2.5" fill="rgb(156, 28, 244)"/><circle cx="1064.1" cy="415.1" r="2.5" fill="rgb(156, 28, 244)"/><circle cx="1032.5" cy="436.4" r="2.5" fill="rgb(155, 27, 243)"/><circle cx="1054.6" cy="563.2" r="2.5" fill="rgb(155, 27, 243)"/><circle cx="970.1" cy="540.6" r="2.5" fill="rgb(155, 27, 243)"/><circle cx="938.3" cy="404.5" r="2.5" fill="rgb(155, 27, 243)"/><circle cx="935.3" cy="454.1" r="2.5" fill="rgb(154, 27, 243)"/><circle cx="1116.5" cy="602.4" r="2.5" fill="rgb(154, 27, 243)"/><circle cx="935.0" cy="520.3" r="2.5" fill="rgb(154, 27, 243)"/><circle cx="1052.1" cy="663.1" r="2.5" fill="rgb(154, 27, 243)"/><circle cx="1029.4" cy="402.1" r="2.5" fill="rgb(154, 27, 243)"/><circle cx="1080.9" cy="590.5" r="2.5" fill="rgb(154, 27, 243)"/><circle cx="1043.3" cy="603.3" r="2.5" fill="rgb(154, 27, 243)"/><circle cx="1107.1" cy="582.9" r="2.5" fill="rgb(154, 27, 243)"/><circle cx="1116.5" cy="602.1" r="2.5" fill="rgb(154, 27, 243)"/><circle cx="1056.4" cy="510.1" r="2.5" fill="rgb(154, 27, 243)"/><circle cx="918.3" cy="414.1" r="2.5" fill="rgb(154, 27, 243)"/><circle cx="1052.3" cy="660.9" r="2.5" fill="rgb(154, 27, 243)"/><circle cx="1044.6" cy="579.2" r="2.5" fill="rgb(154, 27, 243)"/><circle cx="1040.9" cy="610.4" r="2.5" fill="rgb(154, 27, 243)"/><circle cx="907.0" cy="371.9" r="2.5" fill="rgb(154, 27, 243)"/><circle cx="1037.4" cy="502.7" r="2.5" fill="rgb(154, 27, 243)"/><circle cx="1006.3" cy="554.7" r="2.5" fill="rgb(153, 27, 243)"/><circle cx="1083.0" cy="616.1" r="2.5" fill="rgb(153, 27, 243)"/><circle cx="973.2" cy="540.3" r="2.5" fill="rgb(153, 27, 243)"/><circle cx="981.7" cy="384.9" r="2.5" fill="rgb(153, 27, 243)"/><circle cx="1018.5" cy="382.0" r="2.5" fill="rgb(153, 27, 243)"/><circle cx="1066.4" cy="531.5" r="2.5" fill="rgb(153, 27, 243)"/><circle cx="1038.7" cy="415.3" r="2.5" fill="rgb(153, 27, 243)"/><circle cx="936.0" cy="406.3" r="2.5" fill="rgb(153, 27, 243)"/><circle cx="982.9" cy="529.4" r="2.5" fill="rgb(153, 27, 243)"/><circle cx="947.4" cy="530.6" r="2.5" fill="rgb(153, 27, 243)"/><circle cx="1007.1" cy="634.5" r="2.5" fill="rgb(152, 27, 243)"/><circle cx="1113.5" cy="568.0" r="2.5" fill="rgb(152, 27, 243)"/><circle cx="1109.1" cy="614.8" r="2.5" fill="rgb(152, 27, 243)"/><circle cx="970.8" cy="510.0" r="2.5" fill="rgb(152, 27, 243)"/><circle cx="1059.8" cy="542.3" r="2.5" fill="rgb(152, 27, 243)"/><circle cx="931.4" cy="388.1" r="2.5" fill="rgb(152, 27, 243)"/><circle cx="948.3" cy="531.9" r="2.5" fill="rgb(152, 27, 243)"/><circle cx="1112.8" cy="616.5" r="2.5" fill="rgb(152, 27, 243)"/><circle cx="1054.7" cy="489.9" r="2.5" fill="rgb(152, 27, 243)"/><circle cx="945.4" cy="476.1" r="2.5" fill="rgb(152, 27, 243)"/><circle cx="1038.0" cy="611.7" r="2.5" fill="rgb(151, 27, 243)"/><circle cx="963.1" cy="511.6" r="2.5" fill="rgb(151, 27, 243)"/><circle cx="930.6" cy="522.0" r="2.5" fill="rgb(151, 27, 243)"/><circle cx="1096.1" cy="458.5" r="2.5" fill="rgb(151, 27, 243)"/><circle cx="1054.0" cy="614.6" r="2.5" fill="rgb(151, 27, 243)"/><circle cx="1010.7" cy="407.4" r="2.5" fill="rgb(151, 27, 243)"/><circle cx="1054.9" cy="681.6" r="2.5" fill="rgb(151, 27, 243)"/><circle cx="1020.1" cy="617.3" r="2.5" fill="rgb(151, 26, 243)"/><circle cx="928.6" cy="504.0" r="2.5" fill="rgb(151, 26, 243)"/><circle cx="937.0" cy="483.1" r="2.5" fill="rgb(151, 26, 243)"/><circle cx="934.7" cy="455.1" r="2.5" fill="rgb(151, 26, 243)"/><circle cx="1041.5" cy="611.9" r="2.5" fill="rgb(150, 26, 243)"/><circle cx="918.3" cy="532.5" r="2.5" fill="rgb(150, 26, 243)"/><circle cx="1082.8" cy="543.6" r="2.5" fill="rgb(150, 26, 243)"/><circle cx="1041.2" cy="545.4" r="2.5" fill="rgb(150, 26, 243)"/><circle cx="954.0" cy="569.2" r="2.5" fill="rgb(150, 26, 243)"/><circle cx="1065.6" cy="595.4" r="2.5" fill="rgb(150, 26, 243)"/><circle cx="1039.6" cy="580.9" r="2.5" fill="rgb(150, 26, 243)"/><circle cx="1141.1" cy="588.3" r="2.5" fill="rgb(150, 26, 243)"/><circle cx="938.6" cy="456.4" r="2.5" fill="rgb(150, 26, 243)"/><circle cx="963.2" cy="510.3" r="2.5" fill="rgb(149, 26, 243)"/><circle cx="1068.7" cy="588.4" r="2.5" fill="rgb(149, 26, 243)"/><circle cx="974.6" cy="533.3" r="2.5" fill="rgb(149, 26, 243)"/><circle cx="1065.7" cy="591.9" r="2.5" fill="rgb(149, 26, 243)"/><circle cx="1046.9" cy="450.5" r="2.5" fill="rgb(149, 26, 243)"/><circle cx="947.9" cy="545.5" r="2.5" fill="rgb(149, 26, 243)"/><circle cx="1018.7" cy="373.4" r="2.5" fill="rgb(148, 26, 243)"/><circle cx="1069.5" cy="507.8" r="2.5" fill="rgb(148, 26, 243)"/><circle cx="1028.7" cy="606.3" r="2.5" fill="rgb(148, 26, 243)"/><circle cx="1083.9" cy="611.3" r="2.5" fill="rgb(148, 26, 243)"/><circle cx="900.0" cy="430.2" r="2.5" fill="rgb(148, 26, 243)"/><circle cx="933.5" cy="433.0" r="2.5" fill="rgb(148, 26, 243)"/><circle cx="959.4" cy="494.4" r="2.5" fill="rgb(148, 26, 243)"/><circle cx="938.2" cy="476.2" r="2.5" fill="rgb(148, 26, 243)"/><circle cx="943.0" cy="498.5" r="2.5" fill="rgb(148, 26, 243)"/><circle cx="1063.2" cy="595.7" r="2.5" fill="rgb(148, 26, 243)"/><circle cx="956.4" cy="529.7" r="2.5" fill="rgb(148, 26, 243)"/><circle cx="1059.5" cy="398.2" r="2.5" fill="rgb(148, 26, 243)"/><circle cx="936.1" cy="548.2" r="2.5" fill="rgb(147, 26, 243)"/><circle cx="1115.9" cy="622.9" r="2.5" fill="rgb(147, 26, 243)"/><circle cx="948.8" cy="474.7" r="2.5" fill="rgb(147, 26, 243)"/><circle cx="1028.9" cy="509.6" r="2.5" fill="rgb(147, 26, 243)"/><circle cx="1033.9" cy="599.4" r="2.5" fill="rgb(147, 26, 243)"/><circle cx="973.1" cy="509.6" r="2.5" fill="rgb(147, 26, 243)"/><circle cx="1044.5" cy="521.0" r="2.5" fill="rgb(147, 26, 243)"/><circle cx="867.8" cy="390.1" r="2.5" fill="rgb(147, 26, 243)"/><circle cx="1091.2" cy="602.8" r="2.5" fill="rgb(147, 26, 243)"/><circle cx="912.6" cy="403.4" r="2.5" fill="rgb(147, 26, 243)"/><circle cx="1055.2" cy="560.1" r="2.5" fill="rgb(147, 26, 243)"/><circle cx="1034.9" cy="535.6" r="2.5" fill="rgb(147, 26, 243)"/><circle cx="1081.8" cy="519.9" r="2.5" fill="rgb(147, 26, 243)"/><circle cx="1015.7" cy="517.8" r="2.5" fill="rgb(147, 26, 243)"/><circle cx="948.8" cy="484.2" r="2.5" fill="rgb(147, 26, 243)"/><circle cx="978.4" cy="520.2" r="2.5" fill="rgb(147, 26, 243)"/><circle cx="1037.7" cy="593.1" r="2.5" fill="rgb(147, 26, 243)"/><circle cx="1043.2" cy="594.5" r="2.5" fill="rgb(147, 26, 243)"/><circle cx="1065.7" cy="685.7" r="2.5" fill="rgb(147, 26, 243)"/><circle cx="940.7" cy="376.4" r="2.5" fill="rgb(146, 25, 242)"/><circle cx="1087.8" cy="561.0" r="2.5" fill="rgb(146, 25, 242)"/><circle cx="1045.4" cy="496.1" r="2.5" fill="rgb(146, 25, 242)"/><circle cx="918.8" cy="388.8" r="2.5" fill="rgb(146, 25, 242)"/><circle cx="1093.5" cy="555.0" r="2.5" fill="rgb(146, 25, 242)"/><circle cx="1056.6" cy="520.8" r="2.5" fill="rgb(145, 25, 242)"/><circle cx="1036.0" cy="417.2" r="2.5" fill="rgb(145, 25, 242)"/><circle cx="1051.8" cy="560.6" r="2.5" fill="rgb(145, 25, 242)"/><circle cx="941.9" cy="585.5" r="2.5" fill="rgb(145, 25, 242)"/><circle cx="1086.3" cy="535.1" r="2.5" fill="rgb(145, 25, 242)"/><circle cx="1049.5" cy="549.1" r="2.5" fill="rgb(145, 25, 242)"/><circle cx="1037.6" cy="493.8" r="2.5" fill="rgb(145, 25, 242)"/><circle cx="1060.3" cy="553.4" r="2.5" fill="rgb(145, 25, 242)"/><circle cx="959.4" cy="529.4" r="2.5" fill="rgb(145, 25, 242)"/><circle cx="946.0" cy="565.7" r="2.5" fill="rgb(145, 25, 242)"/><circle cx="1006.6" cy="534.9" r="2.5" fill="rgb(144, 25, 242)"/><circle cx="1059.0" cy="516.3" r="2.5" fill="rgb(144, 25, 242)"/><circle cx="1101.3" cy="572.6" r="2.5" fill="rgb(144, 25, 242)"/><circle cx="1007.6" cy="622.6" r="2.5" fill="rgb(144, 25, 242)"/><circle cx="1064.0" cy="340.6" r="2.5" fill="rgb(144, 25, 242)"/><circle cx="1035.5" cy="676.6" r="2.5" fill="rgb(144, 25, 242)"/><circle cx="912.7" cy="448.4" r="2.5" fill="rgb(144, 25, 242)"/><circle cx="1014.8" cy="607.0" r="2.5" fill="rgb(144, 25, 242)"/><circle cx="1027.5" cy="622.7" r="2.5" fill="rgb(144, 25, 242)"/><circle cx="1101.2" cy="630.5" r="2.5" fill="rgb(144, 25, 242)"/><circle cx="1054.3" cy="580.0" r="2.5" fill="rgb(143, 25, 242)"/><circle cx="932.4" cy="441.1" r="2.5" fill="rgb(143, 25, 242)"/><circle cx="1035.5" cy="456.0" r="2.5" fill="rgb(143, 25, 242)"/><circle cx="930.2" cy="563.5" r="2.5" fill="rgb(143, 25, 242)"/><circle cx="1002.3" cy="585.9" r="2.5" fill="rgb(143, 25, 242)"/><circle cx="1042.9" cy="534.1" r="2.5" fill="rgb(143, 25, 242)"/><circle cx="897.9" cy="404.6" r="2.5" fill="rgb(143, 25, 242)"/><circle cx="1040.7" cy="684.8" r="2.5" fill="rgb(143, 25, 242)"/><circle cx="1037.0" cy="572.5" r="2.5" fill="rgb(143, 25, 242)"/><circle cx="1057.3" cy="566.6" r="2.5" fill="rgb(143, 25, 242)"/><circle cx="977.0" cy="390.7" r="2.5" fill="rgb(143, 25, 242)"/><circle cx="925.4" cy="537.7" r="2.5" fill="rgb(143, 25, 242)"/><circle cx="979.2" cy="540.9" r="2.5" fill="rgb(143, 25, 242)"/><circle cx="1041.0" cy="445.0" r="2.5" fill="rgb(143, 25, 242)"/><circle cx="1065.4" cy="573.2" r="2.5" fill="rgb(143, 25, 242)"/><circle cx="1137.9" cy="683.6" r="2.5" fill="rgb(142, 25, 242)"/><circle cx="1007.3" cy="382.5" r="2.5" fill="rgb(142, 25, 242)"/><circle cx="1112.4" cy="605.9" r="2.5" fill="rgb(142, 25, 242)"/><circle cx="939.0" cy="464.2" r="2.5" fill="rgb(142, 25, 242)"/><circle cx="1044.8" cy="683.2" r="2.5" fill="rgb(142, 25, 242)"/><circle cx="1017.8" cy="537.9" r="2.5" fill="rgb(142, 25, 242)"/><circle cx="964.5" cy="379.1" r="2.5" fill="rgb(142, 25, 242)"/><circle cx="1058.4" cy="596.3" r="2.5" fill="rgb(142, 25, 242)"/><circle cx="1043.1" cy="454.9" r="2.5" fill="rgb(142, 24, 242)"/><circle cx="947.1" cy="381.8" r="2.5" fill="rgb(142, 24, 242)"/><circle cx="1016.6" cy="396.3" r="2.5" fill="rgb(142, 24, 242)"/><circle cx="1057.9" cy="519.0" r="2.5" fill="rgb(142, 24, 242)"/><circle cx="1061.1" cy="529.1" r="2.5" fill="rgb(142, 24, 242)"/><circle cx="1006.7" cy="375.2" r="2.5" fill="rgb(142, 24, 242)"/><circle cx="956.4" cy="347.1" r="2.5" fill="rgb(142, 24, 242)"/><circle cx="1111.8" cy="595.4" r="2.5" fill="rgb(142, 24, 242)"/><circle cx="1079.7" cy="539.3" r="2.5" fill="rgb(142, 24, 242)"/><circle cx="1119.7" cy="595.8" r="2.5" fill="rgb(142, 24, 242)"/><circle cx="960.1" cy="373.8" r="2.5" fill="rgb(141, 24, 242)"/><circle cx="1003.1" cy="594.8" r="2.5" fill="rgb(141, 24, 242)"/><circle cx="1073.2" cy="543.1" r="2.5" fill="rgb(141, 24, 242)"/><circle cx="914.5" cy="354.6" r="2.5" fill="rgb(141, 24, 242)"/><circle cx="1049.9" cy="577.8" r="2.5" fill="rgb(141, 24, 242)"/><circle cx="1037.3" cy="633.7" r="2.5" fill="rgb(141, 24, 242)"/><circle cx="1096.0" cy="549.8" r="2.5" fill="rgb(141, 24, 242)"/><circle cx="1032.0" cy="627.9" r="2.5" fill="rgb(141, 24, 242)"/><circle cx="935.6" cy="432.4" r="2.5" fill="rgb(140, 24, 242)"/><circle cx="983.8" cy="507.1" r="2.5" fill="rgb(140, 24, 242)"/><circle cx="1003.2" cy="626.7" r="2.5" fill="rgb(140, 24, 242)"/><circle cx="1050.4" cy="519.5" r="2.5" fill="rgb(140, 24, 242)"/><circle cx="936.3" cy="525.8" r="2.5" fill="rgb(140, 24, 242)"/><circle cx="1026.6" cy="618.6" r="2.5" fill="rgb(140, 24, 242)"/><circle cx="1047.6" cy="533.3" r="2.5" fill="rgb(140, 24, 242)"/><circle cx="1066.8" cy="582.3" r="2.5" fill="rgb(140, 24, 242)"/><circle cx="975.4" cy="571.9" r="2.5" fill="rgb(140, 24, 242)"/><circle cx="996.1" cy="520.9" r="2.5" fill="rgb(140, 24, 242)"/><circle cx="1034.9" cy="485.8" r="2.5" fill="rgb(140, 24, 242)"/><circle cx="1029.2" cy="629.0" r="2.5" fill="rgb(140, 24, 242)"/><circle cx="1063.1" cy="660.4" r="2.5" fill="rgb(140, 24, 242)"/><circle cx="1037.3" cy="632.6" r="2.5" fill="rgb(139, 24, 242)"/><circle cx="1026.9" cy="519.9" r="2.5" fill="rgb(139, 24, 242)"/><circle cx="1091.9" cy="546.0" r="2.5" fill="rgb(139, 24, 242)"/><circle cx="1015.9" cy="602.2" r="2.5" fill="rgb(139, 24, 242)"/><circle cx="1083.5" cy="564.8" r="2.5" fill="rgb(139, 24, 242)"/><circle cx="892.1" cy="435.0" r="2.5" fill="rgb(139, 24, 242)"/><circle cx="1015.9" cy="570.8" r="2.5" fill="rgb(139, 24, 242)"/><circle cx="1057.4" cy="543.7" r="2.5" fill="rgb(139, 24, 242)"/><circle cx="1036.9" cy="455.2" r="2.5" fill="rgb(139, 24, 242)"/><circle cx="979.8" cy="564.1" r="2.5" fill="rgb(139, 24, 242)"/><circle cx="895.1" cy="394.7" r="2.5" fill="rgb(138, 24, 242)"/><circle cx="1086.5" cy="590.0" r="2.5" fill="rgb(138, 24, 242)"/><circle cx="1044.2" cy="522.6" r="2.5" fill="rgb(138, 24, 242)"/><circle cx="1035.1" cy="486.4" r="2.5" fill="rgb(138, 24, 242)"/><circle cx="1039.0" cy="628.0" r="2.5" fill="rgb(138, 24, 242)"/><circle cx="1044.7" cy="430.5" r="2.5" fill="rgb(138, 24, 242)"/><circle cx="1109.2" cy="608.0" r="2.5" fill="rgb(138, 24, 242)"/><circle cx="1106.8" cy="610.5" r="2.5" fill="rgb(138, 24, 242)"/><circle cx="933.4" cy="447.6" r="2.5" fill="rgb(138, 24, 242)"/><circle cx="1023.2" cy="523.1" r="2.5" fill="rgb(138, 24, 242)"/><circle cx="1047.5" cy="520.5" r="2.5" fill="rgb(138, 24, 242)"/><circle cx="1073.5" cy="606.3" r="2.5" fill="rgb(138, 24, 242)"/><circle cx="969.7" cy="526.9" r="2.5" fill="rgb(138, 24, 242)"/><circle cx="980.6" cy="508.2" r="2.5" fill="rgb(137, 23, 241)"/><circle cx="1002.7" cy="524.2" r="2.5" fill="rgb(137, 23, 241)"/><circle cx="957.6" cy="511.3" r="2.5" fill="rgb(137, 23, 241)"/><circle cx="1040.3" cy="497.4" r="2.5" fill="rgb(137, 23, 241)"/><circle cx="1090.1" cy="566.0" r="2.5" fill="rgb(137, 23, 241)"/><circle cx="924.3" cy="501.4" r="2.5" fill="rgb(137, 23, 241)"/><circle cx="1028.3" cy="571.4" r="2.5" fill="rgb(137, 23, 241)"/><circle cx="948.3" cy="478.4" r="2.5" fill="rgb(137, 23, 241)"/><circle cx="944.2" cy="549.5" r="2.5" fill="rgb(137, 23, 241)"/><circle cx="1057.2" cy="411.0" r="2.5" fill="rgb(137, 23, 241)"/><circle cx="992.7" cy="389.1" r="2.5" fill="rgb(137, 23, 241)"/><circle cx="1018.1" cy="617.2" r="2.5" fill="rgb(137, 23, 241)"/><circle cx="875.8" cy="469.8" r="2.5" fill="rgb(137, 23, 241)"/><circle cx="1041.9" cy="544.7" r="2.5" fill="rgb(136, 23, 241)"/><circle cx="1082.3" cy="427.1" r="2.5" fill="rgb(136, 23, 241)"/><circle cx="1108.4" cy="608.3" r="2.5" fill="rgb(136, 23, 241)"/><circle cx="1059.0" cy="579.5" r="2.5" fill="rgb(136, 23, 241)"/><circle cx="1052.5" cy="678.1" r="2.5" fill="rgb(136, 23, 241)"/><circle cx="952.8" cy="530.6" r="2.5" fill="rgb(136, 23, 241)"/><circle cx="1046.6" cy="565.9" r="2.5" fill="rgb(136, 23, 241)"/><circle cx="936.6" cy="493.5" r="2.5" fill="rgb(136, 23, 241)"/><circle cx="1011.6" cy="362.1" r="2.5" fill="rgb(136, 23, 241)"/><circle cx="1002.4" cy="614.8" r="2.5" fill="rgb(136, 23, 241)"/><circle cx="1122.5" cy="615.7" r="2.5" fill="rgb(136, 23, 241)"/><circle cx="1059.9" cy="403.2" r="2.5" fill="rgb(136, 23, 241)"/><circle cx="1039.5" cy="666.7" r="2.5" fill="rgb(136, 23, 241)"/><circle cx="1041.0" cy="590.8" r="2.5" fill="rgb(136, 23, 241)"/><circle cx="1007.2" cy="607.9" r="2.5" fill="rgb(135, 23, 241)"/><circle cx="1043.6" cy="657.0" r="2.5" fill="rgb(135, 23, 241)"/><circle cx="943.2" cy="541.8" r="2.5" fill="rgb(135, 23, 241)"/><circle cx="944.9" cy="584.7" r="2.5" fill="rgb(135, 23, 241)"/><circle cx="916.7" cy="397.1" r="2.5" fill="rgb(135, 23, 241)"/><circle cx="1095.0" cy="589.4" r="2.5" fill="rgb(135, 23, 241)"/><circle cx="1112.3" cy="594.5" r="2.5" fill="rgb(135, 23, 241)"/><circle cx="1084.9" cy="417.2" r="2.5" fill="rgb(135, 23, 241)"/><circle cx="939.8" cy="550.2" r="2.5" fill="rgb(135, 23, 241)"/><circle cx="1008.4" cy="627.4" r="2.5" fill="rgb(135, 23, 241)"/><circle cx="1043.0" cy="555.0" r="2.5" fill="rgb(134, 23, 241)"/><circle cx="957.0" cy="389.5" r="2.5" fill="rgb(134, 23, 241)"/><circle cx="1006.6" cy="395.5" r="2.5" fill="rgb(134, 23, 241)"/><circle cx="1038.6" cy="668.7" r="2.5" fill="rgb(134, 23, 241)"/><circle cx="924.0" cy="535.7" r="2.5" fill="rgb(134, 23, 241)"/><circle cx="920.4" cy="424.6" r="2.5" fill="rgb(134, 23, 241)"/><circle cx="936.8" cy="448.9" r="2.5" fill="rgb(134, 23, 241)"/><circle cx="977.3" cy="501.0" r="2.5" fill="rgb(134, 23, 241)"/><circle cx="951.3" cy="481.7" r="2.5" fill="rgb(134, 23, 241)"/><circle cx="949.3" cy="536.0" r="2.5" fill="rgb(134, 23, 241)"/><circle cx="985.7" cy="386.8" r="2.5" fill="rgb(134, 23, 241)"/><circle cx="938.3" cy="375.1" r="2.5" fill="rgb(133, 23, 241)"/><circle cx="1080.1" cy="589.4" r="2.5" fill="rgb(133, 23, 241)"/><circle cx="1059.4" cy="404.1" r="2.5" fill="rgb(133, 23, 241)"/><circle cx="1082.9" cy="597.8" r="2.5" fill="rgb(133, 23, 241)"/><circle cx="1086.0" cy="611.7" r="2.5" fill="rgb(133, 22, 241)"/><circle cx="930.8" cy="490.6" r="2.5" fill="rgb(133, 22, 241)"/><circle cx="1086.5" cy="539.4" r="2.5" fill="rgb(133, 22, 241)"/><circle cx="948.4" cy="390.1" r="2.5" fill="rgb(133, 22, 241)"/><circle cx="931.7" cy="556.1" r="2.5" fill="rgb(133, 22, 241)"/><circle cx="922.3" cy="412.3" r="2.5" fill="rgb(133, 22, 241)"/><circle cx="1055.0" cy="540.7" r="2.5" fill="rgb(133, 22, 241)"/><circle cx="924.6" cy="426.1" r="2.5" fill="rgb(132, 22, 241)"/><circle cx="1097.6" cy="570.9" r="2.5" fill="rgb(132, 22, 241)"/><circle cx="928.6" cy="555.5" r="2.5" fill="rgb(132, 22, 241)"/><circle cx="955.8" cy="390.7" r="2.5" fill="rgb(132, 22, 241)"/><circle cx="1053.8" cy="564.7" r="2.5" fill="rgb(132, 22, 241)"/><circle cx="1023.1" cy="621.0" r="2.5" fill="rgb(132, 22, 241)"/><circle cx="1005.0" cy="604.4" r="2.5" fill="rgb(132, 22, 241)"/><circle cx="958.1" cy="551.7" r="2.5" fill="rgb(132, 22, 241)"/><circle cx="1049.0" cy="545.8" r="2.5" fill="rgb(131, 22, 241)"/><circle cx="948.5" cy="390.0" r="2.5" fill="rgb(131, 22, 241)"/><circle cx="1008.4" cy="623.7" r="2.5" fill="rgb(131, 22, 241)"/><circle cx="948.6" cy="515.8" r="2.5" fill="rgb(131, 22, 241)"/><circle cx="953.4" cy="521.8" r="2.5" fill="rgb(131, 22, 241)"/><circle cx="993.0" cy="511.7" r="2.5" fill="rgb(131, 22, 241)"/><circle cx="1092.2" cy="597.1" r="2.5" fill="rgb(131, 22, 241)"/><circle cx="1097.0" cy="593.7" r="2.5" fill="rgb(131, 22, 241)"/><circle cx="1073.4" cy="540.5" r="2.5" fill="rgb(131, 22, 241)"/><circle cx="1039.7" cy="510.1" r="2.5" fill="rgb(131, 22, 241)"/><circle cx="1053.1" cy="496.8" r="2.5" fill="rgb(131, 22, 241)"/><circle cx="983.6" cy="528.4" r="2.5" fill="rgb(131, 22, 241)"/><circle cx="1022.5" cy="645.3" r="2.5" fill="rgb(131, 22, 241)"/><circle cx="941.8" cy="459.7" r="2.5" fill="rgb(131, 22, 241)"/><circle cx="989.8" cy="384.7" r="2.5" fill="rgb(131, 22, 241)"/><circle cx="1064.3" cy="543.3" r="2.5" fill="rgb(131, 22, 241)"/><circle cx="1012.2" cy="510.6" r="2.5" fill="rgb(131, 22, 241)"/><circle cx="1027.0" cy="641.2" r="2.5" fill="rgb(131, 22, 241)"/><circle cx="1073.2" cy="649.1" r="2.5" fill="rgb(130, 22, 241)"/><circle cx="954.1" cy="591.6" r="2.5" fill="rgb(130, 22, 241)"/><circle cx="1016.0" cy="625.0" r="2.5" fill="rgb(130, 22, 241)"/><circle cx="1037.7" cy="515.9" r="2.5" fill="rgb(130, 22, 241)"/><circle cx="1045.4" cy="578.7" r="2.5" fill="rgb(130, 22, 241)"/><circle cx="944.1" cy="540.6" r="2.5" fill="rgb(130, 22, 241)"/><circle cx="935.4" cy="382.0" r="2.5" fill="rgb(130, 22, 241)"/><circle cx="1010.5" cy="575.4" r="2.5" fill="rgb(130, 22, 241)"/><circle cx="1046.8" cy="540.8" r="2.5" fill="rgb(129, 22, 241)"/><circle cx="1036.5" cy="442.1" r="2.5" fill="rgb(129, 22, 241)"/><circle cx="941.3" cy="410.4" r="2.5" fill="rgb(129, 22, 241)"/><circle cx="995.0" cy="390.0" r="2.5" fill="rgb(129, 22, 241)"/><circle cx="975.1" cy="533.2" r="2.5" fill="rgb(129, 22, 241)"/><circle cx="1011.7" cy="624.0" r="2.5" fill="rgb(129, 22, 241)"/><circle cx="1140.0" cy="474.8" r="2.5" fill="rgb(129, 22, 241)"/><circle cx="939.0" cy="416.6" r="2.5" fill="rgb(129, 22, 241)"/><circle cx="958.2" cy="574.8" r="2.5" fill="rgb(129, 22, 241)"/><circle cx="924.6" cy="503.9" r="2.5" fill="rgb(129, 22, 241)"/><circle cx="1034.7" cy="413.2" r="2.5" fill="rgb(129, 22, 241)"/><circle cx="1015.6" cy="623.4" r="2.5" fill="rgb(129, 22, 241)"/><circle cx="1030.6" cy="503.5" r="2.5" fill="rgb(129, 22, 241)"/><circle cx="1001.1" cy="602.3" r="2.5" fill="rgb(129, 22, 241)"/><circle cx="1112.8" cy="620.9" r="2.5" fill="rgb(129, 22, 241)"/><circle cx="927.9" cy="539.4" r="2.5" fill="rgb(129, 22, 241)"/><circle cx="963.1" cy="401.2" r="2.5" fill="rgb(129, 22, 241)"/><circle cx="977.1" cy="556.9" r="2.5" fill="rgb(128, 21, 240)"/><circle cx="1034.7" cy="517.9" r="2.5" fill="rgb(128, 21, 240)"/><circle cx="1036.1" cy="526.2" r="2.5" fill="rgb(128, 21, 240)"/><circle cx="1098.4" cy="617.1" r="2.5" fill="rgb(128, 21, 240)"/><circle cx="960.4" cy="383.7" r="2.5" fill="rgb(128, 21, 240)"/><circle cx="1022.6" cy="573.6" r="2.5" fill="rgb(128, 21, 240)"/><circle cx="1042.3" cy="684.3" r="2.5" fill="rgb(128, 21, 240)"/><circle cx="946.1" cy="549.7" r="2.5" fill="rgb(128, 21, 240)"/><circle cx="1115.6" cy="629.9" r="2.5" fill="rgb(128, 21, 240)"/><circle cx="971.5" cy="573.3" r="2.5" fill="rgb(128, 21, 240)"/><circle cx="1009.0" cy="619.7" r="2.5" fill="rgb(128, 21, 240)"/><circle cx="1048.9" cy="555.0" r="2.5" fill="rgb(128, 21, 240)"/><circle cx="1054.1" cy="650.2" r="2.5" fill="rgb(128, 21, 240)"/><circle cx="1036.7" cy="575.2" r="2.5" fill="rgb(128, 21, 240)"/><circle cx="1024.8" cy="539.7" r="2.5" fill="rgb(128, 21, 240)"/><circle cx="1032.5" cy="440.5" r="2.5" fill="rgb(127, 21, 240)"/><circle cx="1003.0" cy="627.6" r="2.5" fill="rgb(127, 21, 240)"/><circle cx="1046.0" cy="671.9" r="2.5" fill="rgb(127, 21, 240)"/><circle cx="933.7" cy="447.7" r="2.5" fill="rgb(127, 21, 240)"/><circle cx="1006.9" cy="580.4" r="2.5" fill="rgb(127, 21, 240)"/><circle cx="1039.9" cy="427.9" r="2.5" fill="rgb(126, 21, 240)"/><circle cx="1086.1" cy="552.6" r="2.5" fill="rgb(126, 21, 240)"/><circle cx="1010.3" cy="602.9" r="2.5" fill="rgb(126, 21, 240)"/><circle cx="925.4" cy="495.9" r="2.5" fill="rgb(126, 21, 240)"/><circle cx="1038.1" cy="427.5" r="2.5" fill="rgb(126, 21, 240)"/><circle cx="1068.6" cy="613.7" r="2.5" fill="rgb(126, 21, 240)"/><circle cx="1018.7" cy="519.7" r="2.5" fill="rgb(126, 21, 240)"/><circle cx="894.9" cy="421.2" r="2.5" fill="rgb(126, 21, 240)"/><circle cx="997.9" cy="388.4" r="2.5" fill="rgb(126, 21, 240)"/><circle cx="938.0" cy="518.4" r="2.5" fill="rgb(126, 21, 240)"/><circle cx="975.3" cy="540.7" r="2.5" fill="rgb(125, 21, 240)"/><circle cx="1063.3" cy="583.3" r="2.5" fill="rgb(125, 21, 240)"/><circle cx="953.2" cy="532.1" r="2.5" fill="rgb(125, 21, 240)"/><circle cx="1124.6" cy="614.6" r="2.5" fill="rgb(125, 21, 240)"/><circle cx="1041.2" cy="508.8" r="2.5" fill="rgb(125, 21, 240)"/><circle cx="933.6" cy="429.6" r="2.5" fill="rgb(125, 21, 240)"/><circle cx="1058.8" cy="533.8" r="2.5" fill="rgb(125, 21, 240)"/><circle cx="1066.2" cy="578.0" r="2.5" fill="rgb(125, 21, 240)"/><circle cx="1006.1" cy="577.3" r="2.5" fill="rgb(125, 21, 240)"/><circle cx="959.3" cy="515.1" r="2.5" fill="rgb(125, 21, 240)"/><circle cx="1114.1" cy="597.8" r="2.5" fill="rgb(125, 21, 240)"/><circle cx="1047.8" cy="510.3" r="2.5" fill="rgb(125, 21, 240)"/><circle cx="1053.4" cy="671.6" r="2.5" fill="rgb(125, 21, 240)"/><circle cx="1070.4" cy="377.3" r="2.5" fill="rgb(124, 21, 240)"/><circle cx="1080.0" cy="546.3" r="2.5" fill="rgb(124, 21, 240)"/><circle cx="963.6" cy="392.2" r="2.5" fill="rgb(124, 21, 240)"/><circle cx="936.4" cy="563.7" r="2.5" fill="rgb(124, 21, 240)"/><circle cx="1027.1" cy="405.7" r="2.5" fill="rgb(124, 21, 240)"/><circle cx="1027.6" cy="404.6" r="2.5" fill="rgb(124, 21, 240)"/><circle cx="936.5" cy="460.5" r="2.5" fill="rgb(124, 21, 240)"/><circle cx="1024.7" cy="624.1" r="2.5" fill="rgb(124, 20, 240)"/><circle cx="971.4" cy="392.8" r="2.5" fill="rgb(124, 20, 240)"/><circle cx="1035.9" cy="439.1" r="2.5" fill="rgb(124, 20, 240)"/><circle cx="887.2" cy="439.5" r="2.5" fill="rgb(124, 20, 240)"/><circle cx="959.0" cy="587.0" r="2.5" fill="rgb(124, 20, 240)"/><circle cx="952.0" cy="523.1" r="2.5" fill="rgb(124, 20, 240)"/><circle cx="1034.0" cy="542.9" r="2.5" fill="rgb(124, 20, 240)"/><circle cx="1022.1" cy="512.1" r="2.5" fill="rgb(123, 20, 240)"/><circle cx="979.9" cy="527.1" r="2.5" fill="rgb(123, 20, 240)"/><circle cx="1098.7" cy="580.9" r="2.5" fill="rgb(123, 20, 240)"/><circle cx="972.9" cy="510.3" r="2.5" fill="rgb(123, 20, 240)"/><circle cx="1030.3" cy="600.0" r="2.5" fill="rgb(123, 20, 240)"/><circle cx="900.3" cy="388.0" r="2.5" fill="rgb(123, 20, 240)"/><circle cx="931.0" cy="503.2" r="2.5" fill="rgb(123, 20, 240)"/><circle cx="1027.4" cy="536.6" r="2.5" fill="rgb(123, 20, 240)"/><circle cx="934.6" cy="437.8" r="2.5" fill="rgb(123, 20, 240)"/><circle cx="1076.9" cy="548.6" r="2.5" fill="rgb(123, 20, 240)"/><circle cx="1074.2" cy="590.5" r="2.5" fill="rgb(123, 20, 240)"/><circle cx="944.0" cy="456.8" r="2.5" fill="rgb(123, 20, 240)"/><circle cx="1021.2" cy="561.6" r="2.5" fill="rgb(123, 20, 240)"/><circle cx="1018.0" cy="640.0" r="2.5" fill="rgb(123, 20, 240)"/><circle cx="967.8" cy="518.6" r="2.5" fill="rgb(122, 20, 240)"/><circle cx="1029.2" cy="635.3" r="2.5" fill="rgb(122, 20, 240)"/><circle cx="872.0" cy="382.9" r="2.5" fill="rgb(122, 20, 240)"/><circle cx="1121.8" cy="594.3" r="2.5" fill="rgb(122, 20, 240)"/><circle cx="1081.5" cy="583.2" r="2.5" fill="rgb(122, 20, 240)"/><circle cx="1096.1" cy="602.5" r="2.5" fill="rgb(122, 20, 240)"/><circle cx="940.1" cy="679.2" r="2.5" fill="rgb(122, 20, 240)"/><circle cx="1006.1" cy="397.0" r="2.5" fill="rgb(122, 20, 240)"/><circle cx="937.6" cy="498.2" r="2.5" fill="rgb(122, 20, 240)"/><circle cx="1006.1" cy="581.6" r="2.5" fill="rgb(121, 20, 240)"/><circle cx="1047.2" cy="551.1" r="2.5" fill="rgb(121, 20, 240)"/><circle cx="934.5" cy="516.3" r="2.5" fill="rgb(121, 20, 240)"/><circle cx="1028.2" cy="444.4" r="2.5" fill="rgb(121, 20, 240)"/><circle cx="1000.7" cy="608.1" r="2.5" fill="rgb(121, 20, 240)"/><circle cx="944.3" cy="456.6" r="2.5" fill="rgb(121, 20, 240)"/><circle cx="1095.0" cy="588.2" r="2.5" fill="rgb(121, 20, 240)"/><circle cx="1044.6" cy="458.5" r="2.5" fill="rgb(121, 20, 240)"/><circle cx="1006.4" cy="632.3" r="2.5" fill="rgb(121, 20, 240)"/><circle cx="1009.5" cy="583.9" r="2.5" fill="rgb(121, 20, 240)"/><circle cx="1077.8" cy="586.7" r="2.5" fill="rgb(121, 20, 240)"/><circle cx="911.3" cy="365.6" r="2.5" fill="rgb(121, 20, 240)"/><circle cx="939.0" cy="430.3" r="2.5" fill="rgb(121, 20, 240)"/><circle cx="1063.5" cy="558.4" r="2.5" fill="rgb(120, 20, 240)"/><circle cx="1087.5" cy="587.1" r="2.5" fill="rgb(120, 20, 240)"/><circle cx="973.2" cy="390.2" r="2.5" fill="rgb(120, 20, 240)"/><circle cx="1045.8" cy="667.9" r="2.5" fill="rgb(120, 20, 240)"/><circle cx="1081.4" cy="543.3" r="2.5" fill="rgb(120, 20, 240)"/><circle cx="1048.2" cy="546.8" r="2.5" fill="rgb(120, 20, 240)"/><circle cx="1034.5" cy="439.3" r="2.5" fill="rgb(120, 20, 240)"/><circle cx="1005.4" cy="581.9" r="2.5" fill="rgb(120, 20, 240)"/><circle cx="967.2" cy="504.3" r="2.5" fill="rgb(120, 20, 240)"/><circle cx="1035.2" cy="640.9" r="2.5" fill="rgb(120, 20, 240)"/><circle cx="1134.5" cy="579.9" r="2.5" fill="rgb(119, 20, 240)"/><circle cx="961.2" cy="374.0" r="2.5" fill="rgb(119, 20, 240)"/><circle cx="1101.1" cy="574.2" r="2.5" fill="rgb(119, 20, 240)"/><circle cx="1054.5" cy="544.7" r="2.5" fill="rgb(119, 20, 240)"/><circle cx="1061.9" cy="540.6" r="2.5" fill="rgb(119, 20, 240)"/><circle cx="982.7" cy="503.7" r="2.5" fill="rgb(119, 20, 240)"/><circle cx="1048.5" cy="490.0" r="2.5" fill="rgb(119, 20, 240)"/><circle cx="1036.4" cy="528.7" r="2.5" fill="rgb(119, 20, 240)"/><circle cx="1023.5" cy="444.6" r="2.5" fill="rgb(119, 20, 240)"/><circle cx="1081.4" cy="555.4" r="2.5" fill="rgb(118, 20, 240)"/><circle cx="1033.7" cy="534.3" r="2.5" fill="rgb(118, 20, 240)"/><circle cx="976.9" cy="381.3" r="2.5" fill="rgb(118, 20, 240)"/><circle cx="1010.2" cy="598.8" r="2.5" fill="rgb(118, 20, 240)"/><circle cx="932.5" cy="441.0" r="2.5" fill="rgb(118, 20, 240)"/><circle cx="1011.6" cy="631.3" r="2.5" fill="rgb(118, 20, 240)"/><circle cx="1009.0" cy="500.9" r="2.5" fill="rgb(117, 20, 240)"/><circle cx="938.3" cy="449.4" r="2.5" fill="rgb(117, 20, 240)"/><circle cx="1076.2" cy="458.5" r="2.5" fill="rgb(117, 20, 240)"/><circle cx="1067.5" cy="601.8" r="2.5" fill="rgb(117, 20, 240)"/><circle cx="961.6" cy="501.0" r="2.5" fill="rgb(117, 20, 240)"/><circle cx="1093.3" cy="596.4" r="2.5" fill="rgb(117, 20, 240)"/><circle cx="973.8" cy="532.2" r="2.5" fill="rgb(117, 20, 240)"/><circle cx="1062.7" cy="553.2" r="2.5" fill="rgb(116, 20, 240)"/><circle cx="1058.0" cy="646.5" r="2.5" fill="rgb(116, 20, 240)"/><circle cx="899.6" cy="452.9" r="2.5" fill="rgb(116, 20, 240)"/><circle cx="1044.8" cy="447.2" r="2.5" fill="rgb(115, 20, 240)"/><circle cx="1028.2" cy="407.1" r="2.5" fill="rgb(115, 20, 240)"/><circle cx="1050.8" cy="563.5" r="2.5" fill="rgb(115, 20, 240)"/><circle cx="1029.6" cy="632.0" r="2.5" fill="rgb(115, 20, 240)"/><circle cx="914.7" cy="430.4" r="2.5" fill="rgb(115, 20, 240)"/><circle cx="1100.0" cy="600.3" r="2.5" fill="rgb(115, 20, 240)"/><circle cx="1019.3" cy="570.4" r="2.5" fill="rgb(115, 20, 240)"/><circle cx="1065.6" cy="525.6" r="2.5" fill="rgb(115, 20, 240)"/><circle cx="1034.7" cy="444.4" r="2.5" fill="rgb(114, 20, 240)"/><circle cx="1107.1" cy="591.9" r="2.5" fill="rgb(114, 20, 240)"/><circle cx="1043.0" cy="436.2" r="2.5" fill="rgb(114, 20, 240)"/><circle cx="1064.4" cy="543.3" r="2.5" fill="rgb(114, 20, 240)"/><circle cx="1010.0" cy="613.8" r="2.5" fill="rgb(114, 20, 240)"/><circle cx="975.6" cy="511.7" r="2.5" fill="rgb(114, 20, 240)"/><circle cx="1030.5" cy="594.7" r="2.5" fill="rgb(114, 20, 240)"/><circle cx="1040.3" cy="491.4" r="2.5" fill="rgb(114, 20, 240)"/><circle cx="1037.6" cy="632.3" r="2.5" fill="rgb(114, 20, 240)"/><circle cx="1022.4" cy="433.9" r="2.5" fill="rgb(114, 20, 240)"/><circle cx="1032.1" cy="410.8" r="2.5" fill="rgb(114, 20, 240)"/><circle cx="1039.5" cy="465.4" r="2.5" fill="rgb(114, 20, 240)"/><circle cx="964.6" cy="516.3" r="2.5" fill="rgb(114, 20, 240)"/><circle cx="1002.2" cy="381.4" r="2.5" fill="rgb(114, 20, 240)"/><circle cx="1020.5" cy="624.4" r="2.5" fill="rgb(114, 20, 240)"/><circle cx="1036.9" cy="474.1" r="2.5" fill="rgb(114, 20, 240)"/><circle cx="1104.1" cy="585.6" r="2.5" fill="rgb(114, 20, 240)"/><circle cx="1100.8" cy="572.5" r="2.5" fill="rgb(113, 20, 240)"/><circle cx="1007.6" cy="628.8" r="2.5" fill="rgb(113, 20, 240)"/><circle cx="934.0" cy="437.5" r="2.5" fill="rgb(113, 20, 240)"/><circle cx="1067.1" cy="581.1" r="2.5" fill="rgb(113, 20, 240)"/><circle cx="1097.4" cy="568.7" r="2.5" fill="rgb(113, 20, 240)"/><circle cx="1009.0" cy="588.0" r="2.5" fill="rgb(113, 20, 240)"/><circle cx="957.1" cy="519.0" r="2.5" fill="rgb(113, 20, 240)"/><circle cx="1109.6" cy="604.4" r="2.5" fill="rgb(113, 20, 240)"/><circle cx="940.5" cy="460.6" r="2.5" fill="rgb(113, 20, 240)"/><circle cx="1019.1" cy="546.1" r="2.5" fill="rgb(112, 20, 240)"/><circle cx="959.7" cy="526.2" r="2.5" fill="rgb(112, 20, 240)"/><circle cx="1020.1" cy="523.1" r="2.5" fill="rgb(112, 20, 240)"/><circle cx="1008.6" cy="629.0" r="2.5" fill="rgb(112, 20, 240)"/><circle cx="950.0" cy="479.7" r="2.5" fill="rgb(112, 20, 240)"/><circle cx="1016.4" cy="600.2" r="2.5" fill="rgb(112, 20, 240)"/><circle cx="897.4" cy="411.6" r="2.5" fill="rgb(112, 20, 240)"/><circle cx="973.5" cy="505.7" r="2.5" fill="rgb(112, 20, 240)"/><circle cx="1005.7" cy="601.9" r="2.5" fill="rgb(112, 20, 240)"/><circle cx="976.6" cy="497.6" r="2.5" fill="rgb(111, 20, 240)"/><circle cx="1013.9" cy="624.9" r="2.5" fill="rgb(111, 20, 240)"/><circle cx="1026.2" cy="495.2" r="2.5" fill="rgb(111, 20, 240)"/><circle cx="1041.9" cy="589.4" r="2.5" fill="rgb(111, 20, 240)"/><circle cx="1035.0" cy="587.9" r="2.5" fill="rgb(110, 20, 240)"/><circle cx="981.7" cy="546.5" r="2.5" fill="rgb(110, 20, 240)"/><circle cx="1035.1" cy="632.2" r="2.5" fill="rgb(110, 20, 240)"/><circle cx="965.7" cy="397.2" r="2.5" fill="rgb(110, 20, 240)"/><circle cx="1072.3" cy="533.7" r="2.5" fill="rgb(110, 20, 240)"/><circle cx="992.3" cy="389.3" r="2.5" fill="rgb(110, 20, 240)"/><circle cx="1119.7" cy="565.7" r="2.5" fill="rgb(110, 20, 240)"/><circle cx="1113.6" cy="533.4" r="2.5" fill="rgb(110, 20, 240)"/><circle cx="1033.3" cy="448.1" r="2.5" fill="rgb(110, 20, 240)"/><circle cx="1078.4" cy="615.6" r="2.5" fill="rgb(109, 20, 240)"/><circle cx="1004.9" cy="402.7" r="2.5" fill="rgb(109, 20, 240)"/><circle cx="1090.0" cy="578.8" r="2.5" fill="rgb(109, 20, 240)"/><circle cx="1030.9" cy="527.0" r="2.5" fill="rgb(109, 20, 240)"/><circle cx="1088.6" cy="612.6" r="2.5" fill="rgb(109, 20, 240)"/><circle cx="1062.5" cy="571.4" r="2.5" fill="rgb(109, 20, 240)"/><circle cx="1105.0" cy="557.0" r="2.5" fill="rgb(109, 20, 240)"/><circle cx="1020.2" cy="624.0" r="2.5" fill="rgb(109, 20, 240)"/><circle cx="1035.6" cy="488.7" r="2.5" fill="rgb(109, 20, 240)"/><circle cx="1100.3" cy="613.1" r="2.5" fill="rgb(108, 20, 240)"/><circle cx="1028.2" cy="622.2" r="2.5" fill="rgb(108, 20, 240)"/><circle cx="1072.1" cy="372.8" r="2.5" fill="rgb(108, 20, 240)"/><circle cx="1039.3" cy="511.0" r="2.5" fill="rgb(108, 20, 240)"/><circle cx="1016.6" cy="569.9" r="2.5" fill="rgb(108, 20, 240)"/><circle cx="1005.0" cy="442.7" r="2.5" fill="rgb(108, 20, 240)"/><circle cx="1008.3" cy="363.7" r="2.5" fill="rgb(108, 20, 240)"/><circle cx="945.6" cy="485.0" r="2.5" fill="rgb(108, 20, 240)"/><circle cx="939.0" cy="576.5" r="2.5" fill="rgb(108, 20, 240)"/><circle cx="1087.3" cy="580.1" r="2.5" fill="rgb(108, 20, 240)"/><circle cx="1074.2" cy="589.4" r="2.5" fill="rgb(108, 20, 240)"/><circle cx="1105.2" cy="595.7" r="2.5" fill="rgb(108, 20, 240)"/><circle cx="991.1" cy="390.4" r="2.5" fill="rgb(107, 21, 240)"/><circle cx="1021.9" cy="519.5" r="2.5" fill="rgb(107, 21, 240)"/><circle cx="1056.8" cy="555.2" r="2.5" fill="rgb(107, 21, 240)"/><circle cx="943.7" cy="450.2" r="2.5" fill="rgb(107, 21, 240)"/><circle cx="1015.0" cy="576.9" r="2.5" fill="rgb(107, 21, 240)"/><circle cx="1042.0" cy="530.3" r="2.5" fill="rgb(107, 21, 240)"/><circle cx="936.9" cy="384.3" r="2.5" fill="rgb(107, 21, 240)"/><circle cx="1058.3" cy="575.4" r="2.5" fill="rgb(107, 21, 240)"/><circle cx="991.3" cy="393.0" r="2.5" fill="rgb(107, 21, 240)"/><circle cx="1023.5" cy="625.2" r="2.5" fill="rgb(106, 21, 240)"/><circle cx="938.9" cy="553.6" r="2.5" fill="rgb(106, 21, 240)"/><circle cx="1115.8" cy="468.7" r="2.5" fill="rgb(106, 21, 240)"/><circle cx="1009.1" cy="400.3" r="2.5" fill="rgb(106, 21, 240)"/><circle cx="1027.1" cy="414.9" r="2.5" fill="rgb(105, 21, 240)"/><circle cx="1117.8" cy="616.6" r="2.5" fill="rgb(105, 21, 240)"/><circle cx="997.5" cy="392.6" r="2.5" fill="rgb(105, 21, 240)"/><circle cx="958.0" cy="451.2" r="2.5" fill="rgb(105, 21, 240)"/><circle cx="1098.8" cy="584.3" r="2.5" fill="rgb(105, 21, 240)"/><circle cx="1102.5" cy="580.3" r="2.5" fill="rgb(105, 21, 240)"/><circle cx="1017.7" cy="621.1" r="2.5" fill="rgb(105, 21, 240)"/><circle cx="1025.8" cy="600.7" r="2.5" fill="rgb(105, 21, 240)"/><circle cx="912.5" cy="388.7" r="2.5" fill="rgb(105, 21, 240)"/><circle cx="1046.7" cy="530.3" r="2.5" fill="rgb(105, 21, 240)"/><circle cx="950.7" cy="473.0" r="2.5" fill="rgb(104, 21, 240)"/><circle cx="1114.6" cy="610.6" r="2.5" fill="rgb(104, 21, 240)"/><circle cx="952.9" cy="535.3" r="2.5" fill="rgb(104, 21, 240)"/><circle cx="958.2" cy="398.6" r="2.5" fill="rgb(104, 21, 240)"/><circle cx="940.2" cy="468.5" r="2.5" fill="rgb(104, 21, 240)"/><circle cx="1086.2" cy="604.1" r="2.5" fill="rgb(104, 21, 240)"/><circle cx="1082.6" cy="610.9" r="2.5" fill="rgb(104, 21, 240)"/><circle cx="1040.7" cy="467.7" r="2.5" fill="rgb(104, 21, 240)"/><circle cx="956.2" cy="482.2" r="2.5" fill="rgb(104, 21, 240)"/><circle cx="1038.8" cy="511.6" r="2.5" fill="rgb(104, 21, 240)"/><circle cx="923.5" cy="423.6" r="2.5" fill="rgb(104, 21, 240)"/><circle cx="1020.3" cy="577.8" r="2.5" fill="rgb(103, 21, 240)"/><circle cx="1034.1" cy="423.1" r="2.5" fill="rgb(103, 21, 240)"/><circle cx="1045.8" cy="439.3" r="2.5" fill="rgb(103, 21, 240)"/><circle cx="1053.7" cy="554.3" r="2.5" fill="rgb(103, 21, 240)"/><circle cx="1100.6" cy="548.6" r="2.5" fill="rgb(103, 21, 240)"/><circle cx="1016.2" cy="606.7" r="2.5" fill="rgb(103, 21, 240)"/><circle cx="1032.4" cy="592.4" r="2.5" fill="rgb(103, 21, 240)"/><circle cx="1016.4" cy="537.6" r="2.5" fill="rgb(103, 21, 240)"/><circle cx="942.3" cy="455.4" r="2.5" fill="rgb(103, 21, 240)"/><circle cx="1130.4" cy="589.9" r="2.5" fill="rgb(103, 21, 240)"/><circle cx="1030.1" cy="527.6" r="2.5" fill="rgb(103, 21, 240)"/><circle cx="1029.8" cy="623.8" r="2.5" fill="rgb(103, 21, 240)"/><circle cx="1027.4" cy="434.6" r="2.5" fill="rgb(102, 21, 240)"/><circle cx="1027.1" cy="443.0" r="2.5" fill="rgb(102, 21, 240)"/><circle cx="1040.1" cy="672.4" r="2.5" fill="rgb(102, 21, 240)"/><circle cx="1032.0" cy="568.5" r="2.5" fill="rgb(102, 21, 240)"/><circle cx="1023.0" cy="500.7" r="2.5" fill="rgb(102, 21, 240)"/><circle cx="1044.1" cy="548.1" r="2.5" fill="rgb(102, 21, 240)"/><circle cx="1026.0" cy="450.3" r="2.5" fill="rgb(102, 21, 240)"/><circle cx="1018.5" cy="607.6" r="2.5" fill="rgb(102, 21, 240)"/><circle cx="1028.1" cy="404.8" r="2.5" fill="rgb(102, 21, 240)"/><circle cx="942.3" cy="541.7" r="2.5" fill="rgb(102, 21, 240)"/><circle cx="1068.0" cy="570.1" r="2.5" fill="rgb(101, 21, 240)"/><circle cx="1074.2" cy="537.7" r="2.5" fill="rgb(101, 21, 240)"/><circle cx="937.1" cy="445.5" r="2.5" fill="rgb(101, 21, 240)"/><circle cx="1012.7" cy="586.0" r="2.5" fill="rgb(101, 21, 240)"/><circle cx="1019.7" cy="404.5" r="2.5" fill="rgb(101, 21, 240)"/><circle cx="1019.9" cy="588.6" r="2.5" fill="rgb(101, 21, 240)"/><circle cx="1085.4" cy="566.0" r="2.5" fill="rgb(101, 21, 240)"/><circle cx="940.6" cy="416.2" r="2.5" fill="rgb(101, 21, 240)"/><circle cx="1090.0" cy="572.5" r="2.5" fill="rgb(101, 21, 240)"/><circle cx="1079.2" cy="568.2" r="2.5" fill="rgb(101, 21, 240)"/><circle cx="988.8" cy="379.9" r="2.5" fill="rgb(101, 21, 240)"/><circle cx="996.9" cy="386.7" r="2.5" fill="rgb(101, 21, 240)"/><circle cx="1000.9" cy="394.1" r="2.5" fill="rgb(100, 21, 240)"/><circle cx="1112.6" cy="609.9" r="2.5" fill="rgb(100, 21, 240)"/><circle cx="1028.3" cy="617.1" r="2.5" fill="rgb(100, 21, 240)"/><circle cx="960.2" cy="499.1" r="2.5" fill="rgb(100, 21, 240)"/><circle cx="938.7" cy="442.8" r="2.5" fill="rgb(100, 21, 240)"/><circle cx="1114.6" cy="603.7" r="2.5" fill="rgb(100, 21, 240)"/><circle cx="1059.3" cy="540.7" r="2.5" fill="rgb(100, 21, 240)"/><circle cx="967.4" cy="504.4" r="2.5" fill="rgb(100, 21, 240)"/><circle cx="1083.5" cy="591.4" r="2.5" fill="rgb(99, 21, 240)"/><circle cx="929.5" cy="501.1" r="2.5" fill="rgb(99, 21, 240)"/><circle cx="1010.8" cy="642.8" r="2.5" fill="rgb(99, 21, 240)"/><circle cx="999.9" cy="445.2" r="2.5" fill="rgb(99, 21, 240)"/><circle cx="1066.3" cy="550.5" r="2.5" fill="rgb(99, 21, 240)"/><circle cx="1028.0" cy="431.4" r="2.5" fill="rgb(99, 21, 240)"/><circle cx="1053.6" cy="573.4" r="2.5" fill="rgb(99, 21, 240)"/><circle cx="1025.7" cy="644.5" r="2.5" fill="rgb(99, 21, 240)"/><circle cx="937.7" cy="439.1" r="2.5" fill="rgb(98, 21, 240)"/><circle cx="1035.4" cy="631.2" r="2.5" fill="rgb(98, 21, 240)"/><circle cx="1044.9" cy="451.2" r="2.5" fill="rgb(98, 21, 240)"/><circle cx="1008.5" cy="394.3" r="2.5" fill="rgb(97, 21, 240)"/><circle cx="1044.2" cy="647.7" r="2.5" fill="rgb(97, 21, 240)"/><circle cx="1099.7" cy="598.2" r="2.5" fill="rgb(97, 21, 240)"/><circle cx="1090.5" cy="582.1" r="2.5" fill="rgb(97, 21, 240)"/><circle cx="1076.1" cy="586.3" r="2.5" fill="rgb(97, 21, 240)"/><circle cx="1058.8" cy="551.9" r="2.5" fill="rgb(97, 21, 240)"/><circle cx="1037.5" cy="454.3" r="2.5" fill="rgb(97, 21, 240)"/><circle cx="1060.5" cy="573.4" r="2.5" fill="rgb(97, 21, 240)"/><circle cx="1102.7" cy="572.4" r="2.5" fill="rgb(97, 21, 240)"/><circle cx="1024.7" cy="533.8" r="2.5" fill="rgb(97, 21, 240)"/><circle cx="1040.1" cy="423.2" r="2.5" fill="rgb(97, 21, 240)"/><circle cx="1034.6" cy="531.0" r="2.5" fill="rgb(97, 21, 240)"/><circle cx="1017.5" cy="505.0" r="2.5" fill="rgb(97, 21, 240)"/><circle cx="1012.6" cy="594.3" r="2.5" fill="rgb(96, 21, 240)"/><circle cx="1041.0" cy="544.3" r="2.5" fill="rgb(96, 21, 240)"/><circle cx="983.6" cy="353.9" r="2.5" fill="rgb(96, 21, 240)"/><circle cx="1005.3" cy="605.6" r="2.5" fill="rgb(96, 21, 240)"/><circle cx="1057.3" cy="558.2" r="2.5" fill="rgb(96, 21, 240)"/><circle cx="1082.4" cy="584.1" r="2.5" fill="rgb(96, 21, 240)"/><circle cx="1012.0" cy="629.2" r="2.5" fill="rgb(96, 21, 240)"/><circle cx="1031.4" cy="542.8" r="2.5" fill="rgb(96, 21, 240)"/><circle cx="1038.9" cy="500.7" r="2.5" fill="rgb(96, 21, 240)"/><circle cx="1007.5" cy="395.0" r="2.5" fill="rgb(96, 21, 240)"/><circle cx="1036.2" cy="493.5" r="2.5" fill="rgb(95, 22, 240)"/><circle cx="1018.6" cy="423.0" r="2.5" fill="rgb(95, 22, 240)"/><circle cx="1036.6" cy="418.9" r="2.5" fill="rgb(95, 22, 240)"/><circle cx="1056.2" cy="565.7" r="2.5" fill="rgb(95, 22, 240)"/><circle cx="954.9" cy="582.6" r="2.5" fill="rgb(95, 22, 240)"/><circle cx="1047.3" cy="397.9" r="2.5" fill="rgb(95, 22, 240)"/><circle cx="1039.1" cy="534.3" r="2.5" fill="rgb(95, 22, 240)"/><circle cx="1010.2" cy="599.6" r="2.5" fill="rgb(95, 22, 240)"/><circle cx="969.6" cy="403.6" r="2.5" fill="rgb(95, 22, 240)"/><circle cx="957.2" cy="532.8" r="2.5" fill="rgb(94, 22, 240)"/><circle cx="954.9" cy="400.9" r="2.5" fill="rgb(94, 22, 240)"/><circle cx="1023.3" cy="404.2" r="2.5" fill="rgb(94, 22, 240)"/><circle cx="1018.0" cy="646.5" r="2.5" fill="rgb(94, 22, 240)"/><circle cx="1033.8" cy="572.2" r="2.5" fill="rgb(94, 22, 240)"/><circle cx="1011.8" cy="506.2" r="2.5" fill="rgb(94, 22, 240)"/><circle cx="936.4" cy="446.8" r="2.5" fill="rgb(94, 22, 240)"/><circle cx="1051.6" cy="523.9" r="2.5" fill="rgb(94, 22, 240)"/><circle cx="1033.4" cy="507.2" r="2.5" fill="rgb(93, 22, 240)"/><circle cx="1043.4" cy="546.5" r="2.5" fill="rgb(93, 22, 240)"/><circle cx="1023.5" cy="513.5" r="2.5" fill="rgb(93, 22, 240)"/><circle cx="1036.1" cy="591.1" r="2.5" fill="rgb(93, 22, 240)"/><circle cx="1114.1" cy="591.0" r="2.5" fill="rgb(93, 22, 240)"/><circle cx="953.2" cy="459.0" r="2.5" fill="rgb(92, 22, 240)"/><circle cx="937.1" cy="448.2" r="2.5" fill="rgb(92, 22, 240)"/><circle cx="1008.5" cy="579.7" r="2.5" fill="rgb(92, 22, 240)"/><circle cx="999.1" cy="422.9" r="2.5" fill="rgb(92, 22, 240)"/><circle cx="980.6" cy="391.3" r="2.5" fill="rgb(92, 22, 240)"/><circle cx="978.6" cy="393.2" r="2.5" fill="rgb(92, 22, 240)"/><circle cx="1040.9" cy="503.7" r="2.5" fill="rgb(92, 22, 240)"/><circle cx="1016.7" cy="570.5" r="2.5" fill="rgb(92, 22, 240)"/><circle cx="1092.9" cy="576.9" r="2.5" fill="rgb(92, 22, 240)"/><circle cx="966.7" cy="511.9" r="2.5" fill="rgb(91, 22, 240)"/><circle cx="978.8" cy="553.5" r="2.5" fill="rgb(91, 22, 240)"/><circle cx="1023.8" cy="432.8" r="2.5" fill="rgb(91, 22, 240)"/><circle cx="1029.2" cy="527.2" r="2.5" fill="rgb(91, 22, 240)"/><circle cx="1028.3" cy="522.8" r="2.5" fill="rgb(91, 22, 240)"/><circle cx="1006.1" cy="630.9" r="2.5" fill="rgb(91, 22, 240)"/><circle cx="949.9" cy="465.8" r="2.5" fill="rgb(91, 22, 240)"/><circle cx="1017.0" cy="500.8" r="2.5" fill="rgb(91, 22, 240)"/><circle cx="1022.3" cy="429.8" r="2.5" fill="rgb(91, 22, 240)"/><circle cx="954.3" cy="515.8" r="2.5" fill="rgb(91, 22, 240)"/><circle cx="973.2" cy="393.2" r="2.5" fill="rgb(91, 22, 240)"/><circle cx="1057.9" cy="586.0" r="2.5" fill="rgb(91, 22, 240)"/><circle cx="952.3" cy="496.2" r="2.5" fill="rgb(90, 22, 240)"/><circle cx="1005.1" cy="581.9" r="2.5" fill="rgb(90, 22, 240)"/><circle cx="1038.0" cy="518.0" r="2.5" fill="rgb(90, 22, 240)"/><circle cx="1041.1" cy="444.1" r="2.5" fill="rgb(90, 22, 240)"/><circle cx="1058.0" cy="551.7" r="2.5" fill="rgb(90, 22, 240)"/><circle cx="959.7" cy="486.8" r="2.5" fill="rgb(90, 22, 240)"/><circle cx="1036.0" cy="486.1" r="2.5" fill="rgb(90, 22, 240)"/><circle cx="942.0" cy="551.7" r="2.5" fill="rgb(90, 22, 240)"/><circle cx="1000.4" cy="602.8" r="2.5" fill="rgb(89, 22, 240)"/><circle cx="1097.3" cy="601.8" r="2.5" fill="rgb(89, 22, 240)"/><circle cx="1088.4" cy="576.7" r="2.5" fill="rgb(89, 22, 240)"/><circle cx="1020.9" cy="524.8" r="2.5" fill="rgb(89, 22, 240)"/><circle cx="1058.6" cy="539.1" r="2.5" fill="rgb(88, 22, 240)"/><circle cx="1039.5" cy="503.7" r="2.5" fill="rgb(88, 22, 240)"/><circle cx="968.3" cy="507.8" r="2.5" fill="rgb(88, 22, 240)"/><circle cx="970.4" cy="508.0" r="2.5" fill="rgb(88, 22, 240)"/><circle cx="868.1" cy="448.5" r="2.5" fill="rgb(87, 22, 240)"/><circle cx="1037.1" cy="473.2" r="2.5" fill="rgb(87, 22, 240)"/><circle cx="1051.7" cy="534.5" r="2.5" fill="rgb(87, 22, 240)"/><circle cx="1110.3" cy="613.1" r="2.5" fill="rgb(87, 22, 240)"/><circle cx="1010.8" cy="441.2" r="2.5" fill="rgb(86, 22, 240)"/><circle cx="1036.7" cy="526.8" r="2.5" fill="rgb(86, 22, 240)"/><circle cx="1037.6" cy="588.9" r="2.5" fill="rgb(86, 22, 240)"/><circle cx="1034.7" cy="447.0" r="2.5" fill="rgb(86, 22, 240)"/><circle cx="944.3" cy="426.3" r="2.5" fill="rgb(86, 22, 240)"/><circle cx="1082.1" cy="591.4" r="2.5" fill="rgb(86, 22, 240)"/><circle cx="1010.3" cy="604.9" r="2.5" fill="rgb(86, 22, 240)"/><circle cx="1114.3" cy="620.7" r="2.5" fill="rgb(85, 22, 240)"/><circle cx="1036.9" cy="572.0" r="2.5" fill="rgb(85, 22, 240)"/><circle cx="1003.8" cy="595.4" r="2.5" fill="rgb(85, 22, 240)"/><circle cx="1017.0" cy="436.6" r="2.5" fill="rgb(85, 22, 240)"/><circle cx="1094.4" cy="576.9" r="2.5" fill="rgb(85, 22, 240)"/><circle cx="1072.9" cy="573.1" r="2.5" fill="rgb(84, 22, 240)"/><circle cx="945.3" cy="537.6" r="2.5" fill="rgb(84, 22, 240)"/><circle cx="952.7" cy="473.8" r="2.5" fill="rgb(84, 22, 240)"/><circle cx="1029.0" cy="612.8" r="2.5" fill="rgb(84, 22, 240)"/><circle cx="944.2" cy="416.2" r="2.5" fill="rgb(84, 22, 240)"/><circle cx="951.5" cy="469.9" r="2.5" fill="rgb(84, 22, 240)"/><circle cx="964.0" cy="533.1" r="2.5" fill="rgb(84, 22, 240)"/><circle cx="1015.9" cy="572.8" r="2.5" fill="rgb(84, 22, 240)"/><circle cx="1057.6" cy="554.0" r="2.5" fill="rgb(84, 22, 240)"/><circle cx="948.5" cy="407.5" r="2.5" fill="rgb(83, 23, 240)"/><circle cx="953.5" cy="570.1" r="2.5" fill="rgb(83, 23, 240)"/><circle cx="956.9" cy="519.8" r="2.5" fill="rgb(83, 23, 240)"/><circle cx="1085.5" cy="573.8" r="2.5" fill="rgb(83, 23, 240)"/><circle cx="931.1" cy="417.8" r="2.5" fill="rgb(83, 23, 240)"/><circle cx="985.6" cy="395.5" r="2.5" fill="rgb(82, 23, 240)"/><circle cx="1016.7" cy="511.1" r="2.5" fill="rgb(82, 23, 240)"/><circle cx="1030.7" cy="416.4" r="2.5" fill="rgb(82, 23, 240)"/><circle cx="1010.4" cy="593.0" r="2.5" fill="rgb(82, 23, 240)"/><circle cx="1061.1" cy="545.0" r="2.5" fill="rgb(82, 23, 240)"/><circle cx="1077.6" cy="551.5" r="2.5" fill="rgb(82, 23, 240)"/><circle cx="1098.1" cy="592.5" r="2.5" fill="rgb(82, 23, 240)"/><circle cx="995.5" cy="393.9" r="2.5" fill="rgb(82, 23, 240)"/><circle cx="1094.5" cy="574.5" r="2.5" fill="rgb(82, 23, 240)"/><circle cx="936.3" cy="434.7" r="2.5" fill="rgb(81, 23, 240)"/><circle cx="1078.9" cy="576.5" r="2.5" fill="rgb(81, 23, 240)"/><circle cx="1020.7" cy="450.0" r="2.5" fill="rgb(81, 23, 240)"/><circle cx="1051.8" cy="527.5" r="2.5" fill="rgb(81, 23, 240)"/><circle cx="1100.6" cy="592.0" r="2.5" fill="rgb(81, 23, 240)"/><circle cx="1003.1" cy="442.6" r="2.5" fill="rgb(81, 23, 240)"/><circle cx="1094.3" cy="553.5" r="2.5" fill="rgb(81, 23, 240)"/><circle cx="1018.2" cy="420.5" r="2.5" fill="rgb(80, 23, 240)"/><circle cx="1028.9" cy="594.3" r="2.5" fill="rgb(80, 23, 240)"/><circle cx="958.8" cy="485.7" r="2.5" fill="rgb(80, 23, 240)"/><circle cx="957.5" cy="478.9" r="2.5" fill="rgb(80, 23, 240)"/><circle cx="996.3" cy="435.5" r="2.5" fill="rgb(80, 23, 240)"/><circle cx="923.3" cy="680.5" r="2.5" fill="rgb(80, 23, 240)"/><circle cx="1027.2" cy="529.5" r="2.5" fill="rgb(80, 23, 240)"/><circle cx="945.8" cy="407.9" r="2.5" fill="rgb(80, 23, 240)"/><circle cx="1027.3" cy="418.3" r="2.5" fill="rgb(80, 23, 240)"/><circle cx="1066.5" cy="545.5" r="2.5" fill="rgb(80, 23, 240)"/><circle cx="1029.4" cy="423.8" r="2.5" fill="rgb(80, 23, 240)"/><circle cx="934.3" cy="509.6" r="2.5" fill="rgb(80, 23, 240)"/><circle cx="951.0" cy="463.5" r="2.5" fill="rgb(79, 23, 240)"/><circle cx="1000.3" cy="409.5" r="2.5" fill="rgb(79, 23, 240)"/><circle cx="1031.3" cy="629.3" r="2.5" fill="rgb(79, 23, 240)"/><circle cx="1038.9" cy="454.0" r="2.5" fill="rgb(79, 23, 240)"/><circle cx="1030.8" cy="455.0" r="2.5" fill="rgb(79, 23, 240)"/><circle cx="1040.2" cy="527.3" r="2.5" fill="rgb(78, 23, 240)"/><circle cx="1104.3" cy="595.2" r="2.5" fill="rgb(78, 23, 240)"/><circle cx="961.0" cy="513.2" r="2.5" fill="rgb(78, 23, 240)"/><circle cx="1013.1" cy="441.8" r="2.5" fill="rgb(77, 23, 240)"/><circle cx="999.3" cy="437.2" r="2.5" fill="rgb(77, 23, 240)"/><circle cx="973.0" cy="457.3" r="2.5" fill="rgb(77, 23, 240)"/><circle cx="1060.3" cy="571.8" r="2.5" fill="rgb(77, 23, 240)"/><circle cx="1025.9" cy="542.0" r="2.5" fill="rgb(77, 23, 240)"/><circle cx="1033.3" cy="481.6" r="2.5" fill="rgb(77, 23, 240)"/><circle cx="1025.6" cy="569.7" r="2.5" fill="rgb(77, 23, 240)"/><circle cx="952.9" cy="481.7" r="2.5" fill="rgb(76, 23, 240)"/><circle cx="1072.4" cy="560.9" r="2.5" fill="rgb(76, 23, 240)"/><circle cx="1044.5" cy="534.6" r="2.5" fill="rgb(76, 23, 240)"/><circle cx="1071.9" cy="580.1" r="2.5" fill="rgb(76, 23, 240)"/><circle cx="986.1" cy="388.3" r="2.5" fill="rgb(76, 23, 240)"/><circle cx="1048.7" cy="523.9" r="2.5" fill="rgb(75, 23, 240)"/><circle cx="1085.9" cy="579.5" r="2.5" fill="rgb(75, 23, 240)"/><circle cx="1046.5" cy="534.8" r="2.5" fill="rgb(75, 23, 240)"/><circle cx="1029.5" cy="439.7" r="2.5" fill="rgb(75, 23, 240)"/><circle cx="1107.0" cy="585.1" r="2.5" fill="rgb(75, 23, 240)"/><circle cx="1027.1" cy="412.4" r="2.5" fill="rgb(75, 23, 240)"/><circle cx="1033.6" cy="421.5" r="2.5" fill="rgb(75, 23, 240)"/><circle cx="928.5" cy="509.8" r="2.5" fill="rgb(75, 23, 240)"/><circle cx="1027.9" cy="581.7" r="2.5" fill="rgb(75, 23, 240)"/><circle cx="973.4" cy="573.1" r="2.5" fill="rgb(75, 23, 240)"/><circle cx="954.8" cy="457.2" r="2.5" fill="rgb(75, 23, 240)"/><circle cx="943.8" cy="427.0" r="2.5" fill="rgb(74, 23, 240)"/><circle cx="1027.0" cy="415.4" r="2.5" fill="rgb(74, 23, 240)"/><circle cx="1036.7" cy="578.2" r="2.5" fill="rgb(74, 23, 240)"/><circle cx="1076.5" cy="569.9" r="2.5" fill="rgb(74, 23, 240)"/><circle cx="988.8" cy="387.4" r="2.5" fill="rgb(74, 23, 240)"/><circle cx="960.8" cy="490.5" r="2.5" fill="rgb(74, 23, 240)"/><circle cx="951.6" cy="473.3" r="2.5" fill="rgb(74, 23, 240)"/><circle cx="953.0" cy="464.1" r="2.5" fill="rgb(74, 23, 240)"/><circle cx="1033.6" cy="528.9" r="2.5" fill="rgb(73, 23, 240)"/><circle cx="968.2" cy="449.3" r="2.5" fill="rgb(73, 23, 240)"/><circle cx="949.0" cy="477.9" r="2.5" fill="rgb(73, 23, 240)"/><circle cx="955.1" cy="453.9" r="2.5" fill="rgb(73, 23, 240)"/><circle cx="957.9" cy="446.9" r="2.5" fill="rgb(73, 23, 240)"/><circle cx="1032.1" cy="590.8" r="2.5" fill="rgb(73, 23, 240)"/><circle cx="948.3" cy="424.8" r="2.5" fill="rgb(73, 23, 240)"/><circle cx="1038.3" cy="456.7" r="2.5" fill="rgb(73, 23, 240)"/><circle cx="1077.7" cy="562.4" r="2.5" fill="rgb(73, 23, 240)"/><circle cx="1112.2" cy="597.5" r="2.5" fill="rgb(73, 23, 240)"/><circle cx="1070.5" cy="550.3" r="2.5" fill="rgb(73, 23, 240)"/><circle cx="1009.7" cy="586.2" r="2.5" fill="rgb(73, 23, 240)"/><circle cx="1113.0" cy="612.0" r="2.5" fill="rgb(72, 23, 240)"/><circle cx="1018.4" cy="438.2" r="2.5" fill="rgb(72, 23, 240)"/><circle cx="1024.5" cy="416.1" r="2.5" fill="rgb(72, 23, 240)"/><circle cx="940.4" cy="413.5" r="2.5" fill="rgb(72, 23, 240)"/><circle cx="1003.2" cy="403.3" r="2.5" fill="rgb(72, 23, 240)"/><circle cx="1028.2" cy="501.3" r="2.5" fill="rgb(72, 23, 240)"/><circle cx="1019.3" cy="572.6" r="2.5" fill="rgb(72, 23, 240)"/><circle cx="1049.5" cy="501.0" r="2.5" fill="rgb(72, 23, 240)"/><circle cx="1038.0" cy="517.5" r="2.5" fill="rgb(72, 23, 240)"/><circle cx="1011.2" cy="408.8" r="2.5" fill="rgb(71, 24, 240)"/><circle cx="1079.8" cy="536.3" r="2.5" fill="rgb(71, 24, 240)"/><circle cx="1082.6" cy="555.4" r="2.5" fill="rgb(71, 24, 240)"/><circle cx="1021.6" cy="436.3" r="2.5" fill="rgb(71, 24, 240)"/><circle cx="1069.7" cy="553.6" r="2.5" fill="rgb(71, 24, 240)"/><circle cx="994.2" cy="427.2" r="2.5" fill="rgb(71, 24, 240)"/><circle cx="972.6" cy="447.4" r="2.5" fill="rgb(71, 24, 240)"/><circle cx="1030.9" cy="518.0" r="2.5" fill="rgb(71, 24, 240)"/><circle cx="943.8" cy="429.3" r="2.5" fill="rgb(70, 24, 240)"/><circle cx="947.0" cy="414.2" r="2.5" fill="rgb(70, 24, 240)"/><circle cx="1017.9" cy="597.9" r="2.5" fill="rgb(69, 24, 240)"/><circle cx="1020.5" cy="343.1" r="2.5" fill="rgb(69, 24, 240)"/><circle cx="1011.0" cy="410.4" r="2.5" fill="rgb(69, 24, 240)"/><circle cx="961.6" cy="452.9" r="2.5" fill="rgb(69, 24, 240)"/><circle cx="1025.7" cy="418.2" r="2.5" fill="rgb(69, 24, 240)"/><circle cx="939.6" cy="452.0" r="2.5" fill="rgb(69, 24, 240)"/><circle cx="1027.9" cy="419.2" r="2.5" fill="rgb(69, 24, 240)"/><circle cx="1011.7" cy="592.9" r="2.5" fill="rgb(68, 24, 240)"/><circle cx="1037.5" cy="473.1" r="2.5" fill="rgb(68, 24, 240)"/><circle cx="954.1" cy="476.6" r="2.5" fill="rgb(68, 24, 240)"/><circle cx="1015.4" cy="413.6" r="2.5" fill="rgb(67, 24, 240)"/><circle cx="1027.0" cy="434.5" r="2.5" fill="rgb(67, 24, 240)"/><circle cx="1097.4" cy="615.2" r="2.5" fill="rgb(67, 24, 240)"/><circle cx="944.8" cy="457.0" r="2.5" fill="rgb(67, 24, 240)"/><circle cx="1079.7" cy="564.7" r="2.5" fill="rgb(67, 24, 240)"/><circle cx="1037.3" cy="434.3" r="2.5" fill="rgb(67, 24, 240)"/><circle cx="1029.5" cy="419.3" r="2.5" fill="rgb(66, 24, 240)"/><circle cx="947.0" cy="472.4" r="2.5" fill="rgb(66, 24, 240)"/><circle cx="1029.7" cy="574.5" r="2.5" fill="rgb(65, 24, 240)"/><circle cx="946.3" cy="414.2" r="2.5" fill="rgb(65, 24, 240)"/><circle cx="954.3" cy="486.4" r="2.5" fill="rgb(65, 24, 240)"/><circle cx="973.2" cy="458.7" r="2.5" fill="rgb(65, 24, 240)"/><circle cx="1037.2" cy="511.0" r="2.5" fill="rgb(65, 24, 240)"/><circle cx="1102.7" cy="611.3" r="2.5" fill="rgb(65, 24, 240)"/><circle cx="1070.4" cy="549.2" r="2.5" fill="rgb(65, 24, 240)"/><circle cx="1019.0" cy="432.4" r="2.5" fill="rgb(65, 24, 240)"/><circle cx="984.0" cy="461.8" r="2.5" fill="rgb(65, 24, 240)"/><circle cx="989.3" cy="434.8" r="2.5" fill="rgb(65, 24, 240)"/><circle cx="1049.6" cy="663.4" r="2.5" fill="rgb(64, 24, 240)"/><circle cx="1003.4" cy="612.4" r="2.5" fill="rgb(64, 24, 240)"/><circle cx="1033.0" cy="513.6" r="2.5" fill="rgb(64, 24, 240)"/><circle cx="956.6" cy="455.5" r="2.5" fill="rgb(64, 24, 240)"/><circle cx="1081.4" cy="588.4" r="2.5" fill="rgb(64, 24, 240)"/><circle cx="1004.4" cy="439.2" r="2.5" fill="rgb(64, 24, 240)"/><circle cx="1017.1" cy="434.8" r="2.5" fill="rgb(63, 24, 240)"/><circle cx="956.9" cy="485.1" r="2.5" fill="rgb(63, 24, 240)"/><circle cx="997.8" cy="428.0" r="2.5" fill="rgb(63, 24, 240)"/><circle cx="981.9" cy="392.7" r="2.5" fill="rgb(63, 24, 240)"/><circle cx="1035.8" cy="582.8" r="2.5" fill="rgb(63, 24, 240)"/><circle cx="1022.9" cy="592.7" r="2.5" fill="rgb(63, 24, 240)"/><circle cx="1023.0" cy="612.3" r="2.5" fill="rgb(62, 24, 240)"/><circle cx="1027.8" cy="410.2" r="2.5" fill="rgb(62, 24, 240)"/><circle cx="1099.1" cy="599.9" r="2.5" fill="rgb(62, 24, 240)"/><circle cx="1074.9" cy="567.1" r="2.5" fill="rgb(62, 24, 240)"/><circle cx="991.9" cy="438.1" r="2.5" fill="rgb(62, 24, 240)"/><circle cx="972.2" cy="396.4" r="2.5" fill="rgb(62, 24, 240)"/><circle cx="1034.7" cy="508.4" r="2.5" fill="rgb(62, 24, 240)"/><circle cx="1045.8" cy="526.0" r="2.5" fill="rgb(62, 24, 240)"/><circle cx="1074.6" cy="579.5" r="2.5" fill="rgb(61, 24, 240)"/><circle cx="1074.1" cy="552.9" r="2.5" fill="rgb(61, 24, 240)"/><circle cx="1029.2" cy="610.9" r="2.5" fill="rgb(61, 24, 240)"/><circle cx="1017.0" cy="447.6" r="2.5" fill="rgb(61, 24, 240)"/><circle cx="988.4" cy="389.7" r="2.5" fill="rgb(61, 24, 240)"/><circle cx="1063.1" cy="562.0" r="2.5" fill="rgb(61, 24, 240)"/><circle cx="1099.2" cy="598.7" r="2.5" fill="rgb(60, 24, 240)"/><circle cx="1020.1" cy="507.9" r="2.5" fill="rgb(60, 24, 240)"/><circle cx="1023.4" cy="520.3" r="2.5" fill="rgb(60, 24, 240)"/><circle cx="1029.1" cy="576.3" r="2.5" fill="rgb(60, 24, 240)"/><circle cx="1014.9" cy="582.3" r="2.5" fill="rgb(60, 24, 240)"/><circle cx="1083.8" cy="574.0" r="2.5" fill="rgb(60, 24, 240)"/><circle cx="1008.6" cy="402.7" r="2.5" fill="rgb(60, 24, 240)"/><circle cx="1036.5" cy="580.4" r="2.5" fill="rgb(60, 25, 240)"/><circle cx="949.9" cy="404.2" r="2.5" fill="rgb(60, 25, 240)"/><circle cx="1062.2" cy="552.2" r="2.5" fill="rgb(60, 25, 240)"/><circle cx="1027.2" cy="569.4" r="2.5" fill="rgb(60, 25, 240)"/><circle cx="968.4" cy="451.4" r="2.5" fill="rgb(60, 25, 240)"/><circle cx="1082.8" cy="546.9" r="2.5" fill="rgb(60, 25, 240)"/><circle cx="1016.6" cy="409.6" r="2.5" fill="rgb(60, 25, 240)"/><circle cx="973.0" cy="437.4" r="2.5" fill="rgb(60, 26, 240)"/><circle cx="967.0" cy="439.8" r="2.5" fill="rgb(60, 26, 240)"/><circle cx="1029.7" cy="456.1" r="2.5" fill="rgb(60, 26, 240)"/><circle cx="1021.6" cy="412.6" r="2.5" fill="rgb(60, 27, 240)"/><circle cx="1016.1" cy="405.7" r="2.5" fill="rgb(60, 27, 240)"/><circle cx="1105.0" cy="608.9" r="2.5" fill="rgb(60, 27, 240)"/><circle cx="986.9" cy="398.8" r="2.5" fill="rgb(60, 27, 240)"/><circle cx="975.0" cy="442.5" r="2.5" fill="rgb(60, 27, 240)"/><circle cx="1027.5" cy="602.5" r="2.5" fill="rgb(60, 27, 240)"/><circle cx="1013.3" cy="596.8" r="2.5" fill="rgb(60, 27, 240)"/><circle cx="1024.2" cy="506.9" r="2.5" fill="rgb(60, 28, 240)"/><circle cx="1077.5" cy="561.7" r="2.5" fill="rgb(60, 28, 240)"/><circle cx="1032.3" cy="571.7" r="2.5" fill="rgb(60, 28, 240)"/><circle cx="1011.1" cy="593.0" r="2.5" fill="rgb(60, 28, 240)"/><circle cx="954.8" cy="409.5" r="2.5" fill="rgb(60, 28, 240)"/><circle cx="998.3" cy="417.1" r="2.5" fill="rgb(60, 28, 240)"/><circle cx="998.4" cy="500.1" r="2.5" fill="rgb(60, 28, 240)"/><circle cx="1023.0" cy="570.0" r="2.5" fill="rgb(60, 28, 240)"/><circle cx="966.7" cy="451.5" r="2.5" fill="rgb(60, 29, 240)"/><circle cx="1011.4" cy="626.7" r="2.5" fill="rgb(60, 29, 240)"/><circle cx="1038.8" cy="537.1" r="2.5" fill="rgb(60, 30, 240)"/><circle cx="1011.2" cy="602.2" r="2.5" fill="rgb(60, 30, 240)"/><circle cx="947.4" cy="426.7" r="2.5" fill="rgb(60, 31, 240)"/><circle cx="1041.6" cy="515.1" r="2.5" fill="rgb(60, 31, 240)"/><circle cx="1063.8" cy="551.7" r="2.5" fill="rgb(60, 31, 240)"/><circle cx="993.9" cy="396.6" r="2.5" fill="rgb(60, 32, 240)"/><circle cx="1015.9" cy="412.0" r="2.5" fill="rgb(60, 32, 240)"/><circle cx="944.2" cy="422.6" r="2.5" fill="rgb(60, 32, 240)"/><circle cx="1028.8" cy="606.2" r="2.5" fill="rgb(60, 32, 240)"/><circle cx="1027.4" cy="504.4" r="2.5" fill="rgb(60, 33, 240)"/><circle cx="1028.8" cy="505.0" r="2.5" fill="rgb(60, 33, 240)"/><circle cx="1095.8" cy="579.7" r="2.5" fill="rgb(60, 33, 240)"/><circle cx="951.4" cy="471.9" r="2.5" fill="rgb(60, 33, 240)"/><circle cx="1067.8" cy="554.4" r="2.5" fill="rgb(60, 33, 240)"/><circle cx="956.4" cy="451.0" r="2.5" fill="rgb(60, 33, 240)"/><circle cx="1074.0" cy="576.5" r="2.5" fill="rgb(60, 34, 240)"/><circle cx="1015.1" cy="620.2" r="2.5" fill="rgb(60, 34, 240)"/><circle cx="1027.5" cy="503.0" r="2.5" fill="rgb(60, 34, 240)"/><circle cx="1036.3" cy="472.8" r="2.5" fill="rgb(60, 34, 240)"/><circle cx="1079.4" cy="560.8" r="2.5" fill="rgb(61, 34, 241)"/><circle cx="1004.4" cy="443.3" r="2.5" fill="rgb(61, 34, 241)"/><circle cx="1025.4" cy="495.1" r="2.5" fill="rgb(61, 34, 241)"/><circle cx="1014.2" cy="596.6" r="2.5" fill="rgb(61, 34, 241)"/><circle cx="997.8" cy="415.8" r="2.5" fill="rgb(61, 35, 241)"/><circle cx="944.4" cy="409.7" r="2.5" fill="rgb(61, 35, 241)"/><circle cx="994.4" cy="410.8" r="2.5" fill="rgb(61, 36, 241)"/><circle cx="945.3" cy="445.4" r="2.5" fill="rgb(61, 36, 241)"/><circle cx="1023.7" cy="590.3" r="2.5" fill="rgb(61, 37, 241)"/><circle cx="1091.1" cy="571.7" r="2.5" fill="rgb(61, 37, 241)"/><circle cx="1017.5" cy="414.7" r="2.5" fill="rgb(61, 37, 241)"/><circle cx="948.4" cy="409.4" r="2.5" fill="rgb(61, 38, 241)"/><circle cx="968.3" cy="456.1" r="2.5" fill="rgb(61, 38, 241)"/><circle cx="947.3" cy="412.0" r="2.5" fill="rgb(61, 39, 241)"/><circle cx="996.4" cy="416.1" r="2.5" fill="rgb(61, 39, 241)"/><circle cx="959.2" cy="402.3" r="2.5" fill="rgb(61, 39, 241)"/><circle cx="1076.9" cy="573.4" r="2.5" fill="rgb(61, 40, 241)"/><circle cx="1014.5" cy="404.9" r="2.5" fill="rgb(61, 40, 241)"/><circle cx="995.6" cy="400.8" r="2.5" fill="rgb(61, 41, 241)"/><circle cx="1099.8" cy="601.2" r="2.5" fill="rgb(61, 41, 241)"/><circle cx="972.0" cy="402.6" r="2.5" fill="rgb(61, 41, 241)"/><circle cx="1072.5" cy="574.3" r="2.5" fill="rgb(61, 41, 241)"/><circle cx="1031.6" cy="418.9" r="2.5" fill="rgb(61, 41, 241)"/><circle cx="1083.0" cy="588.5" r="2.5" fill="rgb(61, 42, 241)"/><circle cx="1011.6" cy="500.4" r="2.5" fill="rgb(61, 43, 241)"/><circle cx="1021.6" cy="577.0" r="2.5" fill="rgb(62, 44, 242)"/><circle cx="1039.2" cy="519.0" r="2.5" fill="rgb(62, 45, 242)"/><circle cx="957.4" cy="444.0" r="2.5" fill="rgb(62, 45, 242)"/><circle cx="1006.8" cy="410.4" r="2.5" fill="rgb(62, 46, 242)"/><circle cx="1019.2" cy="575.8" r="2.5" fill="rgb(62, 46, 242)"/><circle cx="959.1" cy="472.4" r="2.5" fill="rgb(62, 46, 242)"/><circle cx="1104.3" cy="601.5" r="2.5" fill="rgb(62, 46, 242)"/><circle cx="1068.9" cy="575.5" r="2.5" fill="rgb(62, 47, 242)"/><circle cx="939.6" cy="425.6" r="2.5" fill="rgb(62, 47, 242)"/><circle cx="959.9" cy="451.5" r="2.5" fill="rgb(62, 47, 242)"/><circle cx="979.8" cy="398.2" r="2.5" fill="rgb(62, 47, 242)"/><circle cx="1006.9" cy="435.8" r="2.5" fill="rgb(62, 47, 242)"/><circle cx="1015.6" cy="499.9" r="2.5" fill="rgb(62, 49, 242)"/><circle cx="1091.8" cy="601.9" r="2.5" fill="rgb(62, 49, 242)"/><circle cx="1077.5" cy="567.1" r="2.5" fill="rgb(62, 49, 242)"/><circle cx="1104.5" cy="599.4" r="2.5" fill="rgb(62, 50, 242)"/><circle cx="970.5" cy="453.6" r="2.5" fill="rgb(62, 50, 242)"/><circle cx="1034.6" cy="476.3" r="2.5" fill="rgb(62, 51, 242)"/><circle cx="1092.5" cy="580.3" r="2.5" fill="rgb(62, 51, 242)"/><circle cx="962.8" cy="457.6" r="2.5" fill="rgb(62, 51, 242)"/><circle cx="1011.3" cy="600.9" r="2.5" fill="rgb(62, 51, 242)"/><circle cx="1023.8" cy="437.6" r="2.5" fill="rgb(62, 52, 242)"/><circle cx="1070.3" cy="553.0" r="2.5" fill="rgb(62, 52, 242)"/><circle cx="1012.4" cy="442.1" r="2.5" fill="rgb(62, 52, 242)"/><circle cx="1088.0" cy="581.4" r="2.5" fill="rgb(62, 52, 242)"/><circle cx="1071.5" cy="576.7" r="2.5" fill="rgb(62, 52, 242)"/><circle cx="1011.4" cy="598.1" r="2.5" fill="rgb(62, 52, 242)"/><circle cx="983.8" cy="435.2" r="2.5" fill="rgb(62, 52, 242)"/><circle cx="1021.1" cy="583.3" r="2.5" fill="rgb(62, 52, 242)"/><circle cx="1067.6" cy="562.6" r="2.5" fill="rgb(62, 52, 242)"/><circle cx="1029.5" cy="585.0" r="2.5" fill="rgb(62, 53, 242)"/><circle cx="954.9" cy="463.2" r="2.5" fill="rgb(62, 53, 242)"/><circle cx="961.8" cy="449.1" r="2.5" fill="rgb(62, 53, 242)"/><circle cx="1041.4" cy="538.3" r="2.5" fill="rgb(63, 53, 243)"/><circle cx="1011.8" cy="433.8" r="2.5" fill="rgb(63, 53, 243)"/><circle cx="1038.0" cy="579.1" r="2.5" fill="rgb(63, 53, 243)"/><circle cx="1074.0" cy="558.8" r="2.5" fill="rgb(63, 54, 243)"/><circle cx="953.7" cy="402.5" r="2.5" fill="rgb(63, 54, 243)"/><circle cx="1027.5" cy="439.5" r="2.5" fill="rgb(63, 54, 243)"/><circle cx="1028.5" cy="576.2" r="2.5" fill="rgb(63, 55, 243)"/><circle cx="1016.1" cy="448.2" r="2.5" fill="rgb(63, 55, 243)"/><circle cx="1034.3" cy="478.1" r="2.5" fill="rgb(63, 55, 243)"/><circle cx="1041.1" cy="533.1" r="2.5" fill="rgb(63, 56, 243)"/><circle cx="1017.6" cy="408.9" r="2.5" fill="rgb(63, 56, 243)"/><circle cx="1074.6" cy="575.7" r="2.5" fill="rgb(63, 56, 243)"/><circle cx="1021.3" cy="582.7" r="2.5" fill="rgb(63, 56, 243)"/><circle cx="1010.4" cy="419.0" r="2.5" fill="rgb(63, 56, 243)"/><circle cx="1027.3" cy="511.0" r="2.5" fill="rgb(63, 56, 243)"/><circle cx="1014.2" cy="449.8" r="2.5" fill="rgb(63, 57, 243)"/><circle cx="956.4" cy="462.3" r="2.5" fill="rgb(63, 57, 243)"/><circle cx="1031.9" cy="584.5" r="2.5" fill="rgb(63, 57, 243)"/><circle cx="1079.7" cy="564.7" r="2.5" fill="rgb(63, 57, 243)"/><circle cx="959.1" cy="440.3" r="2.5" fill="rgb(63, 58, 243)"/><circle cx="993.1" cy="413.2" r="2.5" fill="rgb(63, 58, 243)"/><circle cx="993.3" cy="494.6" r="2.5" fill="rgb(63, 59, 243)"/><circle cx="988.0" cy="392.9" r="2.5" fill="rgb(63, 59, 243)"/><circle cx="939.2" cy="496.1" r="2.5" fill="rgb(63, 61, 243)"/><circle cx="981.0" cy="451.5" r="2.5" fill="rgb(63, 62, 243)"/><circle cx="1014.0" cy="602.9" r="2.5" fill="rgb(64, 63, 244)"/><circle cx="1029.8" cy="514.5" r="2.5" fill="rgb(64, 63, 244)"/><circle cx="1038.6" cy="501.3" r="2.5" fill="rgb(64, 63, 244)"/><circle cx="1014.1" cy="597.6" r="2.5" fill="rgb(64, 64, 244)"/><circle cx="988.4" cy="393.6" r="2.5" fill="rgb(64, 64, 244)"/><circle cx="1018.7" cy="590.4" r="2.5" fill="rgb(64, 64, 244)"/><circle cx="1021.6" cy="442.8" r="2.5" fill="rgb(64, 65, 244)"/><circle cx="977.6" cy="442.7" r="2.5" fill="rgb(64, 65, 244)"/><circle cx="1073.4" cy="574.2" r="2.5" fill="rgb(64, 65, 244)"/><circle cx="997.8" cy="419.2" r="2.5" fill="rgb(64, 65, 244)"/><circle cx="1019.9" cy="409.5" r="2.5" fill="rgb(64, 65, 244)"/><circle cx="958.3" cy="396.0" r="2.5" fill="rgb(64, 66, 244)"/><circle cx="1061.5" cy="553.0" r="2.5" fill="rgb(64, 66, 244)"/><circle cx="1023.5" cy="471.5" r="2.5" fill="rgb(64, 66, 244)"/><circle cx="976.8" cy="460.6" r="2.5" fill="rgb(64, 66, 244)"/><circle cx="1026.7" cy="409.5" r="2.5" fill="rgb(64, 67, 244)"/><circle cx="1001.2" cy="455.2" r="2.5" fill="rgb(64, 68, 244)"/><circle cx="1029.3" cy="478.8" r="2.5" fill="rgb(64, 68, 244)"/><circle cx="1026.6" cy="586.0" r="2.5" fill="rgb(64, 68, 244)"/><circle cx="959.1" cy="439.3" r="2.5" fill="rgb(64, 68, 244)"/><circle cx="996.2" cy="435.0" r="2.5" fill="rgb(64, 68, 244)"/><circle cx="1072.4" cy="566.3" r="2.5" fill="rgb(64, 69, 244)"/><circle cx="1018.0" cy="436.8" r="2.5" fill="rgb(64, 70, 244)"/><circle cx="1016.5" cy="409.4" r="2.5" fill="rgb(64, 71, 244)"/><circle cx="962.7" cy="396.2" r="2.5" fill="rgb(64, 72, 244)"/><circle cx="1078.1" cy="561.0" r="2.5" fill="rgb(65, 72, 245)"/><circle cx="980.0" cy="495.1" r="2.5" fill="rgb(65, 72, 245)"/><circle cx="1113.6" cy="607.0" r="2.5" fill="rgb(65, 72, 245)"/><circle cx="954.5" cy="470.6" r="2.5" fill="rgb(65, 72, 245)"/><circle cx="1104.8" cy="605.5" r="2.5" fill="rgb(65, 72, 245)"/><circle cx="1036.7" cy="437.4" r="2.5" fill="rgb(65, 73, 245)"/><circle cx="1071.1" cy="559.6" r="2.5" fill="rgb(65, 73, 245)"/><circle cx="960.3" cy="403.4" r="2.5" fill="rgb(65, 75, 245)"/><circle cx="952.1" cy="428.5" r="2.5" fill="rgb(65, 75, 245)"/><circle cx="952.4" cy="412.5" r="2.5" fill="rgb(65, 75, 245)"/><circle cx="1009.4" cy="437.4" r="2.5" fill="rgb(65, 76, 245)"/><circle cx="1009.7" cy="430.2" r="2.5" fill="rgb(65, 77, 245)"/><circle cx="981.7" cy="457.1" r="2.5" fill="rgb(65, 77, 245)"/><circle cx="935.9" cy="447.8" r="2.5" fill="rgb(65, 77, 245)"/><circle cx="1031.5" cy="607.6" r="2.5" fill="rgb(65, 78, 245)"/><circle cx="969.8" cy="444.0" r="2.5" fill="rgb(65, 78, 245)"/><circle cx="1102.2" cy="598.2" r="2.5" fill="rgb(65, 78, 245)"/><circle cx="959.1" cy="437.7" r="2.5" fill="rgb(65, 79, 245)"/><circle cx="990.7" cy="494.2" r="2.5" fill="rgb(65, 80, 245)"/><circle cx="1036.4" cy="583.3" r="2.5" fill="rgb(65, 81, 245)"/><circle cx="1071.2" cy="564.4" r="2.5" fill="rgb(65, 81, 245)"/><circle cx="1099.4" cy="592.1" r="2.5" fill="rgb(65, 81, 245)"/><circle cx="1027.3" cy="587.0" r="2.5" fill="rgb(66, 82, 246)"/><circle cx="978.6" cy="416.1" r="2.5" fill="rgb(66, 82, 246)"/><circle cx="991.8" cy="399.7" r="2.5" fill="rgb(66, 82, 246)"/><circle cx="981.1" cy="437.1" r="2.5" fill="rgb(66, 83, 246)"/><circle cx="942.6" cy="435.6" r="2.5" fill="rgb(66, 83, 246)"/><circle cx="1024.3" cy="447.3" r="2.5" fill="rgb(66, 83, 246)"/><circle cx="1006.1" cy="428.0" r="2.5" fill="rgb(66, 83, 246)"/><circle cx="988.8" cy="494.2" r="2.5" fill="rgb(66, 83, 246)"/><circle cx="993.3" cy="403.1" r="2.5" fill="rgb(66, 84, 246)"/><circle cx="996.3" cy="394.2" r="2.5" fill="rgb(66, 84, 246)"/><circle cx="1009.1" cy="428.6" r="2.5" fill="rgb(66, 84, 246)"/><circle cx="974.2" cy="400.5" r="2.5" fill="rgb(66, 85, 246)"/><circle cx="959.7" cy="402.7" r="2.5" fill="rgb(66, 85, 246)"/><circle cx="975.7" cy="462.3" r="2.5" fill="rgb(66, 85, 246)"/><circle cx="1016.9" cy="592.9" r="2.5" fill="rgb(66, 85, 246)"/><circle cx="1016.7" cy="520.1" r="2.5" fill="rgb(66, 86, 246)"/><circle cx="1020.1" cy="418.9" r="2.5" fill="rgb(66, 87, 246)"/><circle cx="1021.1" cy="575.6" r="2.5" fill="rgb(66, 87, 246)"/><circle cx="1028.2" cy="488.1" r="2.5" fill="rgb(66, 87, 246)"/><circle cx="1012.7" cy="496.7" r="2.5" fill="rgb(66, 87, 246)"/><circle cx="974.1" cy="457.9" r="2.5" fill="rgb(66, 89, 246)"/><circle cx="1008.1" cy="414.5" r="2.5" fill="rgb(66, 89, 246)"/><circle cx="943.2" cy="441.8" r="2.5" fill="rgb(66, 89, 246)"/><circle cx="1023.2" cy="411.4" r="2.5" fill="rgb(66, 89, 246)"/><circle cx="953.9" cy="408.2" r="2.5" fill="rgb(66, 90, 246)"/><circle cx="987.8" cy="405.5" r="2.5" fill="rgb(66, 91, 246)"/><circle cx="1040.2" cy="530.1" r="2.5" fill="rgb(66, 91, 246)"/><circle cx="997.2" cy="425.5" r="2.5" fill="rgb(67, 91, 247)"/><circle cx="984.1" cy="416.6" r="2.5" fill="rgb(67, 92, 247)"/><circle cx="1027.3" cy="579.5" r="2.5" fill="rgb(67, 93, 247)"/><circle cx="1001.5" cy="447.5" r="2.5" fill="rgb(67, 93, 247)"/><circle cx="1033.7" cy="580.2" r="2.5" fill="rgb(67, 93, 247)"/><circle cx="1012.3" cy="456.7" r="2.5" fill="rgb(67, 93, 247)"/><circle cx="1067.6" cy="569.3" r="2.5" fill="rgb(67, 94, 247)"/><circle cx="1028.3" cy="521.3" r="2.5" fill="rgb(67, 94, 247)"/><circle cx="979.2" cy="457.4" r="2.5" fill="rgb(67, 94, 247)"/><circle cx="946.4" cy="411.6" r="2.5" fill="rgb(67, 94, 247)"/><circle cx="1009.2" cy="498.3" r="2.5" fill="rgb(67, 94, 247)"/><circle cx="975.2" cy="430.2" r="2.5" fill="rgb(67, 95, 247)"/><circle cx="1013.2" cy="583.0" r="2.5" fill="rgb(67, 95, 247)"/><circle cx="1035.8" cy="508.6" r="2.5" fill="rgb(67, 96, 247)"/><circle cx="1033.4" cy="474.8" r="2.5" fill="rgb(67, 97, 247)"/><circle cx="1005.0" cy="414.5" r="2.5" fill="rgb(67, 97, 247)"/><circle cx="991.2" cy="391.5" r="2.5" fill="rgb(67, 97, 247)"/><circle cx="981.0" cy="440.6" r="2.5" fill="rgb(67, 99, 247)"/><circle cx="978.7" cy="443.9" r="2.5" fill="rgb(67, 99, 247)"/><circle cx="948.5" cy="453.4" r="2.5" fill="rgb(67, 99, 247)"/><circle cx="1005.4" cy="438.0" r="2.5" fill="rgb(67, 100, 247)"/><circle cx="957.4" cy="475.2" r="2.5" fill="rgb(68, 101, 248)"/><circle cx="1028.7" cy="426.0" r="2.5" fill="rgb(68, 101, 248)"/><circle cx="962.3" cy="427.3" r="2.5" fill="rgb(68, 102, 248)"/><circle cx="1079.0" cy="560.3" r="2.5" fill="rgb(68, 102, 248)"/><circle cx="953.4" cy="441.4" r="2.5" fill="rgb(68, 102, 248)"/><circle cx="961.6" cy="405.0" r="2.5" fill="rgb(68, 103, 248)"/><circle cx="1102.7" cy="597.4" r="2.5" fill="rgb(68, 103, 248)"/><circle cx="1004.7" cy="420.7" r="2.5" fill="rgb(68, 103, 248)"/><circle cx="1026.4" cy="406.2" r="2.5" fill="rgb(68, 103, 248)"/><circle cx="990.6" cy="409.6" r="2.5" fill="rgb(68, 104, 248)"/><circle cx="986.1" cy="400.0" r="2.5" fill="rgb(68, 104, 248)"/><circle cx="944.3" cy="448.6" r="2.5" fill="rgb(68, 104, 248)"/><circle cx="996.6" cy="430.4" r="2.5" fill="rgb(68, 104, 248)"/><circle cx="1005.6" cy="443.2" r="2.5" fill="rgb(68, 105, 248)"/><circle cx="951.4" cy="404.8" r="2.5" fill="rgb(68, 105, 248)"/><circle cx="961.3" cy="473.2" r="2.5" fill="rgb(68, 105, 248)"/><circle cx="986.4" cy="490.4" r="2.5" fill="rgb(68, 106, 248)"/><circle cx="944.4" cy="409.6" r="2.5" fill="rgb(68, 106, 248)"/><circle cx="950.7" cy="434.5" r="2.5" fill="rgb(68, 107, 248)"/><circle cx="1001.7" cy="420.9" r="2.5" fill="rgb(68, 107, 248)"/><circle cx="1008.1" cy="420.1" r="2.5" fill="rgb(68, 108, 248)"/><circle cx="977.5" cy="430.9" r="2.5" fill="rgb(68, 108, 248)"/><circle cx="940.2" cy="422.5" r="2.5" fill="rgb(68, 108, 248)"/><circle cx="1008.5" cy="426.9" r="2.5" fill="rgb(68, 108, 248)"/><circle cx="981.0" cy="447.9" r="2.5" fill="rgb(68, 108, 248)"/><circle cx="1005.1" cy="430.4" r="2.5" fill="rgb(68, 108, 248)"/><circle cx="992.9" cy="483.3" r="2.5" fill="rgb(68, 109, 248)"/><circle cx="991.8" cy="424.3" r="2.5" fill="rgb(68, 110, 248)"/><circle cx="978.3" cy="474.0" r="2.5" fill="rgb(69, 111, 249)"/><circle cx="960.3" cy="450.2" r="2.5" fill="rgb(69, 111, 249)"/><circle cx="946.8" cy="414.7" r="2.5" fill="rgb(69, 111, 249)"/><circle cx="979.6" cy="493.5" r="2.5" fill="rgb(69, 112, 249)"/><circle cx="1016.5" cy="591.8" r="2.5" fill="rgb(69, 112, 249)"/><circle cx="974.6" cy="450.2" r="2.5" fill="rgb(69, 113, 249)"/><circle cx="978.0" cy="473.4" r="2.5" fill="rgb(69, 113, 249)"/><circle cx="970.1" cy="407.8" r="2.5" fill="rgb(69, 113, 249)"/><circle cx="980.7" cy="415.3" r="2.5" fill="rgb(69, 114, 249)"/><circle cx="951.5" cy="441.0" r="2.5" fill="rgb(69, 115, 249)"/><circle cx="955.2" cy="469.5" r="2.5" fill="rgb(69, 115, 249)"/><circle cx="975.5" cy="433.1" r="2.5" fill="rgb(69, 116, 249)"/><circle cx="1030.7" cy="475.8" r="2.5" fill="rgb(69, 117, 249)"/><circle cx="952.0" cy="439.1" r="2.5" fill="rgb(69, 118, 249)"/><circle cx="1005.8" cy="426.6" r="2.5" fill="rgb(69, 118, 249)"/><circle cx="1090.2" cy="579.7" r="2.5" fill="rgb(69, 118, 249)"/><circle cx="989.2" cy="393.4" r="2.5" fill="rgb(69, 119, 249)"/><circle cx="956.2" cy="404.9" r="2.5" fill="rgb(70, 120, 250)"/><circle cx="1079.9" cy="564.8" r="2.5" fill="rgb(70, 121, 250)"/><circle cx="1014.8" cy="447.9" r="2.5" fill="rgb(70, 121, 250)"/><circle cx="950.1" cy="416.8" r="2.5" fill="rgb(70, 121, 250)"/><circle cx="948.2" cy="436.2" r="2.5" fill="rgb(70, 121, 250)"/><circle cx="966.0" cy="437.5" r="2.5" fill="rgb(70, 121, 250)"/><circle cx="959.0" cy="488.2" r="2.5" fill="rgb(70, 122, 250)"/><circle cx="978.9" cy="468.5" r="2.5" fill="rgb(70, 122, 250)"/><circle cx="1071.9" cy="563.0" r="2.5" fill="rgb(70, 122, 250)"/><circle cx="1010.2" cy="454.2" r="2.5" fill="rgb(70, 123, 250)"/><circle cx="1004.8" cy="426.1" r="2.5" fill="rgb(70, 123, 250)"/><circle cx="949.6" cy="440.8" r="2.5" fill="rgb(71, 124, 250)"/><circle cx="987.9" cy="477.0" r="2.5" fill="rgb(71, 124, 250)"/><circle cx="991.3" cy="407.9" r="2.5" fill="rgb(71, 124, 250)"/><circle cx="956.4" cy="434.9" r="2.5" fill="rgb(71, 124, 250)"/><circle cx="960.7" cy="422.9" r="2.5" fill="rgb(71, 124, 250)"/><circle cx="1019.0" cy="439.6" r="2.5" fill="rgb(71, 125, 250)"/><circle cx="1026.2" cy="482.4" r="2.5" fill="rgb(71, 125, 250)"/><circle cx="954.0" cy="439.2" r="2.5" fill="rgb(71, 127, 250)"/><circle cx="958.3" cy="443.9" r="2.5" fill="rgb(71, 127, 250)"/><circle cx="1003.5" cy="434.5" r="2.5" fill="rgb(72, 129, 250)"/><circle cx="971.3" cy="481.8" r="2.5" fill="rgb(72, 129, 250)"/><circle cx="992.1" cy="429.2" r="2.5" fill="rgb(72, 129, 250)"/><circle cx="946.1" cy="435.6" r="2.5" fill="rgb(72, 130, 250)"/><circle cx="1020.4" cy="493.7" r="2.5" fill="rgb(72, 130, 250)"/><circle cx="954.7" cy="422.0" r="2.5" fill="rgb(72, 130, 250)"/><circle cx="943.4" cy="433.2" r="2.5" fill="rgb(72, 130, 250)"/><circle cx="1012.8" cy="452.6" r="2.5" fill="rgb(72, 130, 250)"/><circle cx="957.7" cy="470.7" r="2.5" fill="rgb(73, 132, 250)"/><circle cx="980.0" cy="444.7" r="2.5" fill="rgb(73, 132, 250)"/><circle cx="987.0" cy="491.5" r="2.5" fill="rgb(73, 132, 250)"/><circle cx="976.8" cy="414.6" r="2.5" fill="rgb(73, 133, 250)"/><circle cx="1010.5" cy="419.9" r="2.5" fill="rgb(73, 133, 250)"/><circle cx="989.5" cy="407.6" r="2.5" fill="rgb(73, 133, 250)"/><circle cx="961.3" cy="425.2" r="2.5" fill="rgb(73, 133, 250)"/><circle cx="974.1" cy="449.1" r="2.5" fill="rgb(73, 133, 250)"/><circle cx="1006.4" cy="436.9" r="2.5" fill="rgb(73, 134, 250)"/><circle cx="982.9" cy="461.5" r="2.5" fill="rgb(73, 134, 250)"/><circle cx="960.8" cy="486.4" r="2.5" fill="rgb(73, 135, 250)"/><circle cx="989.7" cy="411.2" r="2.5" fill="rgb(73, 135, 250)"/><circle cx="990.5" cy="428.6" r="2.5" fill="rgb(74, 136, 250)"/><circle cx="1018.6" cy="487.0" r="2.5" fill="rgb(74, 136, 250)"/><circle cx="1076.5" cy="560.9" r="2.5" fill="rgb(74, 137, 250)"/><circle cx="977.9" cy="447.5" r="2.5" fill="rgb(74, 137, 250)"/><circle cx="1015.2" cy="408.5" r="2.5" fill="rgb(74, 137, 250)"/><circle cx="1017.1" cy="407.6" r="2.5" fill="rgb(74, 138, 250)"/><circle cx="946.9" cy="434.4" r="2.5" fill="rgb(74, 138, 250)"/><circle cx="974.8" cy="449.3" r="2.5" fill="rgb(74, 139, 250)"/><circle cx="1006.9" cy="420.4" r="2.5" fill="rgb(74, 139, 250)"/><circle cx="946.6" cy="437.8" r="2.5" fill="rgb(74, 139, 250)"/><circle cx="990.0" cy="406.6" r="2.5" fill="rgb(74, 139, 250)"/><circle cx="970.2" cy="411.5" r="2.5" fill="rgb(74, 139, 250)"/><circle cx="977.4" cy="482.9" r="2.5" fill="rgb(75, 140, 250)"/><circle cx="948.2" cy="444.6" r="2.5" fill="rgb(75, 140, 250)"/><circle cx="942.4" cy="430.9" r="2.5" fill="rgb(75, 141, 250)"/><circle cx="1021.7" cy="450.7" r="2.5" fill="rgb(75, 141, 250)"/><circle cx="1025.1" cy="576.3" r="2.5" fill="rgb(75, 141, 250)"/><circle cx="951.7" cy="435.3" r="2.5" fill="rgb(75, 142, 250)"/><circle cx="1019.1" cy="496.1" r="2.5" fill="rgb(75, 142, 250)"/><circle cx="972.3" cy="478.5" r="2.5" fill="rgb(75, 142, 250)"/><circle cx="1010.9" cy="434.0" r="2.5" fill="rgb(75, 143, 250)"/><circle cx="1029.4" cy="580.0" r="2.5" fill="rgb(75, 143, 250)"/><circle cx="1016.6" cy="418.7" r="2.5" fill="rgb(76, 145, 250)"/><circle cx="1021.4" cy="490.9" r="2.5" fill="rgb(76, 145, 250)"/><circle cx="997.2" cy="415.4" r="2.5" fill="rgb(76, 146, 250)"/><circle cx="985.4" cy="489.6" r="2.5" fill="rgb(76, 146, 250)"/><circle cx="1007.9" cy="474.1" r="2.5" fill="rgb(76, 147, 250)"/><circle cx="962.1" cy="433.1" r="2.5" fill="rgb(76, 147, 250)"/><circle cx="999.5" cy="461.8" r="2.5" fill="rgb(76, 147, 250)"/><circle cx="962.9" cy="432.3" r="2.5" fill="rgb(77, 148, 250)"/><circle cx="978.2" cy="440.6" r="2.5" fill="rgb(77, 148, 250)"/><circle cx="1005.9" cy="457.0" r="2.5" fill="rgb(77, 148, 250)"/><circle cx="1026.7" cy="484.6" r="2.5" fill="rgb(77, 148, 250)"/><circle cx="954.9" cy="469.8" r="2.5" fill="rgb(77, 148, 250)"/><circle cx="1007.6" cy="409.4" r="2.5" fill="rgb(77, 148, 250)"/><circle cx="963.4" cy="401.3" r="2.5" fill="rgb(77, 149, 250)"/><circle cx="1008.8" cy="468.6" r="2.5" fill="rgb(77, 149, 250)"/><circle cx="1030.9" cy="475.7" r="2.5" fill="rgb(77, 150, 250)"/><circle cx="971.8" cy="478.6" r="2.5" fill="rgb(77, 150, 250)"/><circle cx="996.2" cy="488.9" r="2.5" fill="rgb(77, 150, 250)"/><circle cx="1018.7" cy="485.8" r="2.5" fill="rgb(77, 150, 250)"/><circle cx="1000.3" cy="415.9" r="2.5" fill="rgb(77, 150, 250)"/><circle cx="969.0" cy="433.6" r="2.5" fill="rgb(77, 150, 250)"/><circle cx="1008.1" cy="427.6" r="2.5" fill="rgb(77, 151, 250)"/><circle cx="1029.2" cy="583.5" r="2.5" fill="rgb(77, 151, 250)"/><circle cx="993.0" cy="493.6" r="2.5" fill="rgb(78, 152, 250)"/><circle cx="980.7" cy="451.1" r="2.5" fill="rgb(78, 152, 250)"/><circle cx="1009.5" cy="410.2" r="2.5" fill="rgb(78, 152, 250)"/><circle cx="979.1" cy="484.1" r="2.5" fill="rgb(78, 153, 250)"/><circle cx="953.0" cy="451.0" r="2.5" fill="rgb(78, 153, 250)"/><circle cx="1007.6" cy="463.2" r="2.5" fill="rgb(78, 153, 250)"/><circle cx="941.3" cy="436.4" r="2.5" fill="rgb(78, 153, 250)"/><circle cx="1000.8" cy="470.8" r="2.5" fill="rgb(78, 154, 250)"/><circle cx="961.8" cy="400.7" r="2.5" fill="rgb(78, 155, 250)"/><circle cx="990.7" cy="422.1" r="2.5" fill="rgb(78, 155, 250)"/><circle cx="980.8" cy="463.8" r="2.5" fill="rgb(78, 155, 250)"/><circle cx="1026.5" cy="479.7" r="2.5" fill="rgb(78, 155, 250)"/><circle cx="990.2" cy="481.4" r="2.5" fill="rgb(79, 156, 250)"/><circle cx="1004.9" cy="465.0" r="2.5" fill="rgb(79, 156, 250)"/><circle cx="959.2" cy="432.9" r="2.5" fill="rgb(79, 156, 250)"/><circle cx="967.8" cy="476.8" r="2.5" fill="rgb(79, 156, 250)"/><circle cx="976.7" cy="473.5" r="2.5" fill="rgb(79, 157, 250)"/><circle cx="998.2" cy="420.9" r="2.5" fill="rgb(79, 158, 250)"/><circle cx="1009.2" cy="491.4" r="2.5" fill="rgb(79, 158, 250)"/><circle cx="975.7" cy="471.6" r="2.5" fill="rgb(79, 159, 250)"/><circle cx="1018.7" cy="491.9" r="2.5" fill="rgb(79, 159, 250)"/><circle cx="957.9" cy="432.9" r="2.5" fill="rgb(79, 159, 250)"/><circle cx="1010.0" cy="463.1" r="2.5" fill="rgb(79, 159, 250)"/><circle cx="989.4" cy="478.8" r="2.5" fill="rgb(80, 160, 250)"/><circle cx="973.8" cy="434.1" r="2.5" fill="rgb(80, 160, 250)"/><circle cx="1006.9" cy="489.6" r="2.5" fill="rgb(80, 161, 250)"/><circle cx="1020.6" cy="472.8" r="2.5" fill="rgb(80, 161, 250)"/><circle cx="1022.8" cy="465.7" r="2.5" fill="rgb(80, 162, 250)"/><circle cx="1010.3" cy="489.3" r="2.5" fill="rgb(80, 162, 250)"/><circle cx="987.5" cy="490.6" r="2.5" fill="rgb(80, 163, 250)"/><circle cx="978.4" cy="436.0" r="2.5" fill="rgb(81, 164, 250)"/><circle cx="990.8" cy="412.5" r="2.5" fill="rgb(81, 164, 250)"/><circle cx="957.2" cy="427.6" r="2.5" fill="rgb(81, 165, 250)"/><circle cx="1031.5" cy="580.6" r="2.5" fill="rgb(81, 165, 250)"/><circle cx="967.8" cy="484.9" r="2.5" fill="rgb(81, 165, 250)"/><circle cx="990.4" cy="416.9" r="2.5" fill="rgb(81, 166, 250)"/><circle cx="997.2" cy="470.6" r="2.5" fill="rgb(81, 167, 250)"/><circle cx="964.3" cy="432.7" r="2.5" fill="rgb(81, 167, 250)"/><circle cx="992.6" cy="404.7" r="2.5" fill="rgb(81, 167, 250)"/><circle cx="985.5" cy="404.9" r="2.5" fill="rgb(82, 168, 250)"/><circle cx="955.3" cy="442.5" r="2.5" fill="rgb(82, 168, 250)"/><circle cx="981.0" cy="487.3" r="2.5" fill="rgb(82, 168, 250)"/><circle cx="973.4" cy="432.8" r="2.5" fill="rgb(82, 170, 250)"/><circle cx="994.8" cy="465.9" r="2.5" fill="rgb(82, 171, 250)"/><circle cx="986.0" cy="409.7" r="2.5" fill="rgb(83, 172, 250)"/><circle cx="988.8" cy="412.9" r="2.5" fill="rgb(83, 174, 250)"/><circle cx="1027.0" cy="476.8" r="2.5" fill="rgb(83, 174, 250)"/><circle cx="1013.1" cy="483.4" r="2.5" fill="rgb(83, 175, 250)"/><circle cx="1008.1" cy="495.6" r="2.5" fill="rgb(83, 175, 250)"/><circle cx="969.6" cy="481.2" r="2.5" fill="rgb(83, 175, 250)"/><circle cx="979.9" cy="442.5" r="2.5" fill="rgb(84, 176, 250)"/><circle cx="1018.9" cy="485.7" r="2.5" fill="rgb(84, 176, 250)"/><circle cx="968.9" cy="434.4" r="2.5" fill="rgb(84, 177, 250)"/><circle cx="1000.4" cy="470.2" r="2.5" fill="rgb(84, 177, 250)"/><circle cx="975.6" cy="414.9" r="2.5" fill="rgb(84, 177, 250)"/><circle cx="1014.3" cy="436.2" r="2.5" fill="rgb(84, 178, 250)"/><circle cx="958.0" cy="468.6" r="2.5" fill="rgb(84, 178, 250)"/><circle cx="981.4" cy="459.5" r="2.5" fill="rgb(84, 178, 250)"/><circle cx="1000.6" cy="470.4" r="2.5" fill="rgb(84, 178, 250)"/><circle cx="967.3" cy="412.6" r="2.5" fill="rgb(84, 178, 250)"/><circle cx="989.1" cy="492.2" r="2.5" fill="rgb(84, 179, 250)"/><circle cx="1004.6" cy="461.9" r="2.5" fill="rgb(85, 180, 250)"/><circle cx="1005.8" cy="463.8" r="2.5" fill="rgb(85, 180, 250)"/><circle cx="1006.9" cy="473.1" r="2.5" fill="rgb(85, 180, 250)"/><circle cx="1001.4" cy="430.7" r="2.5" fill="rgb(85, 180, 250)"/><circle cx="986.6" cy="472.3" r="2.5" fill="rgb(85, 181, 250)"/><circle cx="961.9" cy="409.2" r="2.5" fill="rgb(85, 181, 250)"/><circle cx="979.5" cy="418.2" r="2.5" fill="rgb(85, 181, 250)"/><circle cx="974.5" cy="439.2" r="2.5" fill="rgb(85, 182, 250)"/><circle cx="986.2" cy="402.9" r="2.5" fill="rgb(85, 182, 250)"/><circle cx="990.3" cy="488.2" r="2.5" fill="rgb(85, 182, 250)"/><circle cx="974.2" cy="476.9" r="2.5" fill="rgb(85, 182, 250)"/><circle cx="1012.6" cy="480.0" r="2.5" fill="rgb(85, 183, 250)"/><circle cx="1030.5" cy="583.0" r="2.5" fill="rgb(85, 183, 250)"/><circle cx="1014.0" cy="457.0" r="2.5" fill="rgb(85, 183, 250)"/><circle cx="1008.6" cy="485.5" r="2.5" fill="rgb(85, 183, 250)"/><circle cx="977.5" cy="470.9" r="2.5" fill="rgb(86, 184, 250)"/><circle cx="1005.3" cy="418.6" r="2.5" fill="rgb(86, 184, 250)"/><circle cx="1006.3" cy="487.1" r="2.5" fill="rgb(86, 185, 250)"/><circle cx="967.0" cy="437.7" r="2.5" fill="rgb(86, 185, 250)"/><circle cx="968.7" cy="479.4" r="2.5" fill="rgb(86, 185, 250)"/><circle cx="981.1" cy="488.1" r="2.5" fill="rgb(86, 185, 250)"/><circle cx="1021.8" cy="576.3" r="2.5" fill="rgb(86, 185, 250)"/><circle cx="978.6" cy="491.1" r="2.5" fill="rgb(86, 186, 250)"/><circle cx="955.3" cy="406.9" r="2.5" fill="rgb(87, 188, 250)"/><circle cx="1005.6" cy="477.8" r="2.5" fill="rgb(87, 188, 250)"/><circle cx="1015.8" cy="483.8" r="2.5" fill="rgb(87, 188, 250)"/><circle cx="949.0" cy="430.3" r="2.5" fill="rgb(87, 189, 250)"/><circle cx="963.8" cy="431.0" r="2.5" fill="rgb(87, 189, 250)"/><circle cx="1005.0" cy="433.0" r="2.5" fill="rgb(87, 189, 250)"/><circle cx="949.1" cy="414.9" r="2.5" fill="rgb(87, 189, 250)"/><circle cx="976.0" cy="484.2" r="2.5" fill="rgb(87, 189, 250)"/><circle cx="1002.5" cy="491.0" r="2.5" fill="rgb(87, 190, 250)"/><circle cx="1000.0" cy="460.0" r="2.5" fill="rgb(87, 191, 250)"/><circle cx="967.0" cy="433.4" r="2.5" fill="rgb(87, 191, 250)"/><circle cx="1001.3" cy="424.9" r="2.5" fill="rgb(87, 191, 250)"/><circle cx="964.9" cy="410.6" r="2.5" fill="rgb(88, 192, 250)"/><circle cx="1027.0" cy="482.0" r="2.5" fill="rgb(88, 192, 250)"/><circle cx="1000.0" cy="464.4" r="2.5" fill="rgb(88, 192, 250)"/><circle cx="979.6" cy="491.3" r="2.5" fill="rgb(88, 193, 250)"/><circle cx="982.7" cy="466.7" r="2.5" fill="rgb(88, 194, 250)"/><circle cx="987.4" cy="418.5" r="2.5" fill="rgb(88, 194, 250)"/><circle cx="982.9" cy="484.1" r="2.5" fill="rgb(88, 194, 250)"/><circle cx="1008.3" cy="473.8" r="2.5" fill="rgb(88, 195, 250)"/><circle cx="1002.4" cy="423.1" r="2.5" fill="rgb(89, 196, 250)"/><circle cx="948.9" cy="418.2" r="2.5" fill="rgb(89, 197, 250)"/><circle cx="1002.6" cy="472.9" r="2.5" fill="rgb(89, 198, 250)"/><circle cx="999.8" cy="485.2" r="2.5" fill="rgb(89, 198, 250)"/><circle cx="980.3" cy="480.2" r="2.5" fill="rgb(89, 199, 250)"/><circle cx="981.2" cy="477.2" r="2.5" fill="rgb(90, 200, 249)"/><circle cx="986.5" cy="479.4" r="2.5" fill="rgb(90, 200, 249)"/><circle cx="961.7" cy="425.7" r="2.5" fill="rgb(90, 200, 249)"/><circle cx="1006.4" cy="489.7" r="2.5" fill="rgb(90, 201, 249)"/><circle cx="1013.6" cy="494.8" r="2.5" fill="rgb(90, 201, 249)"/><circle cx="989.0" cy="474.6" r="2.5" fill="rgb(90, 202, 249)"/><circle cx="980.8" cy="487.9" r="2.5" fill="rgb(90, 202, 249)"/><circle cx="1014.6" cy="416.3" r="2.5" fill="rgb(91, 203, 249)"/><circle cx="985.2" cy="491.2" r="2.5" fill="rgb(91, 204, 249)"/><circle cx="1018.8" cy="480.2" r="2.5" fill="rgb(91, 204, 249)"/><circle cx="944.6" cy="441.0" r="2.5" fill="rgb(91, 204, 249)"/><circle cx="999.4" cy="464.3" r="2.5" fill="rgb(92, 206, 249)"/><circle cx="1000.1" cy="482.1" r="2.5" fill="rgb(92, 206, 249)"/><circle cx="998.9" cy="430.6" r="2.5" fill="rgb(92, 207, 249)"/><circle cx="993.6" cy="468.6" r="2.5" fill="rgb(93, 207, 249)"/><circle cx="1021.8" cy="487.5" r="2.5" fill="rgb(93, 207, 249)"/><circle cx="1016.9" cy="486.0" r="2.5" fill="rgb(93, 208, 249)"/><circle cx="998.1" cy="484.6" r="2.5" fill="rgb(93, 209, 249)"/><circle cx="973.4" cy="477.4" r="2.5" fill="rgb(93, 209, 249)"/><circle cx="971.2" cy="433.3" r="2.5" fill="rgb(93, 209, 249)"/><circle cx="999.7" cy="486.5" r="2.5" fill="rgb(93, 209, 249)"/><circle cx="1013.6" cy="479.8" r="2.5" fill="rgb(94, 210, 248)"/><circle cx="957.3" cy="431.0" r="2.5" fill="rgb(94, 210, 248)"/><circle cx="950.3" cy="436.0" r="2.5" fill="rgb(94, 211, 248)"/><circle cx="1016.1" cy="485.7" r="2.5" fill="rgb(94, 211, 248)"/><circle cx="998.2" cy="464.0" r="2.5" fill="rgb(94, 211, 248)"/><circle cx="948.4" cy="444.6" r="2.5" fill="rgb(94, 212, 248)"/><circle cx="990.8" cy="465.4" r="2.5" fill="rgb(95, 213, 248)"/><circle cx="1003.5" cy="455.9" r="2.5" fill="rgb(96, 215, 248)"/><circle cx="1004.5" cy="494.8" r="2.5" fill="rgb(96, 215, 248)"/><circle cx="1004.1" cy="432.0" r="2.5" fill="rgb(96, 216, 248)"/><circle cx="1027.8" cy="481.1" r="2.5" fill="rgb(96, 216, 248)"/><circle cx="993.0" cy="471.8" r="2.5" fill="rgb(97, 217, 248)"/><circle cx="981.2" cy="478.0" r="2.5" fill="rgb(97, 217, 248)"/><circle cx="1012.9" cy="468.0" r="2.5" fill="rgb(97, 218, 248)"/><circle cx="973.6" cy="484.3" r="2.5" fill="rgb(97, 218, 248)"/><circle cx="999.3" cy="484.1" r="2.5" fill="rgb(97, 219, 248)"/><circle cx="1025.9" cy="577.8" r="2.5" fill="rgb(97, 219, 248)"/><circle cx="998.5" cy="476.6" r="2.5" fill="rgb(97, 219, 248)"/><circle cx="998.3" cy="466.2" r="2.5" fill="rgb(97, 219, 248)"/><circle cx="968.2" cy="409.4" r="2.5" fill="rgb(97, 219, 248)"/><circle cx="1000.7" cy="490.1" r="2.5" fill="rgb(98, 221, 247)"/><circle cx="1022.1" cy="482.7" r="2.5" fill="rgb(98, 222, 247)"/><circle cx="994.5" cy="483.4" r="2.5" fill="rgb(99, 222, 247)"/><circle cx="965.8" cy="480.8" r="2.5" fill="rgb(99, 223, 247)"/><circle cx="993.7" cy="470.0" r="2.5" fill="rgb(99, 223, 247)"/><circle cx="1011.2" cy="489.5" r="2.5" fill="rgb(99, 223, 247)"/><circle cx="1011.2" cy="463.3" r="2.5" fill="rgb(99, 224, 247)"/><circle cx="994.6" cy="481.9" r="2.5" fill="rgb(99, 224, 247)"/><circle cx="989.7" cy="489.7" r="2.5" fill="rgb(99, 224, 247)"/><circle cx="1017.1" cy="472.5" r="2.5" fill="rgb(100, 225, 247)"/><circle cx="1012.7" cy="452.4" r="2.5" fill="rgb(100, 225, 247)"/><circle cx="990.8" cy="487.6" r="2.5" fill="rgb(100, 226, 247)"/><circle cx="990.5" cy="478.8" r="2.5" fill="rgb(100, 227, 247)"/><circle cx="981.6" cy="482.7" r="2.5" fill="rgb(101, 227, 247)"/><circle cx="999.0" cy="465.7" r="2.5" fill="rgb(101, 228, 247)"/><circle cx="1005.2" cy="463.2" r="2.5" fill="rgb(101, 229, 247)"/><circle cx="1006.3" cy="492.2" r="2.5" fill="rgb(102, 230, 246)"/><circle cx="1030.3" cy="476.3" r="2.5" fill="rgb(102, 231, 246)"/><circle cx="1014.8" cy="481.1" r="2.5" fill="rgb(102, 231, 246)"/><circle cx="1004.4" cy="486.0" r="2.5" fill="rgb(102, 231, 246)"/><circle cx="996.7" cy="482.8" r="2.5" fill="rgb(102, 232, 246)"/><circle cx="995.7" cy="484.2" r="2.5" fill="rgb(103, 232, 246)"/><circle cx="987.1" cy="477.1" r="2.5" fill="rgb(103, 233, 246)"/><circle cx="1005.6" cy="475.2" r="2.5" fill="rgb(103, 234, 246)"/><circle cx="992.5" cy="488.8" r="2.5" fill="rgb(103, 234, 246)"/><circle cx="1000.6" cy="478.6" r="2.5" fill="rgb(103, 234, 246)"/><circle cx="984.9" cy="463.7" r="2.5" fill="rgb(103, 234, 246)"/><circle cx="979.7" cy="476.3" r="2.5" fill="rgb(104, 235, 246)"/><circle cx="1007.1" cy="471.1" r="2.5" fill="rgb(104, 235, 246)"/><circle cx="999.8" cy="482.9" r="2.5" fill="rgb(104, 235, 246)"/><circle cx="954.4" cy="427.1" r="2.5" fill="rgb(104, 236, 246)"/><circle cx="964.5" cy="425.7" r="2.5" fill="rgb(104, 236, 246)"/><circle cx="996.4" cy="473.3" r="2.5" fill="rgb(104, 236, 246)"/><circle cx="995.4" cy="471.7" r="2.5" fill="rgb(105, 238, 246)"/><circle cx="1010.3" cy="463.4" r="2.5" fill="rgb(105, 239, 246)"/><circle cx="980.5" cy="471.9" r="2.5" fill="rgb(105, 239, 246)"/><circle cx="999.9" cy="490.5" r="2.5" fill="rgb(105, 239, 246)"/><circle cx="980.5" cy="470.3" r="2.5" fill="rgb(106, 240, 245)"/><circle cx="1016.9" cy="476.6" r="2.5" fill="rgb(106, 241, 245)"/><circle cx="981.9" cy="441.3" r="2.5" fill="rgb(106, 241, 245)"/><circle cx="954.2" cy="420.2" r="2.5" fill="rgb(106, 241, 245)"/><circle cx="954.6" cy="411.5" r="2.5" fill="rgb(106, 242, 245)"/><circle cx="954.3" cy="411.8" r="2.5" fill="rgb(106, 242, 245)"/><circle cx="977.4" cy="489.0" r="2.5" fill="rgb(107, 244, 245)"/><circle cx="996.9" cy="490.8" r="2.5" fill="rgb(107, 244, 245)"/><circle cx="975.0" cy="486.3" r="2.5" fill="rgb(107, 244, 245)"/><circle cx="1004.0" cy="461.2" r="2.5" fill="rgb(108, 245, 245)"/><circle cx="1008.4" cy="477.2" r="2.5" fill="rgb(108, 246, 245)"/><circle cx="998.6" cy="469.4" r="2.5" fill="rgb(109, 249, 245)"/><circle cx="968.9" cy="486.3" r="2.5" fill="rgb(109, 249, 245)"/><circle cx="986.0" cy="486.9" r="2.5" fill="rgb(109, 249, 243)"/><circle cx="991.5" cy="485.5" r="2.5" fill="rgb(109, 249, 242)"/><circle cx="978.9" cy="480.1" r="2.5" fill="rgb(109, 249, 241)"/><circle cx="1009.2" cy="479.5" r="2.5" fill="rgb(109, 249, 241)"/><circle cx="1007.7" cy="475.0" r="2.5" fill="rgb(108, 249, 237)"/><circle cx="1006.0" cy="492.1" r="2.5" fill="rgb(108, 249, 236)"/><circle cx="964.7" cy="413.6" r="2.5" fill="rgb(107, 249, 233)"/><circle cx="1023.4" cy="479.3" r="2.5" fill="rgb(107, 249, 232)"/><circle cx="972.8" cy="416.2" r="2.5" fill="rgb(106, 249, 229)"/><circle cx="987.6" cy="462.2" r="2.5" fill="rgb(106, 249, 228)"/><circle cx="964.6" cy="413.9" r="2.5" fill="rgb(106, 249, 228)"/><circle cx="993.1" cy="489.7" r="2.5" fill="rgb(106, 249, 227)"/><circle cx="1025.3" cy="477.9" r="2.5" fill="rgb(106, 249, 227)"/><circle cx="1001.8" cy="485.6" r="2.5" fill="rgb(105, 248, 227)"/><circle cx="971.7" cy="416.1" r="2.5" fill="rgb(105, 248, 226)"/><circle cx="975.2" cy="488.1" r="2.5" fill="rgb(104, 248, 222)"/><circle cx="991.2" cy="440.3" r="2.5" fill="rgb(104, 248, 221)"/><circle cx="1007.0" cy="465.8" r="2.5" fill="rgb(104, 248, 218)"/><circle cx="1002.4" cy="461.5" r="2.5" fill="rgb(103, 248, 215)"/><circle cx="1027.4" cy="473.5" r="2.5" fill="rgb(103, 248, 214)"/><circle cx="1026.9" cy="473.1" r="2.5" fill="rgb(102, 248, 213)"/><circle cx="1024.5" cy="469.3" r="2.5" fill="rgb(102, 248, 212)"/><circle cx="1016.1" cy="490.6" r="2.5" fill="rgb(102, 248, 211)"/><circle cx="1024.5" cy="468.3" r="2.5" fill="rgb(102, 248, 211)"/><circle cx="968.7" cy="417.3" r="2.5" fill="rgb(102, 248, 210)"/><circle cx="986.3" cy="448.9" r="2.5" fill="rgb(102, 248, 210)"/><circle cx="1003.2" cy="488.5" r="2.5" fill="rgb(101, 247, 209)"/><circle cx="981.7" cy="484.7" r="2.5" fill="rgb(101, 247, 207)"/><circle cx="986.4" cy="448.8" r="2.5" fill="rgb(101, 247, 207)"/><circle cx="982.3" cy="482.9" r="2.5" fill="rgb(101, 247, 206)"/><circle cx="986.1" cy="440.2" r="2.5" fill="rgb(100, 247, 204)"/><circle cx="999.2" cy="485.7" r="2.5" fill="rgb(100, 247, 204)"/><circle cx="1015.1" cy="483.7" r="2.5" fill="rgb(100, 247, 203)"/><circle cx="971.3" cy="417.0" r="2.5" fill="rgb(100, 247, 202)"/><circle cx="957.6" cy="412.0" r="2.5" fill="rgb(100, 247, 202)"/><circle cx="1013.6" cy="478.0" r="2.5" fill="rgb(99, 247, 199)"/><circle cx="985.0" cy="447.7" r="2.5" fill="rgb(99, 247, 198)"/><circle cx="968.8" cy="488.4" r="2.5" fill="rgb(99, 247, 197)"/><circle cx="1012.9" cy="481.3" r="2.5" fill="rgb(99, 247, 197)"/><circle cx="972.7" cy="487.7" r="2.5" fill="rgb(98, 247, 193)"/><circle cx="1025.1" cy="468.2" r="2.5" fill="rgb(98, 247, 192)"/><circle cx="963.4" cy="414.3" r="2.5" fill="rgb(97, 246, 192)"/><circle cx="1009.5" cy="485.3" r="2.5" fill="rgb(97, 246, 190)"/><circle cx="995.4" cy="465.1" r="2.5" fill="rgb(97, 246, 188)"/><circle cx="1033.1" cy="473.0" r="2.5" fill="rgb(96, 246, 187)"/><circle cx="962.2" cy="413.0" r="2.5" fill="rgb(96, 246, 186)"/><circle cx="993.8" cy="472.7" r="2.5" fill="rgb(95, 246, 182)"/><circle cx="998.9" cy="491.7" r="2.5" fill="rgb(95, 246, 179)"/><circle cx="984.5" cy="445.7" r="2.5" fill="rgb(94, 246, 179)"/><circle cx="1027.4" cy="472.0" r="2.5" fill="rgb(94, 246, 178)"/><circle cx="955.9" cy="416.0" r="2.5" fill="rgb(94, 246, 177)"/><circle cx="961.2" cy="419.2" r="2.5" fill="rgb(94, 246, 175)"/><circle cx="1022.9" cy="485.7" r="2.5" fill="rgb(93, 245, 174)"/><circle cx="956.2" cy="415.9" r="2.5" fill="rgb(92, 245, 170)"/><circle cx="1032.6" cy="472.6" r="2.5" fill="rgb(92, 245, 168)"/><circle cx="967.9" cy="426.2" r="2.5" fill="rgb(92, 245, 167)"/><circle cx="1017.1" cy="476.3" r="2.5" fill="rgb(92, 245, 166)"/><circle cx="962.1" cy="463.2" r="2.5" fill="rgb(91, 245, 164)"/><circle cx="1008.1" cy="482.3" r="2.5" fill="rgb(91, 245, 163)"/><circle cx="1011.4" cy="487.5" r="2.5" fill="rgb(91, 245, 163)"/><circle cx="967.9" cy="420.0" r="2.5" fill="rgb(91, 245, 162)"/><circle cx="1009.6" cy="489.0" r="2.5" fill="rgb(90, 245, 161)"/><circle cx="969.1" cy="426.8" r="2.5" fill="rgb(90, 245, 157)"/><circle cx="975.7" cy="424.2" r="2.5" fill="rgb(89, 244, 154)"/><circle cx="989.6" cy="474.5" r="2.5" fill="rgb(88, 244, 151)"/><circle cx="982.6" cy="472.0" r="2.5" fill="rgb(88, 244, 151)"/><circle cx="989.0" cy="441.8" r="2.5" fill="rgb(88, 244, 151)"/><circle cx="990.3" cy="445.9" r="2.5" fill="rgb(88, 244, 150)"/><circle cx="968.2" cy="420.6" r="2.5" fill="rgb(87, 244, 146)"/><circle cx="1010.8" cy="485.5" r="2.5" fill="rgb(87, 244, 145)"/><circle cx="990.2" cy="445.5" r="2.5" fill="rgb(86, 244, 141)"/><circle cx="1004.6" cy="482.2" r="2.5" fill="rgb(86, 244, 141)"/><circle cx="1007.8" cy="492.2" r="2.5" fill="rgb(86, 244, 141)"/><circle cx="975.4" cy="423.5" r="2.5" fill="rgb(86, 244, 140)"/><circle cx="1004.8" cy="491.2" r="2.5" fill="rgb(85, 243, 138)"/><circle cx="987.1" cy="442.3" r="2.5" fill="rgb(85, 243, 137)"/><circle cx="960.7" cy="414.0" r="2.5" fill="rgb(85, 243, 136)"/><circle cx="1028.0" cy="470.5" r="2.5" fill="rgb(85, 243, 135)"/><circle cx="978.5" cy="430.4" r="2.5" fill="rgb(83, 243, 127)"/><circle cx="989.3" cy="429.1" r="2.5" fill="rgb(83, 243, 126)"/><circle cx="960.8" cy="417.5" r="2.5" fill="rgb(82, 243, 125)"/><circle cx="959.2" cy="414.2" r="2.5" fill="rgb(82, 243, 124)"/><circle cx="1009.4" cy="488.8" r="2.5" fill="rgb(82, 243, 122)"/><circle cx="974.7" cy="422.3" r="2.5" fill="rgb(81, 242, 121)"/><circle cx="977.2" cy="422.9" r="2.5" fill="rgb(81, 242, 119)"/><circle cx="986.3" cy="419.4" r="2.5" fill="rgb(81, 242, 119)"/><circle cx="986.5" cy="445.0" r="2.5" fill="rgb(81, 242, 118)"/><circle cx="1005.6" cy="473.3" r="2.5" fill="rgb(80, 242, 116)"/><circle cx="960.9" cy="416.2" r="2.5" fill="rgb(78, 242, 109)"/><circle cx="1026.9" cy="468.4" r="2.5" fill="rgb(78, 242, 108)"/><circle cx="1035.3" cy="467.1" r="2.5" fill="rgb(75, 241, 94)"/><circle cx="959.7" cy="415.4" r="2.5" fill="rgb(73, 240, 87)"/><circle cx="1005.2" cy="487.5" r="2.5" fill="rgb(73, 240, 86)"/><circle cx="984.6" cy="420.0" r="2.5" fill="rgb(73, 240, 86)"/><circle cx="1029.1" cy="469.0" r="2.5" fill="rgb(72, 240, 83)"/><circle cx="984.3" cy="420.2" r="2.5" fill="rgb(71, 240, 77)"/><circle cx="970.4" cy="421.9" r="2.5" fill="rgb(70, 240, 72)"/><circle cx="1012.9" cy="473.6" r="2.5" fill="rgb(70, 240, 71)"/><circle cx="1001.1" cy="478.0" r="2.5" fill="rgb(74, 240, 69)"/><circle cx="967.2" cy="462.2" r="2.5" fill="rgb(75, 240, 69)"/><circle cx="978.9" cy="425.2" r="2.5" fill="rgb(83, 240, 68)"/><circle cx="972.4" cy="422.9" r="2.5" fill="rgb(83, 240, 68)"/><circle cx="996.2" cy="474.7" r="2.5" fill="rgb(85, 240, 68)"/><circle cx="1034.9" cy="464.4" r="2.5" fill="rgb(89, 240, 68)"/><circle cx="986.8" cy="424.8" r="2.5" fill="rgb(107, 241, 66)"/><circle cx="1033.0" cy="460.8" r="2.5" fill="rgb(107, 241, 66)"/><circle cx="975.3" cy="492.2" r="2.5" fill="rgb(118, 242, 65)"/><circle cx="991.4" cy="463.2" r="2.5" fill="rgb(120, 242, 65)"/><circle cx="965.1" cy="489.9" r="2.5" fill="rgb(123, 242, 65)"/><circle cx="963.4" cy="492.4" r="2.5" fill="rgb(131, 242, 64)"/><circle cx="987.3" cy="451.8" r="2.5" fill="rgb(135, 242, 64)"/><circle cx="987.0" cy="460.1" r="2.5" fill="rgb(141, 242, 64)"/><circle cx="966.0" cy="500.3" r="2.5" fill="rgb(146, 243, 63)"/><circle cx="992.6" cy="462.0" r="2.5" fill="rgb(146, 243, 63)"/><circle cx="984.6" cy="424.3" r="2.5" fill="rgb(150, 243, 63)"/><circle cx="1030.9" cy="461.8" r="2.5" fill="rgb(150, 243, 63)"/><circle cx="984.5" cy="424.4" r="2.5" fill="rgb(154, 243, 62)"/><circle cx="995.9" cy="459.8" r="2.5" fill="rgb(155, 243, 62)"/><circle cx="1032.1" cy="463.6" r="2.5" fill="rgb(157, 243, 62)"/><circle cx="992.8" cy="451.1" r="2.5" fill="rgb(158, 243, 62)"/><circle cx="989.8" cy="461.2" r="2.5" fill="rgb(160, 243, 62)"/><circle cx="996.8" cy="456.1" r="2.5" fill="rgb(163, 243, 62)"/><circle cx="965.5" cy="498.8" r="2.5" fill="rgb(167, 244, 61)"/><circle cx="965.5" cy="492.2" r="2.5" fill="rgb(170, 244, 61)"/><circle cx="966.2" cy="491.7" r="2.5" fill="rgb(173, 244, 61)"/><circle cx="1022.8" cy="465.4" r="2.5" fill="rgb(178, 244, 60)"/><circle cx="1023.2" cy="465.1" r="2.5" fill="rgb(184, 244, 60)"/><circle cx="1015.3" cy="455.8" r="2.5" fill="rgb(187, 244, 60)"/><circle cx="966.4" cy="492.4" r="2.5" fill="rgb(188, 244, 60)"/><circle cx="1015.1" cy="456.6" r="2.5" fill="rgb(190, 244, 59)"/><circle cx="967.7" cy="491.9" r="2.5" fill="rgb(192, 243, 59)"/><circle cx="1024.1" cy="463.9" r="2.5" fill="rgb(196, 239, 58)"/><circle cx="990.4" cy="459.6" r="2.5" fill="rgb(196, 239, 58)"/><circle cx="1021.8" cy="464.0" r="2.5" fill="rgb(203, 232, 57)"/><circle cx="1016.0" cy="457.8" r="2.5" fill="rgb(204, 232, 57)"/><circle cx="1025.9" cy="456.8" r="2.5" fill="rgb(209, 227, 56)"/><circle cx="966.9" cy="495.5" r="2.5" fill="rgb(211, 225, 55)"/><circle cx="971.9" cy="408.5" r="2.5" fill="rgb(215, 222, 54)"/><circle cx="1025.8" cy="458.9" r="2.5" fill="rgb(215, 222, 54)"/><circle cx="972.2" cy="403.8" r="2.5" fill="rgb(215, 221, 54)"/><circle cx="1018.0" cy="461.5" r="2.5" fill="rgb(216, 221, 54)"/><circle cx="984.2" cy="402.4" r="2.5" fill="rgb(216, 221, 54)"/><circle cx="979.1" cy="413.1" r="2.5" fill="rgb(217, 219, 54)"/><circle cx="1020.2" cy="462.7" r="2.5" fill="rgb(218, 219, 54)"/><circle cx="962.2" cy="472.6" r="2.5" fill="rgb(218, 219, 54)"/><circle cx="973.2" cy="473.4" r="2.5" fill="rgb(219, 218, 54)"/><circle cx="962.4" cy="465.8" r="2.5" fill="rgb(220, 217, 53)"/><circle cx="985.2" cy="406.8" r="2.5" fill="rgb(220, 217, 53)"/><circle cx="990.8" cy="457.6" r="2.5" fill="rgb(220, 217, 53)"/><circle cx="961.5" cy="469.6" r="2.5" fill="rgb(221, 216, 53)"/><circle cx="972.2" cy="464.5" r="2.5" fill="rgb(222, 215, 53)"/><circle cx="991.8" cy="454.9" r="2.5" fill="rgb(222, 215, 53)"/><circle cx="970.6" cy="475.1" r="2.5" fill="rgb(223, 215, 53)"/><circle cx="990.4" cy="456.3" r="2.5" fill="rgb(223, 214, 53)"/><circle cx="1021.0" cy="454.9" r="2.5" fill="rgb(224, 214, 53)"/><circle cx="980.9" cy="412.1" r="2.5" fill="rgb(225, 213, 52)"/><circle cx="973.8" cy="471.1" r="2.5" fill="rgb(226, 211, 52)"/><circle cx="991.4" cy="457.3" r="2.5" fill="rgb(226, 211, 52)"/><circle cx="984.0" cy="404.6" r="2.5" fill="rgb(231, 207, 51)"/><circle cx="967.1" cy="474.9" r="2.5" fill="rgb(231, 207, 51)"/><circle cx="977.0" cy="411.6" r="2.5" fill="rgb(234, 204, 51)"/><circle cx="974.2" cy="408.7" r="2.5" fill="rgb(240, 198, 49)"/><circle cx="1019.1" cy="459.3" r="2.5" fill="rgb(240, 195, 49)"/><circle cx="964.8" cy="465.7" r="2.5" fill="rgb(240, 194, 49)"/><circle cx="983.3" cy="406.4" r="2.5" fill="rgb(240, 191, 48)"/><circle cx="1019.3" cy="457.9" r="2.5" fill="rgb(240, 188, 48)"/><circle cx="1019.3" cy="458.1" r="2.5" fill="rgb(240, 185, 48)"/><circle cx="983.1" cy="407.1" r="2.5" fill="rgb(240, 185, 48)"/><circle cx="977.5" cy="410.3" r="2.5" fill="rgb(241, 172, 46)"/><circle cx="981.4" cy="407.4" r="2.5" fill="rgb(243, 140, 42)"/><circle cx="970.9" cy="469.5" r="2.5" fill="rgb(244, 137, 41)"/><circle cx="968.1" cy="467.2" r="2.5" fill="rgb(245, 111, 38)"/><circle cx="966.5" cy="468.3" r="2.5" fill="rgb(246, 103, 37)"/><circle cx="968.3" cy="469.9" r="2.5" fill="rgb(248, 70, 32)"/></g><g fill="none" stroke="#000" stroke-width="3.8" stroke-linejoin="round" stroke-linecap="round"><path d="M973.6,392.0 C974.1,396.7 975.5,412.0 976.7,420.0 C977.9,428.0 979.5,434.2 981.0,440.0 C982.5,445.8 984.0,448.3 986.0,455.0 C988.0,461.7 990.0,471.3 993.0,480.0 C996.0,488.7 999.4,496.9 1004.0,507.0 C1008.6,517.1 1014.8,528.9 1020.6,540.6 C1026.4,552.3 1032.2,564.9 1038.8,577.0 C1045.4,589.1 1052.4,601.7 1060.0,613.3 C1067.6,624.9 1075.6,635.8 1084.2,646.7 C1092.8,657.6 1107.0,673.2 1111.5,678.5"/><path d="M1017.6,397.4 C1018.2,401.7 1019.5,414.0 1021.3,423.0 C1023.1,432.0 1025.6,441.6 1028.4,451.5 C1031.2,461.4 1034.2,471.0 1038.0,482.3 C1041.8,493.6 1045.7,506.6 1050.9,519.4 C1056.1,532.1 1062.4,546.2 1069.0,558.8 C1075.6,571.4 1083.2,584.1 1090.3,595.2 C1097.4,606.3 1104.7,615.8 1111.5,625.5 C1118.3,635.2 1124.1,644.0 1131.2,653.3 C1138.3,662.6 1150.2,676.8 1154.0,681.5"/><path d="M1059.2,315.6 C1068,400 1110,500 1196.4,601.8"/><path d="M1059.2,315.6 C1035,333 1000,358 979.7,376.2 C975,381 973.6,386 973.6,392 C985,397 1000,401 1017.6,397.4"/><path d="M1196.4,601.8 L1131.2,653.3"/><path d="M1111.5,678.5 C1125,684 1142,685 1154,681.5"/></g><path d="M1111.5,678.5 C1114,668 1121,659 1131.2,653.3" fill="none" stroke="#000" stroke-width="1.6" stroke-dasharray="3 2.5"/><line x1="729" y1="281" x2="729" y2="380" stroke="#000" stroke-width="2.2"/><line x1="729" y1="378" x2="729" y2="701.5" stroke="#111" stroke-width="1.4"/><line x1="728.3" y1="701" x2="1339.5" y2="701" stroke="#111" stroke-width="1.6"/><line x1="1339.5" y1="305" x2="1339.5" y2="482" stroke="#000" stroke-width="2.2"/><line x1="1339.5" y1="480" x2="1339.5" y2="701.5" stroke="#222" stroke-width="1.3"/><line x1="722" y1="334.5" x2="729" y2="334.5" stroke="#111" stroke-width="1.4"/><text x="720.5" y="341.7" text-anchor="end" font-family="'Liberation Serif', serif" font-size="21.5" fill="#111">9</text><line x1="722" y1="390.5" x2="729" y2="390.5" stroke="#111" stroke-width="1.4"/><text x="720.5" y="397.7" text-anchor="end" font-family="'Liberation Serif', serif" font-size="21.5" fill="#111">10</text><line x1="722" y1="446.5" x2="729" y2="446.5" stroke="#111" stroke-width="1.4"/><text x="720.5" y="453.7" text-anchor="end" font-family="'Liberation Serif', serif" font-size="21.5" fill="#111">11</text><line x1="722" y1="502.6" x2="729" y2="502.6" stroke="#111" stroke-width="1.4"/><text x="720.5" y="509.8" text-anchor="end" font-family="'Liberation Serif', serif" font-size="21.5" fill="#111">12</text><line x1="722" y1="558.6" x2="729" y2="558.6" stroke="#111" stroke-width="1.4"/><text x="720.5" y="565.8" text-anchor="end" font-family="'Liberation Serif', serif" font-size="21.5" fill="#111">13</text><line x1="722" y1="614.6" x2="729" y2="614.6" stroke="#111" stroke-width="1.4"/><text x="720.5" y="621.8" text-anchor="end" font-family="'Liberation Serif', serif" font-size="21.5" fill="#111">14</text><line x1="722" y1="670.6" x2="729" y2="670.6" stroke="#111" stroke-width="1.4"/><text x="720.5" y="677.8" text-anchor="end" font-family="'Liberation Serif', serif" font-size="21.5" fill="#111">15</text><line x1="725" y1="362.5" x2="729" y2="362.5" stroke="#111" stroke-width="1.3"/><line x1="725" y1="418.5" x2="729" y2="418.5" stroke="#111" stroke-width="1.3"/><line x1="725" y1="474.6" x2="729" y2="474.6" stroke="#111" stroke-width="1.3"/><line x1="725" y1="530.6" x2="729" y2="530.6" stroke="#111" stroke-width="1.3"/><line x1="725" y1="586.6" x2="729" y2="586.6" stroke="#111" stroke-width="1.3"/><line x1="725" y1="642.6" x2="729" y2="642.6" stroke="#111" stroke-width="1.3"/><line x1="725" y1="698.6" x2="729" y2="698.6" stroke="#111" stroke-width="1.3"/><line x1="728.8" y1="701" x2="728.8" y2="707.7" stroke="#111" stroke-width="1.4"/><text x="732.6" y="726.5" text-anchor="middle" font-family="'Liberation Serif', serif" font-size="21.5" fill="#111">0</text><line x1="765.4" y1="701" x2="765.4" y2="704.8" stroke="#111" stroke-width="1.3"/><line x1="802.0" y1="701" x2="802.0" y2="707.7" stroke="#111" stroke-width="1.4"/><text x="806.0" y="726.5" text-anchor="middle" font-family="'Liberation Serif', serif" font-size="21.5" fill="#111">2</text><line x1="838.6" y1="701" x2="838.6" y2="704.8" stroke="#111" stroke-width="1.3"/><line x1="875.2" y1="701" x2="875.2" y2="707.7" stroke="#111" stroke-width="1.4"/><text x="879.4" y="726.5" text-anchor="middle" font-family="'Liberation Serif', serif" font-size="21.5" fill="#111">4</text><line x1="911.8" y1="701" x2="911.8" y2="704.8" stroke="#111" stroke-width="1.3"/><line x1="948.4" y1="701" x2="948.4" y2="707.7" stroke="#111" stroke-width="1.4"/><text x="952.8" y="726.5" text-anchor="middle" font-family="'Liberation Serif', serif" font-size="21.5" fill="#111">6</text><line x1="985.0" y1="701" x2="985.0" y2="704.8" stroke="#111" stroke-width="1.3"/><line x1="1021.6" y1="701" x2="1021.6" y2="707.7" stroke="#111" stroke-width="1.4"/><text x="1026.2" y="726.5" text-anchor="middle" font-family="'Liberation Serif', serif" font-size="21.5" fill="#111">8</text><line x1="1058.2" y1="701" x2="1058.2" y2="704.8" stroke="#111" stroke-width="1.3"/><line x1="1094.8" y1="701" x2="1094.8" y2="707.7" stroke="#111" stroke-width="1.4"/><text x="1099.6" y="726.5" text-anchor="middle" font-family="'Liberation Serif', serif" font-size="21.5" fill="#111">10</text><line x1="1131.4" y1="701" x2="1131.4" y2="704.8" stroke="#111" stroke-width="1.3"/><line x1="1168.0" y1="701" x2="1168.0" y2="707.7" stroke="#111" stroke-width="1.4"/><text x="1173.0" y="726.5" text-anchor="middle" font-family="'Liberation Serif', serif" font-size="21.5" fill="#111">12</text><line x1="1204.6" y1="701" x2="1204.6" y2="704.8" stroke="#111" stroke-width="1.3"/><line x1="1241.2" y1="701" x2="1241.2" y2="707.7" stroke="#111" stroke-width="1.4"/><text x="1246.4" y="726.5" text-anchor="middle" font-family="'Liberation Serif', serif" font-size="21.5" fill="#111">14</text><line x1="1277.8" y1="701" x2="1277.8" y2="704.8" stroke="#111" stroke-width="1.3"/><line x1="1314.4" y1="701" x2="1314.4" y2="707.7" stroke="#111" stroke-width="1.4"/><text x="1319.8" y="726.5" text-anchor="middle" font-family="'Liberation Serif', serif" font-size="21.5" fill="#111">16</text><text transform="translate(689,490.4) rotate(-90)" text-anchor="middle" font-family="'Liberation Serif', serif" font-size="21.5" fill="#111">Depth/km</text><text x="988.2" y="748.3" font-family="'Liberation Serif', serif" font-size="21.5" fill="#111">Distance/km</text><linearGradient id="cbg" x1="0" x2="0" y1="1" y2="0"><stop offset="0" stop-color="rgb(170, 30, 245)"/><stop offset="0.1" stop-color="rgb(110, 20, 240)"/><stop offset="0.18" stop-color="rgb(50, 20, 240)"/><stop offset="0.28" stop-color="rgb(70, 110, 250)"/><stop offset="0.34" stop-color="rgb(80, 170, 250)"/><stop offset="0.42" stop-color="rgb(100, 250, 250)"/><stop offset="0.5" stop-color="rgb(60, 240, 100)"/><stop offset="0.57" stop-color="rgb(60, 240, 50)"/><stop offset="0.66" stop-color="rgb(140, 240, 60)"/><stop offset="0.72" stop-color="rgb(235, 242, 60)"/><stop offset="0.77" stop-color="rgb(230, 190, 60)"/><stop offset="0.83" stop-color="rgb(235, 130, 50)"/><stop offset="0.9" stop-color="rgb(245, 80, 40)"/><stop offset="1" stop-color="rgb(255, 35, 30)"/></linearGradient><rect x="1342.3" y="318" width="20.3" height="383" fill="url(#cbg)"/><text transform="translate(1378.6,587) rotate(-90)" font-family="'Liberation Serif', serif" font-size="21.1" fill="#111">Increasing Density</text><line x1="1372" y1="419" x2="1372" y2="406" stroke="#111" stroke-width="1.2"/><polygon points="1372,402.5 1369.5,408 1374.5,408" fill="#111"/>
</svg></body></html>
